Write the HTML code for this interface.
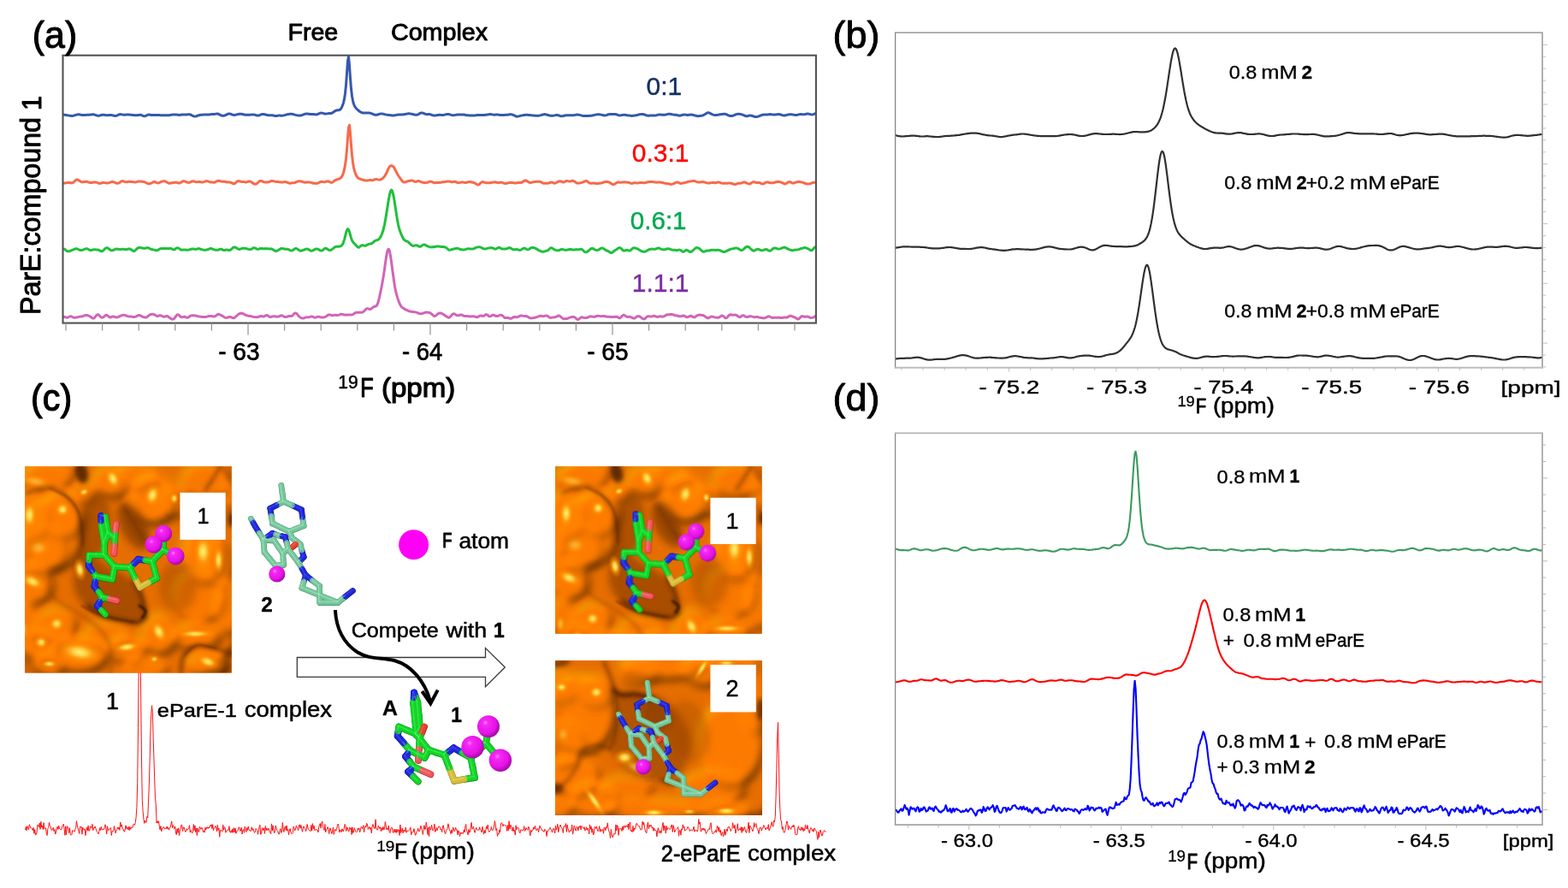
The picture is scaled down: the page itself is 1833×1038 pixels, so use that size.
<!DOCTYPE html>
<html lang="en"><head><meta charset="utf-8"><title>19F NMR figure</title>
<style>
html,body{margin:0;padding:0;background:#fff;}
body{width:1833px;height:1038px;overflow:hidden;font-family:"Liberation Sans",Arial,sans-serif;}
svg{display:block;position:absolute;left:0;top:0;}
</style></head><body>
<svg width="1833" height="1038" viewBox="0 0 1833 1038">
<rect x="0" y="0" width="1833" height="1038" fill="#ffffff"/>
<g id="panel-a">
<polyline points="73.5,133.9 74.5,134.0 75.5,134.2 76.5,134.4 77.5,134.5 78.5,134.7 79.5,134.9 80.5,135.1 81.5,135.2 82.5,135.3 83.5,135.4 84.5,135.4 85.5,135.3 86.5,135.1 87.5,134.7 88.5,134.4 89.5,134.1 90.5,133.9 91.5,133.8 92.5,133.8 93.5,134.0 94.5,134.2 95.5,134.4 96.5,134.5 97.5,134.6 98.5,134.6 99.5,134.5 100.5,134.4 101.5,134.2 102.5,134.2 103.5,134.2 104.5,134.2 105.5,134.1 106.5,134.0 107.5,133.9 108.5,133.8 109.5,133.8 110.5,134.1 111.5,134.4 112.5,134.8 113.5,135.1 114.5,135.3 115.5,135.3 116.5,135.1 117.5,134.8 118.5,134.5 119.5,134.3 120.5,134.2 121.5,134.3 122.5,134.4 123.5,134.5 124.5,134.7 125.5,134.7 126.5,134.7 127.5,134.6 128.5,134.6 129.5,134.5 130.5,134.6 131.5,134.8 132.5,135.1 133.5,135.3 134.5,135.5 135.5,135.4 136.5,135.1 137.5,134.7 138.5,134.2 139.5,133.8 140.5,133.6 141.5,133.7 142.5,133.9 143.5,134.1 144.5,134.2 145.5,134.3 146.5,134.2 147.5,134.1 148.5,134.0 149.5,134.0 150.5,134.0 151.5,134.1 152.5,134.2 153.5,134.3 154.5,134.4 155.5,134.5 156.5,134.6 157.5,134.7 158.5,134.8 159.5,134.8 160.5,134.7 161.5,134.5 162.5,134.4 163.5,134.3 164.5,134.3 165.5,134.6 166.5,135.1 167.5,135.5 168.5,135.8 169.5,135.7 170.5,135.3 171.5,134.8 172.5,134.4 173.5,134.1 174.5,134.1 175.5,134.2 176.5,134.5 177.5,134.6 178.5,134.6 179.5,134.6 180.5,134.5 181.5,134.4 182.5,134.4 183.5,134.5 184.5,134.5 185.5,134.5 186.5,134.6 187.5,134.7 188.5,134.7 189.5,134.8 190.5,134.8 191.5,134.8 192.5,134.7 193.5,134.7 194.5,134.7 195.5,134.8 196.5,134.8 197.5,134.7 198.5,134.5 199.5,134.4 200.5,134.2 201.5,134.1 202.5,134.0 203.5,134.0 204.5,134.0 205.5,134.0 206.5,134.1 207.5,134.2 208.5,134.3 209.5,134.4 210.5,134.4 211.5,134.2 212.5,134.0 213.5,133.9 214.5,133.9 215.5,133.9 216.5,133.9 217.5,133.9 218.5,133.9 219.5,133.8 220.5,133.7 221.5,133.7 222.5,134.0 223.5,134.4 224.5,135.0 225.5,135.5 226.5,135.9 227.5,136.1 228.5,136.1 229.5,135.9 230.5,135.5 231.5,135.0 232.5,134.7 233.5,134.5 234.5,134.3 235.5,134.3 236.5,134.2 237.5,134.1 238.5,134.1 239.5,134.1 240.5,134.1 241.5,134.1 242.5,134.1 243.5,134.0 244.5,133.9 245.5,133.8 246.5,133.6 247.5,133.6 248.5,133.6 249.5,133.5 250.5,133.4 251.5,133.3 252.5,133.1 253.5,132.9 254.5,133.0 255.5,133.3 256.5,133.8 257.5,134.3 258.5,134.9 259.5,135.2 260.5,135.3 261.5,135.3 262.5,135.0 263.5,134.7 264.5,134.2 265.5,133.6 266.5,133.2 267.5,132.9 268.5,132.9 269.5,133.2 270.5,133.6 271.5,134.0 272.5,134.3 273.5,134.4 274.5,134.4 275.5,134.2 276.5,133.9 277.5,133.7 278.5,133.5 279.5,133.3 280.5,133.2 281.5,133.2 282.5,133.3 283.5,133.5 284.5,133.8 285.5,134.0 286.5,134.2 287.5,134.3 288.5,134.3 289.5,134.3 290.5,134.3 291.5,134.3 292.5,134.3 293.5,134.1 294.5,134.0 295.5,133.9 296.5,134.0 297.5,134.1 298.5,134.4 299.5,134.8 300.5,135.1 301.5,135.1 302.5,135.0 303.5,134.6 304.5,134.2 305.5,133.8 306.5,133.5 307.5,133.5 308.5,133.5 309.5,133.7 310.5,134.0 311.5,134.3 312.5,134.5 313.5,134.7 314.5,134.8 315.5,134.8 316.5,134.7 317.5,134.7 318.5,134.8 319.5,135.0 320.5,135.3 321.5,135.5 322.5,135.6 323.5,135.5 324.5,135.3 325.5,135.1 326.5,135.0 327.5,135.0 328.5,135.2 329.5,135.2 330.5,135.1 331.5,134.9 332.5,134.7 333.5,134.4 334.5,134.1 335.5,133.8 336.5,133.6 337.5,133.4 338.5,133.3 339.5,133.2 340.5,133.2 341.5,133.3 342.5,133.5 343.5,133.9 344.5,134.1 345.5,134.4 346.5,134.6 347.5,134.8 348.5,134.9 349.5,135.0 350.5,135.0 351.5,135.0 352.5,134.8 353.5,134.4 354.5,134.0 355.5,133.6 356.5,133.3 357.5,133.1 358.5,133.0 359.5,133.1 360.5,133.2 361.5,133.3 362.5,133.4 363.5,133.4 364.5,133.4 365.5,133.4 366.5,133.5 367.5,133.7 368.5,133.8 369.5,133.9 370.5,133.8 371.5,133.4 372.5,133.0 373.5,132.5 374.5,132.1 375.5,131.9 376.5,132.1 377.5,132.4 378.5,132.7 379.5,133.0 380.5,133.1 381.5,133.1 382.5,132.9 383.5,132.7 384.5,132.6 385.5,132.6 386.5,132.5 387.5,132.4 388.5,131.9 389.5,131.3 390.5,130.5 391.5,129.8 392.5,129.3 393.5,129.0 394.5,128.8 395.5,128.8 396.5,128.6 397.5,128.1 398.5,127.1 399.5,125.5 400.5,123.2 401.5,120.1 402.5,115.7 403.5,109.2 404.5,99.4 405.5,85.6 406.5,71.0 407.5,66.2 408.5,76.3 409.5,91.5 410.5,103.8 411.5,112.2 412.5,117.8 413.5,121.5 414.5,123.9 415.5,125.6 416.5,126.8 417.5,127.8 418.5,128.7 419.5,129.5 420.5,130.3 421.5,131.0 422.5,131.5 423.5,131.8 424.5,132.0 425.5,132.1 426.5,132.1 427.5,132.1 428.5,132.0 429.5,131.9 430.5,131.9 431.5,131.9 432.5,132.1 433.5,132.4 434.5,132.8 435.5,133.2 436.5,133.6 437.5,134.0 438.5,134.3 439.5,134.3 440.5,134.2 441.5,134.0 442.5,133.6 443.5,133.3 444.5,133.1 445.5,132.9 446.5,132.9 447.5,133.1 448.5,133.3 449.5,133.6 450.5,133.9 451.5,134.1 452.5,134.2 453.5,134.4 454.5,134.5 455.5,134.6 456.5,134.7 457.5,134.8 458.5,135.0 459.5,135.0 460.5,135.0 461.5,134.8 462.5,134.6 463.5,134.4 464.5,134.2 465.5,134.1 466.5,134.0 467.5,134.0 468.5,133.9 469.5,133.9 470.5,133.9 471.5,133.8 472.5,133.7 473.5,133.5 474.5,133.3 475.5,133.1 476.5,132.9 477.5,132.8 478.5,132.8 479.5,132.9 480.5,133.1 481.5,133.3 482.5,133.5 483.5,133.7 484.5,134.0 485.5,134.2 486.5,134.3 487.5,134.2 488.5,133.8 489.5,133.3 490.5,132.7 491.5,132.2 492.5,131.9 493.5,131.9 494.5,132.2 495.5,132.6 496.5,133.0 497.5,133.4 498.5,133.6 499.5,133.7 500.5,133.6 501.5,133.5 502.5,133.6 503.5,133.9 504.5,134.3 505.5,134.6 506.5,134.9 507.5,135.0 508.5,135.0 509.5,134.9 510.5,134.7 511.5,134.5 512.5,134.4 513.5,134.3 514.5,134.3 515.5,134.4 516.5,134.5 517.5,134.5 518.5,134.4 519.5,134.2 520.5,133.9 521.5,133.7 522.5,133.4 523.5,133.4 524.5,133.5 525.5,133.8 526.5,134.1 527.5,134.4 528.5,134.6 529.5,134.8 530.5,134.8 531.5,134.6 532.5,134.4 533.5,134.2 534.5,134.1 535.5,134.1 536.5,134.1 537.5,134.1 538.5,134.0 539.5,134.0 540.5,133.9 541.5,133.9 542.5,134.0 543.5,134.3 544.5,134.5 545.5,134.7 546.5,134.8 547.5,134.8 548.5,134.9 549.5,134.9 550.5,134.9 551.5,134.9 552.5,135.0 553.5,135.1 554.5,135.0 555.5,134.9 556.5,134.7 557.5,134.5 558.5,134.4 559.5,134.4 560.5,134.4 561.5,134.4 562.5,134.5 563.5,134.5 564.5,134.6 565.5,134.5 566.5,134.4 567.5,134.3 568.5,134.2 569.5,134.0 570.5,133.9 571.5,133.7 572.5,133.5 573.5,133.6 574.5,133.7 575.5,133.9 576.5,134.1 577.5,134.2 578.5,134.2 579.5,134.1 580.5,134.1 581.5,134.0 582.5,134.1 583.5,134.3 584.5,134.5 585.5,134.6 586.5,134.6 587.5,134.5 588.5,134.4 589.5,134.4 590.5,134.3 591.5,134.3 592.5,134.2 593.5,134.2 594.5,134.0 595.5,133.8 596.5,133.7 597.5,133.7 598.5,133.9 599.5,134.2 600.5,134.6 601.5,135.2 602.5,135.6 603.5,136.0 604.5,136.2 605.5,136.1 606.5,135.9 607.5,135.6 608.5,135.3 609.5,135.1 610.5,134.9 611.5,134.7 612.5,134.5 613.5,134.4 614.5,134.3 615.5,134.3 616.5,134.3 617.5,134.4 618.5,134.5 619.5,134.6 620.5,134.7 621.5,134.8 622.5,134.9 623.5,135.0 624.5,135.1 625.5,135.2 626.5,135.2 627.5,135.2 628.5,135.2 629.5,135.2 630.5,135.1 631.5,134.9 632.5,134.6 633.5,134.3 634.5,134.0 635.5,133.8 636.5,133.6 637.5,133.7 638.5,133.9 639.5,134.2 640.5,134.5 641.5,134.8 642.5,135.1 643.5,135.3 644.5,135.3 645.5,135.3 646.5,135.3 647.5,135.1 648.5,134.9 649.5,134.6 650.5,134.5 651.5,134.5 652.5,134.7 653.5,135.0 654.5,135.4 655.5,135.7 656.5,135.8 657.5,135.7 658.5,135.5 659.5,135.2 660.5,135.0 661.5,134.8 662.5,134.7 663.5,134.7 664.5,134.7 665.5,134.7 666.5,134.8 667.5,134.8 668.5,134.8 669.5,134.8 670.5,134.7 671.5,134.6 672.5,134.4 673.5,134.2 674.5,134.1 675.5,134.1 676.5,134.2 677.5,134.4 678.5,134.6 679.5,134.9 680.5,135.2 681.5,135.4 682.5,135.5 683.5,135.5 684.5,135.6 685.5,135.6 686.5,135.6 687.5,135.5 688.5,135.5 689.5,135.3 690.5,135.2 691.5,135.2 692.5,135.0 693.5,134.8 694.5,134.6 695.5,134.3 696.5,134.1 697.5,133.9 698.5,133.7 699.5,133.7 700.5,133.7 701.5,133.9 702.5,134.1 703.5,134.3 704.5,134.5 705.5,134.8 706.5,134.9 707.5,134.9 708.5,134.7 709.5,134.4 710.5,134.0 711.5,133.7 712.5,133.5 713.5,133.4 714.5,133.4 715.5,133.4 716.5,133.4 717.5,133.4 718.5,133.4 719.5,133.5 720.5,133.8 721.5,134.1 722.5,134.5 723.5,134.8 724.5,134.9 725.5,134.8 726.5,134.6 727.5,134.4 728.5,134.3 729.5,134.2 730.5,134.3 731.5,134.5 732.5,134.6 733.5,134.8 734.5,134.9 735.5,135.0 736.5,135.1 737.5,135.3 738.5,135.4 739.5,135.3 740.5,135.3 741.5,135.1 742.5,135.0 743.5,134.8 744.5,134.6 745.5,134.3 746.5,134.1 747.5,133.8 748.5,133.6 749.5,133.4 750.5,133.4 751.5,133.5 752.5,133.7 753.5,134.0 754.5,134.4 755.5,134.8 756.5,135.1 757.5,135.3 758.5,135.2 759.5,135.1 760.5,135.1 761.5,135.0 762.5,135.0 763.5,135.0 764.5,135.0 765.5,135.0 766.5,134.9 767.5,134.7 768.5,134.4 769.5,134.1 770.5,134.1 771.5,134.1 772.5,134.1 773.5,134.2 774.5,134.3 775.5,134.3 776.5,134.3 777.5,134.2 778.5,133.9 779.5,133.7 780.5,133.4 781.5,133.2 782.5,133.2 783.5,133.3 784.5,133.5 785.5,133.7 786.5,133.9 787.5,134.1 788.5,134.2 789.5,134.3 790.5,134.3 791.5,134.6 792.5,134.8 793.5,135.1 794.5,135.2 795.5,135.1 796.5,134.8 797.5,134.5 798.5,134.2 799.5,134.1 800.5,134.1 801.5,134.2 802.5,134.3 803.5,134.4 804.5,134.4 805.5,134.3 806.5,134.2 807.5,134.1 808.5,134.1 809.5,134.2 810.5,134.5 811.5,134.8 812.5,135.0 813.5,135.3 814.5,135.5 815.5,135.7 816.5,135.7 817.5,135.6 818.5,135.5 819.5,135.3 820.5,135.2 821.5,134.9 822.5,134.5 823.5,134.0 824.5,133.3 825.5,132.7 826.5,132.1 827.5,131.8 828.5,131.8 829.5,132.1 830.5,132.6 831.5,133.2 832.5,133.7 833.5,134.1 834.5,134.4 835.5,134.6 836.5,134.6 837.5,134.5 838.5,134.4 839.5,134.2 840.5,134.0 841.5,133.8 842.5,133.7 843.5,133.5 844.5,133.4 845.5,133.3 846.5,133.3 847.5,133.3 848.5,133.5 849.5,133.9 850.5,134.4 851.5,134.8 852.5,135.2 853.5,135.5 854.5,135.6 855.5,135.5 856.5,135.3 857.5,135.0 858.5,134.5 859.5,134.1 860.5,133.7 861.5,133.4 862.5,133.2 863.5,133.2 864.5,133.3 865.5,133.4 866.5,133.6 867.5,133.9 868.5,134.3 869.5,134.7 870.5,135.2 871.5,135.5 872.5,135.7 873.5,135.7 874.5,135.5 875.5,135.2 876.5,135.1 877.5,135.1 878.5,135.2 879.5,135.5 880.5,135.8 881.5,136.2 882.5,136.5 883.5,136.6 884.5,136.6 885.5,136.4 886.5,136.1 887.5,135.7 888.5,135.3 889.5,134.9 890.5,134.5 891.5,134.3 892.5,134.1 893.5,134.0 894.5,133.9 895.5,133.9 896.5,133.9 897.5,133.9 898.5,133.8 899.5,133.7 900.5,133.6 901.5,133.7 902.5,133.9 903.5,134.1 904.5,134.1 905.5,134.1 906.5,134.0 907.5,133.9 908.5,133.7 909.5,133.5 910.5,133.5 911.5,133.7 912.5,134.0 913.5,134.3 914.5,134.6 915.5,134.9 916.5,135.0 917.5,135.0 918.5,134.7 919.5,134.4 920.5,134.2 921.5,133.9 922.5,133.8 923.5,133.7 924.5,133.7 925.5,133.8 926.5,133.9 927.5,134.1 928.5,134.3 929.5,134.4 930.5,134.5 931.5,134.4 932.5,134.2 933.5,133.9 934.5,133.7 935.5,133.6 936.5,133.6 937.5,133.7 938.5,133.8 939.5,133.8 940.5,133.7 941.5,133.5 942.5,133.2 943.5,133.0 944.5,133.0 945.5,133.2 946.5,133.4 947.5,133.7 948.5,133.9 949.5,133.9 950.5,133.7 951.5,133.4 952.5,133.0 953.5,132.6" fill="none" stroke="#3558AF" stroke-width="3" stroke-linejoin="round" stroke-linecap="butt"/>
<polyline points="73.5,214.3 74.5,214.2 75.5,214.1 76.5,214.0 77.5,213.8 78.5,213.6 79.5,213.5 80.5,213.4 81.5,213.5 82.5,213.7 83.5,213.9 84.5,213.8 85.5,213.4 86.5,212.5 87.5,211.5 88.5,210.6 89.5,210.0 90.5,209.9 91.5,210.3 92.5,211.1 93.5,211.8 94.5,212.4 95.5,212.8 96.5,212.8 97.5,212.7 98.5,212.5 99.5,212.4 100.5,212.3 101.5,212.3 102.5,212.6 103.5,213.0 104.5,213.3 105.5,213.5 106.5,213.6 107.5,213.6 108.5,213.3 109.5,213.1 110.5,213.0 111.5,213.0 112.5,213.1 113.5,213.4 114.5,213.8 115.5,214.3 116.5,214.4 117.5,214.3 118.5,214.0 119.5,213.6 120.5,213.4 121.5,213.4 122.5,213.6 123.5,213.8 124.5,214.0 125.5,214.0 126.5,213.9 127.5,213.6 128.5,213.3 129.5,212.9 130.5,212.6 131.5,212.5 132.5,212.7 133.5,213.0 134.5,213.4 135.5,213.9 136.5,214.2 137.5,214.2 138.5,214.0 139.5,213.6 140.5,213.0 141.5,212.2 142.5,211.7 143.5,211.6 144.5,212.0 145.5,212.4 146.5,212.7 147.5,212.8 148.5,212.7 149.5,212.5 150.5,212.3 151.5,212.3 152.5,212.4 153.5,212.5 154.5,212.6 155.5,212.7 156.5,212.9 157.5,212.9 158.5,212.9 159.5,212.7 160.5,212.4 161.5,212.1 162.5,212.0 163.5,211.9 164.5,212.1 165.5,212.2 166.5,212.3 167.5,212.4 168.5,212.6 169.5,213.0 170.5,213.5 171.5,214.0 172.5,214.5 173.5,214.8 174.5,214.8 175.5,214.6 176.5,214.2 177.5,213.8 178.5,213.2 179.5,212.7 180.5,212.5 181.5,212.8 182.5,213.3 183.5,213.7 184.5,213.9 185.5,213.8 186.5,213.5 187.5,212.9 188.5,212.4 189.5,212.1 190.5,211.9 191.5,211.7 192.5,211.8 193.5,212.1 194.5,212.7 195.5,213.3 196.5,213.9 197.5,214.2 198.5,214.2 199.5,214.0 200.5,213.8 201.5,213.7 202.5,213.5 203.5,213.4 204.5,213.3 205.5,213.2 206.5,213.3 207.5,213.6 208.5,214.0 209.5,214.1 210.5,213.8 211.5,213.2 212.5,212.6 213.5,212.0 214.5,211.8 215.5,211.8 216.5,212.2 217.5,212.6 218.5,213.0 219.5,213.3 220.5,213.4 221.5,213.2 222.5,212.9 223.5,212.4 224.5,211.9 225.5,211.8 226.5,211.9 227.5,212.2 228.5,212.6 229.5,212.8 230.5,212.8 231.5,212.6 232.5,212.4 233.5,212.5 234.5,212.7 235.5,212.9 236.5,213.0 237.5,212.9 238.5,212.6 239.5,212.2 240.5,211.8 241.5,211.7 242.5,211.8 243.5,212.1 244.5,212.4 245.5,212.7 246.5,212.9 247.5,213.0 248.5,213.1 249.5,213.2 250.5,213.2 251.5,213.0 252.5,212.4 253.5,211.8 254.5,211.4 255.5,211.3 256.5,211.4 257.5,211.8 258.5,212.1 259.5,212.2 260.5,212.2 261.5,212.2 262.5,212.3 263.5,212.5 264.5,212.8 265.5,213.0 266.5,213.0 267.5,213.0 268.5,213.0 269.5,213.2 270.5,213.7 271.5,214.2 272.5,214.7 273.5,214.9 274.5,214.5 275.5,213.6 276.5,212.7 277.5,211.9 278.5,211.6 279.5,211.7 280.5,212.0 281.5,212.3 282.5,212.4 283.5,212.4 284.5,212.4 285.5,212.6 286.5,212.9 287.5,213.0 288.5,212.8 289.5,212.5 290.5,212.1 291.5,212.0 292.5,212.2 293.5,212.6 294.5,213.3 295.5,214.0 296.5,214.7 297.5,215.2 298.5,215.3 299.5,215.0 300.5,214.4 301.5,213.5 302.5,212.5 303.5,211.7 304.5,211.4 305.5,211.5 306.5,211.9 307.5,212.5 308.5,212.9 309.5,213.1 310.5,213.1 311.5,213.0 312.5,213.0 313.5,212.8 314.5,212.6 315.5,212.3 316.5,211.8 317.5,211.5 318.5,211.4 319.5,211.6 320.5,211.9 321.5,212.2 322.5,212.4 323.5,212.5 324.5,212.5 325.5,212.6 326.5,212.8 327.5,213.0 328.5,213.1 329.5,213.0 330.5,212.9 331.5,212.8 332.5,212.6 333.5,212.6 334.5,212.7 335.5,213.1 336.5,213.5 337.5,213.9 338.5,214.2 339.5,214.2 340.5,214.0 341.5,213.8 342.5,213.7 343.5,213.7 344.5,213.5 345.5,213.2 346.5,212.7 347.5,212.3 348.5,211.9 349.5,211.8 350.5,211.8 351.5,212.0 352.5,212.2 353.5,212.5 354.5,212.8 355.5,213.0 356.5,213.2 357.5,213.2 358.5,213.1 359.5,213.0 360.5,212.9 361.5,212.9 362.5,213.1 363.5,213.4 364.5,213.7 365.5,214.0 366.5,214.3 367.5,214.3 368.5,214.3 369.5,214.4 370.5,214.3 371.5,214.1 372.5,213.7 373.5,213.2 374.5,212.7 375.5,212.4 376.5,212.4 377.5,212.6 378.5,212.8 379.5,212.8 380.5,212.6 381.5,212.2 382.5,211.9 383.5,211.8 384.5,212.1 385.5,212.7 386.5,213.3 387.5,213.4 388.5,213.1 389.5,212.4 390.5,211.6 391.5,210.9 392.5,210.4 393.5,210.0 394.5,209.6 395.5,209.3 396.5,208.9 397.5,208.5 398.5,207.8 399.5,206.5 400.5,204.7 401.5,202.0 402.5,198.2 403.5,192.9 404.5,185.4 405.5,174.8 406.5,161.3 407.5,148.9 408.5,146.2 409.5,155.8 410.5,169.7 411.5,181.5 412.5,189.9 413.5,195.8 414.5,199.9 415.5,202.9 416.5,205.1 417.5,206.8 418.5,207.9 419.5,208.6 420.5,209.0 421.5,209.4 422.5,209.8 423.5,210.0 424.5,210.2 425.5,210.5 426.5,210.8 427.5,211.0 428.5,211.0 429.5,211.0 430.5,210.9 431.5,210.7 432.5,210.6 433.5,210.6 434.5,210.7 435.5,210.7 436.5,210.4 437.5,210.0 438.5,209.7 439.5,209.6 440.5,209.6 441.5,209.9 442.5,210.1 443.5,210.3 444.5,210.1 445.5,209.7 446.5,209.0 447.5,208.2 448.5,207.3 449.5,206.1 450.5,204.7 451.5,202.8 452.5,200.6 453.5,198.4 454.5,196.3 455.5,194.7 456.5,193.9 457.5,193.6 458.5,193.9 459.5,194.6 460.5,195.8 461.5,197.4 462.5,199.4 463.5,201.4 464.5,203.3 465.5,205.0 466.5,206.5 467.5,207.9 468.5,209.3 469.5,210.7 470.5,211.9 471.5,212.8 472.5,213.1 473.5,213.0 474.5,212.6 475.5,212.2 476.5,211.8 477.5,211.6 478.5,211.5 479.5,211.3 480.5,211.0 481.5,210.9 482.5,211.1 483.5,211.6 484.5,212.1 485.5,212.4 486.5,212.4 487.5,212.0 488.5,211.6 489.5,211.5 490.5,211.9 491.5,212.3 492.5,212.7 493.5,213.1 494.5,213.3 495.5,213.5 496.5,213.6 497.5,213.7 498.5,213.6 499.5,213.4 500.5,213.0 501.5,212.6 502.5,212.3 503.5,212.2 504.5,212.4 505.5,212.8 506.5,213.3 507.5,213.6 508.5,213.7 509.5,213.6 510.5,213.5 511.5,213.4 512.5,213.4 513.5,213.4 514.5,213.4 515.5,213.2 516.5,213.0 517.5,212.8 518.5,212.7 519.5,212.7 520.5,212.5 521.5,212.3 522.5,212.1 523.5,211.9 524.5,211.9 525.5,212.1 526.5,212.4 527.5,212.7 528.5,212.8 529.5,212.6 530.5,212.4 531.5,212.3 532.5,212.5 533.5,212.9 534.5,213.4 535.5,213.7 536.5,213.6 537.5,213.4 538.5,213.2 539.5,213.1 540.5,213.1 541.5,213.1 542.5,213.3 543.5,213.4 544.5,213.4 545.5,213.3 546.5,213.0 547.5,212.8 548.5,212.6 549.5,212.6 550.5,212.7 551.5,213.0 552.5,213.3 553.5,213.5 554.5,213.8 555.5,214.2 556.5,214.9 557.5,215.7 558.5,216.1 559.5,216.0 560.5,215.3 561.5,214.2 562.5,213.3 563.5,212.7 564.5,212.6 565.5,212.9 566.5,213.3 567.5,213.6 568.5,213.8 569.5,213.8 570.5,213.8 571.5,213.8 572.5,213.7 573.5,213.6 574.5,213.5 575.5,213.3 576.5,213.1 577.5,212.9 578.5,212.8 579.5,213.0 580.5,213.3 581.5,213.6 582.5,213.7 583.5,213.5 584.5,213.3 585.5,213.2 586.5,213.3 587.5,213.5 588.5,214.0 589.5,214.4 590.5,214.6 591.5,214.5 592.5,214.2 593.5,213.9 594.5,213.7 595.5,213.6 596.5,213.5 597.5,213.6 598.5,213.6 599.5,213.6 600.5,213.8 601.5,214.0 602.5,214.0 603.5,213.9 604.5,213.7 605.5,213.5 606.5,213.5 607.5,213.5 608.5,213.5 609.5,213.4 610.5,213.0 611.5,212.3 612.5,211.6 613.5,211.1 614.5,211.0 615.5,211.3 616.5,211.9 617.5,212.7 618.5,213.2 619.5,213.4 620.5,213.4 621.5,213.3 622.5,213.1 623.5,212.8 624.5,212.6 625.5,212.5 626.5,212.4 627.5,212.3 628.5,212.3 629.5,212.3 630.5,212.2 631.5,212.4 632.5,212.9 633.5,213.4 634.5,213.9 635.5,214.3 636.5,214.3 637.5,214.3 638.5,214.3 639.5,214.3 640.5,214.3 641.5,214.0 642.5,213.6 643.5,213.2 644.5,213.1 645.5,213.2 646.5,213.6 647.5,214.0 648.5,214.2 649.5,213.9 650.5,213.4 651.5,212.8 652.5,212.3 653.5,211.9 654.5,211.8 655.5,212.0 656.5,212.3 657.5,212.8 658.5,213.0 659.5,212.7 660.5,212.3 661.5,211.8 662.5,211.5 663.5,211.6 664.5,211.9 665.5,212.1 666.5,212.1 667.5,211.8 668.5,211.4 669.5,211.3 670.5,211.6 671.5,212.1 672.5,212.8 673.5,213.5 674.5,214.0 675.5,214.2 676.5,214.1 677.5,213.9 678.5,213.8 679.5,213.6 680.5,213.3 681.5,212.9 682.5,212.4 683.5,212.0 684.5,211.6 685.5,211.6 686.5,212.0 687.5,212.8 688.5,213.5 689.5,214.1 690.5,214.3 691.5,214.3 692.5,214.2 693.5,214.1 694.5,214.0 695.5,214.3 696.5,214.5 697.5,214.6 698.5,214.5 699.5,214.4 700.5,214.3 701.5,214.2 702.5,214.0 703.5,213.8 704.5,213.5 705.5,213.2 706.5,212.8 707.5,212.6 708.5,212.5 709.5,212.6 710.5,212.7 711.5,212.8 712.5,213.2 713.5,213.9 714.5,214.6 715.5,215.2 716.5,215.6 717.5,215.6 718.5,215.1 719.5,214.5 720.5,213.8 721.5,213.3 722.5,213.0 723.5,213.0 724.5,213.2 725.5,213.3 726.5,213.2 727.5,213.1 728.5,212.9 729.5,212.8 730.5,212.9 731.5,213.0 732.5,213.1 733.5,213.2 734.5,213.3 735.5,213.5 736.5,213.9 737.5,214.2 738.5,214.4 739.5,214.3 740.5,214.0 741.5,213.8 742.5,213.7 743.5,213.8 744.5,214.0 745.5,214.1 746.5,213.9 747.5,213.6 748.5,213.5 749.5,213.4 750.5,213.4 751.5,213.6 752.5,213.8 753.5,213.8 754.5,213.6 755.5,213.3 756.5,213.0 757.5,212.7 758.5,212.5 759.5,212.4 760.5,212.4 761.5,212.5 762.5,212.5 763.5,212.6 764.5,212.9 765.5,213.0 766.5,213.1 767.5,213.2 768.5,213.1 769.5,212.9 770.5,212.9 771.5,213.0 772.5,213.2 773.5,213.3 774.5,213.5 775.5,213.8 776.5,214.1 777.5,214.3 778.5,214.5 779.5,214.6 780.5,214.7 781.5,214.8 782.5,215.0 783.5,215.3 784.5,215.4 785.5,215.3 786.5,215.1 787.5,214.7 788.5,214.2 789.5,213.6 790.5,213.2 791.5,213.0 792.5,213.2 793.5,213.6 794.5,214.1 795.5,214.4 796.5,214.4 797.5,214.2 798.5,213.9 799.5,213.7 800.5,213.5 801.5,213.3 802.5,213.1 803.5,212.8 804.5,212.4 805.5,212.2 806.5,212.0 807.5,211.9 808.5,211.8 809.5,211.6 810.5,211.5 811.5,211.5 812.5,211.8 813.5,212.2 814.5,212.6 815.5,212.9 816.5,213.0 817.5,212.9 818.5,212.9 819.5,212.8 820.5,212.7 821.5,212.6 822.5,212.7 823.5,212.9 824.5,213.2 825.5,213.6 826.5,213.9 827.5,214.1 828.5,214.1 829.5,214.0 830.5,213.8 831.5,213.6 832.5,213.4 833.5,213.4 834.5,213.5 835.5,213.7 836.5,213.7 837.5,213.5 838.5,213.2 839.5,213.0 840.5,213.1 841.5,213.3 842.5,213.8 843.5,214.1 844.5,214.3 845.5,214.3 846.5,214.3 847.5,214.2 848.5,214.2 849.5,214.3 850.5,214.3 851.5,214.1 852.5,214.0 853.5,214.0 854.5,214.2 855.5,214.5 856.5,214.8 857.5,215.2 858.5,215.5 859.5,215.5 860.5,215.2 861.5,214.8 862.5,214.4 863.5,214.3 864.5,214.3 865.5,214.3 866.5,214.1 867.5,213.7 868.5,213.3 869.5,213.0 870.5,213.0 871.5,213.3 872.5,213.8 873.5,214.3 874.5,214.7 875.5,214.9 876.5,214.9 877.5,214.5 878.5,213.9 879.5,213.1 880.5,212.7 881.5,212.7 882.5,213.0 883.5,213.4 884.5,213.6 885.5,213.5 886.5,213.5 887.5,213.5 888.5,213.7 889.5,214.3 890.5,214.8 891.5,215.1 892.5,214.9 893.5,214.4 894.5,213.7 895.5,213.2 896.5,212.9 897.5,213.0 898.5,213.3 899.5,213.6 900.5,213.7 901.5,213.8 902.5,213.8 903.5,213.7 904.5,213.6 905.5,213.3 906.5,213.0 907.5,212.7 908.5,212.4 909.5,212.3 910.5,212.4 911.5,212.6 912.5,212.9 913.5,213.2 914.5,213.6 915.5,214.2 916.5,214.7 917.5,215.0 918.5,214.8 919.5,214.2 920.5,213.5 921.5,212.9 922.5,212.6 923.5,212.7 924.5,213.2 925.5,213.7 926.5,214.0 927.5,214.0 928.5,213.9 929.5,213.5 930.5,213.0 931.5,212.8 932.5,212.7 933.5,212.6 934.5,212.6 935.5,212.7 936.5,212.9 937.5,213.1 938.5,213.3 939.5,213.7 940.5,214.2 941.5,214.5 942.5,214.8 943.5,215.0 944.5,215.1 945.5,215.1 946.5,214.9 947.5,214.5 948.5,214.2 949.5,213.8 950.5,213.5 951.5,213.3 952.5,213.3 953.5,213.4" fill="none" stroke="#F8694A" stroke-width="3" stroke-linejoin="round" stroke-linecap="butt"/>
<polyline points="73.5,291.0 74.5,290.9 75.5,291.2 76.5,292.0 77.5,292.9 78.5,293.6 79.5,293.8 80.5,293.7 81.5,293.5 82.5,293.1 83.5,292.7 84.5,292.3 85.5,291.9 86.5,291.5 87.5,291.1 88.5,290.8 89.5,290.7 90.5,291.0 91.5,291.5 92.5,292.0 93.5,292.3 94.5,292.4 95.5,292.4 96.5,292.2 97.5,291.9 98.5,291.4 99.5,291.1 100.5,290.8 101.5,290.8 102.5,291.0 103.5,291.5 104.5,292.1 105.5,292.5 106.5,292.6 107.5,292.3 108.5,292.0 109.5,291.8 110.5,291.8 111.5,291.8 112.5,291.9 113.5,291.9 114.5,292.0 115.5,292.3 116.5,292.8 117.5,293.4 118.5,293.8 119.5,293.6 120.5,293.0 121.5,292.1 122.5,291.0 123.5,290.1 124.5,289.7 125.5,289.8 126.5,290.4 127.5,291.0 128.5,291.8 129.5,292.5 130.5,292.8 131.5,292.7 132.5,292.4 133.5,291.9 134.5,291.5 135.5,291.1 136.5,291.0 137.5,291.2 138.5,291.3 139.5,291.4 140.5,291.5 141.5,291.4 142.5,291.2 143.5,291.2 144.5,291.3 145.5,291.4 146.5,291.5 147.5,291.5 148.5,291.5 149.5,291.3 150.5,290.9 151.5,290.8 152.5,291.2 153.5,291.9 154.5,292.6 155.5,293.2 156.5,293.5 157.5,293.2 158.5,292.3 159.5,291.3 160.5,290.4 161.5,289.8 162.5,289.5 163.5,289.5 164.5,289.6 165.5,289.8 166.5,290.1 167.5,290.2 168.5,290.2 169.5,290.2 170.5,290.0 171.5,289.7 172.5,289.6 173.5,289.8 174.5,290.2 175.5,290.8 176.5,291.2 177.5,291.5 178.5,291.8 179.5,291.9 180.5,292.1 181.5,292.4 182.5,292.8 183.5,292.8 184.5,292.4 185.5,291.8 186.5,291.1 187.5,290.7 188.5,290.6 189.5,290.6 190.5,290.6 191.5,290.6 192.5,290.5 193.5,290.5 194.5,290.6 195.5,290.6 196.5,290.6 197.5,290.4 198.5,290.3 199.5,290.3 200.5,290.7 201.5,291.3 202.5,291.8 203.5,291.8 204.5,291.3 205.5,290.5 206.5,290.0 207.5,289.7 208.5,289.9 209.5,290.6 210.5,291.4 211.5,292.0 212.5,292.2 213.5,292.0 214.5,291.9 215.5,291.9 216.5,291.9 217.5,292.1 218.5,292.2 219.5,292.2 220.5,292.1 221.5,291.9 222.5,291.5 223.5,291.2 224.5,290.9 225.5,290.9 226.5,291.0 227.5,291.2 228.5,291.4 229.5,291.3 230.5,291.0 231.5,290.7 232.5,290.6 233.5,290.8 234.5,291.2 235.5,291.5 236.5,291.9 237.5,292.1 238.5,292.2 239.5,292.2 240.5,292.2 241.5,292.1 242.5,291.8 243.5,291.5 244.5,291.0 245.5,290.6 246.5,290.5 247.5,290.7 248.5,291.1 249.5,291.5 250.5,291.8 251.5,292.0 252.5,292.2 253.5,292.3 254.5,292.2 255.5,291.9 256.5,291.5 257.5,291.2 258.5,291.2 259.5,291.5 260.5,292.1 261.5,292.5 262.5,292.6 263.5,292.2 264.5,291.9 265.5,291.9 266.5,292.3 267.5,292.6 268.5,292.6 269.5,292.1 270.5,291.3 271.5,290.3 272.5,289.4 273.5,288.9 274.5,289.0 275.5,289.3 276.5,289.8 277.5,290.5 278.5,291.1 279.5,291.4 280.5,291.3 281.5,290.9 282.5,290.6 283.5,290.3 284.5,290.1 285.5,290.2 286.5,290.3 287.5,290.5 288.5,290.8 289.5,291.1 290.5,291.4 291.5,291.6 292.5,291.6 293.5,291.4 294.5,290.9 295.5,290.2 296.5,289.7 297.5,289.7 298.5,290.1 299.5,290.7 300.5,291.2 301.5,291.4 302.5,291.1 303.5,290.7 304.5,290.4 305.5,290.4 306.5,290.5 307.5,290.7 308.5,290.8 309.5,290.7 310.5,290.6 311.5,290.7 312.5,290.8 313.5,290.8 314.5,290.9 315.5,290.9 316.5,290.8 317.5,291.0 318.5,291.4 319.5,292.0 320.5,292.7 321.5,293.2 322.5,293.5 323.5,293.3 324.5,292.9 325.5,292.3 326.5,291.7 327.5,291.1 328.5,290.6 329.5,290.5 330.5,290.6 331.5,290.8 332.5,291.0 333.5,291.3 334.5,291.3 335.5,291.2 336.5,291.3 337.5,291.7 338.5,292.3 339.5,292.8 340.5,292.9 341.5,292.8 342.5,292.3 343.5,291.6 344.5,290.9 345.5,290.5 346.5,290.5 347.5,291.0 348.5,291.7 349.5,292.5 350.5,293.0 351.5,293.2 352.5,293.0 353.5,292.6 354.5,292.2 355.5,292.0 356.5,291.6 357.5,291.2 358.5,291.0 359.5,291.1 360.5,291.5 361.5,292.1 362.5,292.8 363.5,293.2 364.5,293.2 365.5,292.9 366.5,292.4 367.5,291.8 368.5,291.2 369.5,290.9 370.5,291.0 371.5,291.2 372.5,291.6 373.5,292.2 374.5,292.9 375.5,293.1 376.5,292.9 377.5,292.3 378.5,291.4 379.5,290.5 380.5,290.1 381.5,290.4 382.5,291.1 383.5,291.8 384.5,292.4 385.5,292.6 386.5,292.5 387.5,292.0 388.5,291.2 389.5,290.4 390.5,289.5 391.5,288.8 392.5,288.4 393.5,288.2 394.5,288.2 395.5,288.2 396.5,288.0 397.5,287.9 398.5,287.6 399.5,286.8 400.5,285.5 401.5,283.3 402.5,280.1 403.5,276.3 404.5,272.2 405.5,269.0 406.5,267.6 407.5,268.4 408.5,271.0 409.5,274.6 410.5,278.2 411.5,281.0 412.5,282.8 413.5,284.0 414.5,284.9 415.5,285.9 416.5,287.0 417.5,288.2 418.5,289.1 419.5,289.2 420.5,288.5 421.5,287.6 422.5,286.9 423.5,286.6 424.5,286.8 425.5,287.1 426.5,287.3 427.5,287.2 428.5,286.6 429.5,286.0 430.5,285.6 431.5,285.3 432.5,285.1 433.5,284.8 434.5,284.6 435.5,284.0 436.5,283.1 437.5,282.2 438.5,281.5 439.5,281.0 440.5,280.7 441.5,280.4 442.5,279.9 443.5,279.0 444.5,277.6 445.5,275.7 446.5,273.5 447.5,270.6 448.5,267.0 449.5,262.5 450.5,257.2 451.5,251.2 452.5,244.9 453.5,238.5 454.5,232.5 455.5,227.2 456.5,223.5 457.5,222.0 458.5,223.0 459.5,226.4 460.5,231.5 461.5,237.6 462.5,244.3 463.5,250.9 464.5,256.9 465.5,262.3 466.5,266.6 467.5,269.9 468.5,272.5 469.5,274.9 470.5,277.1 471.5,278.9 472.5,280.3 473.5,281.2 474.5,281.7 475.5,282.0 476.5,282.3 477.5,283.1 478.5,284.1 479.5,285.1 480.5,286.1 481.5,286.8 482.5,287.3 483.5,287.4 484.5,287.1 485.5,286.8 486.5,286.7 487.5,286.8 488.5,287.3 489.5,287.8 490.5,288.3 491.5,288.3 492.5,287.7 493.5,286.8 494.5,286.2 495.5,286.0 496.5,286.1 497.5,286.5 498.5,287.2 499.5,287.7 500.5,288.1 501.5,288.4 502.5,288.7 503.5,288.9 504.5,288.8 505.5,288.7 506.5,288.6 507.5,288.7 508.5,288.5 509.5,288.2 510.5,288.0 511.5,287.9 512.5,288.0 513.5,288.1 514.5,288.3 515.5,288.5 516.5,288.6 517.5,288.6 518.5,288.5 519.5,288.7 520.5,289.0 521.5,289.5 522.5,290.2 523.5,291.2 524.5,292.0 525.5,292.3 526.5,292.2 527.5,291.8 528.5,291.5 529.5,291.3 530.5,291.0 531.5,290.8 532.5,290.6 533.5,290.3 534.5,290.2 535.5,290.4 536.5,290.8 537.5,291.2 538.5,291.5 539.5,291.7 540.5,291.8 541.5,291.9 542.5,291.9 543.5,291.7 544.5,291.4 545.5,291.1 546.5,290.8 547.5,290.7 548.5,290.8 549.5,290.9 550.5,291.0 551.5,291.1 552.5,291.1 553.5,290.9 554.5,290.4 555.5,289.9 556.5,289.4 557.5,289.1 558.5,288.9 559.5,288.7 560.5,288.7 561.5,288.9 562.5,289.3 563.5,289.8 564.5,290.3 565.5,290.8 566.5,290.9 567.5,290.9 568.5,290.7 569.5,290.4 570.5,290.1 571.5,289.9 572.5,289.8 573.5,289.7 574.5,289.6 575.5,289.8 576.5,290.2 577.5,290.7 578.5,291.0 579.5,291.0 580.5,290.6 581.5,290.0 582.5,289.5 583.5,289.3 584.5,289.7 585.5,290.3 586.5,290.8 587.5,291.0 588.5,291.1 589.5,291.1 590.5,291.0 591.5,290.9 592.5,290.6 593.5,290.3 594.5,289.8 595.5,289.6 596.5,289.8 597.5,290.3 598.5,291.0 599.5,291.6 600.5,291.8 601.5,291.8 602.5,291.6 603.5,291.5 604.5,291.6 605.5,291.9 606.5,292.2 607.5,292.4 608.5,292.3 609.5,291.7 610.5,291.1 611.5,290.5 612.5,290.1 613.5,290.2 614.5,290.7 615.5,291.3 616.5,291.7 617.5,291.7 618.5,291.3 619.5,290.5 620.5,289.8 621.5,289.4 622.5,289.4 623.5,289.5 624.5,289.7 625.5,290.1 626.5,290.5 627.5,291.1 628.5,291.8 629.5,292.3 630.5,292.8 631.5,293.3 632.5,293.8 633.5,294.1 634.5,294.3 635.5,294.2 636.5,293.9 637.5,293.6 638.5,293.3 639.5,293.1 640.5,292.7 641.5,291.8 642.5,290.7 643.5,289.9 644.5,289.7 645.5,290.1 646.5,290.8 647.5,291.4 648.5,292.0 649.5,292.3 650.5,292.6 651.5,292.8 652.5,292.8 653.5,292.6 654.5,292.1 655.5,291.6 656.5,291.4 657.5,291.5 658.5,291.8 659.5,292.0 660.5,292.2 661.5,292.3 662.5,292.2 663.5,292.1 664.5,291.8 665.5,291.5 666.5,291.4 667.5,291.4 668.5,291.7 669.5,292.0 670.5,292.1 671.5,292.0 672.5,291.8 673.5,291.6 674.5,291.7 675.5,291.8 676.5,291.7 677.5,291.5 678.5,291.2 679.5,291.2 680.5,291.6 681.5,292.5 682.5,293.6 683.5,294.4 684.5,294.7 685.5,294.7 686.5,294.3 687.5,293.6 688.5,292.7 689.5,291.7 690.5,291.0 691.5,290.4 692.5,290.3 693.5,290.6 694.5,291.3 695.5,291.8 696.5,292.2 697.5,292.4 698.5,292.4 699.5,292.1 700.5,291.5 701.5,290.9 702.5,290.2 703.5,289.9 704.5,290.0 705.5,290.5 706.5,291.3 707.5,292.0 708.5,292.7 709.5,293.0 710.5,293.3 711.5,293.8 712.5,294.6 713.5,295.3 714.5,295.5 715.5,295.2 716.5,294.6 717.5,293.7 718.5,292.9 719.5,292.3 720.5,291.7 721.5,291.0 722.5,290.3 723.5,289.7 724.5,289.6 725.5,289.9 726.5,290.8 727.5,291.9 728.5,292.8 729.5,293.2 730.5,292.9 731.5,292.5 732.5,292.2 733.5,292.3 734.5,292.7 735.5,293.0 736.5,292.9 737.5,292.2 738.5,291.3 739.5,290.3 740.5,289.8 741.5,289.8 742.5,290.0 743.5,290.2 744.5,290.6 745.5,291.0 746.5,291.5 747.5,292.2 748.5,292.8 749.5,293.3 750.5,293.8 751.5,294.1 752.5,294.3 753.5,294.3 754.5,294.0 755.5,293.5 756.5,292.9 757.5,292.3 758.5,291.8 759.5,291.5 760.5,291.3 761.5,291.1 762.5,291.1 763.5,291.2 764.5,291.3 765.5,291.3 766.5,291.0 767.5,290.6 768.5,290.2 769.5,290.0 770.5,290.1 771.5,290.5 772.5,291.0 773.5,291.4 774.5,291.6 775.5,291.7 776.5,291.7 777.5,291.5 778.5,291.2 779.5,291.0 780.5,290.7 781.5,290.7 782.5,290.9 783.5,291.3 784.5,291.8 785.5,292.1 786.5,292.2 787.5,292.2 788.5,292.2 789.5,292.3 790.5,292.6 791.5,292.7 792.5,292.4 793.5,292.1 794.5,292.1 795.5,292.4 796.5,293.0 797.5,293.8 798.5,294.3 799.5,294.2 800.5,293.4 801.5,292.6 802.5,292.2 803.5,292.5 804.5,293.1 805.5,293.9 806.5,294.4 807.5,294.4 808.5,294.0 809.5,293.2 810.5,292.4 811.5,291.5 812.5,290.5 813.5,289.8 814.5,289.5 815.5,289.7 816.5,290.0 817.5,290.6 818.5,291.4 819.5,292.3 820.5,293.3 821.5,294.0 822.5,294.2 823.5,294.1 824.5,293.7 825.5,293.3 826.5,293.0 827.5,292.9 828.5,293.0 829.5,292.9 830.5,292.5 831.5,292.2 832.5,292.2 833.5,292.3 834.5,292.3 835.5,292.3 836.5,292.4 837.5,292.3 838.5,292.2 839.5,292.2 840.5,292.4 841.5,292.7 842.5,293.1 843.5,293.5 844.5,294.0 845.5,294.4 846.5,294.4 847.5,294.3 848.5,293.9 849.5,293.4 850.5,292.9 851.5,292.4 852.5,291.9 853.5,291.5 854.5,291.1 855.5,290.9 856.5,290.7 857.5,290.5 858.5,290.2 859.5,290.0 860.5,290.0 861.5,290.1 862.5,290.4 863.5,290.9 864.5,291.6 865.5,292.1 866.5,292.5 867.5,292.5 868.5,292.0 869.5,291.1 870.5,290.1 871.5,289.1 872.5,288.5 873.5,288.2 874.5,288.4 875.5,288.9 876.5,289.7 877.5,290.7 878.5,291.7 879.5,292.5 880.5,293.1 881.5,293.2 882.5,292.7 883.5,292.0 884.5,291.5 885.5,291.2 886.5,291.3 887.5,291.6 888.5,292.2 889.5,292.6 890.5,292.8 891.5,292.6 892.5,292.4 893.5,292.0 894.5,291.6 895.5,291.4 896.5,291.6 897.5,292.2 898.5,292.9 899.5,293.2 900.5,293.1 901.5,292.5 902.5,291.6 903.5,290.7 904.5,290.2 905.5,289.9 906.5,290.0 907.5,290.3 908.5,290.7 909.5,291.0 910.5,291.1 911.5,290.9 912.5,290.6 913.5,290.2 914.5,289.8 915.5,289.4 916.5,289.1 917.5,289.2 918.5,289.6 919.5,290.1 920.5,290.6 921.5,291.1 922.5,291.6 923.5,292.0 924.5,292.3 925.5,292.6 926.5,292.8 927.5,292.6 928.5,292.2 929.5,292.1 930.5,292.1 931.5,292.1 932.5,291.9 933.5,291.6 934.5,291.3 935.5,290.9 936.5,290.5 937.5,290.3 938.5,290.1 939.5,289.8 940.5,289.5 941.5,289.6 942.5,289.9 943.5,290.3 944.5,290.7 945.5,291.3 946.5,291.9 947.5,292.5 948.5,292.8 949.5,292.3 950.5,291.2 951.5,290.0 952.5,289.0 953.5,288.6" fill="none" stroke="#1FC03C" stroke-width="3" stroke-linejoin="round" stroke-linecap="butt"/>
<polyline points="73.5,370.4 74.5,370.3 75.5,370.4 76.5,370.6 77.5,371.1 78.5,371.3 79.5,371.1 80.5,370.5 81.5,369.9 82.5,369.7 83.5,369.9 84.5,370.5 85.5,371.0 86.5,371.3 87.5,371.3 88.5,371.2 89.5,371.0 90.5,370.8 91.5,370.6 92.5,370.3 93.5,370.1 94.5,369.9 95.5,369.9 96.5,369.8 97.5,369.4 98.5,369.0 99.5,368.5 100.5,368.4 101.5,368.5 102.5,368.7 103.5,369.0 104.5,369.5 105.5,370.1 106.5,370.8 107.5,371.5 108.5,372.1 109.5,372.1 110.5,371.4 111.5,370.1 112.5,368.8 113.5,368.0 114.5,367.7 115.5,368.2 116.5,369.2 117.5,370.3 118.5,371.0 119.5,371.2 120.5,370.9 121.5,370.2 122.5,369.3 123.5,368.5 124.5,368.3 125.5,368.8 126.5,369.6 127.5,370.4 128.5,371.0 129.5,370.9 130.5,370.4 131.5,370.0 132.5,369.9 133.5,370.2 134.5,370.5 135.5,370.8 136.5,370.9 137.5,370.8 138.5,370.4 139.5,369.9 140.5,369.5 141.5,369.0 142.5,368.6 143.5,368.3 144.5,368.3 145.5,368.3 146.5,368.6 147.5,369.0 148.5,369.4 149.5,369.7 150.5,369.9 151.5,370.0 152.5,370.0 153.5,370.1 154.5,370.3 155.5,370.4 156.5,370.5 157.5,370.4 158.5,370.1 159.5,369.7 160.5,369.1 161.5,368.6 162.5,368.4 163.5,368.5 164.5,369.0 165.5,369.6 166.5,370.2 167.5,370.6 168.5,370.8 169.5,371.0 170.5,371.0 171.5,370.7 172.5,370.1 173.5,369.2 174.5,368.4 175.5,367.9 176.5,367.5 177.5,367.3 178.5,367.2 179.5,367.4 180.5,367.8 181.5,368.4 182.5,369.0 183.5,369.5 184.5,369.5 185.5,369.1 186.5,368.7 187.5,368.7 188.5,369.0 189.5,369.5 190.5,370.0 191.5,370.3 192.5,370.2 193.5,369.9 194.5,369.5 195.5,369.5 196.5,370.0 197.5,370.8 198.5,371.6 199.5,372.3 200.5,372.9 201.5,373.2 202.5,373.1 203.5,372.4 204.5,371.3 205.5,369.8 206.5,368.5 207.5,367.7 208.5,367.8 209.5,368.6 210.5,369.7 211.5,370.5 212.5,370.8 213.5,370.7 214.5,370.3 215.5,370.2 216.5,370.5 217.5,370.9 218.5,371.3 219.5,371.2 220.5,370.8 221.5,370.0 222.5,369.3 223.5,368.9 224.5,368.7 225.5,368.7 226.5,368.8 227.5,368.9 228.5,369.0 229.5,369.2 230.5,369.4 231.5,369.7 232.5,369.9 233.5,370.1 234.5,370.2 235.5,370.3 236.5,370.4 237.5,370.5 238.5,370.6 239.5,370.5 240.5,370.4 241.5,370.2 242.5,369.9 243.5,369.6 244.5,369.5 245.5,369.5 246.5,369.5 247.5,369.6 248.5,369.8 249.5,370.1 250.5,370.0 251.5,369.6 252.5,369.0 253.5,368.2 254.5,367.5 255.5,367.3 256.5,367.5 257.5,368.0 258.5,368.5 259.5,369.1 260.5,369.6 261.5,370.3 262.5,370.9 263.5,371.4 264.5,371.6 265.5,371.4 266.5,371.0 267.5,370.6 268.5,370.5 269.5,370.6 270.5,371.0 271.5,371.4 272.5,371.8 273.5,371.7 274.5,371.1 275.5,370.2 276.5,369.4 277.5,368.5 278.5,367.6 279.5,366.9 280.5,366.5 281.5,366.2 282.5,366.0 283.5,366.3 284.5,366.8 285.5,367.4 286.5,368.0 287.5,368.4 288.5,368.8 289.5,369.1 290.5,369.2 291.5,369.4 292.5,369.5 293.5,369.6 294.5,369.9 295.5,370.2 296.5,370.4 297.5,370.6 298.5,370.7 299.5,370.8 300.5,370.8 301.5,370.6 302.5,370.3 303.5,369.9 304.5,369.5 305.5,369.5 306.5,369.8 307.5,370.0 308.5,369.9 309.5,369.5 310.5,368.9 311.5,368.6 312.5,368.6 313.5,369.2 314.5,370.0 315.5,370.5 316.5,370.5 317.5,370.2 318.5,369.9 319.5,369.7 320.5,369.7 321.5,369.8 322.5,370.0 323.5,370.3 324.5,370.3 325.5,370.1 326.5,369.6 327.5,369.2 328.5,368.8 329.5,368.8 330.5,369.2 331.5,369.8 332.5,370.3 333.5,370.5 334.5,370.5 335.5,370.2 336.5,369.9 337.5,369.5 338.5,369.4 339.5,369.4 340.5,369.5 341.5,369.1 342.5,368.3 343.5,367.1 344.5,366.2 345.5,365.9 346.5,366.3 347.5,367.3 348.5,368.7 349.5,369.9 350.5,370.7 351.5,371.3 352.5,371.7 353.5,372.0 354.5,372.0 355.5,371.7 356.5,371.3 357.5,370.9 358.5,370.7 359.5,370.8 360.5,370.9 361.5,370.7 362.5,370.4 363.5,370.0 364.5,369.9 365.5,370.1 366.5,370.6 367.5,371.1 368.5,371.2 369.5,371.0 370.5,370.5 371.5,370.2 372.5,370.2 373.5,370.4 374.5,370.7 375.5,371.0 376.5,371.1 377.5,371.0 378.5,370.9 379.5,370.7 380.5,370.3 381.5,369.7 382.5,368.9 383.5,368.2 384.5,367.8 385.5,367.9 386.5,368.2 387.5,368.5 388.5,368.7 389.5,368.7 390.5,368.4 391.5,368.2 392.5,368.3 393.5,368.5 394.5,368.6 395.5,368.4 396.5,368.1 397.5,367.6 398.5,367.3 399.5,367.2 400.5,367.5 401.5,367.8 402.5,368.0 403.5,368.1 404.5,368.2 405.5,368.0 406.5,367.9 407.5,368.0 408.5,368.0 409.5,368.0 410.5,368.0 411.5,367.9 412.5,367.6 413.5,367.0 414.5,366.2 415.5,365.6 416.5,365.3 417.5,365.2 418.5,365.2 419.5,365.3 420.5,365.3 421.5,365.3 422.5,365.2 423.5,365.0 424.5,364.6 425.5,363.8 426.5,362.7 427.5,361.6 428.5,360.8 429.5,360.6 430.5,360.9 431.5,361.4 432.5,361.6 433.5,361.3 434.5,360.5 435.5,359.6 436.5,358.8 437.5,358.3 438.5,358.2 439.5,357.9 440.5,356.9 441.5,354.9 442.5,351.7 443.5,347.6 444.5,343.0 445.5,338.0 446.5,333.0 447.5,327.6 448.5,321.6 449.5,314.7 450.5,307.4 451.5,300.5 452.5,294.9 453.5,291.6 454.5,291.3 455.5,293.9 456.5,299.0 457.5,305.8 458.5,313.3 459.5,321.0 460.5,328.2 461.5,334.6 462.5,339.8 463.5,343.9 464.5,347.4 465.5,350.6 466.5,353.3 467.5,355.5 468.5,357.3 469.5,358.7 470.5,359.7 471.5,360.3 472.5,360.9 473.5,361.5 474.5,362.1 475.5,362.5 476.5,362.9 477.5,363.4 478.5,363.8 479.5,364.1 480.5,364.2 481.5,364.4 482.5,364.5 483.5,364.6 484.5,364.7 485.5,364.9 486.5,365.1 487.5,365.4 488.5,365.8 489.5,366.3 490.5,366.6 491.5,366.8 492.5,366.7 493.5,366.5 494.5,366.1 495.5,365.8 496.5,365.4 497.5,365.2 498.5,365.1 499.5,365.1 500.5,365.3 501.5,365.5 502.5,365.7 503.5,366.2 504.5,366.9 505.5,367.8 506.5,368.7 507.5,369.4 508.5,369.5 509.5,369.0 510.5,368.1 511.5,367.2 512.5,366.5 513.5,366.1 514.5,366.0 515.5,366.1 516.5,366.5 517.5,367.0 518.5,367.6 519.5,368.3 520.5,369.0 521.5,369.6 522.5,370.3 523.5,370.9 524.5,371.3 525.5,371.0 526.5,370.2 527.5,369.0 528.5,367.8 529.5,366.9 530.5,366.7 531.5,367.1 532.5,367.8 533.5,368.4 534.5,368.8 535.5,368.8 536.5,368.6 537.5,368.2 538.5,367.9 539.5,368.0 540.5,368.4 541.5,369.0 542.5,369.4 543.5,369.5 544.5,369.5 545.5,369.5 546.5,369.5 547.5,369.7 548.5,369.8 549.5,369.9 550.5,369.9 551.5,369.8 552.5,369.7 553.5,369.7 554.5,369.9 555.5,370.2 556.5,370.6 557.5,370.7 558.5,370.6 559.5,370.0 560.5,369.4 561.5,369.0 562.5,369.0 563.5,369.3 564.5,369.5 565.5,369.3 566.5,368.7 567.5,368.0 568.5,367.6 569.5,367.9 570.5,368.7 571.5,369.6 572.5,369.9 573.5,369.7 574.5,369.1 575.5,368.4 576.5,368.1 577.5,368.3 578.5,368.9 579.5,369.5 580.5,369.6 581.5,369.5 582.5,369.2 583.5,368.8 584.5,368.4 585.5,368.2 586.5,368.4 587.5,369.0 588.5,370.0 589.5,371.0 590.5,371.6 591.5,371.6 592.5,371.5 593.5,371.5 594.5,371.6 595.5,372.0 596.5,372.3 597.5,372.3 598.5,371.8 599.5,371.2 600.5,370.7 601.5,370.5 602.5,370.5 603.5,370.7 604.5,370.7 605.5,370.5 606.5,370.0 607.5,369.4 608.5,369.0 609.5,368.9 610.5,369.1 611.5,369.4 612.5,369.6 613.5,369.6 614.5,369.5 615.5,369.6 616.5,370.0 617.5,370.6 618.5,371.2 619.5,371.7 620.5,371.9 621.5,371.9 622.5,371.7 623.5,371.6 624.5,371.4 625.5,371.3 626.5,370.9 627.5,370.6 628.5,370.3 629.5,369.9 630.5,369.5 631.5,369.3 632.5,369.2 633.5,369.5 634.5,369.7 635.5,369.7 636.5,369.4 637.5,369.1 638.5,368.9 639.5,369.1 640.5,369.6 641.5,370.4 642.5,371.2 643.5,371.4 644.5,371.3 645.5,371.1 646.5,370.9 647.5,370.9 648.5,370.7 649.5,370.5 650.5,370.1 651.5,369.6 652.5,369.1 653.5,369.0 654.5,369.5 655.5,370.3 656.5,371.2 657.5,372.0 658.5,372.5 659.5,372.7 660.5,372.7 661.5,372.6 662.5,372.5 663.5,372.2 664.5,371.8 665.5,371.4 666.5,371.1 667.5,370.8 668.5,370.6 669.5,370.5 670.5,370.5 671.5,370.7 672.5,371.3 673.5,372.3 674.5,373.2 675.5,373.5 676.5,373.2 677.5,372.4 678.5,371.5 679.5,370.9 680.5,370.8 681.5,371.1 682.5,371.4 683.5,371.6 684.5,371.6 685.5,371.5 686.5,371.3 687.5,370.8 688.5,370.2 689.5,369.9 690.5,369.8 691.5,369.9 692.5,370.1 693.5,370.3 694.5,370.4 695.5,370.2 696.5,369.8 697.5,369.5 698.5,369.3 699.5,369.2 700.5,369.4 701.5,369.6 702.5,369.7 703.5,369.7 704.5,369.5 705.5,369.4 706.5,369.4 707.5,369.7 708.5,370.0 709.5,370.2 710.5,370.3 711.5,370.3 712.5,370.3 713.5,370.4 714.5,370.4 715.5,370.4 716.5,370.6 717.5,370.6 718.5,370.5 719.5,370.2 720.5,370.1 721.5,370.4 722.5,371.0 723.5,371.6 724.5,371.8 725.5,371.3 726.5,370.2 727.5,369.1 728.5,368.3 729.5,368.3 730.5,368.8 731.5,369.6 732.5,370.2 733.5,370.4 734.5,370.4 735.5,370.3 736.5,370.3 737.5,370.6 738.5,371.2 739.5,371.7 740.5,372.1 741.5,372.1 742.5,371.6 743.5,370.8 744.5,370.1 745.5,369.7 746.5,369.6 747.5,369.8 748.5,370.3 749.5,371.1 750.5,371.9 751.5,372.6 752.5,372.9 753.5,372.7 754.5,372.0 755.5,371.0 756.5,370.1 757.5,369.7 758.5,369.7 759.5,369.9 760.5,370.1 761.5,370.1 762.5,369.9 763.5,369.5 764.5,369.3 765.5,369.5 766.5,369.8 767.5,370.2 768.5,370.4 769.5,370.3 770.5,370.0 771.5,369.7 772.5,369.7 773.5,370.1 774.5,370.3 775.5,370.1 776.5,369.7 777.5,369.1 778.5,368.4 779.5,368.0 780.5,367.8 781.5,367.8 782.5,367.7 783.5,367.6 784.5,367.5 785.5,367.6 786.5,367.7 787.5,368.0 788.5,368.4 789.5,368.8 790.5,368.9 791.5,369.0 792.5,369.2 793.5,369.5 794.5,369.7 795.5,369.8 796.5,369.7 797.5,369.3 798.5,369.0 799.5,369.0 800.5,369.4 801.5,370.1 802.5,370.6 803.5,370.7 804.5,370.5 805.5,370.0 806.5,369.4 807.5,369.2 808.5,369.5 809.5,370.1 810.5,370.7 811.5,370.9 812.5,370.5 813.5,369.9 814.5,369.1 815.5,368.5 816.5,368.2 817.5,368.1 818.5,368.2 819.5,368.3 820.5,368.4 821.5,368.5 822.5,368.8 823.5,369.4 824.5,370.1 825.5,370.9 826.5,371.5 827.5,371.9 828.5,371.7 829.5,371.1 830.5,370.4 831.5,370.1 832.5,370.1 833.5,370.3 834.5,370.6 835.5,370.9 836.5,371.1 837.5,371.2 838.5,371.3 839.5,371.3 840.5,371.0 841.5,370.4 842.5,369.7 843.5,369.1 844.5,369.0 845.5,369.5 846.5,370.4 847.5,371.3 848.5,371.8 849.5,371.5 850.5,370.5 851.5,369.3 852.5,368.3 853.5,367.8 854.5,367.8 855.5,368.1 856.5,368.3 857.5,368.3 858.5,368.1 859.5,368.1 860.5,368.3 861.5,368.8 862.5,369.6 863.5,370.3 864.5,370.7 865.5,370.5 866.5,369.8 867.5,369.1 868.5,368.7 869.5,368.9 870.5,369.5 871.5,370.2 872.5,370.6 873.5,370.6 874.5,370.4 875.5,370.0 876.5,369.8 877.5,369.7 878.5,369.9 879.5,370.1 880.5,370.4 881.5,370.7 882.5,370.7 883.5,370.6 884.5,370.5 885.5,370.5 886.5,370.8 887.5,371.1 888.5,371.3 889.5,371.5 890.5,371.6 891.5,371.7 892.5,371.9 893.5,371.8 894.5,371.6 895.5,371.2 896.5,370.6 897.5,370.0 898.5,369.8 899.5,370.0 900.5,370.5 901.5,371.0 902.5,371.4 903.5,371.5 904.5,371.3 905.5,371.3 906.5,371.3 907.5,371.3 908.5,371.3 909.5,371.2 910.5,371.1 911.5,371.3 912.5,371.5 913.5,371.6 914.5,371.5 915.5,371.2 916.5,370.9 917.5,370.9 918.5,371.0 919.5,371.2 920.5,370.9 921.5,370.2 922.5,369.7 923.5,369.3 924.5,369.3 925.5,369.6 926.5,370.0 927.5,370.4 928.5,370.8 929.5,371.2 930.5,371.8 931.5,372.5 932.5,372.9 933.5,372.9 934.5,372.2 935.5,371.1 936.5,370.1 937.5,369.6 938.5,369.7 939.5,370.0 940.5,370.3 941.5,370.3 942.5,370.2 943.5,370.1 944.5,370.1 945.5,370.5 946.5,371.1 947.5,371.5 948.5,371.6 949.5,371.4 950.5,371.1 951.5,370.6 952.5,370.0 953.5,369.7" fill="none" stroke="#D264B7" stroke-width="3" stroke-linejoin="round" stroke-linecap="butt"/>
<rect x="73.5" y="64.7" width="880.4" height="312.9" fill="none" stroke="#525252" stroke-width="2.1"/>
<path d="M77.0 377.6 v8.8 M119.6 377.6 v8.8 M162.2 377.6 v8.8 M204.8 377.6 v8.8 M247.4 377.6 v8.8 M290.0 377.6 v14.0 M332.6 377.6 v8.8 M375.2 377.6 v8.8 M417.8 377.6 v8.8 M460.4 377.6 v8.8 M503.0 377.6 v14.0 M545.6 377.6 v8.8 M588.2 377.6 v8.8 M630.8 377.6 v8.8 M673.4 377.6 v8.8 M716.0 377.6 v14.0 M758.6 377.6 v8.8 M801.2 377.6 v8.8 M843.8 377.6 v8.8 M886.4 377.6 v8.8 M929.0 377.6 v8.8" stroke="#929292" stroke-width="1.2" fill="none"/>
<text font-family="'Liberation Sans', Arial, sans-serif" font-size="29.49" fill="#000" stroke="#000" stroke-width="0.66" stroke-linejoin="round" transform="translate(255.19 420.57) scale(0.9505 1)" xml:space="preserve">- 63</text>
<text font-family="'Liberation Sans', Arial, sans-serif" font-size="29.41" fill="#000" stroke="#000" stroke-width="0.72" stroke-linejoin="round" transform="translate(469.94 420.55) scale(0.9321 1)" xml:space="preserve">- 64</text>
<text font-family="'Liberation Sans', Arial, sans-serif" font-size="29.49" fill="#000" stroke="#000" stroke-width="0.66" stroke-linejoin="round" transform="translate(686.19 420.57) scale(0.9505 1)" xml:space="preserve">- 65</text>
<text font-family="'Liberation Sans', Arial, sans-serif" font-size="22.15" fill="#000" stroke="#000" stroke-width="0.47" stroke-linejoin="round" transform="translate(395.24 453.94) scale(0.9513 1)" xml:space="preserve">19</text>
<text font-family="'Liberation Sans', Arial, sans-serif" font-size="31.02" fill="#000" stroke="#000" stroke-width="1.20" stroke-linejoin="round" transform="translate(421.17 464.10) scale(0.8112 1)" xml:space="preserve">F</text>
<text font-family="'Liberation Sans', Arial, sans-serif" font-size="32.23" fill="#000" stroke="#000" stroke-width="1.20" stroke-linejoin="round" transform="translate(445.93 464.23) scale(1.0250 1)" xml:space="preserve">(ppm)</text>
<text font-family="'Liberation Sans', Arial, sans-serif" font-size="28.00" fill="#000" stroke="#000" stroke-width="0.90" stroke-linejoin="round" transform="translate(336.47 47.37) scale(1.0211 1)" xml:space="preserve">Free</text>
<text font-family="'Liberation Sans', Arial, sans-serif" font-size="27.77" fill="#000" stroke="#000" stroke-width="0.90" stroke-linejoin="round" transform="translate(456.93 47.22) scale(1.0338 1)" xml:space="preserve">Complex</text>
<text font-family="'Liberation Sans', Arial, sans-serif" font-size="32.71" fill="#000" stroke="#000" stroke-width="0.95" stroke-linejoin="round" transform="translate(47.45 368.11) rotate(-90) scale(0.9857 1)" xml:space="preserve">ParE:compound</text>
<text font-family="'Liberation Sans', Arial, sans-serif" font-size="31.75" fill="#000" stroke="#000" stroke-width="1.00" stroke-linejoin="round" transform="translate(47.50 128.98) rotate(-90) scale(0.9695 1)" xml:space="preserve">1</text>
<text font-family="'Liberation Sans', Arial, sans-serif" font-size="29.72" fill="#12305F" stroke="#12305F" stroke-width="0.40" stroke-linejoin="round" transform="translate(755.60 111.00) scale(1.0094 1)" xml:space="preserve">0:1</text>
<text font-family="'Liberation Sans', Arial, sans-serif" font-size="29.86" fill="#FF0000" stroke="#FF0000" stroke-width="0.40" stroke-linejoin="round" transform="translate(738.80 189.30) scale(1.0047 1)" xml:space="preserve">0.3:1</text>
<text font-family="'Liberation Sans', Arial, sans-serif" font-size="30.06" fill="#00A94F" stroke="#00A94F" stroke-width="0.46" stroke-linejoin="round" transform="translate(736.84 268.27) scale(0.9831 1)" xml:space="preserve">0.6:1</text>
<text font-family="'Liberation Sans', Arial, sans-serif" font-size="30.25" fill="#7A2DA6" stroke="#7A2DA6" stroke-width="0.42" stroke-linejoin="round" transform="translate(738.71 341.19) scale(0.9928 1)" xml:space="preserve">1.1:1</text>
<text font-family="'Liberation Sans', Arial, sans-serif" font-size="44.79" fill="#000" stroke="#000" stroke-width="1.10" stroke-linejoin="round" transform="translate(37.85 56.04) scale(0.9570 1)" xml:space="preserve">(a)</text>
</g>
<g id="panel-b">
<polyline points="1046.6,158.0 1047.6,158.3 1048.6,158.6 1049.6,158.8 1050.6,159.0 1051.6,159.2 1052.6,159.3 1053.6,159.4 1054.6,159.5 1055.6,159.5 1056.6,159.4 1057.6,159.3 1058.6,159.2 1059.6,159.2 1060.6,159.1 1061.6,159.0 1062.6,158.9 1063.6,158.8 1064.6,158.7 1065.6,158.6 1066.6,158.6 1067.6,158.6 1068.6,158.6 1069.6,158.7 1070.6,158.8 1071.6,158.9 1072.6,159.0 1073.6,159.1 1074.6,159.3 1075.6,159.4 1076.6,159.5 1077.6,159.5 1078.6,159.5 1079.6,159.5 1080.6,159.4 1081.6,159.3 1082.6,159.2 1083.6,159.2 1084.6,159.2 1085.6,159.3 1086.6,159.4 1087.6,159.5 1088.6,159.6 1089.6,159.7 1090.6,159.8 1091.6,159.8 1092.6,159.9 1093.6,160.0 1094.6,160.0 1095.6,160.1 1096.6,160.0 1097.6,160.0 1098.6,159.9 1099.6,159.8 1100.6,159.6 1101.6,159.5 1102.6,159.4 1103.6,159.2 1104.6,159.1 1105.6,159.0 1106.6,158.9 1107.6,158.9 1108.6,158.8 1109.6,158.8 1110.6,158.8 1111.6,158.7 1112.6,158.7 1113.6,158.6 1114.6,158.5 1115.6,158.4 1116.6,158.3 1117.6,158.2 1118.6,158.1 1119.6,158.0 1120.6,157.9 1121.6,157.8 1122.6,157.6 1123.6,157.4 1124.6,157.2 1125.6,157.0 1126.6,156.9 1127.6,156.7 1128.6,156.5 1129.6,156.4 1130.6,156.2 1131.6,156.1 1132.6,155.9 1133.6,155.8 1134.6,155.7 1135.6,155.6 1136.6,155.6 1137.6,155.6 1138.6,155.6 1139.6,155.6 1140.6,155.6 1141.6,155.7 1142.6,155.8 1143.6,156.0 1144.6,156.1 1145.6,156.4 1146.6,156.6 1147.6,156.9 1148.6,157.1 1149.6,157.3 1150.6,157.5 1151.6,157.7 1152.6,157.9 1153.6,158.1 1154.6,158.2 1155.6,158.4 1156.6,158.4 1157.6,158.5 1158.6,158.5 1159.6,158.6 1160.6,158.7 1161.6,158.8 1162.6,159.0 1163.6,159.2 1164.6,159.3 1165.6,159.5 1166.6,159.7 1167.6,159.9 1168.6,160.0 1169.6,160.1 1170.6,160.1 1171.6,160.0 1172.6,159.9 1173.6,159.7 1174.6,159.5 1175.6,159.3 1176.6,159.1 1177.6,158.9 1178.6,158.7 1179.6,158.5 1180.6,158.3 1181.6,158.1 1182.6,158.0 1183.6,157.8 1184.6,157.7 1185.6,157.6 1186.6,157.5 1187.6,157.4 1188.6,157.3 1189.6,157.2 1190.6,157.0 1191.6,156.9 1192.6,156.7 1193.6,156.6 1194.6,156.5 1195.6,156.5 1196.6,156.5 1197.6,156.6 1198.6,156.7 1199.6,156.8 1200.6,157.0 1201.6,157.1 1202.6,157.3 1203.6,157.5 1204.6,157.7 1205.6,157.8 1206.6,158.0 1207.6,158.2 1208.6,158.3 1209.6,158.5 1210.6,158.6 1211.6,158.7 1212.6,158.8 1213.6,158.9 1214.6,158.9 1215.6,159.0 1216.6,159.1 1217.6,159.1 1218.6,159.1 1219.6,159.1 1220.6,159.1 1221.6,159.1 1222.6,159.1 1223.6,159.2 1224.6,159.2 1225.6,159.2 1226.6,159.2 1227.6,159.2 1228.6,159.2 1229.6,159.2 1230.6,159.1 1231.6,159.1 1232.6,159.1 1233.6,159.1 1234.6,159.1 1235.6,159.0 1236.6,158.9 1237.6,158.7 1238.6,158.6 1239.6,158.4 1240.6,158.2 1241.6,158.0 1242.6,157.9 1243.6,157.7 1244.6,157.5 1245.6,157.4 1246.6,157.3 1247.6,157.2 1248.6,157.1 1249.6,157.1 1250.6,157.0 1251.6,157.0 1252.6,157.1 1253.6,157.1 1254.6,157.3 1255.6,157.5 1256.6,157.7 1257.6,157.9 1258.6,158.2 1259.6,158.4 1260.6,158.6 1261.6,158.8 1262.6,158.9 1263.6,159.0 1264.6,159.0 1265.6,159.0 1266.6,158.9 1267.6,158.8 1268.6,158.7 1269.6,158.5 1270.6,158.2 1271.6,157.9 1272.6,157.7 1273.6,157.4 1274.6,157.1 1275.6,156.8 1276.6,156.6 1277.6,156.4 1278.6,156.3 1279.6,156.2 1280.6,156.2 1281.6,156.2 1282.6,156.2 1283.6,156.3 1284.6,156.4 1285.6,156.5 1286.6,156.6 1287.6,156.7 1288.6,156.8 1289.6,156.9 1290.6,157.0 1291.6,157.0 1292.6,157.0 1293.6,157.0 1294.6,157.0 1295.6,157.0 1296.6,156.9 1297.6,156.9 1298.6,156.8 1299.6,156.8 1300.6,156.7 1301.6,156.7 1302.6,156.7 1303.6,156.8 1304.6,156.8 1305.6,156.9 1306.6,157.0 1307.6,157.0 1308.6,157.1 1309.6,157.1 1310.6,157.0 1311.6,156.9 1312.6,156.8 1313.6,156.7 1314.6,156.5 1315.6,156.3 1316.6,156.0 1317.6,155.8 1318.6,155.5 1319.6,155.3 1320.6,155.0 1321.6,154.8 1322.6,154.6 1323.6,154.4 1324.6,154.2 1325.6,154.1 1326.6,154.1 1327.6,154.1 1328.6,154.1 1329.6,154.1 1330.6,154.2 1331.6,154.3 1332.6,154.3 1333.6,154.4 1334.6,154.4 1335.6,154.4 1336.6,154.4 1337.6,154.4 1338.6,154.3 1339.6,154.2 1340.6,154.1 1341.6,153.9 1342.6,153.7 1343.6,153.3 1344.6,152.9 1345.6,152.5 1346.6,151.9 1347.6,151.2 1348.6,150.4 1349.6,149.5 1350.6,148.5 1351.6,147.3 1352.6,146.0 1353.6,144.4 1354.6,142.5 1355.6,140.3 1356.6,137.8 1357.6,134.8 1358.6,131.3 1359.6,127.4 1360.6,122.8 1361.6,117.8 1362.6,112.2 1363.6,106.2 1364.6,99.8 1365.6,93.1 1366.6,86.4 1367.6,79.8 1368.6,73.5 1369.6,67.9 1370.6,63.2 1371.6,59.5 1372.6,57.3 1373.6,56.4 1374.6,57.0 1375.6,59.0 1376.6,62.3 1377.6,66.7 1378.6,71.9 1379.6,77.7 1380.6,83.8 1381.6,90.1 1382.6,96.4 1383.6,102.4 1384.6,108.1 1385.6,113.3 1386.6,118.0 1387.6,122.2 1388.6,125.8 1389.6,129.0 1390.6,131.7 1391.6,134.0 1392.6,136.0 1393.6,137.7 1394.6,139.2 1395.6,140.5 1396.6,141.7 1397.6,142.8 1398.6,143.7 1399.6,144.6 1400.6,145.3 1401.6,146.1 1402.6,146.8 1403.6,147.5 1404.6,148.1 1405.6,148.7 1406.6,149.3 1407.6,149.9 1408.6,150.4 1409.6,151.0 1410.6,151.5 1411.6,152.0 1412.6,152.5 1413.6,153.0 1414.6,153.4 1415.6,153.8 1416.6,154.2 1417.6,154.5 1418.6,154.9 1419.6,155.1 1420.6,155.3 1421.6,155.4 1422.6,155.5 1423.6,155.6 1424.6,155.6 1425.6,155.6 1426.6,155.6 1427.6,155.6 1428.6,155.7 1429.6,155.8 1430.6,155.9 1431.6,156.1 1432.6,156.3 1433.6,156.4 1434.6,156.6 1435.6,156.7 1436.6,156.7 1437.6,156.7 1438.6,156.6 1439.6,156.5 1440.6,156.3 1441.6,156.1 1442.6,155.9 1443.6,155.7 1444.6,155.5 1445.6,155.3 1446.6,155.2 1447.6,155.1 1448.6,155.1 1449.6,155.1 1450.6,155.2 1451.6,155.4 1452.6,155.6 1453.6,155.8 1454.6,156.0 1455.6,156.2 1456.6,156.4 1457.6,156.6 1458.6,156.8 1459.6,156.9 1460.6,157.0 1461.6,157.0 1462.6,157.0 1463.6,157.0 1464.6,157.0 1465.6,156.9 1466.6,156.8 1467.6,156.7 1468.6,156.6 1469.6,156.5 1470.6,156.4 1471.6,156.4 1472.6,156.4 1473.6,156.5 1474.6,156.6 1475.6,156.8 1476.6,157.0 1477.6,157.3 1478.6,157.6 1479.6,157.9 1480.6,158.1 1481.6,158.4 1482.6,158.6 1483.6,158.8 1484.6,158.9 1485.6,159.0 1486.6,159.0 1487.6,159.0 1488.6,158.9 1489.6,158.8 1490.6,158.6 1491.6,158.4 1492.6,158.2 1493.6,158.0 1494.6,157.8 1495.6,157.7 1496.6,157.6 1497.6,157.5 1498.6,157.5 1499.6,157.4 1500.6,157.4 1501.6,157.3 1502.6,157.2 1503.6,157.1 1504.6,157.0 1505.6,156.9 1506.6,156.8 1507.6,156.8 1508.6,156.7 1509.6,156.6 1510.6,156.5 1511.6,156.5 1512.6,156.5 1513.6,156.5 1514.6,156.5 1515.6,156.5 1516.6,156.5 1517.6,156.6 1518.6,156.7 1519.6,156.8 1520.6,156.8 1521.6,156.9 1522.6,157.0 1523.6,157.1 1524.6,157.1 1525.6,157.2 1526.6,157.2 1527.6,157.1 1528.6,157.1 1529.6,157.1 1530.6,157.0 1531.6,157.0 1532.6,157.0 1533.6,156.9 1534.6,156.9 1535.6,156.9 1536.6,157.0 1537.6,157.1 1538.6,157.3 1539.6,157.5 1540.6,157.7 1541.6,158.0 1542.6,158.2 1543.6,158.5 1544.6,158.7 1545.6,158.9 1546.6,159.1 1547.6,159.3 1548.6,159.4 1549.6,159.4 1550.6,159.4 1551.6,159.4 1552.6,159.4 1553.6,159.4 1554.6,159.3 1555.6,159.2 1556.6,159.2 1557.6,159.1 1558.6,159.0 1559.6,158.9 1560.6,158.8 1561.6,158.7 1562.6,158.5 1563.6,158.3 1564.6,158.0 1565.6,157.8 1566.6,157.5 1567.6,157.2 1568.6,156.9 1569.6,156.6 1570.6,156.2 1571.6,155.9 1572.6,155.7 1573.6,155.4 1574.6,155.2 1575.6,155.1 1576.6,155.0 1577.6,155.1 1578.6,155.1 1579.6,155.3 1580.6,155.4 1581.6,155.6 1582.6,155.8 1583.6,155.9 1584.6,156.0 1585.6,156.1 1586.6,156.2 1587.6,156.2 1588.6,156.3 1589.6,156.3 1590.6,156.3 1591.6,156.3 1592.6,156.3 1593.6,156.3 1594.6,156.3 1595.6,156.3 1596.6,156.3 1597.6,156.3 1598.6,156.3 1599.6,156.3 1600.6,156.3 1601.6,156.3 1602.6,156.3 1603.6,156.3 1604.6,156.3 1605.6,156.4 1606.6,156.5 1607.6,156.5 1608.6,156.6 1609.6,156.7 1610.6,156.8 1611.6,156.8 1612.6,156.9 1613.6,157.0 1614.6,157.0 1615.6,157.0 1616.6,156.9 1617.6,156.8 1618.6,156.7 1619.6,156.6 1620.6,156.4 1621.6,156.3 1622.6,156.1 1623.6,156.1 1624.6,156.0 1625.6,156.0 1626.6,156.1 1627.6,156.3 1628.6,156.6 1629.6,156.9 1630.6,157.2 1631.6,157.5 1632.6,157.8 1633.6,158.0 1634.6,158.1 1635.6,158.2 1636.6,158.3 1637.6,158.2 1638.6,158.2 1639.6,158.0 1640.6,157.9 1641.6,157.7 1642.6,157.5 1643.6,157.2 1644.6,157.0 1645.6,156.8 1646.6,156.6 1647.6,156.4 1648.6,156.2 1649.6,156.1 1650.6,155.9 1651.6,155.8 1652.6,155.7 1653.6,155.6 1654.6,155.6 1655.6,155.6 1656.6,155.6 1657.6,155.6 1658.6,155.7 1659.6,155.8 1660.6,155.9 1661.6,156.0 1662.6,156.1 1663.6,156.3 1664.6,156.4 1665.6,156.6 1666.6,156.8 1667.6,156.9 1668.6,157.1 1669.6,157.2 1670.6,157.3 1671.6,157.3 1672.6,157.3 1673.6,157.3 1674.6,157.2 1675.6,157.2 1676.6,157.1 1677.6,157.0 1678.6,156.9 1679.6,156.8 1680.6,156.8 1681.6,156.7 1682.6,156.7 1683.6,156.6 1684.6,156.6 1685.6,156.6 1686.6,156.7 1687.6,156.8 1688.6,156.9 1689.6,157.1 1690.6,157.3 1691.6,157.5 1692.6,157.8 1693.6,158.0 1694.6,158.1 1695.6,158.3 1696.6,158.5 1697.6,158.7 1698.6,158.8 1699.6,159.0 1700.6,159.1 1701.6,159.2 1702.6,159.3 1703.6,159.3 1704.6,159.3 1705.6,159.3 1706.6,159.3 1707.6,159.3 1708.6,159.3 1709.6,159.3 1710.6,159.4 1711.6,159.4 1712.6,159.4 1713.6,159.4 1714.6,159.4 1715.6,159.4 1716.6,159.3 1717.6,159.3 1718.6,159.3 1719.6,159.2 1720.6,159.2 1721.6,159.2 1722.6,159.2 1723.6,159.2 1724.6,159.2 1725.6,159.1 1726.6,159.1 1727.6,159.0 1728.6,158.9 1729.6,158.9 1730.6,158.8 1731.6,158.8 1732.6,158.8 1733.6,158.7 1734.6,158.7 1735.6,158.7 1736.6,158.8 1737.6,158.8 1738.6,158.8 1739.6,158.8 1740.6,158.8 1741.6,158.8 1742.6,158.9 1743.6,159.0 1744.6,159.1 1745.6,159.2 1746.6,159.4 1747.6,159.5 1748.6,159.6 1749.6,159.8 1750.6,159.9 1751.6,160.0 1752.6,160.2 1753.6,160.3 1754.6,160.4 1755.6,160.5 1756.6,160.6 1757.6,160.7 1758.6,160.7 1759.6,160.6 1760.6,160.5 1761.6,160.4 1762.6,160.2 1763.6,159.9 1764.6,159.7 1765.6,159.3 1766.6,159.0 1767.6,158.7 1768.6,158.5 1769.6,158.3 1770.6,158.1 1771.6,158.0 1772.6,157.9 1773.6,157.9 1774.6,157.9 1775.6,158.0 1776.6,158.0 1777.6,158.1 1778.6,158.2 1779.6,158.3 1780.6,158.4 1781.6,158.5 1782.6,158.6 1783.6,158.7 1784.6,158.7 1785.6,158.8 1786.6,158.8 1787.6,158.7 1788.6,158.7 1789.6,158.6 1790.6,158.4 1791.6,158.3 1792.6,158.2 1793.6,158.1 1794.6,158.0 1795.6,157.9 1796.6,157.8 1797.6,157.6 1798.6,157.5 1799.6,157.3 1800.6,157.2 1801.6,157.1 1802.6,157.1" fill="none" stroke="#303030" stroke-width="2.2" stroke-linejoin="round" stroke-linecap="butt"/>
<polyline points="1046.6,289.8 1047.6,289.6 1048.6,289.4 1049.6,289.3 1050.6,289.1 1051.6,289.0 1052.6,288.8 1053.6,288.7 1054.6,288.5 1055.6,288.4 1056.6,288.4 1057.6,288.3 1058.6,288.3 1059.6,288.3 1060.6,288.3 1061.6,288.3 1062.6,288.4 1063.6,288.5 1064.6,288.5 1065.6,288.6 1066.6,288.6 1067.6,288.6 1068.6,288.7 1069.6,288.7 1070.6,288.7 1071.6,288.7 1072.6,288.7 1073.6,288.7 1074.6,288.7 1075.6,288.8 1076.6,288.8 1077.6,288.9 1078.6,288.9 1079.6,289.0 1080.6,289.1 1081.6,289.2 1082.6,289.3 1083.6,289.5 1084.6,289.7 1085.6,289.8 1086.6,289.9 1087.6,290.1 1088.6,290.2 1089.6,290.3 1090.6,290.3 1091.6,290.4 1092.6,290.4 1093.6,290.4 1094.6,290.4 1095.6,290.4 1096.6,290.4 1097.6,290.3 1098.6,290.3 1099.6,290.2 1100.6,290.0 1101.6,289.9 1102.6,289.8 1103.6,289.6 1104.6,289.5 1105.6,289.3 1106.6,289.2 1107.6,289.1 1108.6,289.1 1109.6,289.0 1110.6,289.0 1111.6,289.1 1112.6,289.2 1113.6,289.3 1114.6,289.5 1115.6,289.6 1116.6,289.8 1117.6,290.0 1118.6,290.2 1119.6,290.4 1120.6,290.6 1121.6,290.7 1122.6,290.8 1123.6,290.8 1124.6,290.9 1125.6,290.9 1126.6,290.9 1127.6,290.9 1128.6,290.9 1129.6,291.0 1130.6,291.0 1131.6,291.0 1132.6,291.0 1133.6,291.0 1134.6,290.9 1135.6,290.8 1136.6,290.7 1137.6,290.5 1138.6,290.3 1139.6,290.1 1140.6,289.9 1141.6,289.7 1142.6,289.6 1143.6,289.4 1144.6,289.3 1145.6,289.2 1146.6,289.2 1147.6,289.2 1148.6,289.2 1149.6,289.3 1150.6,289.5 1151.6,289.6 1152.6,289.9 1153.6,290.1 1154.6,290.4 1155.6,290.6 1156.6,290.8 1157.6,290.9 1158.6,291.0 1159.6,291.2 1160.6,291.3 1161.6,291.4 1162.6,291.6 1163.6,291.7 1164.6,291.8 1165.6,292.0 1166.6,292.2 1167.6,292.4 1168.6,292.5 1169.6,292.6 1170.6,292.7 1171.6,292.7 1172.6,292.8 1173.6,292.8 1174.6,292.8 1175.6,292.7 1176.6,292.6 1177.6,292.5 1178.6,292.4 1179.6,292.2 1180.6,292.0 1181.6,291.8 1182.6,291.6 1183.6,291.4 1184.6,291.3 1185.6,291.3 1186.6,291.3 1187.6,291.2 1188.6,291.2 1189.6,291.2 1190.6,291.2 1191.6,291.2 1192.6,291.3 1193.6,291.3 1194.6,291.3 1195.6,291.4 1196.6,291.5 1197.6,291.5 1198.6,291.6 1199.6,291.7 1200.6,291.7 1201.6,291.7 1202.6,291.7 1203.6,291.8 1204.6,291.8 1205.6,291.8 1206.6,291.8 1207.6,291.8 1208.6,291.7 1209.6,291.7 1210.6,291.6 1211.6,291.4 1212.6,291.2 1213.6,291.0 1214.6,290.7 1215.6,290.5 1216.6,290.2 1217.6,289.9 1218.6,289.6 1219.6,289.4 1220.6,289.1 1221.6,288.9 1222.6,288.7 1223.6,288.6 1224.6,288.4 1225.6,288.3 1226.6,288.3 1227.6,288.4 1228.6,288.6 1229.6,288.7 1230.6,288.9 1231.6,289.1 1232.6,289.4 1233.6,289.6 1234.6,289.9 1235.6,290.1 1236.6,290.4 1237.6,290.6 1238.6,290.8 1239.6,290.9 1240.6,291.0 1241.6,291.1 1242.6,291.2 1243.6,291.3 1244.6,291.3 1245.6,291.4 1246.6,291.4 1247.6,291.5 1248.6,291.5 1249.6,291.5 1250.6,291.5 1251.6,291.5 1252.6,291.3 1253.6,291.2 1254.6,290.9 1255.6,290.6 1256.6,290.3 1257.6,290.0 1258.6,289.7 1259.6,289.4 1260.6,289.1 1261.6,288.9 1262.6,288.8 1263.6,288.7 1264.6,288.7 1265.6,288.8 1266.6,288.9 1267.6,289.2 1268.6,289.5 1269.6,289.9 1270.6,290.3 1271.6,290.8 1272.6,291.2 1273.6,291.7 1274.6,292.0 1275.6,292.2 1276.6,292.3 1277.6,292.3 1278.6,292.1 1279.6,291.9 1280.6,291.5 1281.6,291.0 1282.6,290.5 1283.6,289.9 1284.6,289.3 1285.6,288.8 1286.6,288.2 1287.6,287.8 1288.6,287.4 1289.6,287.1 1290.6,286.9 1291.6,286.8 1292.6,286.8 1293.6,286.9 1294.6,287.0 1295.6,287.1 1296.6,287.3 1297.6,287.5 1298.6,287.6 1299.6,287.8 1300.6,287.8 1301.6,287.9 1302.6,288.0 1303.6,288.1 1304.6,288.1 1305.6,288.1 1306.6,288.1 1307.6,288.1 1308.6,288.1 1309.6,288.1 1310.6,288.2 1311.6,288.2 1312.6,288.3 1313.6,288.3 1314.6,288.3 1315.6,288.3 1316.6,288.3 1317.6,288.3 1318.6,288.3 1319.6,288.2 1320.6,288.2 1321.6,288.1 1322.6,288.0 1323.6,287.9 1324.6,287.7 1325.6,287.6 1326.6,287.4 1327.6,287.2 1328.6,286.8 1329.6,286.4 1330.6,286.0 1331.6,285.4 1332.6,284.8 1333.6,284.2 1334.6,283.6 1335.6,282.9 1336.6,282.1 1337.6,281.3 1338.6,280.2 1339.6,279.0 1340.6,277.4 1341.6,275.4 1342.6,273.0 1343.6,269.9 1344.6,266.1 1345.6,261.5 1346.6,256.1 1347.6,249.8 1348.6,242.8 1349.6,235.0 1350.6,226.7 1351.6,218.0 1352.6,209.2 1353.6,200.8 1354.6,193.0 1355.6,186.4 1356.6,181.3 1357.6,178.0 1358.6,176.8 1359.6,177.7 1360.6,180.6 1361.6,185.3 1362.6,191.5 1363.6,198.8 1364.6,206.7 1365.6,214.9 1366.6,223.0 1367.6,230.7 1368.6,238.0 1369.6,244.5 1370.6,250.3 1371.6,255.3 1372.6,259.6 1373.6,263.2 1374.6,266.2 1375.6,268.6 1376.6,270.7 1377.6,272.4 1378.6,273.8 1379.6,275.0 1380.6,276.1 1381.6,277.1 1382.6,278.0 1383.6,278.9 1384.6,279.8 1385.6,280.6 1386.6,281.5 1387.6,282.3 1388.6,283.1 1389.6,283.9 1390.6,284.6 1391.6,285.2 1392.6,285.8 1393.6,286.3 1394.6,286.8 1395.6,287.2 1396.6,287.6 1397.6,288.0 1398.6,288.4 1399.6,288.8 1400.6,289.1 1401.6,289.5 1402.6,289.8 1403.6,290.1 1404.6,290.4 1405.6,290.6 1406.6,290.8 1407.6,291.0 1408.6,291.0 1409.6,291.0 1410.6,290.9 1411.6,290.8 1412.6,290.6 1413.6,290.4 1414.6,290.2 1415.6,290.1 1416.6,289.9 1417.6,289.8 1418.6,289.7 1419.6,289.6 1420.6,289.6 1421.6,289.6 1422.6,289.6 1423.6,289.7 1424.6,289.7 1425.6,289.8 1426.6,289.8 1427.6,289.7 1428.6,289.7 1429.6,289.5 1430.6,289.3 1431.6,289.0 1432.6,288.7 1433.6,288.5 1434.6,288.3 1435.6,288.2 1436.6,288.1 1437.6,288.2 1438.6,288.3 1439.6,288.5 1440.6,288.8 1441.6,289.1 1442.6,289.5 1443.6,289.9 1444.6,290.2 1445.6,290.6 1446.6,290.9 1447.6,291.2 1448.6,291.4 1449.6,291.5 1450.6,291.6 1451.6,291.6 1452.6,291.5 1453.6,291.3 1454.6,291.1 1455.6,290.8 1456.6,290.5 1457.6,290.2 1458.6,289.9 1459.6,289.5 1460.6,289.1 1461.6,288.7 1462.6,288.4 1463.6,288.0 1464.6,287.7 1465.6,287.4 1466.6,287.2 1467.6,287.1 1468.6,287.1 1469.6,287.1 1470.6,287.2 1471.6,287.4 1472.6,287.6 1473.6,287.9 1474.6,288.3 1475.6,288.6 1476.6,289.0 1477.6,289.4 1478.6,289.7 1479.6,289.9 1480.6,290.2 1481.6,290.3 1482.6,290.5 1483.6,290.6 1484.6,290.6 1485.6,290.6 1486.6,290.5 1487.6,290.4 1488.6,290.2 1489.6,290.1 1490.6,290.0 1491.6,289.9 1492.6,289.8 1493.6,289.7 1494.6,289.7 1495.6,289.8 1496.6,289.8 1497.6,289.8 1498.6,289.9 1499.6,290.0 1500.6,290.1 1501.6,290.3 1502.6,290.4 1503.6,290.6 1504.6,290.7 1505.6,290.8 1506.6,290.9 1507.6,290.9 1508.6,290.9 1509.6,290.9 1510.6,290.8 1511.6,290.7 1512.6,290.5 1513.6,290.3 1514.6,290.1 1515.6,290.0 1516.6,289.9 1517.6,289.8 1518.6,289.7 1519.6,289.7 1520.6,289.6 1521.6,289.6 1522.6,289.7 1523.6,289.7 1524.6,289.8 1525.6,289.9 1526.6,290.0 1527.6,290.1 1528.6,290.1 1529.6,290.1 1530.6,290.1 1531.6,290.1 1532.6,290.0 1533.6,289.9 1534.6,289.9 1535.6,289.8 1536.6,289.7 1537.6,289.7 1538.6,289.7 1539.6,289.7 1540.6,289.8 1541.6,290.0 1542.6,290.2 1543.6,290.4 1544.6,290.7 1545.6,290.9 1546.6,291.2 1547.6,291.4 1548.6,291.6 1549.6,291.7 1550.6,291.7 1551.6,291.7 1552.6,291.5 1553.6,291.3 1554.6,291.0 1555.6,290.7 1556.6,290.3 1557.6,289.8 1558.6,289.4 1559.6,289.0 1560.6,288.7 1561.6,288.3 1562.6,288.1 1563.6,287.9 1564.6,287.9 1565.6,287.9 1566.6,288.0 1567.6,288.2 1568.6,288.4 1569.6,288.7 1570.6,289.0 1571.6,289.3 1572.6,289.6 1573.6,289.9 1574.6,290.2 1575.6,290.4 1576.6,290.6 1577.6,290.7 1578.6,290.8 1579.6,290.9 1580.6,291.0 1581.6,291.0 1582.6,291.0 1583.6,290.9 1584.6,290.8 1585.6,290.7 1586.6,290.5 1587.6,290.2 1588.6,290.0 1589.6,289.7 1590.6,289.4 1591.6,289.1 1592.6,288.8 1593.6,288.5 1594.6,288.3 1595.6,288.0 1596.6,287.8 1597.6,287.6 1598.6,287.4 1599.6,287.3 1600.6,287.2 1601.6,287.1 1602.6,287.1 1603.6,287.0 1604.6,287.0 1605.6,287.0 1606.6,286.9 1607.6,286.9 1608.6,286.9 1609.6,286.9 1610.6,287.0 1611.6,287.1 1612.6,287.3 1613.6,287.6 1614.6,287.9 1615.6,288.2 1616.6,288.7 1617.6,289.2 1618.6,289.8 1619.6,290.3 1620.6,290.9 1621.6,291.4 1622.6,291.8 1623.6,292.1 1624.6,292.3 1625.6,292.4 1626.6,292.4 1627.6,292.3 1628.6,292.1 1629.6,291.8 1630.6,291.3 1631.6,290.9 1632.6,290.4 1633.6,289.8 1634.6,289.4 1635.6,288.9 1636.6,288.6 1637.6,288.3 1638.6,288.0 1639.6,287.9 1640.6,287.9 1641.6,287.9 1642.6,288.1 1643.6,288.3 1644.6,288.6 1645.6,288.9 1646.6,289.1 1647.6,289.4 1648.6,289.7 1649.6,290.0 1650.6,290.3 1651.6,290.5 1652.6,290.8 1653.6,291.0 1654.6,291.2 1655.6,291.3 1656.6,291.4 1657.6,291.4 1658.6,291.4 1659.6,291.3 1660.6,291.2 1661.6,291.0 1662.6,290.9 1663.6,290.7 1664.6,290.5 1665.6,290.4 1666.6,290.3 1667.6,290.2 1668.6,290.1 1669.6,289.9 1670.6,289.8 1671.6,289.7 1672.6,289.5 1673.6,289.3 1674.6,289.2 1675.6,288.9 1676.6,288.7 1677.6,288.5 1678.6,288.2 1679.6,288.0 1680.6,287.8 1681.6,287.7 1682.6,287.7 1683.6,287.7 1684.6,287.7 1685.6,287.9 1686.6,288.0 1687.6,288.2 1688.6,288.4 1689.6,288.6 1690.6,288.8 1691.6,289.0 1692.6,289.1 1693.6,289.1 1694.6,289.1 1695.6,289.1 1696.6,289.0 1697.6,288.8 1698.6,288.6 1699.6,288.5 1700.6,288.3 1701.6,288.1 1702.6,288.0 1703.6,287.9 1704.6,287.9 1705.6,288.0 1706.6,288.2 1707.6,288.3 1708.6,288.5 1709.6,288.8 1710.6,289.0 1711.6,289.3 1712.6,289.6 1713.6,289.9 1714.6,290.2 1715.6,290.4 1716.6,290.7 1717.6,290.9 1718.6,291.1 1719.6,291.3 1720.6,291.4 1721.6,291.5 1722.6,291.5 1723.6,291.5 1724.6,291.4 1725.6,291.3 1726.6,291.2 1727.6,291.0 1728.6,290.8 1729.6,290.5 1730.6,290.3 1731.6,290.1 1732.6,289.8 1733.6,289.6 1734.6,289.4 1735.6,289.1 1736.6,289.0 1737.6,288.8 1738.6,288.7 1739.6,288.6 1740.6,288.6 1741.6,288.5 1742.6,288.6 1743.6,288.6 1744.6,288.7 1745.6,288.7 1746.6,288.8 1747.6,288.8 1748.6,288.8 1749.6,288.8 1750.6,288.8 1751.6,288.7 1752.6,288.6 1753.6,288.4 1754.6,288.3 1755.6,288.1 1756.6,288.0 1757.6,287.8 1758.6,287.8 1759.6,287.7 1760.6,287.8 1761.6,287.8 1762.6,288.0 1763.6,288.1 1764.6,288.3 1765.6,288.5 1766.6,288.8 1767.6,289.0 1768.6,289.3 1769.6,289.5 1770.6,289.7 1771.6,289.8 1772.6,289.9 1773.6,289.9 1774.6,289.8 1775.6,289.7 1776.6,289.6 1777.6,289.5 1778.6,289.4 1779.6,289.3 1780.6,289.1 1781.6,289.0 1782.6,289.0 1783.6,288.9 1784.6,289.0 1785.6,289.1 1786.6,289.2 1787.6,289.3 1788.6,289.4 1789.6,289.6 1790.6,289.7 1791.6,289.8 1792.6,289.9 1793.6,290.0 1794.6,290.1 1795.6,290.1 1796.6,290.1 1797.6,290.1 1798.6,290.1 1799.6,290.0 1800.6,289.9 1801.6,289.8 1802.6,289.7" fill="none" stroke="#303030" stroke-width="2.2" stroke-linejoin="round" stroke-linecap="butt"/>
<polyline points="1046.6,419.3 1047.6,419.3 1048.6,419.3 1049.6,419.2 1050.6,419.1 1051.6,419.0 1052.6,418.9 1053.6,418.9 1054.6,418.8 1055.6,418.8 1056.6,418.8 1057.6,418.8 1058.6,418.7 1059.6,418.7 1060.6,418.7 1061.6,418.7 1062.6,418.7 1063.6,418.6 1064.6,418.6 1065.6,418.5 1066.6,418.4 1067.6,418.2 1068.6,418.1 1069.6,417.9 1070.6,417.8 1071.6,417.7 1072.6,417.7 1073.6,417.8 1074.6,417.9 1075.6,418.1 1076.6,418.3 1077.6,418.6 1078.6,418.9 1079.6,419.3 1080.6,419.6 1081.6,419.9 1082.6,420.2 1083.6,420.4 1084.6,420.6 1085.6,420.7 1086.6,420.7 1087.6,420.7 1088.6,420.6 1089.6,420.5 1090.6,420.4 1091.6,420.2 1092.6,420.1 1093.6,420.0 1094.6,419.9 1095.6,419.8 1096.6,419.8 1097.6,419.8 1098.6,419.8 1099.6,419.8 1100.6,419.9 1101.6,419.9 1102.6,419.9 1103.6,419.9 1104.6,419.8 1105.6,419.7 1106.6,419.6 1107.6,419.4 1108.6,419.2 1109.6,419.0 1110.6,418.7 1111.6,418.5 1112.6,418.2 1113.6,417.9 1114.6,417.7 1115.6,417.4 1116.6,417.1 1117.6,416.7 1118.6,416.4 1119.6,416.1 1120.6,415.9 1121.6,415.6 1122.6,415.4 1123.6,415.3 1124.6,415.2 1125.6,415.1 1126.6,415.2 1127.6,415.3 1128.6,415.4 1129.6,415.6 1130.6,415.8 1131.6,416.1 1132.6,416.5 1133.6,416.8 1134.6,417.2 1135.6,417.5 1136.6,417.8 1137.6,418.1 1138.6,418.3 1139.6,418.5 1140.6,418.6 1141.6,418.6 1142.6,418.6 1143.6,418.6 1144.6,418.6 1145.6,418.5 1146.6,418.4 1147.6,418.3 1148.6,418.2 1149.6,418.1 1150.6,418.0 1151.6,417.9 1152.6,417.9 1153.6,417.8 1154.6,417.8 1155.6,417.7 1156.6,417.7 1157.6,417.7 1158.6,417.8 1159.6,417.9 1160.6,418.0 1161.6,418.1 1162.6,418.2 1163.6,418.3 1164.6,418.4 1165.6,418.4 1166.6,418.5 1167.6,418.5 1168.6,418.6 1169.6,418.6 1170.6,418.7 1171.6,418.6 1172.6,418.6 1173.6,418.5 1174.6,418.4 1175.6,418.3 1176.6,418.1 1177.6,417.8 1178.6,417.6 1179.6,417.3 1180.6,417.0 1181.6,416.8 1182.6,416.6 1183.6,416.4 1184.6,416.3 1185.6,416.2 1186.6,416.2 1187.6,416.2 1188.6,416.3 1189.6,416.5 1190.6,416.6 1191.6,416.8 1192.6,417.0 1193.6,417.2 1194.6,417.4 1195.6,417.6 1196.6,417.8 1197.6,418.0 1198.6,418.1 1199.6,418.2 1200.6,418.2 1201.6,418.3 1202.6,418.3 1203.6,418.3 1204.6,418.3 1205.6,418.3 1206.6,418.4 1207.6,418.5 1208.6,418.6 1209.6,418.8 1210.6,418.9 1211.6,419.1 1212.6,419.2 1213.6,419.3 1214.6,419.4 1215.6,419.4 1216.6,419.4 1217.6,419.3 1218.6,419.3 1219.6,419.3 1220.6,419.2 1221.6,419.1 1222.6,419.1 1223.6,419.0 1224.6,418.9 1225.6,418.8 1226.6,418.7 1227.6,418.6 1228.6,418.5 1229.6,418.4 1230.6,418.4 1231.6,418.3 1232.6,418.1 1233.6,418.0 1234.6,417.9 1235.6,417.7 1236.6,417.5 1237.6,417.4 1238.6,417.2 1239.6,417.1 1240.6,417.1 1241.6,417.1 1242.6,417.2 1243.6,417.4 1244.6,417.6 1245.6,417.7 1246.6,417.9 1247.6,418.1 1248.6,418.3 1249.6,418.4 1250.6,418.4 1251.6,418.4 1252.6,418.4 1253.6,418.2 1254.6,418.0 1255.6,417.8 1256.6,417.5 1257.6,417.2 1258.6,416.9 1259.6,416.7 1260.6,416.5 1261.6,416.3 1262.6,416.1 1263.6,416.0 1264.6,415.9 1265.6,415.8 1266.6,415.7 1267.6,415.6 1268.6,415.6 1269.6,415.6 1270.6,415.5 1271.6,415.6 1272.6,415.6 1273.6,415.7 1274.6,415.8 1275.6,416.0 1276.6,416.1 1277.6,416.3 1278.6,416.5 1279.6,416.6 1280.6,416.8 1281.6,416.9 1282.6,417.0 1283.6,417.1 1284.6,417.1 1285.6,417.0 1286.6,416.9 1287.6,416.8 1288.6,416.5 1289.6,416.2 1290.6,415.9 1291.6,415.6 1292.6,415.3 1293.6,415.0 1294.6,414.8 1295.6,414.5 1296.6,414.4 1297.6,414.2 1298.6,414.1 1299.6,414.0 1300.6,413.8 1301.6,413.6 1302.6,413.4 1303.6,413.1 1304.6,412.7 1305.6,412.2 1306.6,411.7 1307.6,411.1 1308.6,410.4 1309.6,409.6 1310.6,408.6 1311.6,407.7 1312.6,406.6 1313.6,405.4 1314.6,404.2 1315.6,402.9 1316.6,401.6 1317.6,400.4 1318.6,399.1 1319.6,397.8 1320.6,396.4 1321.6,394.9 1322.6,393.2 1323.6,391.2 1324.6,388.9 1325.6,386.2 1326.6,383.0 1327.6,379.2 1328.6,374.8 1329.6,369.7 1330.6,364.1 1331.6,357.8 1332.6,351.1 1333.6,344.1 1334.6,337.0 1335.6,330.2 1336.6,323.8 1337.6,318.2 1338.6,313.9 1339.6,311.0 1340.6,309.7 1341.6,310.3 1342.6,312.7 1343.6,316.7 1344.6,322.1 1345.6,328.6 1346.6,335.8 1347.6,343.4 1348.6,351.1 1349.6,358.7 1350.6,365.9 1351.6,372.7 1352.6,378.8 1353.6,384.2 1354.6,389.0 1355.6,393.1 1356.6,396.5 1357.6,399.4 1358.6,401.7 1359.6,403.5 1360.6,405.0 1361.6,406.1 1362.6,406.9 1363.6,407.6 1364.6,408.1 1365.6,408.4 1366.6,408.7 1367.6,409.0 1368.6,409.2 1369.6,409.5 1370.6,409.8 1371.6,410.1 1372.6,410.5 1373.6,410.9 1374.6,411.3 1375.6,411.8 1376.6,412.4 1377.6,413.0 1378.6,413.5 1379.6,414.0 1380.6,414.4 1381.6,414.8 1382.6,415.2 1383.6,415.5 1384.6,415.8 1385.6,416.1 1386.6,416.4 1387.6,416.7 1388.6,417.0 1389.6,417.3 1390.6,417.6 1391.6,417.9 1392.6,418.2 1393.6,418.4 1394.6,418.6 1395.6,418.7 1396.6,418.8 1397.6,418.9 1398.6,418.9 1399.6,418.8 1400.6,418.7 1401.6,418.5 1402.6,418.2 1403.6,418.0 1404.6,417.7 1405.6,417.4 1406.6,417.1 1407.6,416.9 1408.6,416.8 1409.6,416.7 1410.6,416.7 1411.6,416.7 1412.6,416.7 1413.6,416.8 1414.6,416.9 1415.6,417.0 1416.6,417.1 1417.6,417.1 1418.6,417.1 1419.6,417.1 1420.6,417.0 1421.6,417.0 1422.6,416.9 1423.6,416.8 1424.6,416.7 1425.6,416.6 1426.6,416.5 1427.6,416.3 1428.6,416.2 1429.6,416.1 1430.6,416.0 1431.6,416.0 1432.6,416.0 1433.6,416.0 1434.6,416.1 1435.6,416.2 1436.6,416.3 1437.6,416.4 1438.6,416.5 1439.6,416.5 1440.6,416.6 1441.6,416.6 1442.6,416.6 1443.6,416.5 1444.6,416.5 1445.6,416.4 1446.6,416.4 1447.6,416.4 1448.6,416.4 1449.6,416.4 1450.6,416.4 1451.6,416.3 1452.6,416.3 1453.6,416.3 1454.6,416.3 1455.6,416.4 1456.6,416.5 1457.6,416.6 1458.6,416.7 1459.6,416.9 1460.6,417.0 1461.6,417.1 1462.6,417.3 1463.6,417.5 1464.6,417.6 1465.6,417.8 1466.6,418.0 1467.6,418.1 1468.6,418.2 1469.6,418.3 1470.6,418.3 1471.6,418.3 1472.6,418.2 1473.6,418.1 1474.6,417.9 1475.6,417.7 1476.6,417.5 1477.6,417.4 1478.6,417.2 1479.6,417.1 1480.6,417.0 1481.6,417.0 1482.6,417.0 1483.6,416.9 1484.6,417.0 1485.6,417.1 1486.6,417.2 1487.6,417.4 1488.6,417.5 1489.6,417.7 1490.6,417.8 1491.6,417.9 1492.6,417.9 1493.6,417.9 1494.6,417.8 1495.6,417.8 1496.6,417.8 1497.6,417.9 1498.6,417.9 1499.6,417.9 1500.6,418.0 1501.6,418.0 1502.6,418.0 1503.6,418.0 1504.6,418.0 1505.6,417.9 1506.6,417.8 1507.6,417.6 1508.6,417.5 1509.6,417.3 1510.6,417.1 1511.6,416.9 1512.6,416.6 1513.6,416.4 1514.6,416.1 1515.6,415.9 1516.6,415.7 1517.6,415.6 1518.6,415.5 1519.6,415.5 1520.6,415.5 1521.6,415.5 1522.6,415.6 1523.6,415.6 1524.6,415.6 1525.6,415.6 1526.6,415.6 1527.6,415.7 1528.6,415.8 1529.6,415.9 1530.6,416.0 1531.6,416.2 1532.6,416.3 1533.6,416.5 1534.6,416.7 1535.6,416.8 1536.6,417.0 1537.6,417.1 1538.6,417.2 1539.6,417.3 1540.6,417.3 1541.6,417.2 1542.6,417.0 1543.6,416.8 1544.6,416.6 1545.6,416.3 1546.6,416.1 1547.6,415.9 1548.6,415.7 1549.6,415.6 1550.6,415.6 1551.6,415.6 1552.6,415.7 1553.6,415.8 1554.6,416.0 1555.6,416.1 1556.6,416.3 1557.6,416.5 1558.6,416.8 1559.6,417.0 1560.6,417.2 1561.6,417.4 1562.6,417.5 1563.6,417.6 1564.6,417.6 1565.6,417.5 1566.6,417.4 1567.6,417.2 1568.6,417.1 1569.6,416.9 1570.6,416.8 1571.6,416.6 1572.6,416.5 1573.6,416.4 1574.6,416.3 1575.6,416.2 1576.6,416.1 1577.6,416.1 1578.6,416.1 1579.6,416.3 1580.6,416.4 1581.6,416.7 1582.6,416.9 1583.6,417.2 1584.6,417.5 1585.6,417.7 1586.6,417.9 1587.6,418.1 1588.6,418.3 1589.6,418.4 1590.6,418.6 1591.6,418.7 1592.6,418.8 1593.6,418.8 1594.6,418.9 1595.6,418.9 1596.6,418.9 1597.6,418.9 1598.6,418.9 1599.6,418.9 1600.6,418.9 1601.6,418.9 1602.6,418.9 1603.6,418.8 1604.6,418.8 1605.6,418.8 1606.6,418.8 1607.6,418.7 1608.6,418.5 1609.6,418.4 1610.6,418.2 1611.6,418.0 1612.6,417.8 1613.6,417.6 1614.6,417.5 1615.6,417.3 1616.6,417.1 1617.6,416.9 1618.6,416.7 1619.6,416.6 1620.6,416.5 1621.6,416.4 1622.6,416.3 1623.6,416.3 1624.6,416.3 1625.6,416.3 1626.6,416.3 1627.6,416.3 1628.6,416.3 1629.6,416.3 1630.6,416.3 1631.6,416.4 1632.6,416.4 1633.6,416.5 1634.6,416.7 1635.6,416.9 1636.6,417.2 1637.6,417.6 1638.6,418.0 1639.6,418.4 1640.6,418.9 1641.6,419.3 1642.6,419.8 1643.6,420.1 1644.6,420.5 1645.6,420.7 1646.6,420.9 1647.6,421.0 1648.6,421.0 1649.6,420.8 1650.6,420.6 1651.6,420.3 1652.6,419.9 1653.6,419.5 1654.6,419.0 1655.6,418.4 1656.6,417.9 1657.6,417.4 1658.6,417.0 1659.6,416.6 1660.6,416.3 1661.6,416.1 1662.6,416.0 1663.6,416.0 1664.6,416.0 1665.6,416.2 1666.6,416.4 1667.6,416.7 1668.6,417.0 1669.6,417.4 1670.6,417.7 1671.6,418.1 1672.6,418.5 1673.6,418.9 1674.6,419.2 1675.6,419.6 1676.6,419.8 1677.6,420.1 1678.6,420.3 1679.6,420.4 1680.6,420.5 1681.6,420.5 1682.6,420.4 1683.6,420.3 1684.6,420.1 1685.6,419.9 1686.6,419.7 1687.6,419.5 1688.6,419.4 1689.6,419.2 1690.6,419.1 1691.6,419.0 1692.6,418.9 1693.6,418.9 1694.6,418.9 1695.6,419.0 1696.6,419.1 1697.6,419.2 1698.6,419.4 1699.6,419.5 1700.6,419.7 1701.6,419.8 1702.6,419.8 1703.6,419.8 1704.6,419.7 1705.6,419.5 1706.6,419.3 1707.6,419.0 1708.6,418.7 1709.6,418.4 1710.6,418.0 1711.6,417.7 1712.6,417.4 1713.6,417.1 1714.6,416.9 1715.6,416.6 1716.6,416.4 1717.6,416.3 1718.6,416.2 1719.6,416.1 1720.6,416.1 1721.6,416.1 1722.6,416.1 1723.6,416.2 1724.6,416.2 1725.6,416.3 1726.6,416.3 1727.6,416.4 1728.6,416.4 1729.6,416.5 1730.6,416.6 1731.6,416.7 1732.6,416.8 1733.6,416.9 1734.6,417.0 1735.6,417.1 1736.6,417.3 1737.6,417.4 1738.6,417.5 1739.6,417.7 1740.6,417.8 1741.6,417.9 1742.6,418.0 1743.6,418.1 1744.6,418.3 1745.6,418.5 1746.6,418.7 1747.6,418.9 1748.6,419.1 1749.6,419.3 1750.6,419.5 1751.6,419.7 1752.6,419.9 1753.6,420.1 1754.6,420.2 1755.6,420.4 1756.6,420.5 1757.6,420.5 1758.6,420.5 1759.6,420.5 1760.6,420.4 1761.6,420.2 1762.6,420.0 1763.6,419.7 1764.6,419.4 1765.6,419.0 1766.6,418.7 1767.6,418.4 1768.6,418.1 1769.6,417.9 1770.6,417.7 1771.6,417.5 1772.6,417.4 1773.6,417.3 1774.6,417.2 1775.6,417.2 1776.6,417.2 1777.6,417.2 1778.6,417.2 1779.6,417.2 1780.6,417.2 1781.6,417.2 1782.6,417.2 1783.6,417.2 1784.6,417.2 1785.6,417.3 1786.6,417.3 1787.6,417.3 1788.6,417.4 1789.6,417.5 1790.6,417.5 1791.6,417.7 1792.6,417.8 1793.6,417.9 1794.6,418.1 1795.6,418.2 1796.6,418.3 1797.6,418.3 1798.6,418.3 1799.6,418.3 1800.6,418.2 1801.6,418.0 1802.6,417.8" fill="none" stroke="#303030" stroke-width="2.2" stroke-linejoin="round" stroke-linecap="butt"/>
<path d="M1046.6 38.2 H1803.0 V429.7 M1046.6 38.2 V429.7" fill="none" stroke="#858585" stroke-width="1.3" stroke-linecap="square"/>
<path d="M1046.6 429.7 H1803.0" fill="none" stroke="#bdbdbd" stroke-width="2.0" stroke-linecap="square"/>
<path d="M1053.9 429.7 v3.2 M1079.0 429.7 v3.2 M1104.1 429.7 v3.2 M1129.2 429.7 v3.2 M1154.3 429.7 v3.2 M1179.4 429.7 v4.8 M1204.5 429.7 v3.2 M1229.6 429.7 v3.2 M1254.7 429.7 v3.2 M1279.8 429.7 v3.2 M1304.9 429.7 v4.8 M1330.0 429.7 v3.2 M1355.1 429.7 v3.2 M1380.2 429.7 v3.2 M1405.3 429.7 v3.2 M1430.4 429.7 v4.8 M1455.5 429.7 v3.2 M1480.6 429.7 v3.2 M1505.7 429.7 v3.2 M1530.8 429.7 v3.2 M1555.9 429.7 v4.8 M1581.0 429.7 v3.2 M1606.1 429.7 v3.2 M1631.2 429.7 v3.2 M1656.3 429.7 v3.2 M1681.4 429.7 v4.8 M1706.5 429.7 v3.2 M1731.6 429.7 v3.2 M1756.7 429.7 v3.2 M1781.8 429.7 v3.2 M1803.0 52.3 h6.0 M1803.0 66.2 h4.0 M1803.0 80.2 h4.0 M1803.0 94.1 h4.0 M1803.0 108.1 h4.0 M1803.0 122.0 h6.0 M1803.0 136.0 h4.0 M1803.0 149.9 h4.0 M1803.0 163.9 h4.0 M1803.0 177.8 h4.0 M1803.0 191.8 h6.0 M1803.0 205.8 h4.0 M1803.0 219.7 h4.0 M1803.0 233.6 h4.0 M1803.0 247.6 h4.0 M1803.0 261.6 h6.0 M1803.0 275.5 h4.0 M1803.0 289.4 h4.0 M1803.0 303.4 h4.0 M1803.0 317.4 h4.0 M1803.0 331.3 h6.0 M1803.0 345.2 h4.0 M1803.0 359.2 h4.0 M1803.0 373.1 h4.0 M1803.0 387.1 h4.0 M1803.0 401.1 h6.0 M1803.0 415.0 h4.0 M1803.0 428.9 h4.0" stroke="#b8b8b8" stroke-width="0.9" fill="none"/>
<text font-family="'Liberation Sans', Arial, sans-serif" font-size="21.27" fill="#000" stroke="#000" stroke-width="0.40" stroke-linejoin="round" transform="translate(1144.46 460.09) scale(1.2979 1)" xml:space="preserve">- 75.2</text>
<text font-family="'Liberation Sans', Arial, sans-serif" font-size="21.27" fill="#000" stroke="#000" stroke-width="0.40" stroke-linejoin="round" transform="translate(1270.05 460.09) scale(1.3055 1)" xml:space="preserve">- 75.3</text>
<text font-family="'Liberation Sans', Arial, sans-serif" font-size="21.57" fill="#000" stroke="#000" stroke-width="0.40" stroke-linejoin="round" transform="translate(1395.56 460.08) scale(1.2696 1)" xml:space="preserve">- 75.4</text>
<text font-family="'Liberation Sans', Arial, sans-serif" font-size="21.57" fill="#000" stroke="#000" stroke-width="0.40" stroke-linejoin="round" transform="translate(1521.15 460.08) scale(1.2872 1)" xml:space="preserve">- 75.5</text>
<text font-family="'Liberation Sans', Arial, sans-serif" font-size="21.27" fill="#000" stroke="#000" stroke-width="0.40" stroke-linejoin="round" transform="translate(1646.85 460.09) scale(1.3055 1)" xml:space="preserve">- 75.6</text>
<text font-family="'Liberation Sans', Arial, sans-serif" font-size="20.85" fill="#000" stroke="#000" stroke-width="0.40" stroke-linejoin="round" transform="translate(1754.61 459.52) scale(1.3405 1)" xml:space="preserve">[ppm]</text>
<text font-family="'Liberation Sans', Arial, sans-serif" font-size="16.20" fill="#000" stroke="#000" stroke-width="0.30" stroke-linejoin="round" transform="translate(1376.40 474.69) scale(1.1315 1)" xml:space="preserve">19</text>
<text font-family="'Liberation Sans', Arial, sans-serif" font-size="24.27" fill="#000" stroke="#000" stroke-width="0.95" stroke-linejoin="round" transform="translate(1398.00 482.72) scale(0.8174 1)" xml:space="preserve">F</text>
<text font-family="'Liberation Sans', Arial, sans-serif" font-size="25.96" fill="#000" stroke="#000" stroke-width="0.50" stroke-linejoin="round" transform="translate(1417.91 483.30) scale(1.0640 1)" xml:space="preserve">(ppm)</text>
<text font-family="'Liberation Sans', Arial, sans-serif" font-size="22.68" fill="#000" stroke="#000" stroke-width="0.30" stroke-linejoin="round" transform="translate(1436.82 92.02) scale(1.0331 1)" xml:space="preserve">0.8</text>
<text font-family="'Liberation Sans', Arial, sans-serif" font-size="22.32" fill="#000" stroke="#000" stroke-width="0.30" stroke-linejoin="round" transform="translate(1474.18 91.95) scale(1.1441 1)" xml:space="preserve">mM</text>
<text font-family="'Liberation Sans', Arial, sans-serif" font-size="22.57" fill="#000" stroke="#000" stroke-width="0.30" stroke-linejoin="round" transform="translate(1521.47 91.95) scale(1.0035 1)" xml:space="preserve"><tspan font-weight="bold">2</tspan></text>
<text font-family="'Liberation Sans', Arial, sans-serif" font-size="22.54" fill="#000" stroke="#000" stroke-width="0.30" stroke-linejoin="round" transform="translate(1431.13 220.92) scale(1.0261 1)" xml:space="preserve">0.8</text>
<text font-family="'Liberation Sans', Arial, sans-serif" font-size="22.17" fill="#000" stroke="#000" stroke-width="0.30" stroke-linejoin="round" transform="translate(1468.40 220.85) scale(1.1426 1)" xml:space="preserve">mM</text>
<text font-family="'Liberation Sans', Arial, sans-serif" font-size="22.34" fill="#000" stroke="#000" stroke-width="0.36" stroke-linejoin="round" transform="translate(1515.42 220.82) scale(0.9728 1)" xml:space="preserve"><tspan font-weight="bold">2</tspan></text>
<text font-family="'Liberation Sans', Arial, sans-serif" font-size="22.54" fill="#000" stroke="#000" stroke-width="0.30" stroke-linejoin="round" transform="translate(1526.71 220.92) scale(1.0179 1)" xml:space="preserve">+0.2</text>
<text font-family="'Liberation Sans', Arial, sans-serif" font-size="22.17" fill="#000" stroke="#000" stroke-width="0.30" stroke-linejoin="round" transform="translate(1577.99 220.85) scale(1.1456 1)" xml:space="preserve">mM</text>
<text font-family="'Liberation Sans', Arial, sans-serif" font-size="22.08" fill="#000" stroke="#000" stroke-width="0.45" stroke-linejoin="round" transform="translate(1624.88 220.86) scale(0.9409 1)" xml:space="preserve">eParE</text>
<text font-family="'Liberation Sans', Arial, sans-serif" font-size="22.54" fill="#000" stroke="#000" stroke-width="0.30" stroke-linejoin="round" transform="translate(1431.13 371.22) scale(1.0261 1)" xml:space="preserve">0.8</text>
<text font-family="'Liberation Sans', Arial, sans-serif" font-size="22.17" fill="#000" stroke="#000" stroke-width="0.30" stroke-linejoin="round" transform="translate(1468.40 371.15) scale(1.1426 1)" xml:space="preserve">mM</text>
<text font-family="'Liberation Sans', Arial, sans-serif" font-size="22.34" fill="#000" stroke="#000" stroke-width="0.36" stroke-linejoin="round" transform="translate(1515.42 371.12) scale(0.9728 1)" xml:space="preserve"><tspan font-weight="bold">2</tspan></text>
<text font-family="'Liberation Sans', Arial, sans-serif" font-size="22.54" fill="#000" stroke="#000" stroke-width="0.30" stroke-linejoin="round" transform="translate(1526.71 371.22) scale(1.0125 1)" xml:space="preserve">+0.8</text>
<text font-family="'Liberation Sans', Arial, sans-serif" font-size="22.17" fill="#000" stroke="#000" stroke-width="0.30" stroke-linejoin="round" transform="translate(1577.99 371.15) scale(1.1456 1)" xml:space="preserve">mM</text>
<text font-family="'Liberation Sans', Arial, sans-serif" font-size="22.08" fill="#000" stroke="#000" stroke-width="0.45" stroke-linejoin="round" transform="translate(1624.88 371.16) scale(0.9409 1)" xml:space="preserve">eParE</text>
<text font-family="'Liberation Sans', Arial, sans-serif" font-size="44.99" fill="#000" stroke="#000" stroke-width="0.91" stroke-linejoin="round" transform="translate(973.56 56.10) scale(0.9980 1)" xml:space="preserve">(b)</text>
</g>
<g id="panel-d">
<polyline points="1046.6,641.6 1047.6,641.8 1048.6,642.1 1049.6,642.4 1050.6,642.6 1051.6,642.9 1052.6,643.0 1053.6,643.1 1054.6,643.1 1055.6,643.1 1056.6,643.1 1057.6,643.2 1058.6,643.2 1059.6,643.3 1060.6,643.4 1061.6,643.4 1062.6,643.2 1063.6,642.9 1064.6,642.5 1065.6,642.0 1066.6,641.7 1067.6,641.4 1068.6,641.4 1069.6,641.4 1070.6,641.6 1071.6,641.9 1072.6,642.2 1073.6,642.5 1074.6,642.9 1075.6,643.1 1076.6,643.2 1077.6,643.2 1078.6,643.0 1079.6,642.7 1080.6,642.5 1081.6,642.3 1082.6,642.2 1083.6,642.2 1084.6,642.3 1085.6,642.4 1086.6,642.7 1087.6,643.0 1088.6,643.4 1089.6,643.6 1090.6,643.7 1091.6,643.7 1092.6,643.5 1093.6,643.4 1094.6,643.2 1095.6,643.0 1096.6,642.7 1097.6,642.4 1098.6,642.1 1099.6,641.8 1100.6,641.5 1101.6,641.3 1102.6,641.1 1103.6,641.1 1104.6,641.1 1105.6,641.1 1106.6,641.2 1107.6,641.5 1108.6,641.8 1109.6,642.1 1110.6,642.4 1111.6,642.7 1112.6,642.9 1113.6,643.2 1114.6,643.5 1115.6,643.7 1116.6,643.8 1117.6,643.8 1118.6,643.7 1119.6,643.4 1120.6,642.9 1121.6,642.4 1122.6,641.7 1123.6,641.1 1124.6,640.5 1125.6,640.1 1126.6,639.9 1127.6,639.8 1128.6,639.9 1129.6,640.1 1130.6,640.5 1131.6,641.0 1132.6,641.6 1133.6,642.1 1134.6,642.5 1135.6,642.9 1136.6,643.1 1137.6,643.2 1138.6,643.2 1139.6,643.2 1140.6,643.0 1141.6,642.8 1142.6,642.5 1143.6,642.3 1144.6,642.1 1145.6,641.9 1146.6,641.8 1147.6,641.8 1148.6,641.8 1149.6,641.9 1150.6,642.0 1151.6,642.2 1152.6,642.4 1153.6,642.6 1154.6,642.8 1155.6,642.9 1156.6,642.8 1157.6,642.7 1158.6,642.5 1159.6,642.2 1160.6,641.9 1161.6,641.7 1162.6,641.4 1163.6,641.2 1164.6,641.0 1165.6,641.0 1166.6,641.1 1167.6,641.4 1168.6,641.7 1169.6,641.9 1170.6,642.2 1171.6,642.4 1172.6,642.4 1173.6,642.3 1174.6,642.1 1175.6,641.9 1176.6,641.7 1177.6,641.6 1178.6,641.5 1179.6,641.6 1180.6,641.7 1181.6,641.7 1182.6,641.8 1183.6,641.8 1184.6,641.7 1185.6,641.6 1186.6,641.5 1187.6,641.4 1188.6,641.3 1189.6,641.3 1190.6,641.3 1191.6,641.4 1192.6,641.5 1193.6,641.6 1194.6,641.8 1195.6,642.0 1196.6,642.3 1197.6,642.5 1198.6,642.7 1199.6,642.8 1200.6,642.9 1201.6,642.8 1202.6,642.7 1203.6,642.5 1204.6,642.3 1205.6,642.3 1206.6,642.2 1207.6,642.3 1208.6,642.5 1209.6,642.7 1210.6,643.0 1211.6,643.2 1212.6,643.4 1213.6,643.7 1214.6,643.8 1215.6,643.9 1216.6,643.8 1217.6,643.7 1218.6,643.6 1219.6,643.5 1220.6,643.4 1221.6,643.3 1222.6,643.3 1223.6,643.4 1224.6,643.5 1225.6,643.7 1226.6,643.9 1227.6,644.1 1228.6,644.4 1229.6,644.5 1230.6,644.7 1231.6,644.7 1232.6,644.6 1233.6,644.4 1234.6,644.1 1235.6,643.7 1236.6,643.2 1237.6,642.8 1238.6,642.3 1239.6,642.0 1240.6,641.8 1241.6,641.7 1242.6,641.8 1243.6,642.0 1244.6,642.1 1245.6,642.3 1246.6,642.4 1247.6,642.6 1248.6,642.6 1249.6,642.5 1250.6,642.4 1251.6,642.1 1252.6,641.8 1253.6,641.5 1254.6,641.3 1255.6,641.2 1256.6,641.3 1257.6,641.4 1258.6,641.6 1259.6,641.7 1260.6,641.8 1261.6,641.9 1262.6,641.9 1263.6,641.9 1264.6,641.9 1265.6,641.9 1266.6,642.0 1267.6,642.1 1268.6,642.3 1269.6,642.5 1270.6,642.7 1271.6,642.8 1272.6,642.9 1273.6,642.9 1274.6,642.8 1275.6,642.7 1276.6,642.6 1277.6,642.4 1278.6,642.3 1279.6,642.2 1280.6,642.1 1281.6,642.0 1282.6,641.9 1283.6,641.8 1284.6,641.6 1285.6,641.2 1286.6,640.8 1287.6,640.4 1288.6,640.2 1289.6,640.1 1290.6,640.2 1291.6,640.4 1292.6,640.6 1293.6,640.9 1294.6,641.1 1295.6,641.2 1296.6,641.0 1297.6,640.6 1298.6,639.9 1299.6,639.1 1300.6,638.3 1301.6,637.7 1302.6,637.3 1303.6,637.1 1304.6,637.1 1305.6,637.2 1306.6,637.3 1307.6,637.4 1308.6,637.4 1309.6,637.1 1310.6,636.5 1311.6,635.6 1312.6,634.6 1313.6,633.4 1314.6,632.1 1315.6,630.7 1316.6,628.9 1317.6,626.3 1318.6,622.5 1319.6,617.0 1320.6,609.2 1321.6,598.6 1322.6,585.3 1323.6,569.9 1324.6,553.9 1325.6,539.7 1326.6,530.0 1327.6,527.7 1328.6,533.3 1329.6,545.3 1330.6,560.6 1331.6,576.6 1332.6,591.3 1333.6,603.7 1334.6,613.5 1335.6,620.8 1336.6,626.0 1337.6,629.7 1338.6,632.2 1339.6,633.9 1340.6,635.0 1341.6,635.8 1342.6,636.2 1343.6,636.4 1344.6,636.5 1345.6,636.5 1346.6,636.7 1347.6,636.9 1348.6,637.1 1349.6,637.4 1350.6,637.7 1351.6,637.9 1352.6,638.1 1353.6,638.4 1354.6,638.6 1355.6,638.9 1356.6,639.2 1357.6,639.5 1358.6,639.9 1359.6,640.3 1360.6,640.7 1361.6,641.0 1362.6,641.2 1363.6,641.4 1364.6,641.5 1365.6,641.6 1366.6,641.6 1367.6,641.5 1368.6,641.5 1369.6,641.4 1370.6,641.3 1371.6,641.2 1372.6,641.0 1373.6,640.8 1374.6,640.6 1375.6,640.7 1376.6,640.8 1377.6,640.9 1378.6,641.0 1379.6,641.2 1380.6,641.3 1381.6,641.4 1382.6,641.4 1383.6,641.2 1384.6,641.0 1385.6,640.7 1386.6,640.4 1387.6,640.2 1388.6,640.1 1389.6,640.1 1390.6,640.0 1391.6,639.9 1392.6,639.9 1393.6,639.9 1394.6,640.1 1395.6,640.3 1396.6,640.6 1397.6,640.8 1398.6,641.1 1399.6,641.3 1400.6,641.5 1401.6,641.6 1402.6,641.5 1403.6,641.3 1404.6,641.0 1405.6,640.8 1406.6,640.6 1407.6,640.7 1408.6,640.9 1409.6,641.2 1410.6,641.7 1411.6,642.1 1412.6,642.5 1413.6,642.8 1414.6,643.0 1415.6,643.1 1416.6,643.0 1417.6,643.0 1418.6,642.9 1419.6,642.8 1420.6,642.9 1421.6,642.9 1422.6,642.9 1423.6,642.8 1424.6,642.8 1425.6,642.8 1426.6,642.9 1427.6,643.1 1428.6,643.2 1429.6,643.4 1430.6,643.6 1431.6,643.7 1432.6,643.7 1433.6,643.6 1434.6,643.3 1435.6,642.9 1436.6,642.5 1437.6,642.1 1438.6,642.0 1439.6,641.9 1440.6,642.1 1441.6,642.2 1442.6,642.4 1443.6,642.6 1444.6,642.8 1445.6,643.0 1446.6,643.1 1447.6,643.2 1448.6,643.4 1449.6,643.5 1450.6,643.7 1451.6,643.9 1452.6,643.9 1453.6,643.8 1454.6,643.7 1455.6,643.4 1456.6,643.1 1457.6,642.9 1458.6,642.8 1459.6,642.8 1460.6,642.8 1461.6,642.9 1462.6,643.0 1463.6,643.2 1464.6,643.3 1465.6,643.4 1466.6,643.3 1467.6,643.1 1468.6,642.8 1469.6,642.5 1470.6,642.2 1471.6,642.0 1472.6,641.9 1473.6,641.8 1474.6,641.8 1475.6,641.8 1476.6,641.9 1477.6,641.9 1478.6,641.9 1479.6,641.9 1480.6,641.7 1481.6,641.6 1482.6,641.6 1483.6,641.8 1484.6,642.2 1485.6,642.6 1486.6,643.1 1487.6,643.6 1488.6,643.9 1489.6,644.1 1490.6,644.1 1491.6,644.0 1492.6,643.7 1493.6,643.4 1494.6,643.1 1495.6,642.8 1496.6,642.6 1497.6,642.6 1498.6,642.6 1499.6,642.6 1500.6,642.6 1501.6,642.7 1502.6,642.8 1503.6,642.9 1504.6,643.1 1505.6,643.3 1506.6,643.4 1507.6,643.6 1508.6,643.7 1509.6,643.7 1510.6,643.7 1511.6,643.7 1512.6,643.8 1513.6,643.8 1514.6,643.9 1515.6,643.9 1516.6,643.8 1517.6,643.8 1518.6,643.7 1519.6,643.5 1520.6,643.4 1521.6,643.2 1522.6,643.0 1523.6,642.8 1524.6,642.7 1525.6,642.6 1526.6,642.7 1527.6,642.8 1528.6,642.9 1529.6,643.0 1530.6,643.2 1531.6,643.4 1532.6,643.5 1533.6,643.6 1534.6,643.7 1535.6,643.7 1536.6,643.7 1537.6,643.7 1538.6,643.6 1539.6,643.6 1540.6,643.7 1541.6,643.8 1542.6,644.0 1543.6,644.1 1544.6,644.1 1545.6,644.1 1546.6,644.1 1547.6,644.0 1548.6,643.9 1549.6,643.6 1550.6,643.3 1551.6,643.0 1552.6,642.7 1553.6,642.5 1554.6,642.4 1555.6,642.4 1556.6,642.4 1557.6,642.6 1558.6,642.6 1559.6,642.7 1560.6,642.7 1561.6,642.7 1562.6,642.7 1563.6,642.6 1564.6,642.5 1565.6,642.6 1566.6,642.7 1567.6,642.9 1568.6,643.0 1569.6,643.0 1570.6,642.9 1571.6,642.8 1572.6,642.7 1573.6,642.5 1574.6,642.4 1575.6,642.2 1576.6,642.0 1577.6,641.8 1578.6,641.8 1579.6,641.8 1580.6,641.8 1581.6,642.0 1582.6,642.1 1583.6,642.2 1584.6,642.3 1585.6,642.5 1586.6,642.6 1587.6,642.7 1588.6,642.7 1589.6,642.6 1590.6,642.6 1591.6,642.7 1592.6,643.0 1593.6,643.3 1594.6,643.6 1595.6,644.0 1596.6,644.1 1597.6,644.1 1598.6,644.0 1599.6,643.8 1600.6,643.5 1601.6,643.2 1602.6,642.9 1603.6,642.7 1604.6,642.8 1605.6,643.0 1606.6,643.2 1607.6,643.4 1608.6,643.5 1609.6,643.5 1610.6,643.4 1611.6,643.2 1612.6,643.1 1613.6,643.1 1614.6,643.1 1615.6,643.1 1616.6,643.1 1617.6,643.2 1618.6,643.4 1619.6,643.5 1620.6,643.6 1621.6,643.7 1622.6,643.8 1623.6,644.1 1624.6,644.3 1625.6,644.5 1626.6,644.7 1627.6,644.7 1628.6,644.7 1629.6,644.5 1630.6,644.2 1631.6,643.9 1632.6,643.5 1633.6,643.3 1634.6,643.1 1635.6,643.0 1636.6,643.0 1637.6,643.0 1638.6,643.1 1639.6,643.1 1640.6,643.1 1641.6,643.0 1642.6,642.8 1643.6,642.6 1644.6,642.4 1645.6,642.1 1646.6,641.8 1647.6,641.5 1648.6,641.2 1649.6,641.0 1650.6,640.9 1651.6,640.9 1652.6,641.0 1653.6,641.3 1654.6,641.7 1655.6,642.1 1656.6,642.5 1657.6,642.9 1658.6,643.2 1659.6,643.4 1660.6,643.3 1661.6,643.1 1662.6,642.7 1663.6,642.2 1664.6,641.7 1665.6,641.3 1666.6,641.1 1667.6,641.1 1668.6,641.1 1669.6,641.2 1670.6,641.3 1671.6,641.4 1672.6,641.5 1673.6,641.6 1674.6,641.8 1675.6,642.0 1676.6,642.3 1677.6,642.6 1678.6,642.9 1679.6,643.2 1680.6,643.5 1681.6,643.6 1682.6,643.6 1683.6,643.4 1684.6,643.2 1685.6,642.9 1686.6,642.8 1687.6,642.8 1688.6,642.9 1689.6,643.0 1690.6,643.2 1691.6,643.3 1692.6,643.4 1693.6,643.3 1694.6,643.1 1695.6,642.8 1696.6,642.5 1697.6,642.1 1698.6,641.9 1699.6,641.8 1700.6,641.8 1701.6,642.1 1702.6,642.3 1703.6,642.6 1704.6,642.7 1705.6,642.6 1706.6,642.5 1707.6,642.3 1708.6,642.0 1709.6,641.7 1710.6,641.5 1711.6,641.3 1712.6,641.3 1713.6,641.3 1714.6,641.4 1715.6,641.6 1716.6,641.8 1717.6,642.1 1718.6,642.4 1719.6,642.7 1720.6,642.9 1721.6,643.2 1722.6,643.3 1723.6,643.4 1724.6,643.3 1725.6,643.1 1726.6,642.9 1727.6,642.7 1728.6,642.6 1729.6,642.6 1730.6,642.7 1731.6,642.8 1732.6,643.0 1733.6,643.3 1734.6,643.6 1735.6,644.0 1736.6,644.2 1737.6,644.4 1738.6,644.3 1739.6,644.1 1740.6,643.6 1741.6,643.1 1742.6,642.4 1743.6,641.9 1744.6,641.4 1745.6,641.1 1746.6,641.1 1747.6,641.3 1748.6,641.7 1749.6,642.2 1750.6,642.6 1751.6,642.9 1752.6,642.9 1753.6,642.8 1754.6,642.6 1755.6,642.3 1756.6,642.1 1757.6,642.1 1758.6,642.2 1759.6,642.4 1760.6,642.7 1761.6,642.9 1762.6,643.0 1763.6,642.9 1764.6,642.6 1765.6,642.2 1766.6,641.7 1767.6,641.1 1768.6,640.6 1769.6,640.4 1770.6,640.3 1771.6,640.5 1772.6,640.8 1773.6,641.2 1774.6,641.7 1775.6,642.2 1776.6,642.5 1777.6,642.8 1778.6,643.0 1779.6,643.1 1780.6,643.3 1781.6,643.3 1782.6,643.4 1783.6,643.6 1784.6,643.8 1785.6,643.9 1786.6,644.0 1787.6,643.9 1788.6,643.7 1789.6,643.3 1790.6,642.8 1791.6,642.3 1792.6,641.9 1793.6,641.8 1794.6,641.8 1795.6,642.0 1796.6,642.3 1797.6,642.7 1798.6,643.1 1799.6,643.4 1800.6,643.5 1801.6,643.4 1802.6,643.3" fill="none" stroke="#3C9A5F" stroke-width="2.1" stroke-linejoin="round" stroke-linecap="butt"/>
<polyline points="1046.6,797.4 1047.6,797.3 1048.6,797.2 1049.6,797.0 1050.6,796.8 1051.6,796.6 1052.6,796.3 1053.6,796.0 1054.6,795.7 1055.6,795.4 1056.6,795.3 1057.6,795.3 1058.6,795.5 1059.6,795.8 1060.6,796.3 1061.6,796.6 1062.6,796.8 1063.6,796.9 1064.6,796.7 1065.6,796.5 1066.6,796.2 1067.6,796.0 1068.6,795.9 1069.6,795.9 1070.6,795.8 1071.6,795.8 1072.6,795.6 1073.6,795.3 1074.6,794.8 1075.6,794.5 1076.6,794.3 1077.6,794.3 1078.6,794.5 1079.6,794.7 1080.6,795.0 1081.6,795.1 1082.6,795.2 1083.6,795.2 1084.6,795.3 1085.6,795.4 1086.6,795.5 1087.6,795.5 1088.6,795.4 1089.6,795.2 1090.6,794.7 1091.6,794.2 1092.6,793.8 1093.6,793.4 1094.6,793.4 1095.6,793.6 1096.6,794.2 1097.6,794.8 1098.6,795.3 1099.6,795.6 1100.6,795.6 1101.6,795.5 1102.6,795.3 1103.6,795.1 1104.6,795.1 1105.6,795.3 1106.6,795.8 1107.6,796.3 1108.6,796.9 1109.6,797.3 1110.6,797.6 1111.6,797.7 1112.6,797.7 1113.6,797.6 1114.6,797.3 1115.6,797.0 1116.6,796.6 1117.6,796.3 1118.6,796.0 1119.6,795.8 1120.6,795.8 1121.6,795.8 1122.6,795.8 1123.6,796.0 1124.6,796.1 1125.6,796.0 1126.6,795.9 1127.6,795.6 1128.6,795.3 1129.6,795.0 1130.6,794.7 1131.6,794.6 1132.6,794.6 1133.6,794.7 1134.6,795.0 1135.6,795.4 1136.6,795.8 1137.6,796.2 1138.6,796.5 1139.6,796.7 1140.6,796.7 1141.6,796.7 1142.6,796.5 1143.6,796.4 1144.6,796.3 1145.6,796.2 1146.6,796.1 1147.6,796.0 1148.6,795.9 1149.6,795.9 1150.6,795.8 1151.6,795.8 1152.6,795.8 1153.6,795.8 1154.6,795.9 1155.6,795.9 1156.6,796.0 1157.6,796.1 1158.6,796.2 1159.6,796.2 1160.6,796.3 1161.6,796.5 1162.6,796.6 1163.6,796.6 1164.6,796.5 1165.6,796.3 1166.6,796.1 1167.6,795.9 1168.6,795.6 1169.6,795.3 1170.6,795.1 1171.6,795.1 1172.6,795.3 1173.6,795.5 1174.6,795.7 1175.6,796.0 1176.6,796.3 1177.6,796.5 1178.6,796.8 1179.6,797.0 1180.6,797.0 1181.6,796.9 1182.6,796.8 1183.6,796.7 1184.6,796.6 1185.6,796.5 1186.6,796.4 1187.6,796.2 1188.6,796.0 1189.6,795.8 1190.6,795.8 1191.6,795.8 1192.6,796.0 1193.6,796.2 1194.6,796.6 1195.6,796.9 1196.6,797.1 1197.6,797.2 1198.6,797.1 1199.6,796.8 1200.6,796.4 1201.6,795.9 1202.6,795.4 1203.6,794.9 1204.6,794.5 1205.6,794.2 1206.6,794.1 1207.6,794.3 1208.6,794.6 1209.6,795.1 1210.6,795.7 1211.6,796.1 1212.6,796.5 1213.6,796.8 1214.6,797.0 1215.6,797.1 1216.6,797.1 1217.6,797.1 1218.6,797.0 1219.6,796.9 1220.6,796.8 1221.6,796.7 1222.6,796.4 1223.6,796.2 1224.6,795.9 1225.6,795.7 1226.6,795.6 1227.6,795.5 1228.6,795.4 1229.6,795.4 1230.6,795.5 1231.6,795.6 1232.6,795.8 1233.6,795.8 1234.6,795.7 1235.6,795.5 1236.6,795.3 1237.6,795.0 1238.6,794.7 1239.6,794.6 1240.6,794.6 1241.6,794.8 1242.6,795.1 1243.6,795.4 1244.6,795.7 1245.6,795.8 1246.6,795.7 1247.6,795.6 1248.6,795.4 1249.6,795.3 1250.6,795.2 1251.6,795.2 1252.6,795.2 1253.6,795.3 1254.6,795.5 1255.6,795.7 1256.6,795.9 1257.6,796.1 1258.6,796.3 1259.6,796.4 1260.6,796.4 1261.6,796.5 1262.6,796.5 1263.6,796.6 1264.6,796.7 1265.6,796.9 1266.6,797.0 1267.6,797.0 1268.6,796.8 1269.6,796.4 1270.6,795.8 1271.6,795.3 1272.6,794.7 1273.6,794.2 1274.6,793.8 1275.6,793.6 1276.6,793.5 1277.6,793.6 1278.6,793.7 1279.6,793.8 1280.6,793.9 1281.6,794.0 1282.6,794.0 1283.6,794.1 1284.6,794.1 1285.6,794.0 1286.6,793.8 1287.6,793.6 1288.6,793.4 1289.6,793.2 1290.6,792.8 1291.6,792.5 1292.6,792.2 1293.6,791.9 1294.6,791.8 1295.6,791.9 1296.6,791.9 1297.6,791.9 1298.6,792.0 1299.6,792.2 1300.6,792.4 1301.6,792.6 1302.6,792.8 1303.6,792.8 1304.6,792.8 1305.6,792.8 1306.6,792.8 1307.6,792.6 1308.6,792.4 1309.6,792.0 1310.6,791.5 1311.6,790.9 1312.6,790.2 1313.6,789.5 1314.6,789.0 1315.6,788.6 1316.6,788.4 1317.6,788.5 1318.6,788.6 1319.6,788.7 1320.6,788.8 1321.6,788.8 1322.6,788.9 1323.6,789.0 1324.6,789.1 1325.6,789.3 1326.6,789.5 1327.6,789.7 1328.6,789.6 1329.6,789.4 1330.6,789.0 1331.6,788.4 1332.6,787.8 1333.6,787.2 1334.6,786.7 1335.6,786.3 1336.6,786.2 1337.6,786.2 1338.6,786.3 1339.6,786.5 1340.6,786.7 1341.6,786.9 1342.6,787.1 1343.6,787.3 1344.6,787.5 1345.6,787.8 1346.6,788.1 1347.6,788.4 1348.6,788.5 1349.6,788.6 1350.6,788.6 1351.6,788.4 1352.6,788.1 1353.6,787.8 1354.6,787.5 1355.6,787.2 1356.6,787.0 1357.6,786.7 1358.6,786.3 1359.6,785.9 1360.6,785.4 1361.6,785.0 1362.6,784.6 1363.6,784.4 1364.6,784.2 1365.6,784.3 1366.6,784.3 1367.6,784.3 1368.6,784.2 1369.6,783.9 1370.6,783.5 1371.6,783.1 1372.6,782.8 1373.6,782.4 1374.6,782.1 1375.6,781.7 1376.6,781.4 1377.6,781.0 1378.6,780.6 1379.6,780.1 1380.6,779.3 1381.6,778.2 1382.6,776.9 1383.6,775.3 1384.6,773.5 1385.6,771.5 1386.6,769.3 1387.6,766.9 1388.6,764.3 1389.6,761.6 1390.6,758.6 1391.6,755.4 1392.6,752.0 1393.6,748.6 1394.6,745.1 1395.6,741.5 1396.6,737.8 1397.6,734.1 1398.6,730.1 1399.6,725.9 1400.6,721.7 1401.6,717.5 1402.6,713.4 1403.6,709.7 1404.6,706.6 1405.6,704.1 1406.6,702.4 1407.6,701.5 1408.6,701.6 1409.6,702.7 1410.6,704.7 1411.6,707.5 1412.6,710.9 1413.6,714.8 1414.6,719.0 1415.6,723.3 1416.6,727.7 1417.6,732.1 1418.6,736.4 1419.6,740.6 1420.6,744.7 1421.6,748.7 1422.6,752.6 1423.6,756.1 1424.6,759.4 1425.6,762.3 1426.6,764.8 1427.6,767.0 1428.6,768.9 1429.6,770.6 1430.6,772.2 1431.6,773.6 1432.6,775.0 1433.6,776.2 1434.6,777.3 1435.6,778.3 1436.6,779.3 1437.6,780.2 1438.6,781.1 1439.6,782.0 1440.6,782.9 1441.6,783.7 1442.6,784.5 1443.6,785.2 1444.6,785.7 1445.6,786.0 1446.6,786.3 1447.6,786.6 1448.6,786.8 1449.6,787.0 1450.6,787.1 1451.6,787.2 1452.6,787.5 1453.6,787.8 1454.6,788.2 1455.6,788.6 1456.6,789.0 1457.6,789.4 1458.6,789.8 1459.6,790.2 1460.6,790.6 1461.6,791.0 1462.6,791.3 1463.6,791.6 1464.6,791.7 1465.6,791.6 1466.6,791.5 1467.6,791.3 1468.6,791.1 1469.6,791.1 1470.6,791.2 1471.6,791.5 1472.6,792.0 1473.6,792.5 1474.6,792.9 1475.6,793.1 1476.6,793.1 1477.6,793.2 1478.6,793.4 1479.6,793.5 1480.6,793.7 1481.6,793.7 1482.6,793.8 1483.6,793.8 1484.6,793.8 1485.6,793.8 1486.6,793.8 1487.6,793.8 1488.6,793.9 1489.6,794.0 1490.6,794.1 1491.6,794.1 1492.6,794.0 1493.6,794.0 1494.6,793.9 1495.6,793.7 1496.6,793.5 1497.6,793.2 1498.6,792.9 1499.6,792.8 1500.6,792.9 1501.6,793.1 1502.6,793.5 1503.6,794.0 1504.6,794.6 1505.6,795.0 1506.6,795.2 1507.6,795.2 1508.6,795.0 1509.6,794.6 1510.6,794.2 1511.6,793.8 1512.6,793.7 1513.6,793.7 1514.6,794.0 1515.6,794.4 1516.6,795.1 1517.6,795.7 1518.6,796.2 1519.6,796.5 1520.6,796.4 1521.6,796.2 1522.6,795.8 1523.6,795.5 1524.6,795.2 1525.6,795.1 1526.6,795.0 1527.6,795.1 1528.6,795.2 1529.6,795.3 1530.6,795.4 1531.6,795.5 1532.6,795.6 1533.6,795.7 1534.6,795.7 1535.6,795.8 1536.6,795.7 1537.6,795.6 1538.6,795.5 1539.6,795.4 1540.6,795.3 1541.6,795.2 1542.6,795.1 1543.6,795.0 1544.6,795.0 1545.6,795.0 1546.6,795.1 1547.6,795.3 1548.6,795.5 1549.6,795.7 1550.6,795.7 1551.6,795.5 1552.6,795.1 1553.6,794.5 1554.6,794.0 1555.6,793.7 1556.6,793.7 1557.6,793.9 1558.6,794.5 1559.6,795.1 1560.6,795.7 1561.6,796.1 1562.6,796.3 1563.6,796.3 1564.6,796.1 1565.6,795.8 1566.6,795.5 1567.6,795.2 1568.6,794.9 1569.6,794.6 1570.6,794.5 1571.6,794.5 1572.6,794.7 1573.6,795.0 1574.6,795.5 1575.6,795.9 1576.6,796.2 1577.6,796.2 1578.6,796.0 1579.6,795.6 1580.6,795.1 1581.6,794.7 1582.6,794.5 1583.6,794.6 1584.6,794.9 1585.6,795.3 1586.6,795.7 1587.6,796.1 1588.6,796.2 1589.6,796.3 1590.6,796.3 1591.6,796.4 1592.6,796.6 1593.6,796.7 1594.6,796.8 1595.6,796.8 1596.6,796.7 1597.6,796.6 1598.6,796.4 1599.6,796.2 1600.6,796.0 1601.6,795.9 1602.6,795.8 1603.6,795.7 1604.6,795.7 1605.6,795.6 1606.6,795.5 1607.6,795.4 1608.6,795.3 1609.6,795.3 1610.6,795.2 1611.6,795.2 1612.6,795.2 1613.6,795.1 1614.6,795.0 1615.6,794.9 1616.6,795.0 1617.6,795.3 1618.6,795.7 1619.6,796.1 1620.6,796.4 1621.6,796.7 1622.6,796.7 1623.6,796.7 1624.6,796.6 1625.6,796.5 1626.6,796.4 1627.6,796.5 1628.6,796.7 1629.6,796.8 1630.6,796.8 1631.6,796.6 1632.6,796.3 1633.6,795.9 1634.6,795.7 1635.6,795.6 1636.6,795.7 1637.6,796.0 1638.6,796.4 1639.6,796.7 1640.6,796.9 1641.6,797.0 1642.6,797.1 1643.6,797.2 1644.6,797.2 1645.6,797.3 1646.6,797.5 1647.6,797.6 1648.6,797.8 1649.6,798.0 1650.6,798.2 1651.6,798.3 1652.6,798.3 1653.6,798.2 1654.6,798.0 1655.6,797.7 1656.6,797.2 1657.6,796.8 1658.6,796.4 1659.6,796.0 1660.6,795.8 1661.6,795.6 1662.6,795.5 1663.6,795.4 1664.6,795.4 1665.6,795.5 1666.6,795.5 1667.6,795.6 1668.6,795.8 1669.6,796.0 1670.6,796.2 1671.6,796.4 1672.6,796.5 1673.6,796.6 1674.6,796.8 1675.6,796.9 1676.6,797.1 1677.6,797.3 1678.6,797.5 1679.6,797.6 1680.6,797.7 1681.6,797.8 1682.6,797.7 1683.6,797.6 1684.6,797.5 1685.6,797.4 1686.6,797.2 1687.6,797.0 1688.6,796.8 1689.6,796.6 1690.6,796.4 1691.6,796.3 1692.6,796.3 1693.6,796.5 1694.6,796.7 1695.6,797.0 1696.6,797.2 1697.6,797.4 1698.6,797.5 1699.6,797.5 1700.6,797.5 1701.6,797.4 1702.6,797.3 1703.6,797.2 1704.6,797.1 1705.6,797.0 1706.6,797.0 1707.6,796.9 1708.6,796.8 1709.6,796.7 1710.6,796.6 1711.6,796.6 1712.6,796.6 1713.6,796.7 1714.6,796.8 1715.6,796.9 1716.6,796.9 1717.6,796.8 1718.6,796.7 1719.6,796.7 1720.6,796.7 1721.6,796.8 1722.6,797.1 1723.6,797.5 1724.6,797.8 1725.6,797.9 1726.6,797.8 1727.6,797.6 1728.6,797.2 1729.6,796.9 1730.6,796.7 1731.6,796.8 1732.6,796.9 1733.6,797.2 1734.6,797.5 1735.6,797.6 1736.6,797.5 1737.6,797.3 1738.6,797.1 1739.6,796.9 1740.6,796.7 1741.6,796.5 1742.6,796.5 1743.6,796.7 1744.6,797.0 1745.6,797.3 1746.6,797.6 1747.6,797.8 1748.6,797.9 1749.6,797.9 1750.6,797.8 1751.6,797.6 1752.6,797.3 1753.6,797.1 1754.6,797.0 1755.6,796.9 1756.6,796.9 1757.6,796.8 1758.6,796.6 1759.6,796.4 1760.6,796.1 1761.6,795.8 1762.6,795.5 1763.6,795.4 1764.6,795.3 1765.6,795.3 1766.6,795.4 1767.6,795.6 1768.6,795.8 1769.6,796.0 1770.6,796.3 1771.6,796.6 1772.6,796.7 1773.6,796.7 1774.6,796.7 1775.6,796.5 1776.6,796.4 1777.6,796.3 1778.6,796.2 1779.6,796.3 1780.6,796.6 1781.6,796.9 1782.6,797.2 1783.6,797.4 1784.6,797.3 1785.6,797.1 1786.6,796.7 1787.6,796.3 1788.6,795.9 1789.6,795.6 1790.6,795.5 1791.6,795.6 1792.6,795.8 1793.6,796.1 1794.6,796.3 1795.6,796.6 1796.6,796.7 1797.6,796.8 1798.6,797.0 1799.6,797.1 1800.6,797.2 1801.6,797.3 1802.6,797.3" fill="none" stroke="#FF0000" stroke-width="2.1" stroke-linejoin="round" stroke-linecap="butt"/>
<polyline points="1046.6,947.1 1047.6,946.7 1048.6,948.3 1049.6,949.7 1050.6,949.5 1051.6,947.4 1052.6,946.6 1053.6,945.3 1054.6,947.8 1055.6,947.3 1056.6,944.0 1057.6,941.0 1058.6,943.7 1059.6,945.9 1060.6,944.7 1061.6,946.7 1062.6,952.6 1063.6,947.4 1064.6,943.3 1065.6,944.7 1066.6,945.8 1067.6,944.7 1068.6,945.0 1069.6,947.0 1070.6,948.3 1071.6,944.7 1072.6,943.4 1073.6,944.3 1074.6,948.8 1075.6,948.1 1076.6,945.1 1077.6,947.0 1078.6,946.6 1079.6,943.8 1080.6,943.6 1081.6,945.7 1082.6,948.6 1083.6,947.9 1084.6,947.8 1085.6,944.6 1086.6,943.3 1087.6,945.5 1088.6,945.6 1089.6,944.5 1090.6,946.9 1091.6,948.1 1092.6,944.1 1093.6,942.5 1094.6,944.1 1095.6,946.1 1096.6,946.5 1097.6,948.9 1098.6,948.4 1099.6,949.7 1100.6,949.2 1101.6,947.5 1102.6,947.6 1103.6,946.5 1104.6,944.7 1105.6,941.2 1106.6,943.8 1107.6,948.3 1108.6,948.3 1109.6,946.4 1110.6,945.1 1111.6,949.2 1112.6,949.7 1113.6,945.4 1114.6,945.1 1115.6,948.8 1116.6,946.6 1117.6,945.6 1118.6,945.4 1119.6,947.0 1120.6,946.9 1121.6,947.4 1122.6,948.6 1123.6,949.4 1124.6,948.9 1125.6,947.6 1126.6,948.8 1127.6,948.2 1128.6,947.4 1129.6,945.9 1130.6,948.0 1131.6,948.9 1132.6,947.4 1133.6,946.2 1134.6,945.0 1135.6,945.5 1136.6,946.4 1137.6,948.1 1138.6,949.9 1139.6,951.0 1140.6,953.5 1141.6,952.1 1142.6,948.3 1143.6,947.2 1144.6,947.6 1145.6,946.6 1146.6,946.5 1147.6,949.9 1148.6,948.3 1149.6,943.1 1150.6,945.1 1151.6,948.1 1152.6,947.8 1153.6,944.8 1154.6,943.4 1155.6,945.0 1156.6,946.5 1157.6,944.4 1158.6,944.1 1159.6,943.1 1160.6,941.1 1161.6,943.4 1162.6,948.9 1163.6,947.9 1164.6,943.1 1165.6,941.8 1166.6,944.8 1167.6,947.6 1168.6,949.4 1169.6,950.3 1170.6,949.8 1171.6,947.6 1172.6,944.3 1173.6,944.3 1174.6,944.2 1175.6,944.1 1176.6,948.6 1177.6,946.7 1178.6,944.0 1179.6,945.8 1180.6,946.9 1181.6,945.6 1182.6,945.3 1183.6,942.2 1184.6,941.7 1185.6,941.7 1186.6,941.2 1187.6,942.8 1188.6,944.8 1189.6,944.9 1190.6,945.7 1191.6,945.5 1192.6,943.4 1193.6,943.2 1194.6,946.5 1195.6,943.7 1196.6,942.6 1197.6,945.9 1198.6,946.3 1199.6,944.9 1200.6,944.0 1201.6,947.8 1202.6,948.6 1203.6,945.9 1204.6,947.2 1205.6,949.7 1206.6,950.3 1207.6,947.7 1208.6,947.2 1209.6,945.6 1210.6,944.4 1211.6,946.5 1212.6,944.3 1213.6,944.9 1214.6,948.4 1215.6,947.3 1216.6,950.3 1217.6,950.5 1218.6,949.4 1219.6,949.5 1220.6,949.5 1221.6,950.0 1222.6,947.7 1223.6,945.6 1224.6,945.5 1225.6,946.5 1226.6,946.7 1227.6,946.5 1228.6,946.6 1229.6,946.6 1230.6,942.9 1231.6,941.3 1232.6,944.0 1233.6,945.1 1234.6,947.7 1235.6,947.9 1236.6,944.4 1237.6,943.9 1238.6,944.5 1239.6,945.6 1240.6,947.1 1241.6,948.3 1242.6,947.3 1243.6,945.8 1244.6,944.6 1245.6,947.0 1246.6,947.1 1247.6,945.5 1248.6,945.1 1249.6,945.7 1250.6,945.7 1251.6,946.6 1252.6,946.1 1253.6,946.5 1254.6,948.1 1255.6,948.5 1256.6,945.7 1257.6,946.2 1258.6,946.6 1259.6,948.4 1260.6,948.5 1261.6,951.1 1262.6,949.7 1263.6,947.0 1264.6,946.3 1265.6,946.6 1266.6,946.9 1267.6,946.2 1268.6,945.1 1269.6,946.5 1270.6,945.9 1271.6,941.7 1272.6,943.8 1273.6,947.6 1274.6,945.8 1275.6,943.6 1276.6,944.3 1277.6,944.0 1278.6,946.2 1279.6,947.5 1280.6,946.5 1281.6,944.6 1282.6,945.1 1283.6,944.6 1284.6,943.7 1285.6,944.8 1286.6,944.0 1287.6,944.7 1288.6,949.0 1289.6,948.0 1290.6,946.8 1291.6,946.3 1292.6,945.5 1293.6,950.3 1294.6,952.8 1295.6,948.5 1296.6,944.2 1297.6,943.4 1298.6,944.4 1299.6,944.2 1300.6,945.2 1301.6,944.7 1302.6,944.7 1303.6,941.5 1304.6,937.8 1305.6,941.0 1306.6,940.5 1307.6,940.0 1308.6,940.6 1309.6,938.6 1310.6,937.9 1311.6,937.1 1312.6,936.7 1313.6,936.4 1314.6,931.9 1315.6,934.0 1316.6,934.3 1317.6,931.7 1318.6,930.0 1319.6,929.3 1320.6,923.5 1321.6,911.5 1322.6,889.1 1323.6,861.8 1324.6,831.2 1325.6,805.9 1326.6,795.7 1327.6,805.3 1328.6,831.5 1329.6,860.1 1330.6,883.4 1331.6,903.5 1332.6,917.5 1333.6,923.3 1334.6,925.8 1335.6,931.7 1336.6,935.5 1337.6,935.8 1338.6,933.4 1339.6,932.2 1340.6,933.7 1341.6,935.1 1342.6,936.9 1343.6,936.7 1344.6,938.7 1345.6,940.5 1346.6,940.0 1347.6,938.8 1348.6,941.8 1349.6,942.4 1350.6,941.3 1351.6,940.4 1352.6,938.4 1353.6,941.3 1354.6,939.9 1355.6,938.0 1356.6,939.1 1357.6,937.5 1358.6,937.9 1359.6,940.6 1360.6,942.3 1361.6,941.6 1362.6,939.2 1363.6,938.9 1364.6,939.0 1365.6,938.4 1366.6,937.5 1367.6,940.4 1368.6,940.6 1369.6,942.2 1370.6,943.1 1371.6,942.0 1372.6,938.5 1373.6,934.3 1374.6,933.9 1375.6,933.4 1376.6,934.4 1377.6,935.0 1378.6,934.7 1379.6,935.6 1380.6,937.5 1381.6,935.2 1382.6,931.8 1383.6,927.7 1384.6,926.8 1385.6,929.0 1386.6,927.7 1387.6,925.6 1388.6,922.3 1389.6,921.3 1390.6,921.2 1391.6,920.1 1392.6,914.8 1393.6,914.4 1394.6,913.1 1395.6,908.1 1396.6,902.4 1397.6,895.5 1398.6,889.8 1399.6,884.7 1400.6,876.2 1401.6,870.6 1402.6,869.3 1403.6,865.2 1404.6,863.2 1405.6,859.0 1406.6,855.2 1407.6,857.1 1408.6,861.1 1409.6,865.0 1410.6,870.2 1411.6,878.7 1412.6,887.3 1413.6,894.8 1414.6,900.2 1415.6,905.4 1416.6,912.0 1417.6,915.6 1418.6,916.4 1419.6,920.0 1420.6,922.3 1421.6,926.1 1422.6,928.0 1423.6,927.9 1424.6,932.4 1425.6,934.4 1426.6,934.6 1427.6,933.6 1428.6,936.5 1429.6,939.2 1430.6,938.7 1431.6,939.7 1432.6,940.1 1433.6,935.7 1434.6,938.1 1435.6,938.3 1436.6,937.9 1437.6,939.7 1438.6,941.5 1439.6,940.4 1440.6,941.5 1441.6,939.5 1442.6,942.3 1443.6,944.7 1444.6,942.7 1445.6,936.5 1446.6,935.3 1447.6,935.4 1448.6,936.6 1449.6,938.4 1450.6,941.7 1451.6,940.6 1452.6,940.9 1453.6,942.6 1454.6,947.4 1455.6,947.3 1456.6,943.4 1457.6,942.5 1458.6,942.9 1459.6,940.8 1460.6,938.9 1461.6,940.2 1462.6,941.7 1463.6,941.3 1464.6,942.6 1465.6,944.1 1466.6,942.9 1467.6,943.5 1468.6,944.5 1469.6,944.4 1470.6,945.8 1471.6,944.6 1472.6,940.6 1473.6,938.2 1474.6,939.6 1475.6,941.2 1476.6,941.3 1477.6,941.0 1478.6,941.5 1479.6,943.4 1480.6,944.2 1481.6,940.7 1482.6,941.7 1483.6,940.7 1484.6,938.4 1485.6,940.2 1486.6,942.6 1487.6,945.6 1488.6,944.0 1489.6,942.5 1490.6,940.3 1491.6,942.6 1492.6,942.5 1493.6,943.1 1494.6,944.6 1495.6,946.2 1496.6,944.1 1497.6,944.0 1498.6,944.0 1499.6,944.0 1500.6,945.4 1501.6,948.5 1502.6,949.1 1503.6,945.1 1504.6,942.6 1505.6,946.5 1506.6,950.7 1507.6,948.7 1508.6,947.3 1509.6,945.2 1510.6,942.6 1511.6,943.0 1512.6,941.5 1513.6,944.0 1514.6,946.2 1515.6,946.9 1516.6,944.7 1517.6,943.2 1518.6,943.9 1519.6,944.3 1520.6,947.4 1521.6,943.2 1522.6,940.8 1523.6,944.0 1524.6,949.3 1525.6,946.2 1526.6,946.7 1527.6,946.1 1528.6,942.2 1529.6,942.5 1530.6,943.7 1531.6,942.6 1532.6,944.1 1533.6,945.4 1534.6,944.9 1535.6,943.2 1536.6,943.4 1537.6,942.9 1538.6,941.0 1539.6,941.6 1540.6,943.8 1541.6,944.0 1542.6,946.1 1543.6,947.0 1544.6,947.4 1545.6,945.7 1546.6,946.5 1547.6,945.1 1548.6,945.0 1549.6,949.2 1550.6,946.5 1551.6,944.9 1552.6,948.1 1553.6,948.2 1554.6,947.7 1555.6,946.7 1556.6,944.3 1557.6,945.9 1558.6,947.5 1559.6,944.8 1560.6,944.4 1561.6,944.4 1562.6,944.4 1563.6,947.0 1564.6,947.2 1565.6,948.1 1566.6,945.2 1567.6,945.9 1568.6,948.4 1569.6,949.3 1570.6,947.8 1571.6,944.9 1572.6,945.8 1573.6,946.9 1574.6,945.3 1575.6,943.7 1576.6,944.8 1577.6,945.7 1578.6,944.4 1579.6,944.2 1580.6,944.3 1581.6,944.4 1582.6,944.6 1583.6,947.6 1584.6,948.7 1585.6,945.5 1586.6,945.4 1587.6,947.6 1588.6,948.5 1589.6,944.2 1590.6,944.8 1591.6,949.5 1592.6,947.7 1593.6,943.6 1594.6,941.4 1595.6,944.4 1596.6,945.4 1597.6,946.7 1598.6,949.3 1599.6,948.7 1600.6,947.6 1601.6,945.8 1602.6,947.6 1603.6,947.8 1604.6,947.3 1605.6,947.2 1606.6,945.3 1607.6,943.2 1608.6,944.4 1609.6,947.2 1610.6,947.5 1611.6,949.7 1612.6,950.6 1613.6,947.9 1614.6,945.0 1615.6,943.9 1616.6,943.8 1617.6,945.6 1618.6,947.5 1619.6,945.1 1620.6,942.8 1621.6,946.0 1622.6,950.1 1623.6,948.7 1624.6,946.9 1625.6,947.0 1626.6,943.6 1627.6,944.3 1628.6,949.8 1629.6,949.7 1630.6,947.1 1631.6,947.1 1632.6,944.1 1633.6,946.0 1634.6,949.9 1635.6,951.2 1636.6,951.3 1637.6,951.0 1638.6,951.2 1639.6,949.7 1640.6,946.7 1641.6,947.3 1642.6,947.1 1643.6,946.0 1644.6,943.5 1645.6,944.3 1646.6,947.0 1647.6,945.5 1648.6,944.0 1649.6,944.8 1650.6,946.2 1651.6,948.2 1652.6,948.9 1653.6,949.8 1654.6,948.9 1655.6,947.8 1656.6,945.3 1657.6,944.6 1658.6,947.4 1659.6,948.6 1660.6,947.2 1661.6,943.9 1662.6,943.8 1663.6,943.0 1664.6,943.4 1665.6,944.6 1666.6,942.9 1667.6,942.7 1668.6,946.8 1669.6,949.0 1670.6,948.9 1671.6,949.0 1672.6,948.7 1673.6,947.1 1674.6,946.0 1675.6,947.7 1676.6,947.0 1677.6,946.6 1678.6,946.0 1679.6,945.5 1680.6,946.4 1681.6,944.4 1682.6,944.1 1683.6,942.0 1684.6,942.7 1685.6,943.9 1686.6,947.6 1687.6,947.0 1688.6,946.6 1689.6,944.8 1690.6,946.4 1691.6,947.7 1692.6,949.8 1693.6,953.5 1694.6,951.4 1695.6,948.2 1696.6,946.1 1697.6,946.1 1698.6,946.5 1699.6,946.9 1700.6,948.6 1701.6,946.9 1702.6,944.3 1703.6,945.0 1704.6,945.7 1705.6,947.2 1706.6,949.2 1707.6,946.8 1708.6,949.6 1709.6,950.5 1710.6,946.4 1711.6,943.1 1712.6,945.1 1713.6,949.4 1714.6,948.6 1715.6,948.4 1716.6,949.3 1717.6,946.3 1718.6,943.5 1719.6,947.1 1720.6,947.4 1721.6,947.8 1722.6,949.3 1723.6,947.5 1724.6,945.4 1725.6,948.0 1726.6,944.7 1727.6,941.1 1728.6,942.3 1729.6,945.1 1730.6,944.9 1731.6,942.5 1732.6,943.3 1733.6,946.6 1734.6,951.6 1735.6,949.5 1736.6,946.0 1737.6,944.9 1738.6,947.0 1739.6,947.7 1740.6,947.8 1741.6,946.9 1742.6,950.4 1743.6,951.3 1744.6,950.7 1745.6,951.9 1746.6,950.5 1747.6,950.6 1748.6,950.7 1749.6,950.1 1750.6,950.3 1751.6,948.1 1752.6,948.0 1753.6,948.6 1754.6,948.1 1755.6,946.5 1756.6,945.3 1757.6,947.7 1758.6,949.2 1759.6,950.4 1760.6,949.5 1761.6,949.3 1762.6,949.7 1763.6,949.3 1764.6,950.5 1765.6,948.1 1766.6,950.2 1767.6,949.2 1768.6,947.5 1769.6,949.2 1770.6,950.2 1771.6,948.9 1772.6,948.8 1773.6,949.1 1774.6,947.6 1775.6,946.7 1776.6,945.1 1777.6,946.8 1778.6,948.5 1779.6,948.0 1780.6,949.1 1781.6,946.4 1782.6,945.9 1783.6,946.4 1784.6,947.3 1785.6,950.7 1786.6,949.6 1787.6,945.4 1788.6,947.6 1789.6,947.1 1790.6,945.6 1791.6,946.6 1792.6,947.3 1793.6,948.7 1794.6,948.1 1795.6,944.1 1796.6,943.4 1797.6,944.6 1798.6,943.0 1799.6,945.5 1800.6,949.4 1801.6,949.3 1802.6,947.7" fill="none" stroke="#0000FF" stroke-width="2.1" stroke-linejoin="round" stroke-linecap="butt"/>
<path d="M1803.0 506.3 V964.1 M1046.6 506.3 V964.1" fill="none" stroke="#8a8a8a" stroke-width="1.3" stroke-linecap="square"/>
<path d="M1046.6 506.3 H1803.0" fill="none" stroke="#b0b0b0" stroke-width="1.4" stroke-linecap="square"/>
<path d="M1046.6 964.1 H1803.0" fill="none" stroke="#a4a4a4" stroke-width="1.6" stroke-linecap="square"/>
<path d="M1061.6 964.1 v3.6 M1097.2 964.1 v3.6 M1132.8 964.1 v5.8 M1168.4 964.1 v3.6 M1204.0 964.1 v3.6 M1239.6 964.1 v3.6 M1275.2 964.1 v3.6 M1310.8 964.1 v5.8 M1346.4 964.1 v3.6 M1382.0 964.1 v3.6 M1417.6 964.1 v3.6 M1453.2 964.1 v3.6 M1488.8 964.1 v5.8 M1524.4 964.1 v3.6 M1560.0 964.1 v3.6 M1595.6 964.1 v3.6 M1631.2 964.1 v3.6 M1666.8 964.1 v5.8 M1702.4 964.1 v3.6 M1738.0 964.1 v3.6 M1773.6 964.1 v3.6 M1803.0 520.1 h4.0 M1803.0 539.5 h4.0 M1803.0 558.9 h6.0 M1803.0 578.2 h4.0 M1803.0 597.6 h4.0 M1803.0 617.0 h4.0 M1803.0 636.4 h4.0 M1803.0 655.8 h6.0 M1803.0 675.1 h4.0 M1803.0 694.5 h4.0 M1803.0 713.9 h4.0 M1803.0 733.3 h4.0 M1803.0 752.7 h6.0 M1803.0 772.0 h4.0 M1803.0 791.4 h4.0 M1803.0 810.8 h4.0 M1803.0 830.2 h4.0 M1803.0 849.6 h6.0 M1803.0 868.9 h4.0 M1803.0 888.3 h4.0 M1803.0 907.7 h4.0 M1803.0 927.1 h4.0 M1803.0 946.5 h6.0" stroke="#b0b0b0" stroke-width="0.9" fill="none"/>
<text font-family="'Liberation Sans', Arial, sans-serif" font-size="22.39" fill="#000" stroke="#000" stroke-width="0.40" stroke-linejoin="round" transform="translate(1099.96 990.48) scale(1.0655 1)" xml:space="preserve">- 63.0</text>
<text font-family="'Liberation Sans', Arial, sans-serif" font-size="22.39" fill="#000" stroke="#000" stroke-width="0.40" stroke-linejoin="round" transform="translate(1277.86 990.48) scale(1.0644 1)" xml:space="preserve">- 63.5</text>
<text font-family="'Liberation Sans', Arial, sans-serif" font-size="22.39" fill="#000" stroke="#000" stroke-width="0.40" stroke-linejoin="round" transform="translate(1455.56 990.48) scale(1.0655 1)" xml:space="preserve">- 64.0</text>
<text font-family="'Liberation Sans', Arial, sans-serif" font-size="22.39" fill="#000" stroke="#000" stroke-width="0.40" stroke-linejoin="round" transform="translate(1633.46 990.48) scale(1.0697 1)" xml:space="preserve">- 64.5</text>
<text font-family="'Liberation Sans', Arial, sans-serif" font-size="20.43" fill="#000" stroke="#000" stroke-width="0.40" stroke-linejoin="round" transform="translate(1756.77 990.21) scale(1.1666 1)" xml:space="preserve">[ppm]</text>
<text font-family="'Liberation Sans', Arial, sans-serif" font-size="18.03" fill="#000" stroke="#000" stroke-width="0.30" stroke-linejoin="round" transform="translate(1365.16 1007.07) scale(1.0352 1)" xml:space="preserve">19</text>
<text font-family="'Liberation Sans', Arial, sans-serif" font-size="25.38" fill="#000" stroke="#000" stroke-width="0.99" stroke-linejoin="round" transform="translate(1387.55 1015.61) scale(0.8120 1)" xml:space="preserve">F</text>
<text font-family="'Liberation Sans', Arial, sans-serif" font-size="26.17" fill="#000" stroke="#000" stroke-width="0.50" stroke-linejoin="round" transform="translate(1406.99 1014.75) scale(1.0660 1)" xml:space="preserve">(ppm)</text>
<text font-family="'Liberation Sans', Arial, sans-serif" font-size="22.39" fill="#000" stroke="#000" stroke-width="0.30" stroke-linejoin="round" transform="translate(1422.61 564.53) scale(1.0528 1)" xml:space="preserve">0.8</text>
<text font-family="'Liberation Sans', Arial, sans-serif" font-size="22.03" fill="#000" stroke="#000" stroke-width="0.30" stroke-linejoin="round" transform="translate(1459.99 564.45) scale(1.1560 1)" xml:space="preserve">mM</text>
<text font-family="'Liberation Sans', Arial, sans-serif" font-size="22.04" fill="#000" stroke="#000" stroke-width="0.39" stroke-linejoin="round" transform="translate(1507.42 564.41) scale(0.9581 1)" xml:space="preserve"><tspan font-weight="bold">1</tspan></text>
<text font-family="'Liberation Sans', Arial, sans-serif" font-size="22.39" fill="#000" stroke="#000" stroke-width="0.30" stroke-linejoin="round" transform="translate(1429.51 725.73) scale(1.0528 1)" xml:space="preserve">0.8</text>
<text font-family="'Liberation Sans', Arial, sans-serif" font-size="22.03" fill="#000" stroke="#000" stroke-width="0.30" stroke-linejoin="round" transform="translate(1466.88 725.65) scale(1.1620 1)" xml:space="preserve">mM</text>
<text font-family="'Liberation Sans', Arial, sans-serif" font-size="22.07" fill="#000" stroke="#000" stroke-width="0.37" stroke-linejoin="round" transform="translate(1514.30 725.62) scale(0.9680 1)" xml:space="preserve"><tspan font-weight="bold">1</tspan></text>
<text font-family="'Liberation Sans', Arial, sans-serif" font-size="21.22" fill="#000" stroke="#000" stroke-width="0.30" stroke-linejoin="round" transform="translate(1429.63 755.96) scale(1.0679 1)" xml:space="preserve">+</text>
<text font-family="'Liberation Sans', Arial, sans-serif" font-size="22.82" fill="#000" stroke="#000" stroke-width="0.30" stroke-linejoin="round" transform="translate(1453.51 755.82) scale(1.0368 1)" xml:space="preserve">0.8</text>
<text font-family="'Liberation Sans', Arial, sans-serif" font-size="22.46" fill="#000" stroke="#000" stroke-width="0.30" stroke-linejoin="round" transform="translate(1490.88 755.75) scale(1.1368 1)" xml:space="preserve">mM</text>
<text font-family="'Liberation Sans', Arial, sans-serif" font-size="22.30" fill="#000" stroke="#000" stroke-width="0.49" stroke-linejoin="round" transform="translate(1537.70 755.73) scale(0.9257 1)" xml:space="preserve">eParE</text>
<text font-family="'Liberation Sans', Arial, sans-serif" font-size="22.68" fill="#000" stroke="#000" stroke-width="0.30" stroke-linejoin="round" transform="translate(1422.62 874.42) scale(1.0298 1)" xml:space="preserve">0.8</text>
<text font-family="'Liberation Sans', Arial, sans-serif" font-size="22.32" fill="#000" stroke="#000" stroke-width="0.30" stroke-linejoin="round" transform="translate(1459.79 874.35) scale(1.1411 1)" xml:space="preserve">mM</text>
<text font-family="'Liberation Sans', Arial, sans-serif" font-size="22.32" fill="#000" stroke="#000" stroke-width="0.40" stroke-linejoin="round" transform="translate(1507.31 874.30) scale(0.9551 1)" xml:space="preserve"><tspan font-weight="bold">1</tspan></text>
<text font-family="'Liberation Sans', Arial, sans-serif" font-size="21.22" fill="#000" stroke="#000" stroke-width="0.30" stroke-linejoin="round" transform="translate(1525.34 874.66) scale(1.0584 1)" xml:space="preserve">+</text>
<text font-family="'Liberation Sans', Arial, sans-serif" font-size="22.68" fill="#000" stroke="#000" stroke-width="0.30" stroke-linejoin="round" transform="translate(1548.11 874.42) scale(1.0398 1)" xml:space="preserve">0.8</text>
<text font-family="'Liberation Sans', Arial, sans-serif" font-size="22.32" fill="#000" stroke="#000" stroke-width="0.30" stroke-linejoin="round" transform="translate(1586.39 874.35) scale(1.1382 1)" xml:space="preserve">mM</text>
<text font-family="'Liberation Sans', Arial, sans-serif" font-size="22.18" fill="#000" stroke="#000" stroke-width="0.48" stroke-linejoin="round" transform="translate(1633.30 874.34) scale(0.9295 1)" xml:space="preserve">eParE</text>
<text font-family="'Liberation Sans', Arial, sans-serif" font-size="21.22" fill="#000" stroke="#000" stroke-width="0.30" stroke-linejoin="round" transform="translate(1422.44 903.76) scale(1.0584 1)" xml:space="preserve">+</text>
<text font-family="'Liberation Sans', Arial, sans-serif" font-size="22.93" fill="#000" stroke="#000" stroke-width="0.32" stroke-linejoin="round" transform="translate(1440.85 903.61) scale(0.9915 1)" xml:space="preserve">0.3</text>
<text font-family="'Liberation Sans', Arial, sans-serif" font-size="22.61" fill="#000" stroke="#000" stroke-width="0.30" stroke-linejoin="round" transform="translate(1477.69 903.55) scale(1.1266 1)" xml:space="preserve">mM</text>
<text font-family="'Liberation Sans', Arial, sans-serif" font-size="22.83" fill="#000" stroke="#000" stroke-width="0.32" stroke-linejoin="round" transform="translate(1524.98 903.54) scale(0.9908 1)" xml:space="preserve"><tspan font-weight="bold">2</tspan></text>
<text font-family="'Liberation Sans', Arial, sans-serif" font-size="44.68" fill="#000" stroke="#000" stroke-width="0.90" stroke-linejoin="round" transform="translate(973.56 480.17) scale(1.0050 1)" xml:space="preserve">(d)</text>
</g>
<g id="panel-c">
<defs>
<radialGradient id="gF" cx="0.4" cy="0.38" r="0.65" fx="0.36" fy="0.32">
<stop offset="0" stop-color="#FF8CFF"/><stop offset="0.18" stop-color="#F62AF6"/><stop offset="0.7" stop-color="#E412E4"/><stop offset="1" stop-color="#9C0A9C"/>
</radialGradient>
<radialGradient id="gH" cx="0.5" cy="0.5" r="0.5">
<stop offset="0" stop-color="#FFF27A" stop-opacity="1"/><stop offset="0.3" stop-color="#FFD040" stop-opacity="0.95"/><stop offset="0.6" stop-color="#FFA010" stop-opacity="0.5"/><stop offset="1" stop-color="#FF8A00" stop-opacity="0"/>
</radialGradient>
<radialGradient id="gL" cx="0.5" cy="0.5" r="0.5">
<stop offset="0" stop-color="#FF8A08" stop-opacity="0.9"/><stop offset="0.6" stop-color="#FA8404" stop-opacity="0.6"/><stop offset="1" stop-color="#F58000" stop-opacity="0"/>
</radialGradient>
<radialGradient id="gD" cx="0.5" cy="0.5" r="0.5">
<stop offset="0" stop-color="#6E3000" stop-opacity="0.95"/><stop offset="0.5" stop-color="#8E4000" stop-opacity="0.6"/><stop offset="1" stop-color="#B85800" stop-opacity="0"/>
</radialGradient>
<filter id="b1" x="-30%" y="-30%" width="160%" height="160%"><feGaussianBlur stdDeviation="1.2"/></filter>
<filter id="b2" x="-30%" y="-30%" width="160%" height="160%"><feGaussianBlur stdDeviation="2.5"/></filter>
<filter id="b3" x="-30%" y="-30%" width="160%" height="160%"><feGaussianBlur stdDeviation="4.5"/></filter>
<filter id="b05" x="-10%" y="-10%" width="120%" height="120%"><feGaussianBlur stdDeviation="0.4"/></filter>
<clipPath id="clip1"><rect x="29.2" y="545.3" width="241.5" height="241.2"/></clipPath>
<clipPath id="clip2"><rect x="649.2" y="545.3" width="241.4" height="195.5"/></clipPath>
<clipPath id="clip3"><rect x="649.3" y="772.2" width="241.3" height="180.4"/></clipPath>
</defs>
<defs><filter id="surf1" x="5" y="535" width="280" height="262" filterUnits="userSpaceOnUse" color-interpolation-filters="sRGB"><feGaussianBlur in="SourceAlpha" stdDeviation="5" result="h"/><feDiffuseLighting in="h" surfaceScale="6" diffuseConstant="1.3" lighting-color="#FF7C00" result="d"><feDistantLight azimuth="235" elevation="50"/></feDiffuseLighting><feColorMatrix in="h" type="matrix" values="0 0 0 0 0.30  0 0 0 0 0.10  0 0 0 0 0  0 0 0 -0.36 0.26" result="ao"/><feComposite in="ao" in2="d" operator="over" result="c"/><feGaussianBlur in="c" stdDeviation="0.7"/></filter><filter id="surf3" x="635" y="760" width="270" height="205" filterUnits="userSpaceOnUse" color-interpolation-filters="sRGB"><feGaussianBlur in="SourceAlpha" stdDeviation="5" result="h"/><feDiffuseLighting in="h" surfaceScale="6" diffuseConstant="1.3" lighting-color="#FF7C00" result="d"><feDistantLight azimuth="235" elevation="50"/></feDiffuseLighting><feColorMatrix in="h" type="matrix" values="0 0 0 0 0.30  0 0 0 0 0.10  0 0 0 0 0  0 0 0 -0.36 0.26" result="ao"/><feComposite in="ao" in2="d" operator="over" result="c"/><feGaussianBlur in="c" stdDeviation="0.7"/></filter></defs>
<polyline points="29.5,970.2 30.3,966.5 31.1,970.8 31.9,965.7 32.7,967.6 33.5,969.7 34.3,963.8 35.1,965.5 35.9,967.8 36.7,967.8 37.5,968.8 38.3,970.6 39.1,967.4 39.9,974.3 40.7,969.5 41.5,975.8 42.3,975.6 43.1,972.6 43.9,964.1 44.7,964.6 45.5,966.7 46.3,962.0 47.1,969.3 47.9,960.3 48.7,967.1 49.5,965.3 50.3,969.7 51.1,961.6 51.9,968.8 52.7,967.8 53.5,967.8 54.3,974.1 55.1,976.5 55.9,968.6 56.7,967.5 57.5,961.4 58.3,965.1 59.1,965.7 59.9,970.1 60.7,970.7 61.5,968.9 62.3,967.3 63.1,971.7 63.9,969.5 64.7,975.1 65.5,973.5 66.3,967.6 67.1,966.3 67.9,969.6 68.7,965.2 69.5,968.4 70.3,969.3 71.1,969.7 71.9,969.6 72.7,966.0 73.5,964.3 74.3,963.2 75.1,969.3 75.9,976.3 76.7,965.9 77.5,975.9 78.3,965.7 79.1,966.7 79.9,968.1 80.7,973.7 81.5,967.7 82.3,974.8 83.1,976.3 83.9,975.5 84.7,970.7 85.5,971.1 86.3,971.2 87.1,972.1 87.9,969.4 88.7,967.4 89.5,959.6 90.3,964.8 91.1,968.1 91.9,971.3 92.7,974.4 93.5,966.5 94.3,966.9 95.1,966.0 95.9,975.1 96.7,967.3 97.5,968.3 98.3,970.3 99.1,968.8 99.9,976.6 100.7,971.9 101.5,967.2 102.3,971.0 103.1,965.2 103.9,971.3 104.7,971.1 105.5,965.8 106.3,966.8 107.1,967.8 107.9,963.4 108.7,970.8 109.5,967.7 110.3,968.0 111.1,966.0 111.9,968.1 112.7,970.8 113.5,972.4 114.3,973.8 115.1,974.9 115.9,971.5 116.7,967.7 117.5,970.6 118.3,966.4 119.1,970.1 119.9,969.5 120.7,969.5 121.5,969.7 122.3,966.7 123.1,963.8 123.9,968.5 124.7,975.0 125.5,965.8 126.3,969.6 127.1,970.9 127.9,969.2 128.7,968.1 129.5,967.7 130.3,976.6 131.1,971.3 131.9,972.0 132.7,970.8 133.5,965.6 134.3,970.0 135.1,973.8 135.9,971.2 136.7,969.6 137.5,966.9 138.3,969.2 139.1,966.9 139.9,970.4 140.7,961.0 141.5,966.3 142.3,963.9 143.1,968.3 143.9,968.7 144.7,971.1 145.5,972.3 146.3,969.0 147.1,964.8 147.9,968.7 148.7,966.9 149.5,969.7 150.3,966.4 151.1,970.6 151.9,966.6 152.7,969.4 153.5,966.9 154.3,967.3 155.1,967.4 155.9,963.8 156.7,963.0 157.5,964.5 158.3,961.3 159.1,955.3 159.9,943.7 160.7,915.5 161.5,850.3 162.3,769.7 163.1,716.9 163.9,742.7 164.7,815.9 165.5,887.0 166.3,935.3 167.1,948.2 167.9,957.4 168.7,962.4 169.5,959.0 170.3,961.3 171.1,961.2 171.9,954.4 172.7,956.0 173.5,937.3 174.3,917.8 175.1,890.4 175.9,855.1 176.7,835.6 177.5,824.8 178.3,832.7 179.1,860.7 179.9,885.3 180.7,911.3 181.5,933.3 182.3,940.6 183.1,962.1 183.9,959.6 184.7,962.2 185.5,959.8 186.3,966.2 187.1,969.9 187.9,965.5 188.7,971.9 189.5,968.5 190.3,968.3 191.1,966.5 191.9,967.2 192.7,969.2 193.5,968.3 194.3,968.6 195.1,965.9 195.9,969.2 196.7,967.4 197.5,970.2 198.3,967.6 199.1,967.3 199.9,964.0 200.7,959.9 201.5,967.9 202.3,964.6 203.1,966.6 203.9,968.7 204.7,966.1 205.5,974.5 206.3,975.6 207.1,968.7 207.9,973.5 208.7,967.9 209.5,976.6 210.3,970.9 211.1,968.9 211.9,964.4 212.7,964.2 213.5,971.6 214.3,967.1 215.1,966.9 215.9,970.2 216.7,972.5 217.5,971.9 218.3,968.7 219.1,970.2 219.9,969.1 220.7,968.6 221.5,964.7 222.3,973.1 223.1,970.5 223.9,972.6 224.7,973.9 225.5,972.3 226.3,963.6 227.1,970.7 227.9,965.0 228.7,972.8 229.5,968.1 230.3,976.5 231.1,968.0 231.9,972.3 232.7,972.4 233.5,966.3 234.3,968.7 235.1,969.2 235.9,967.2 236.7,968.2 237.5,972.4 238.3,971.2 239.1,973.2 239.9,967.3 240.7,970.1 241.5,967.1 242.3,966.6 243.1,968.6 243.9,967.0 244.7,968.0 245.5,964.9 246.3,965.9 247.1,963.7 247.9,968.6 248.7,963.8 249.5,970.7 250.3,968.2 251.1,967.2 251.9,965.5 252.7,967.8 253.5,971.8 254.3,964.4 255.1,970.6 255.9,968.1 256.7,978.3 257.5,970.4 258.3,970.6 259.1,971.3 259.9,972.2 260.7,964.1 261.5,970.3 262.3,966.8 263.1,967.3 263.9,973.3 264.7,971.1 265.5,970.4 266.3,970.1 267.1,970.7 267.9,965.7 268.7,972.1 269.5,973.3 270.3,970.7 271.1,973.3 271.9,968.8 272.7,973.2 273.5,967.6 274.3,973.1 275.1,968.1 275.9,974.4 276.7,972.0 277.5,971.0 278.3,970.6 279.1,967.0 279.9,967.2 280.7,971.5 281.5,970.9 282.3,967.1 283.1,975.0 283.9,970.3 284.7,969.4 285.5,973.4 286.3,966.1 287.1,970.2 287.9,972.6 288.7,967.6 289.5,970.5 290.3,966.0 291.1,970.2 291.9,970.5 292.7,971.8 293.5,969.7 294.3,966.8 295.1,970.6 295.9,968.7 296.7,971.5 297.5,973.5 298.3,972.6 299.1,968.5 299.9,969.4 300.7,970.6 301.5,975.3 302.3,970.7 303.1,966.7 303.9,964.3 304.7,975.3 305.5,974.7 306.3,967.8 307.1,968.1 307.9,970.8 308.7,967.8 309.5,974.4 310.3,965.5 311.1,970.6 311.9,968.1 312.7,970.8 313.5,968.6 314.3,968.5 315.1,972.0 315.9,973.0 316.7,974.7 317.5,962.9 318.3,971.1 319.1,964.9 319.9,970.8 320.7,973.8 321.5,971.1 322.3,965.1 323.1,968.3 323.9,970.6 324.7,971.7 325.5,974.5 326.3,975.1 327.1,970.6 327.9,968.7 328.7,973.5 329.5,972.3 330.3,961.6 331.1,968.9 331.9,972.5 332.7,968.1 333.5,965.8 334.3,970.6 335.1,965.0 335.9,971.1 336.7,969.3 337.5,976.0 338.3,971.4 339.1,968.6 339.9,972.2 340.7,974.3 341.5,974.7 342.3,973.5 343.1,966.2 343.9,968.1 344.7,971.0 345.5,969.1 346.3,965.3 347.1,967.1 347.9,968.4 348.7,970.7 349.5,964.6 350.3,963.9 351.1,968.3 351.9,964.6 352.7,968.6 353.5,972.3 354.3,968.1 355.1,965.8 355.9,967.8 356.7,968.3 357.5,971.8 358.3,969.2 359.1,963.5 359.9,967.5 360.7,969.8 361.5,970.4 362.3,971.5 363.1,971.5 363.9,964.4 364.7,971.2 365.5,962.7 366.3,968.8 367.1,965.1 367.9,970.7 368.7,970.4 369.5,969.0 370.3,970.2 371.1,970.1 371.9,973.0 372.7,966.8 373.5,964.2 374.3,962.5 375.1,968.1 375.9,962.3 376.7,959.9 377.5,966.6 378.3,968.7 379.1,970.5 379.9,963.5 380.7,972.8 381.5,969.9 382.3,968.8 383.1,966.6 383.9,969.7 384.7,974.6 385.5,968.1 386.3,968.1 387.1,971.8 387.9,974.6 388.7,971.2 389.5,967.0 390.3,975.4 391.1,970.0 391.9,969.3 392.7,971.3 393.5,969.6 394.3,965.5 395.1,963.2 395.9,965.5 396.7,973.1 397.5,970.0 398.3,970.8 399.1,972.6 399.9,968.8 400.7,971.0 401.5,972.0 402.3,968.1 403.1,963.4 403.9,964.9 404.7,971.5 405.5,967.4 406.3,967.3 407.1,971.4 407.9,972.0 408.7,967.2 409.5,969.3 410.3,967.6 411.1,975.5 411.9,966.8 412.7,973.6 413.5,972.0 414.3,967.7 415.1,970.4 415.9,972.5 416.7,972.8 417.5,971.7 418.3,968.2 419.1,970.0 419.9,968.1 420.7,972.7 421.5,969.7 422.3,966.2 423.1,967.3 423.9,968.7 424.7,964.7 425.5,972.9 426.3,968.6 427.1,965.3 427.9,966.7 428.7,962.4 429.5,963.8 430.3,969.5 431.1,968.3 431.9,966.4 432.7,969.3 433.5,967.5 434.3,973.9 435.1,966.5 435.9,963.5 436.7,966.0 437.5,968.8 438.3,968.0 439.1,957.8 439.9,969.1 440.7,969.8 441.5,970.2 442.3,965.0 443.1,966.7 443.9,968.6 444.7,966.8 445.5,972.0 446.3,967.7 447.1,970.4 447.9,966.4 448.7,969.8 449.5,969.3 450.3,960.6 451.1,964.9 451.9,969.8 452.7,968.0 453.5,969.9 454.3,965.2 455.1,972.5 455.9,973.6 456.7,968.7 457.5,967.4 458.3,967.4 459.1,972.1 459.9,973.6 460.7,969.1 461.5,973.0 462.3,969.6 463.1,973.5 463.9,969.3 464.7,972.6 465.5,969.7 466.3,970.0 467.1,976.5 467.9,964.0 468.7,973.5 469.5,971.5 470.3,968.1 471.1,973.8 471.9,970.0 472.7,971.6 473.5,972.0 474.3,967.0 475.1,973.3 475.9,970.9 476.7,971.1 477.5,971.0 478.3,970.4 479.1,969.8 479.9,967.1 480.7,976.0 481.5,972.7 482.3,971.9 483.1,972.7 483.9,968.6 484.7,973.1 485.5,976.4 486.3,975.1 487.1,972.2 487.9,971.3 488.7,968.1 489.5,971.8 490.3,971.8 491.1,969.2 491.9,965.3 492.7,968.0 493.5,970.8 494.3,975.5 495.1,970.4 495.9,964.8 496.7,969.4 497.5,969.1 498.3,961.1 499.1,967.5 499.9,975.6 500.7,966.9 501.5,977.7 502.3,966.3 503.1,970.2 503.9,969.0 504.7,964.4 505.5,970.3 506.3,970.9 507.1,968.9 507.9,963.2 508.7,972.5 509.5,971.4 510.3,967.5 511.1,970.8 511.9,968.2 512.7,966.1 513.5,965.9 514.3,967.0 515.1,970.0 515.9,969.1 516.7,972.7 517.5,965.6 518.3,964.8 519.1,969.9 519.9,973.1 520.7,974.7 521.5,970.4 522.3,970.0 523.1,968.8 523.9,962.8 524.7,966.4 525.5,970.9 526.3,971.5 527.1,974.8 527.9,969.9 528.7,973.5 529.5,967.1 530.3,968.2 531.1,971.8 531.9,970.6 532.7,967.4 533.5,970.2 534.3,970.1 535.1,975.9 535.9,970.8 536.7,971.9 537.5,977.7 538.3,973.1 539.1,974.5 539.9,973.1 540.7,974.3 541.5,974.3 542.3,969.9 543.1,973.0 543.9,966.1 544.7,963.6 545.5,971.2 546.3,972.8 547.1,975.9 547.9,969.4 548.7,973.2 549.5,972.6 550.3,966.4 551.1,961.4 551.9,969.0 552.7,968.4 553.5,966.0 554.3,970.6 555.1,973.4 555.9,970.2 556.7,967.2 557.5,969.8 558.3,970.3 559.1,970.0 559.9,970.3 560.7,966.8 561.5,969.8 562.3,970.5 563.1,972.8 563.9,966.3 564.7,968.5 565.5,975.1 566.3,970.7 567.1,974.0 567.9,969.8 568.7,965.8 569.5,969.1 570.3,964.1 571.1,970.9 571.9,972.6 572.7,971.4 573.5,970.7 574.3,966.6 575.1,970.2 575.9,970.9 576.7,969.6 577.5,966.1 578.3,959.7 579.1,963.0 579.9,970.7 580.7,968.6 581.5,977.4 582.3,974.3 583.1,975.0 583.9,970.0 584.7,972.6 585.5,962.6 586.3,961.6 587.1,962.8 587.9,965.9 588.7,963.7 589.5,964.7 590.3,964.8 591.1,964.6 591.9,965.3 592.7,971.4 593.5,964.5 594.3,971.0 595.1,959.8 595.9,969.0 596.7,964.4 597.5,964.8 598.3,969.6 599.1,971.5 599.9,966.7 600.7,971.6 601.5,970.6 602.3,976.1 603.1,964.8 603.9,969.8 604.7,967.3 605.5,967.4 606.3,967.9 607.1,972.6 607.9,973.9 608.7,969.8 609.5,970.2 610.3,970.6 611.1,971.0 611.9,970.0 612.7,965.7 613.5,971.5 614.3,970.0 615.1,967.6 615.9,969.3 616.7,970.3 617.5,966.9 618.3,966.5 619.1,972.3 619.9,976.8 620.7,970.5 621.5,972.5 622.3,970.2 623.1,970.3 623.9,966.9 624.7,969.1 625.5,965.2 626.3,969.6 627.1,970.7 627.9,969.0 628.7,968.3 629.5,972.8 630.3,969.0 631.1,965.1 631.9,967.9 632.7,968.2 633.5,970.8 634.3,970.7 635.1,971.0 635.9,972.5 636.7,969.3 637.5,970.9 638.3,971.6 639.1,977.5 639.9,970.9 640.7,971.5 641.5,970.6 642.3,968.5 643.1,967.3 643.9,969.2 644.7,970.3 645.5,973.1 646.3,969.2 647.1,968.2 647.9,970.2 648.7,974.0 649.5,965.2 650.3,970.3 651.1,967.7 651.9,963.4 652.7,972.9 653.5,967.9 654.3,966.2 655.1,964.1 655.9,966.6 656.7,968.0 657.5,969.2 658.3,973.6 659.1,965.8 659.9,965.8 660.7,966.3 661.5,962.6 662.3,972.4 663.1,964.1 663.9,968.4 664.7,971.6 665.5,973.1 666.3,970.5 667.1,971.3 667.9,970.9 668.7,964.2 669.5,975.2 670.3,971.5 671.1,965.3 671.9,966.8 672.7,970.5 673.5,971.1 674.3,966.2 675.1,966.8 675.9,970.9 676.7,966.0 677.5,967.2 678.3,965.0 679.1,969.9 679.9,965.6 680.7,966.8 681.5,967.7 682.3,968.6 683.1,966.7 683.9,971.0 684.7,969.8 685.5,966.7 686.3,970.4 687.1,968.0 687.9,969.7 688.7,974.9 689.5,963.9 690.3,969.3 691.1,965.9 691.9,973.3 692.7,968.8 693.5,976.0 694.3,974.7 695.1,966.5 695.9,966.7 696.7,968.6 697.5,966.0 698.3,969.8 699.1,971.9 699.9,970.4 700.7,965.7 701.5,972.3 702.3,969.2 703.1,971.5 703.9,970.4 704.7,969.3 705.5,974.3 706.3,966.9 707.1,967.7 707.9,970.7 708.7,966.7 709.5,967.4 710.3,961.9 711.1,969.1 711.9,971.8 712.7,973.6 713.5,979.6 714.3,969.4 715.1,974.9 715.9,978.6 716.7,978.3 717.5,974.6 718.3,974.5 719.1,975.1 719.9,963.9 720.7,971.0 721.5,964.6 722.3,966.1 723.1,976.4 723.9,968.4 724.7,968.7 725.5,968.9 726.3,968.4 727.1,971.5 727.9,965.8 728.7,970.0 729.5,965.1 730.3,965.7 731.1,967.3 731.9,964.7 732.7,965.5 733.5,967.1 734.3,963.0 735.1,969.6 735.9,962.0 736.7,961.0 737.5,971.4 738.3,970.7 739.1,972.7 739.9,965.4 740.7,971.9 741.5,968.2 742.3,969.4 743.1,966.9 743.9,962.6 744.7,962.7 745.5,964.7 746.3,965.5 747.1,965.3 747.9,967.0 748.7,969.9 749.5,969.9 750.3,969.6 751.1,960.2 751.9,964.3 752.7,961.5 753.5,967.6 754.3,970.4 755.1,973.0 755.9,973.8 756.7,964.2 757.5,961.2 758.3,968.8 759.1,964.3 759.9,966.3 760.7,964.6 761.5,964.7 762.3,968.2 763.1,966.8 763.9,971.3 764.7,967.9 765.5,970.8 766.3,970.3 767.1,971.0 767.9,978.0 768.7,971.0 769.5,967.7 770.3,973.6 771.1,973.4 771.9,970.8 772.7,974.2 773.5,970.9 774.3,965.2 775.1,961.5 775.9,971.0 776.7,965.1 777.5,966.5 778.3,974.1 779.1,965.5 779.9,970.2 780.7,968.1 781.5,967.7 782.3,968.5 783.1,969.6 783.9,968.6 784.7,964.6 785.5,964.2 786.3,972.5 787.1,964.6 787.9,968.0 788.7,972.8 789.5,970.8 790.3,969.5 791.1,968.6 791.9,967.7 792.7,966.7 793.5,977.3 794.3,970.8 795.1,970.3 795.9,976.2 796.7,968.9 797.5,970.0 798.3,963.9 799.1,967.9 799.9,966.2 800.7,971.2 801.5,970.6 802.3,969.8 803.1,969.4 803.9,966.4 804.7,967.0 805.5,968.5 806.3,971.6 807.1,970.1 807.9,970.1 808.7,970.3 809.5,971.1 810.3,969.2 811.1,966.3 811.9,972.2 812.7,970.3 813.5,970.6 814.3,970.5 815.1,972.0 815.9,969.5 816.7,957.6 817.5,963.2 818.3,961.1 819.1,971.8 819.9,971.8 820.7,968.2 821.5,970.1 822.3,968.0 823.1,970.6 823.9,968.6 824.7,972.3 825.5,974.5 826.3,972.1 827.1,971.6 827.9,969.9 828.7,968.7 829.5,969.5 830.3,963.3 831.1,961.8 831.9,970.7 832.7,973.6 833.5,975.0 834.3,973.7 835.1,972.1 835.9,972.9 836.7,970.4 837.5,973.1 838.3,965.4 839.1,966.0 839.9,971.8 840.7,967.2 841.5,973.1 842.3,970.5 843.1,976.7 843.9,974.2 844.7,972.5 845.5,978.0 846.3,974.7 847.1,969.3 847.9,976.3 848.7,973.1 849.5,969.0 850.3,971.7 851.1,966.8 851.9,966.0 852.7,967.1 853.5,969.2 854.3,971.7 855.1,969.3 855.9,968.5 856.7,961.8 857.5,967.6 858.3,968.1 859.1,964.3 859.9,974.0 860.7,970.3 861.5,968.8 862.3,962.8 863.1,971.2 863.9,970.0 864.7,968.5 865.5,970.3 866.3,966.7 867.1,973.4 867.9,966.9 868.7,971.3 869.5,970.5 870.3,966.6 871.1,969.4 871.9,972.5 872.7,973.6 873.5,969.2 874.3,968.7 875.1,961.3 875.9,973.5 876.7,965.1 877.5,966.9 878.3,967.7 879.1,969.8 879.9,971.8 880.7,969.6 881.5,961.7 882.3,966.6 883.1,963.8 883.9,962.5 884.7,967.4 885.5,969.5 886.3,971.3 887.1,974.6 887.9,967.6 888.7,967.5 889.5,967.1 890.3,971.1 891.1,968.2 891.9,968.0 892.7,964.5 893.5,966.4 894.3,968.1 895.1,969.9 895.9,967.6 896.7,967.3 897.5,969.1 898.3,963.7 899.1,971.0 899.9,969.0 900.7,967.2 901.5,963.3 902.3,960.7 903.1,965.8 903.9,966.2 904.7,959.1 905.5,960.6 906.3,954.2 907.1,930.6 907.9,898.4 908.7,861.4 909.5,844.4 910.3,881.6 911.1,925.9 911.9,947.1 912.7,958.5 913.5,960.0 914.3,969.3 915.1,966.5 915.9,971.8 916.7,973.4 917.5,971.8 918.3,968.3 919.1,963.5 919.9,959.9 920.7,962.5 921.5,970.2 922.3,965.5 923.1,967.1 923.9,968.0 924.7,969.4 925.5,967.1 926.3,965.0 927.1,966.8 927.9,964.4 928.7,966.1 929.5,974.0 930.3,975.9 931.1,975.2 931.9,975.6 932.7,968.2 933.5,965.6 934.3,969.7 935.1,969.0 935.9,970.8 936.7,966.7 937.5,970.1 938.3,967.3 939.1,971.7 939.9,968.5 940.7,970.8 941.5,964.2 942.3,968.1 943.1,969.0 943.9,964.5 944.7,969.3 945.5,971.0 946.3,974.0 947.1,969.2 947.9,967.4 948.7,968.2 949.5,971.3 950.3,969.6 951.1,972.3 951.9,967.9 952.7,968.7 953.5,970.8 954.3,971.7 955.1,976.2 955.9,981.4 956.7,972.2 957.5,979.2 958.3,972.9 959.1,970.0 959.9,973.2 960.7,977.1 961.5,976.1 962.3,972.1 963.1,971.3 963.9,970.6 964.7,972.5 965.5,972.3" fill="none" stroke="#FF1010" stroke-width="1.0" stroke-linejoin="miter" stroke-linecap="butt"/>
<g clip-path="url(#clip1)"><rect x="10" y="540" width="270" height="252" fill="#F47800"/><g filter="url(#surf1)"><ellipse cx="35.0" cy="605.1" rx="22.5" ry="30.1" fill="#fff" opacity="0.5"/><ellipse cx="73.9" cy="601.4" rx="26.3" ry="28.8" fill="#fff" opacity="0.55"/><ellipse cx="50.1" cy="642.7" rx="28.8" ry="28.8" fill="#fff" opacity="0.5"/><ellipse cx="62.6" cy="622.7" rx="33.8" ry="43.8" fill="#fff" opacity="0.45"/><ellipse cx="15.0" cy="622.7" rx="20.0" ry="50.1" fill="#fff" opacity="0.4"/><ellipse cx="131.5" cy="562.6" rx="23.8" ry="18.8" fill="#fff" opacity="0.5"/><ellipse cx="97.7" cy="576.3" rx="15.0" ry="12.5" fill="#fff" opacity="0.35"/><ellipse cx="179.1" cy="583.8" rx="28.8" ry="28.8" fill="#fff" opacity="0.6"/><ellipse cx="204.1" cy="586.4" rx="16.3" ry="18.8" fill="#fff" opacity="0.4"/><ellipse cx="160.3" cy="556.3" rx="27.6" ry="15.0" fill="#fff" opacity="0.4"/><ellipse cx="38.8" cy="682.8" rx="23.8" ry="23.8" fill="#fff" opacity="0.5"/><ellipse cx="237.9" cy="649.0" rx="25.1" ry="33.8" fill="#fff" opacity="0.6"/><ellipse cx="256.7" cy="659.0" rx="16.3" ry="28.8" fill="#fff" opacity="0.45"/><ellipse cx="232.9" cy="697.8" rx="31.3" ry="31.3" fill="#fff" opacity="0.45"/><ellipse cx="186.6" cy="741.7" rx="21.3" ry="23.8" fill="#fff" opacity="0.5"/><ellipse cx="229.2" cy="744.2" rx="28.8" ry="16.3" fill="#fff" opacity="0.5"/><ellipse cx="149.0" cy="759.2" rx="23.8" ry="16.3" fill="#fff" opacity="0.5"/><ellipse cx="66.3" cy="731.6" rx="23.8" ry="21.3" fill="#fff" opacity="0.5"/><ellipse cx="48.1" cy="754.2" rx="21.3" ry="18.8" fill="#fff" opacity="0.5"/><ellipse cx="92.6" cy="765.5" rx="33.8" ry="21.3" fill="#fff" opacity="0.55"/><ellipse cx="57.6" cy="779.2" rx="18.8" ry="13.8" fill="#fff" opacity="0.45"/><ellipse cx="242.9" cy="776.7" rx="23.8" ry="16.3" fill="#fff" opacity="0.55"/><ellipse cx="52.6" cy="557.5" rx="33.8" ry="18.8" fill="#fff" opacity="0.5"/><ellipse cx="240.4" cy="562.6" rx="28.8" ry="21.3" fill="#fff" opacity="0.45"/><ellipse cx="268.0" cy="710.4" rx="16.3" ry="31.3" fill="#fff" opacity="0.45"/><ellipse cx="125.2" cy="742.9" rx="28.8" ry="16.3" fill="#fff" opacity="0.4"/><ellipse cx="30.0" cy="725.4" rx="16.3" ry="21.3" fill="#fff" opacity="0.45"/><ellipse cx="170.3" cy="783.0" rx="26.3" ry="13.8" fill="#fff" opacity="0.45"/><ellipse cx="270.5" cy="580.1" rx="11.3" ry="16.3" fill="#fff" opacity="0.4"/><ellipse cx="145.3" cy="660.3" rx="160.3" ry="160.3" fill="#fff" opacity="0.35"/></g><g filter="url(#b3)"><ellipse cx="111.4" cy="615.2" rx="17.5" ry="37.6" fill="#6A2E00" opacity="0.45" transform="rotate(8 111.4 615.2)"/><ellipse cx="156.5" cy="615.2" rx="15.0" ry="30.1" fill="#5E2800" opacity="0.55" transform="rotate(-28 156.5 615.2)"/><ellipse cx="207.9" cy="685.3" rx="22.5" ry="30.1" fill="#8A4000" opacity="0.35"/><path d="M97.7 640.2 C91.1 642.5 86.7 665.5 85.6 675.3 C84.6 685.1 87.7 692.7 91.4 699.1 C95.1 705.4 100.4 709.3 107.7 713.4 C115.0 717.4 126.5 721.0 135.2 723.4 C144.0 725.7 154.3 728.1 160.3 727.4 C166.3 726.7 170.3 724.0 171.1 719.1 C171.8 714.2 167.2 704.1 164.8 697.8 C162.4 691.6 159.8 685.9 156.5 681.5 C153.3 677.2 150.5 674.9 145.3 671.5 C140.0 668.2 133.1 666.7 125.2 661.5 Z" fill="#8E4000" stroke="none" stroke-width="0.0" stroke-linecap="round" stroke-linejoin="round" opacity="0.7"/></g><g filter="url(#b2)"><ellipse cx="95.2" cy="552.5" rx="7.5" ry="12.5" fill="#4E2000" opacity="0.85" transform="rotate(-15 95.2 552.5)"/><ellipse cx="270.5" cy="607.6" rx="4.0" ry="8.5" fill="#3E1A00" opacity="0.8"/><path d="M102.7 707.8 C105.6 709.7 113.9 716.4 120.2 719.1 C126.5 721.8 133.6 722.8 140.2 724.1 C146.9 725.5 155.3 728.0 160.3 727.4 C165.3 726.8 168.6 721.5 170.3 720.4" fill="none" stroke="#421C00" stroke-width="4.5" stroke-linecap="round" stroke-linejoin="round" opacity="0.8"/><path d="M156.5 679.0 C158.0 682.2 163.2 691.8 165.3 697.8 C167.4 703.9 168.4 712.4 169.0 715.4" fill="none" stroke="#4E2200" stroke-width="6.0" stroke-linecap="round" stroke-linejoin="round" opacity="0.7"/><path d="M30.0 577.1 C32.5 576.2 39.6 572.7 45.1 571.6 C50.5 570.4 56.9 568.4 62.6 570.1 C68.2 571.7 74.2 577.0 78.9 581.3 C83.5 585.7 87.8 590.3 90.6 596.4 C93.5 602.4 94.9 611.2 95.9 617.7 C96.9 624.1 97.2 630.0 96.7 635.2 C96.1 640.4 94.5 644.8 92.6 649.0 C90.8 653.2 86.8 658.4 85.6 660.3" fill="none" stroke="#5E2A00" stroke-width="3.0" stroke-linecap="round" stroke-linejoin="round" opacity="0.7"/><path d="M85.6 660.3 C83.0 660.9 74.4 662.8 70.1 664.0 C65.8 665.3 62.2 663.8 60.1 667.8 C58.0 671.7 56.5 682.2 57.6 687.8 C58.6 693.4 60.9 696.9 66.3 701.6 C71.8 706.3 82.0 710.4 90.1 715.9 C98.3 721.3 108.9 728.0 115.2 734.1 C121.5 740.3 125.2 746.0 127.7 752.9 C130.2 759.8 130.2 769.6 130.2 775.5 C130.2 781.3 128.1 785.9 127.7 788.0" fill="none" stroke="#8A3E00" stroke-width="3.0" stroke-linecap="round" stroke-linejoin="round" opacity="0.5"/><path d="M240.4 572.6 C242.3 569.7 248.8 559.6 251.7 555.0 C254.6 550.4 256.9 546.7 258.0 545.0" fill="none" stroke="#6A2E00" stroke-width="4.0" stroke-linecap="round" stroke-linejoin="round" opacity="0.6"/><path d="M211.6 786.8 C212.1 783.6 211.2 773.3 214.1 768.0 C217.1 762.7 222.9 756.6 229.2 754.9 C235.4 753.3 244.6 756.3 251.7 757.9 C258.8 759.6 268.4 763.8 271.8 765.0" fill="none" stroke="#421C00" stroke-width="3.0" stroke-linecap="round" stroke-linejoin="round" opacity="0.8"/><path d="M145.3 592.6 C146.9 595.5 151.1 603.5 155.3 610.2 C159.4 616.8 167.8 628.9 170.3 632.7" fill="none" stroke="#5A2600" stroke-width="5.0" stroke-linecap="round" stroke-linejoin="round" opacity="0.4"/></g><g filter="url(#b1)"><path d="M57.6 570.6 C61.1 572.4 73.2 576.8 78.9 581.3 C84.5 585.9 88.5 591.4 91.4 597.6 C94.3 603.9 95.3 612.2 96.2 618.9 C97.0 625.6 96.4 634.6 96.4 637.7" fill="none" stroke="#4A1E00" stroke-width="1.3" stroke-linecap="round" stroke-linejoin="round" opacity="0.6"/><path d="M162.8 707.8 C164.0 708.9 169.7 711.8 170.3 714.1 C170.9 716.4 167.2 720.4 166.5 721.6" fill="none" stroke="#260E00" stroke-width="2.5" stroke-linecap="round" stroke-linejoin="round" opacity="0.9"/><path d="M95.2 707.8 C97.7 709.2 103.9 713.4 110.2 715.9 C116.4 718.4 125.0 721.0 132.7 722.9 C140.4 724.7 152.6 726.2 156.5 726.9" fill="none" stroke="#3E1800" stroke-width="1.3" stroke-linecap="round" stroke-linejoin="round" opacity="0.7"/><path d="M215.4 766.7 C217.8 764.7 223.7 755.9 229.9 754.4 C236.2 753.0 249.1 757.4 253.0 757.9" fill="none" stroke="#341400" stroke-width="1.0" stroke-linecap="round" stroke-linejoin="round" opacity="0.6"/></g><g filter="url(#b05)"><ellipse cx="34.5" cy="602.1" rx="9.8" ry="18.2" fill="url(#gH)" opacity="1"/><ellipse cx="73.1" cy="595.6" rx="9.8" ry="9.8" fill="url(#gH)" opacity="1"/><ellipse cx="132.0" cy="559.5" rx="9.8" ry="13.7" fill="url(#gH)" opacity="1" transform="rotate(-25 132.0 559.5)"/><ellipse cx="98.2" cy="575.1" rx="7.2" ry="5.2" fill="url(#gH)" opacity="0.95" transform="rotate(-20 98.2 575.1)"/><ellipse cx="178.3" cy="578.8" rx="10.4" ry="15.0" fill="url(#gH)" opacity="1" transform="rotate(15 178.3 578.8)"/><ellipse cx="203.6" cy="582.6" rx="5.9" ry="7.8" fill="url(#gH)" opacity="0.95"/><ellipse cx="38.0" cy="679.8" rx="16.9" ry="9.8" fill="url(#gH)" opacity="0.95" transform="rotate(25 38.0 679.8)"/><ellipse cx="93.4" cy="665.8" rx="7.8" ry="14.3" fill="url(#gH)" opacity="1" transform="rotate(-10 93.4 665.8)"/><ellipse cx="237.4" cy="644.7" rx="12.4" ry="22.8" fill="url(#gH)" opacity="1"/><ellipse cx="255.5" cy="654.7" rx="7.2" ry="18.9" fill="url(#gH)" opacity="0.95"/><ellipse cx="185.8" cy="738.4" rx="9.8" ry="15.6" fill="url(#gH)" opacity="1" transform="rotate(-25 185.8 738.4)"/><ellipse cx="228.4" cy="740.9" rx="24.7" ry="5.9" fill="url(#gH)" opacity="0.95"/><ellipse cx="148.3" cy="756.4" rx="17.6" ry="7.2" fill="url(#gH)" opacity="1" transform="rotate(-8 148.3 756.4)"/><ellipse cx="66.3" cy="729.1" rx="10.4" ry="9.8" fill="url(#gH)" opacity="0.95"/><ellipse cx="48.1" cy="750.9" rx="9.1" ry="8.5" fill="url(#gH)" opacity="0.95"/><ellipse cx="93.1" cy="762.5" rx="29.3" ry="14.3" fill="url(#gH)" opacity="1" transform="rotate(10 93.1 762.5)"/><ellipse cx="57.6" cy="776.0" rx="11.1" ry="5.2" fill="url(#gH)" opacity="0.9"/><ellipse cx="242.9" cy="773.5" rx="15.0" ry="8.5" fill="url(#gH)" opacity="0.95" transform="rotate(20 242.9 773.5)"/><ellipse cx="45.1" cy="640.2" rx="16.3" ry="13.0" fill="url(#gH)" opacity="0.45"/><ellipse cx="180.3" cy="770.5" rx="5.9" ry="4.6" fill="url(#gH)" opacity="0.9"/><ellipse cx="41.3" cy="562.6" rx="22.8" ry="9.8" fill="url(#gH)" opacity="0.45" transform="rotate(10 41.3 562.6)"/><ellipse cx="27.5" cy="735.4" rx="6.5" ry="13.0" fill="url(#gH)" opacity="0.5"/></g><g filter="url(#b05)"><g><line x1="118.3" y1="603.1" x2="120.8" y2="603.8" stroke="#10168A" stroke-width="7.6" stroke-linecap="round"/><line x1="120.8" y1="603.8" x2="123.2" y2="604.5" stroke="#0A8E18" stroke-width="7.6" stroke-linecap="round"/><line x1="123.2" y1="604.5" x2="124.9" y2="613.9" stroke="#0A8E18" stroke-width="7.6" stroke-linecap="round"/><line x1="124.9" y1="613.9" x2="126.6" y2="623.3" stroke="#0A8E18" stroke-width="7.6" stroke-linecap="round"/><line x1="126.6" y1="623.3" x2="124.3" y2="629.4" stroke="#0A8E18" stroke-width="7.6" stroke-linecap="round"/><line x1="124.3" y1="629.4" x2="121.9" y2="635.5" stroke="#0A8E18" stroke-width="7.6" stroke-linecap="round"/><line x1="121.9" y1="635.5" x2="120.3" y2="625.7" stroke="#0A8E18" stroke-width="7.6" stroke-linecap="round"/><line x1="120.3" y1="625.7" x2="118.8" y2="615.9" stroke="#0A8E18" stroke-width="7.6" stroke-linecap="round"/><line x1="118.8" y1="615.9" x2="118.5" y2="609.5" stroke="#0A8E18" stroke-width="7.6" stroke-linecap="round"/><line x1="118.5" y1="609.5" x2="118.3" y2="603.1" stroke="#10168A" stroke-width="7.6" stroke-linecap="round"/><line x1="126.6" y1="623.3" x2="130.5" y2="626.0" stroke="#0A8E18" stroke-width="7.6" stroke-linecap="round"/><line x1="130.5" y1="626.0" x2="134.3" y2="628.7" stroke="#0A8E18" stroke-width="7.6" stroke-linecap="round"/><line x1="134.3" y1="628.7" x2="135.0" y2="620.6" stroke="#0A8E18" stroke-width="7.6" stroke-linecap="round"/><line x1="135.0" y1="620.6" x2="135.8" y2="612.6" stroke="#B02A30" stroke-width="7.6" stroke-linecap="round"/><line x1="134.3" y1="628.7" x2="133.8" y2="637.8" stroke="#0A8E18" stroke-width="7.6" stroke-linecap="round"/><line x1="133.8" y1="637.8" x2="133.4" y2="646.9" stroke="#B02A30" stroke-width="7.6" stroke-linecap="round"/><line x1="104.4" y1="649.0" x2="113.1" y2="649.0" stroke="#0A8E18" stroke-width="7.6" stroke-linecap="round"/><line x1="113.1" y1="649.0" x2="121.9" y2="649.0" stroke="#0A8E18" stroke-width="7.6" stroke-linecap="round"/><line x1="121.9" y1="649.0" x2="128.0" y2="655.7" stroke="#0A8E18" stroke-width="7.6" stroke-linecap="round"/><line x1="128.0" y1="655.7" x2="134.0" y2="662.5" stroke="#0A8E18" stroke-width="7.6" stroke-linecap="round"/><line x1="134.0" y1="662.5" x2="132.7" y2="669.9" stroke="#0A8E18" stroke-width="7.6" stroke-linecap="round"/><line x1="132.7" y1="669.9" x2="131.3" y2="677.3" stroke="#0A8E18" stroke-width="7.6" stroke-linecap="round"/><line x1="131.3" y1="677.3" x2="121.9" y2="675.6" stroke="#0A8E18" stroke-width="7.6" stroke-linecap="round"/><line x1="121.9" y1="675.6" x2="112.5" y2="673.9" stroke="#0A8E18" stroke-width="7.6" stroke-linecap="round"/><line x1="112.5" y1="673.9" x2="108.1" y2="667.9" stroke="#0A8E18" stroke-width="7.6" stroke-linecap="round"/><line x1="108.1" y1="667.9" x2="103.7" y2="661.8" stroke="#10168A" stroke-width="7.6" stroke-linecap="round"/><line x1="103.7" y1="661.8" x2="104.0" y2="655.4" stroke="#10168A" stroke-width="7.6" stroke-linecap="round"/><line x1="104.0" y1="655.4" x2="104.4" y2="649.0" stroke="#0A8E18" stroke-width="7.6" stroke-linecap="round"/><line x1="121.9" y1="635.5" x2="121.9" y2="642.2" stroke="#0A8E18" stroke-width="7.6" stroke-linecap="round"/><line x1="121.9" y1="642.2" x2="121.9" y2="649.0" stroke="#0A8E18" stroke-width="7.6" stroke-linecap="round"/><line x1="134.0" y1="662.5" x2="142.8" y2="663.1" stroke="#0A8E18" stroke-width="7.6" stroke-linecap="round"/><line x1="142.8" y1="663.1" x2="151.6" y2="663.8" stroke="#0A8E18" stroke-width="7.6" stroke-linecap="round"/><line x1="151.6" y1="663.8" x2="156.6" y2="658.8" stroke="#0A8E18" stroke-width="7.6" stroke-linecap="round"/><line x1="156.6" y1="658.8" x2="161.7" y2="653.7" stroke="#10168A" stroke-width="7.6" stroke-linecap="round"/><line x1="161.7" y1="653.7" x2="169.8" y2="655.0" stroke="#10168A" stroke-width="7.6" stroke-linecap="round"/><line x1="169.8" y1="655.0" x2="177.9" y2="656.4" stroke="#0A8E18" stroke-width="7.6" stroke-linecap="round"/><line x1="177.9" y1="656.4" x2="180.6" y2="666.2" stroke="#0A8E18" stroke-width="7.6" stroke-linecap="round"/><line x1="180.6" y1="666.2" x2="183.3" y2="675.9" stroke="#0A8E18" stroke-width="7.6" stroke-linecap="round"/><line x1="183.3" y1="675.9" x2="173.5" y2="681.3" stroke="#0A8E18" stroke-width="7.6" stroke-linecap="round"/><line x1="173.5" y1="681.3" x2="163.7" y2="686.7" stroke="#9A8420" stroke-width="7.6" stroke-linecap="round"/><line x1="163.7" y1="686.7" x2="157.6" y2="675.3" stroke="#9A8420" stroke-width="7.6" stroke-linecap="round"/><line x1="157.6" y1="675.3" x2="151.6" y2="663.8" stroke="#0A8E18" stroke-width="7.6" stroke-linecap="round"/><line x1="177.9" y1="656.4" x2="184.3" y2="649.6" stroke="#0A8E18" stroke-width="7.6" stroke-linecap="round"/><line x1="184.3" y1="649.6" x2="190.7" y2="642.9" stroke="#0A8E18" stroke-width="7.6" stroke-linecap="round"/><line x1="190.7" y1="642.9" x2="191.0" y2="633.5" stroke="#0A8E18" stroke-width="7.6" stroke-linecap="round"/><line x1="191.0" y1="633.5" x2="191.4" y2="624.0" stroke="#0A8E18" stroke-width="7.6" stroke-linecap="round"/><line x1="190.7" y1="642.9" x2="198.1" y2="646.6" stroke="#0A8E18" stroke-width="7.6" stroke-linecap="round"/><line x1="198.1" y1="646.6" x2="205.5" y2="650.3" stroke="#0A8E18" stroke-width="7.6" stroke-linecap="round"/><line x1="190.7" y1="642.9" x2="185.3" y2="639.9" stroke="#0A8E18" stroke-width="7.6" stroke-linecap="round"/><line x1="185.3" y1="639.9" x2="179.9" y2="636.8" stroke="#0A8E18" stroke-width="7.6" stroke-linecap="round"/><line x1="112.5" y1="673.9" x2="111.4" y2="679.7" stroke="#0A8E18" stroke-width="7.6" stroke-linecap="round"/><line x1="111.4" y1="679.7" x2="110.4" y2="685.4" stroke="#10168A" stroke-width="7.6" stroke-linecap="round"/><line x1="110.4" y1="685.4" x2="115.2" y2="691.8" stroke="#10168A" stroke-width="7.6" stroke-linecap="round"/><line x1="115.2" y1="691.8" x2="119.9" y2="698.2" stroke="#0A8E18" stroke-width="7.6" stroke-linecap="round"/><line x1="119.9" y1="698.2" x2="128.3" y2="700.2" stroke="#0A8E18" stroke-width="7.6" stroke-linecap="round"/><line x1="128.3" y1="700.2" x2="136.7" y2="702.3" stroke="#B02A30" stroke-width="7.6" stroke-linecap="round"/><line x1="119.9" y1="698.2" x2="116.8" y2="703.3" stroke="#0A8E18" stroke-width="7.6" stroke-linecap="round"/><line x1="116.8" y1="703.3" x2="113.8" y2="708.3" stroke="#10168A" stroke-width="7.6" stroke-linecap="round"/><line x1="113.8" y1="708.3" x2="118.5" y2="713.4" stroke="#10168A" stroke-width="7.6" stroke-linecap="round"/><line x1="118.5" y1="713.4" x2="123.2" y2="718.4" stroke="#0A8E18" stroke-width="7.6" stroke-linecap="round"/><line x1="118.1" y1="602.8" x2="120.6" y2="603.5" stroke="#2028DC" stroke-width="6.6" stroke-linecap="round"/><line x1="120.6" y1="603.5" x2="123.0" y2="604.2" stroke="#12D428" stroke-width="6.6" stroke-linecap="round"/><line x1="123.0" y1="604.2" x2="124.7" y2="613.6" stroke="#12D428" stroke-width="6.6" stroke-linecap="round"/><line x1="124.7" y1="613.6" x2="126.4" y2="623.0" stroke="#12D428" stroke-width="6.6" stroke-linecap="round"/><line x1="126.4" y1="623.0" x2="124.1" y2="629.1" stroke="#12D428" stroke-width="6.6" stroke-linecap="round"/><line x1="124.1" y1="629.1" x2="121.7" y2="635.2" stroke="#12D428" stroke-width="6.6" stroke-linecap="round"/><line x1="121.7" y1="635.2" x2="120.1" y2="625.4" stroke="#12D428" stroke-width="6.6" stroke-linecap="round"/><line x1="120.1" y1="625.4" x2="118.6" y2="615.6" stroke="#12D428" stroke-width="6.6" stroke-linecap="round"/><line x1="118.6" y1="615.6" x2="118.3" y2="609.2" stroke="#12D428" stroke-width="6.6" stroke-linecap="round"/><line x1="118.3" y1="609.2" x2="118.1" y2="602.8" stroke="#2028DC" stroke-width="6.6" stroke-linecap="round"/><line x1="126.4" y1="623.0" x2="130.3" y2="625.7" stroke="#12D428" stroke-width="6.6" stroke-linecap="round"/><line x1="130.3" y1="625.7" x2="134.1" y2="628.4" stroke="#12D428" stroke-width="6.6" stroke-linecap="round"/><line x1="134.1" y1="628.4" x2="134.8" y2="620.3" stroke="#12D428" stroke-width="6.6" stroke-linecap="round"/><line x1="134.8" y1="620.3" x2="135.6" y2="612.3" stroke="#F2545C" stroke-width="6.6" stroke-linecap="round"/><line x1="134.1" y1="628.4" x2="133.6" y2="637.5" stroke="#12D428" stroke-width="6.6" stroke-linecap="round"/><line x1="133.6" y1="637.5" x2="133.2" y2="646.6" stroke="#F2545C" stroke-width="6.6" stroke-linecap="round"/><line x1="104.2" y1="648.7" x2="112.9" y2="648.7" stroke="#12D428" stroke-width="6.6" stroke-linecap="round"/><line x1="112.9" y1="648.7" x2="121.7" y2="648.7" stroke="#12D428" stroke-width="6.6" stroke-linecap="round"/><line x1="121.7" y1="648.7" x2="127.8" y2="655.4" stroke="#12D428" stroke-width="6.6" stroke-linecap="round"/><line x1="127.8" y1="655.4" x2="133.8" y2="662.2" stroke="#12D428" stroke-width="6.6" stroke-linecap="round"/><line x1="133.8" y1="662.2" x2="132.5" y2="669.6" stroke="#12D428" stroke-width="6.6" stroke-linecap="round"/><line x1="132.5" y1="669.6" x2="131.1" y2="677.0" stroke="#12D428" stroke-width="6.6" stroke-linecap="round"/><line x1="131.1" y1="677.0" x2="121.7" y2="675.3" stroke="#12D428" stroke-width="6.6" stroke-linecap="round"/><line x1="121.7" y1="675.3" x2="112.3" y2="673.6" stroke="#12D428" stroke-width="6.6" stroke-linecap="round"/><line x1="112.3" y1="673.6" x2="107.9" y2="667.6" stroke="#12D428" stroke-width="6.6" stroke-linecap="round"/><line x1="107.9" y1="667.6" x2="103.5" y2="661.5" stroke="#2028DC" stroke-width="6.6" stroke-linecap="round"/><line x1="103.5" y1="661.5" x2="103.8" y2="655.1" stroke="#2028DC" stroke-width="6.6" stroke-linecap="round"/><line x1="103.8" y1="655.1" x2="104.2" y2="648.7" stroke="#12D428" stroke-width="6.6" stroke-linecap="round"/><line x1="121.7" y1="635.2" x2="121.7" y2="641.9" stroke="#12D428" stroke-width="6.6" stroke-linecap="round"/><line x1="121.7" y1="641.9" x2="121.7" y2="648.7" stroke="#12D428" stroke-width="6.6" stroke-linecap="round"/><line x1="133.8" y1="662.2" x2="142.6" y2="662.8" stroke="#12D428" stroke-width="6.6" stroke-linecap="round"/><line x1="142.6" y1="662.8" x2="151.4" y2="663.5" stroke="#12D428" stroke-width="6.6" stroke-linecap="round"/><line x1="151.4" y1="663.5" x2="156.4" y2="658.5" stroke="#12D428" stroke-width="6.6" stroke-linecap="round"/><line x1="156.4" y1="658.5" x2="161.5" y2="653.4" stroke="#2028DC" stroke-width="6.6" stroke-linecap="round"/><line x1="161.5" y1="653.4" x2="169.6" y2="654.7" stroke="#2028DC" stroke-width="6.6" stroke-linecap="round"/><line x1="169.6" y1="654.7" x2="177.7" y2="656.1" stroke="#12D428" stroke-width="6.6" stroke-linecap="round"/><line x1="177.7" y1="656.1" x2="180.4" y2="665.9" stroke="#12D428" stroke-width="6.6" stroke-linecap="round"/><line x1="180.4" y1="665.9" x2="183.1" y2="675.6" stroke="#12D428" stroke-width="6.6" stroke-linecap="round"/><line x1="183.1" y1="675.6" x2="173.3" y2="681.0" stroke="#12D428" stroke-width="6.6" stroke-linecap="round"/><line x1="173.3" y1="681.0" x2="163.5" y2="686.4" stroke="#D6BC3A" stroke-width="6.6" stroke-linecap="round"/><line x1="163.5" y1="686.4" x2="157.4" y2="675.0" stroke="#D6BC3A" stroke-width="6.6" stroke-linecap="round"/><line x1="157.4" y1="675.0" x2="151.4" y2="663.5" stroke="#12D428" stroke-width="6.6" stroke-linecap="round"/><line x1="177.7" y1="656.1" x2="184.1" y2="649.3" stroke="#12D428" stroke-width="6.6" stroke-linecap="round"/><line x1="184.1" y1="649.3" x2="190.5" y2="642.6" stroke="#12D428" stroke-width="6.6" stroke-linecap="round"/><line x1="190.5" y1="642.6" x2="190.8" y2="633.2" stroke="#12D428" stroke-width="6.6" stroke-linecap="round"/><line x1="190.8" y1="633.2" x2="191.2" y2="623.7" stroke="#12D428" stroke-width="6.6" stroke-linecap="round"/><line x1="190.5" y1="642.6" x2="197.9" y2="646.3" stroke="#12D428" stroke-width="6.6" stroke-linecap="round"/><line x1="197.9" y1="646.3" x2="205.3" y2="650.0" stroke="#12D428" stroke-width="6.6" stroke-linecap="round"/><line x1="190.5" y1="642.6" x2="185.1" y2="639.6" stroke="#12D428" stroke-width="6.6" stroke-linecap="round"/><line x1="185.1" y1="639.6" x2="179.7" y2="636.5" stroke="#12D428" stroke-width="6.6" stroke-linecap="round"/><line x1="112.3" y1="673.6" x2="111.2" y2="679.4" stroke="#12D428" stroke-width="6.6" stroke-linecap="round"/><line x1="111.2" y1="679.4" x2="110.2" y2="685.1" stroke="#2028DC" stroke-width="6.6" stroke-linecap="round"/><line x1="110.2" y1="685.1" x2="115.0" y2="691.5" stroke="#2028DC" stroke-width="6.6" stroke-linecap="round"/><line x1="115.0" y1="691.5" x2="119.7" y2="697.9" stroke="#12D428" stroke-width="6.6" stroke-linecap="round"/><line x1="119.7" y1="697.9" x2="128.1" y2="699.9" stroke="#12D428" stroke-width="6.6" stroke-linecap="round"/><line x1="128.1" y1="699.9" x2="136.5" y2="702.0" stroke="#F2545C" stroke-width="6.6" stroke-linecap="round"/><line x1="119.7" y1="697.9" x2="116.6" y2="703.0" stroke="#12D428" stroke-width="6.6" stroke-linecap="round"/><line x1="116.6" y1="703.0" x2="113.6" y2="708.0" stroke="#2028DC" stroke-width="6.6" stroke-linecap="round"/><line x1="113.6" y1="708.0" x2="118.3" y2="713.1" stroke="#2028DC" stroke-width="6.6" stroke-linecap="round"/><line x1="118.3" y1="713.1" x2="123.0" y2="718.1" stroke="#12D428" stroke-width="6.6" stroke-linecap="round"/><line x1="117.2" y1="602.0" x2="119.7" y2="602.6" stroke="#4A5CF8" stroke-width="1.5" stroke-linecap="round" opacity="0.45"/><line x1="119.7" y1="602.6" x2="122.2" y2="603.3" stroke="#4CFF68" stroke-width="1.5" stroke-linecap="round" opacity="0.45"/><line x1="122.2" y1="603.3" x2="123.9" y2="612.8" stroke="#4CFF68" stroke-width="1.5" stroke-linecap="round" opacity="0.45"/><line x1="123.9" y1="612.8" x2="125.6" y2="622.2" stroke="#4CFF68" stroke-width="1.5" stroke-linecap="round" opacity="0.45"/><line x1="125.6" y1="622.2" x2="123.2" y2="628.3" stroke="#4CFF68" stroke-width="1.5" stroke-linecap="round" opacity="0.45"/><line x1="123.2" y1="628.3" x2="120.9" y2="634.3" stroke="#4CFF68" stroke-width="1.5" stroke-linecap="round" opacity="0.45"/><line x1="120.9" y1="634.3" x2="119.3" y2="624.6" stroke="#4CFF68" stroke-width="1.5" stroke-linecap="round" opacity="0.45"/><line x1="119.3" y1="624.6" x2="117.8" y2="614.8" stroke="#4CFF68" stroke-width="1.5" stroke-linecap="round" opacity="0.45"/><line x1="117.8" y1="614.8" x2="117.5" y2="608.4" stroke="#4CFF68" stroke-width="1.5" stroke-linecap="round" opacity="0.45"/><line x1="117.5" y1="608.4" x2="117.2" y2="602.0" stroke="#4A5CF8" stroke-width="1.5" stroke-linecap="round" opacity="0.45"/><line x1="125.6" y1="622.2" x2="129.4" y2="624.9" stroke="#4CFF68" stroke-width="1.5" stroke-linecap="round" opacity="0.45"/><line x1="129.4" y1="624.9" x2="133.3" y2="627.6" stroke="#4CFF68" stroke-width="1.5" stroke-linecap="round" opacity="0.45"/><line x1="133.3" y1="627.6" x2="134.0" y2="619.5" stroke="#4CFF68" stroke-width="1.5" stroke-linecap="round" opacity="0.45"/><line x1="134.0" y1="619.5" x2="134.7" y2="611.4" stroke="#FF9AA0" stroke-width="1.5" stroke-linecap="round" opacity="0.45"/><line x1="133.3" y1="627.6" x2="132.8" y2="636.7" stroke="#4CFF68" stroke-width="1.5" stroke-linecap="round" opacity="0.45"/><line x1="132.8" y1="636.7" x2="132.3" y2="645.8" stroke="#FF9AA0" stroke-width="1.5" stroke-linecap="round" opacity="0.45"/><line x1="103.3" y1="647.8" x2="112.1" y2="647.8" stroke="#4CFF68" stroke-width="1.5" stroke-linecap="round" opacity="0.45"/><line x1="112.1" y1="647.8" x2="120.9" y2="647.8" stroke="#4CFF68" stroke-width="1.5" stroke-linecap="round" opacity="0.45"/><line x1="120.9" y1="647.8" x2="126.9" y2="654.6" stroke="#4CFF68" stroke-width="1.5" stroke-linecap="round" opacity="0.45"/><line x1="126.9" y1="654.6" x2="133.0" y2="661.3" stroke="#4CFF68" stroke-width="1.5" stroke-linecap="round" opacity="0.45"/><line x1="133.0" y1="661.3" x2="131.6" y2="668.7" stroke="#4CFF68" stroke-width="1.5" stroke-linecap="round" opacity="0.45"/><line x1="131.6" y1="668.7" x2="130.3" y2="676.2" stroke="#4CFF68" stroke-width="1.5" stroke-linecap="round" opacity="0.45"/><line x1="130.3" y1="676.2" x2="120.9" y2="674.5" stroke="#4CFF68" stroke-width="1.5" stroke-linecap="round" opacity="0.45"/><line x1="120.9" y1="674.5" x2="111.4" y2="672.8" stroke="#4CFF68" stroke-width="1.5" stroke-linecap="round" opacity="0.45"/><line x1="111.4" y1="672.8" x2="107.0" y2="666.7" stroke="#4CFF68" stroke-width="1.5" stroke-linecap="round" opacity="0.45"/><line x1="107.0" y1="666.7" x2="102.6" y2="660.6" stroke="#4A5CF8" stroke-width="1.5" stroke-linecap="round" opacity="0.45"/><line x1="102.6" y1="660.6" x2="103.0" y2="654.2" stroke="#4A5CF8" stroke-width="1.5" stroke-linecap="round" opacity="0.45"/><line x1="103.0" y1="654.2" x2="103.3" y2="647.8" stroke="#4CFF68" stroke-width="1.5" stroke-linecap="round" opacity="0.45"/><line x1="120.9" y1="634.3" x2="120.9" y2="641.1" stroke="#4CFF68" stroke-width="1.5" stroke-linecap="round" opacity="0.45"/><line x1="120.9" y1="641.1" x2="120.9" y2="647.8" stroke="#4CFF68" stroke-width="1.5" stroke-linecap="round" opacity="0.45"/><line x1="133.0" y1="661.3" x2="141.8" y2="662.0" stroke="#4CFF68" stroke-width="1.5" stroke-linecap="round" opacity="0.45"/><line x1="141.8" y1="662.0" x2="150.5" y2="662.7" stroke="#4CFF68" stroke-width="1.5" stroke-linecap="round" opacity="0.45"/><line x1="150.5" y1="662.7" x2="155.6" y2="657.6" stroke="#4CFF68" stroke-width="1.5" stroke-linecap="round" opacity="0.45"/><line x1="155.6" y1="657.6" x2="160.6" y2="652.6" stroke="#4A5CF8" stroke-width="1.5" stroke-linecap="round" opacity="0.45"/><line x1="160.6" y1="652.6" x2="168.7" y2="653.9" stroke="#4A5CF8" stroke-width="1.5" stroke-linecap="round" opacity="0.45"/><line x1="168.7" y1="653.9" x2="176.8" y2="655.3" stroke="#4CFF68" stroke-width="1.5" stroke-linecap="round" opacity="0.45"/><line x1="176.8" y1="655.3" x2="179.5" y2="665.0" stroke="#4CFF68" stroke-width="1.5" stroke-linecap="round" opacity="0.45"/><line x1="179.5" y1="665.0" x2="182.2" y2="674.8" stroke="#4CFF68" stroke-width="1.5" stroke-linecap="round" opacity="0.45"/><line x1="182.2" y1="674.8" x2="172.4" y2="680.2" stroke="#4CFF68" stroke-width="1.5" stroke-linecap="round" opacity="0.45"/><line x1="172.4" y1="680.2" x2="162.7" y2="685.6" stroke="#F4E27A" stroke-width="1.5" stroke-linecap="round" opacity="0.45"/><line x1="162.7" y1="685.6" x2="156.6" y2="674.1" stroke="#F4E27A" stroke-width="1.5" stroke-linecap="round" opacity="0.45"/><line x1="156.6" y1="674.1" x2="150.5" y2="662.7" stroke="#4CFF68" stroke-width="1.5" stroke-linecap="round" opacity="0.45"/><line x1="176.8" y1="655.3" x2="183.2" y2="648.5" stroke="#4CFF68" stroke-width="1.5" stroke-linecap="round" opacity="0.45"/><line x1="183.2" y1="648.5" x2="189.6" y2="641.8" stroke="#4CFF68" stroke-width="1.5" stroke-linecap="round" opacity="0.45"/><line x1="189.6" y1="641.8" x2="190.0" y2="632.3" stroke="#4CFF68" stroke-width="1.5" stroke-linecap="round" opacity="0.45"/><line x1="190.0" y1="632.3" x2="190.3" y2="622.9" stroke="#4CFF68" stroke-width="1.5" stroke-linecap="round" opacity="0.45"/><line x1="189.6" y1="641.8" x2="197.1" y2="645.5" stroke="#4CFF68" stroke-width="1.5" stroke-linecap="round" opacity="0.45"/><line x1="197.1" y1="645.5" x2="204.5" y2="649.2" stroke="#4CFF68" stroke-width="1.5" stroke-linecap="round" opacity="0.45"/><line x1="189.6" y1="641.8" x2="184.3" y2="638.7" stroke="#4CFF68" stroke-width="1.5" stroke-linecap="round" opacity="0.45"/><line x1="184.3" y1="638.7" x2="178.9" y2="635.7" stroke="#4CFF68" stroke-width="1.5" stroke-linecap="round" opacity="0.45"/><line x1="111.4" y1="672.8" x2="110.4" y2="678.5" stroke="#4CFF68" stroke-width="1.5" stroke-linecap="round" opacity="0.45"/><line x1="110.4" y1="678.5" x2="109.4" y2="684.3" stroke="#4A5CF8" stroke-width="1.5" stroke-linecap="round" opacity="0.45"/><line x1="109.4" y1="684.3" x2="114.1" y2="690.7" stroke="#4A5CF8" stroke-width="1.5" stroke-linecap="round" opacity="0.45"/><line x1="114.1" y1="690.7" x2="118.8" y2="697.1" stroke="#4CFF68" stroke-width="1.5" stroke-linecap="round" opacity="0.45"/><line x1="118.8" y1="697.1" x2="127.3" y2="699.1" stroke="#4CFF68" stroke-width="1.5" stroke-linecap="round" opacity="0.45"/><line x1="127.3" y1="699.1" x2="135.7" y2="701.1" stroke="#FF9AA0" stroke-width="1.5" stroke-linecap="round" opacity="0.45"/><line x1="118.8" y1="697.1" x2="115.8" y2="702.1" stroke="#4CFF68" stroke-width="1.5" stroke-linecap="round" opacity="0.45"/><line x1="115.8" y1="702.1" x2="112.8" y2="707.2" stroke="#4A5CF8" stroke-width="1.5" stroke-linecap="round" opacity="0.45"/><line x1="112.8" y1="707.2" x2="117.5" y2="712.2" stroke="#4A5CF8" stroke-width="1.5" stroke-linecap="round" opacity="0.45"/><line x1="117.5" y1="712.2" x2="122.2" y2="717.3" stroke="#4CFF68" stroke-width="1.5" stroke-linecap="round" opacity="0.45"/><circle cx="191.2" cy="623.7" r="10.0" fill="url(#gF)"/><circle cx="205.3" cy="650.0" r="10.3" fill="url(#gF)"/><circle cx="179.7" cy="636.5" r="10.3" fill="url(#gF)"/></g></g></g>
<g clip-path="url(#clip2)"><g transform="translate(628.56 17.45) scale(0.968)"><rect x="10" y="540" width="270" height="252" fill="#F47800"/><g filter="url(#surf1)"><ellipse cx="35.0" cy="605.1" rx="22.5" ry="30.1" fill="#fff" opacity="0.5"/><ellipse cx="73.9" cy="601.4" rx="26.3" ry="28.8" fill="#fff" opacity="0.55"/><ellipse cx="50.1" cy="642.7" rx="28.8" ry="28.8" fill="#fff" opacity="0.5"/><ellipse cx="62.6" cy="622.7" rx="33.8" ry="43.8" fill="#fff" opacity="0.45"/><ellipse cx="15.0" cy="622.7" rx="20.0" ry="50.1" fill="#fff" opacity="0.4"/><ellipse cx="131.5" cy="562.6" rx="23.8" ry="18.8" fill="#fff" opacity="0.5"/><ellipse cx="97.7" cy="576.3" rx="15.0" ry="12.5" fill="#fff" opacity="0.35"/><ellipse cx="179.1" cy="583.8" rx="28.8" ry="28.8" fill="#fff" opacity="0.6"/><ellipse cx="204.1" cy="586.4" rx="16.3" ry="18.8" fill="#fff" opacity="0.4"/><ellipse cx="160.3" cy="556.3" rx="27.6" ry="15.0" fill="#fff" opacity="0.4"/><ellipse cx="38.8" cy="682.8" rx="23.8" ry="23.8" fill="#fff" opacity="0.5"/><ellipse cx="237.9" cy="649.0" rx="25.1" ry="33.8" fill="#fff" opacity="0.6"/><ellipse cx="256.7" cy="659.0" rx="16.3" ry="28.8" fill="#fff" opacity="0.45"/><ellipse cx="232.9" cy="697.8" rx="31.3" ry="31.3" fill="#fff" opacity="0.45"/><ellipse cx="186.6" cy="741.7" rx="21.3" ry="23.8" fill="#fff" opacity="0.5"/><ellipse cx="229.2" cy="744.2" rx="28.8" ry="16.3" fill="#fff" opacity="0.5"/><ellipse cx="149.0" cy="759.2" rx="23.8" ry="16.3" fill="#fff" opacity="0.5"/><ellipse cx="66.3" cy="731.6" rx="23.8" ry="21.3" fill="#fff" opacity="0.5"/><ellipse cx="48.1" cy="754.2" rx="21.3" ry="18.8" fill="#fff" opacity="0.5"/><ellipse cx="92.6" cy="765.5" rx="33.8" ry="21.3" fill="#fff" opacity="0.55"/><ellipse cx="57.6" cy="779.2" rx="18.8" ry="13.8" fill="#fff" opacity="0.45"/><ellipse cx="242.9" cy="776.7" rx="23.8" ry="16.3" fill="#fff" opacity="0.55"/><ellipse cx="52.6" cy="557.5" rx="33.8" ry="18.8" fill="#fff" opacity="0.5"/><ellipse cx="240.4" cy="562.6" rx="28.8" ry="21.3" fill="#fff" opacity="0.45"/><ellipse cx="268.0" cy="710.4" rx="16.3" ry="31.3" fill="#fff" opacity="0.45"/><ellipse cx="125.2" cy="742.9" rx="28.8" ry="16.3" fill="#fff" opacity="0.4"/><ellipse cx="30.0" cy="725.4" rx="16.3" ry="21.3" fill="#fff" opacity="0.45"/><ellipse cx="170.3" cy="783.0" rx="26.3" ry="13.8" fill="#fff" opacity="0.45"/><ellipse cx="270.5" cy="580.1" rx="11.3" ry="16.3" fill="#fff" opacity="0.4"/><ellipse cx="145.3" cy="660.3" rx="160.3" ry="160.3" fill="#fff" opacity="0.35"/></g><g filter="url(#b3)"><ellipse cx="111.4" cy="615.2" rx="17.5" ry="37.6" fill="#6A2E00" opacity="0.45" transform="rotate(8 111.4 615.2)"/><ellipse cx="156.5" cy="615.2" rx="15.0" ry="30.1" fill="#5E2800" opacity="0.55" transform="rotate(-28 156.5 615.2)"/><ellipse cx="207.9" cy="685.3" rx="22.5" ry="30.1" fill="#8A4000" opacity="0.35"/><path d="M97.7 640.2 C91.1 642.5 86.7 665.5 85.6 675.3 C84.6 685.1 87.7 692.7 91.4 699.1 C95.1 705.4 100.4 709.3 107.7 713.4 C115.0 717.4 126.5 721.0 135.2 723.4 C144.0 725.7 154.3 728.1 160.3 727.4 C166.3 726.7 170.3 724.0 171.1 719.1 C171.8 714.2 167.2 704.1 164.8 697.8 C162.4 691.6 159.8 685.9 156.5 681.5 C153.3 677.2 150.5 674.9 145.3 671.5 C140.0 668.2 133.1 666.7 125.2 661.5 Z" fill="#8E4000" stroke="none" stroke-width="0.0" stroke-linecap="round" stroke-linejoin="round" opacity="0.7"/></g><g filter="url(#b2)"><ellipse cx="95.2" cy="552.5" rx="7.5" ry="12.5" fill="#4E2000" opacity="0.85" transform="rotate(-15 95.2 552.5)"/><ellipse cx="270.5" cy="607.6" rx="4.0" ry="8.5" fill="#3E1A00" opacity="0.8"/><path d="M102.7 707.8 C105.6 709.7 113.9 716.4 120.2 719.1 C126.5 721.8 133.6 722.8 140.2 724.1 C146.9 725.5 155.3 728.0 160.3 727.4 C165.3 726.8 168.6 721.5 170.3 720.4" fill="none" stroke="#421C00" stroke-width="4.5" stroke-linecap="round" stroke-linejoin="round" opacity="0.8"/><path d="M156.5 679.0 C158.0 682.2 163.2 691.8 165.3 697.8 C167.4 703.9 168.4 712.4 169.0 715.4" fill="none" stroke="#4E2200" stroke-width="6.0" stroke-linecap="round" stroke-linejoin="round" opacity="0.7"/><path d="M30.0 577.1 C32.5 576.2 39.6 572.7 45.1 571.6 C50.5 570.4 56.9 568.4 62.6 570.1 C68.2 571.7 74.2 577.0 78.9 581.3 C83.5 585.7 87.8 590.3 90.6 596.4 C93.5 602.4 94.9 611.2 95.9 617.7 C96.9 624.1 97.2 630.0 96.7 635.2 C96.1 640.4 94.5 644.8 92.6 649.0 C90.8 653.2 86.8 658.4 85.6 660.3" fill="none" stroke="#5E2A00" stroke-width="3.0" stroke-linecap="round" stroke-linejoin="round" opacity="0.7"/><path d="M85.6 660.3 C83.0 660.9 74.4 662.8 70.1 664.0 C65.8 665.3 62.2 663.8 60.1 667.8 C58.0 671.7 56.5 682.2 57.6 687.8 C58.6 693.4 60.9 696.9 66.3 701.6 C71.8 706.3 82.0 710.4 90.1 715.9 C98.3 721.3 108.9 728.0 115.2 734.1 C121.5 740.3 125.2 746.0 127.7 752.9 C130.2 759.8 130.2 769.6 130.2 775.5 C130.2 781.3 128.1 785.9 127.7 788.0" fill="none" stroke="#8A3E00" stroke-width="3.0" stroke-linecap="round" stroke-linejoin="round" opacity="0.5"/><path d="M240.4 572.6 C242.3 569.7 248.8 559.6 251.7 555.0 C254.6 550.4 256.9 546.7 258.0 545.0" fill="none" stroke="#6A2E00" stroke-width="4.0" stroke-linecap="round" stroke-linejoin="round" opacity="0.6"/><path d="M211.6 786.8 C212.1 783.6 211.2 773.3 214.1 768.0 C217.1 762.7 222.9 756.6 229.2 754.9 C235.4 753.3 244.6 756.3 251.7 757.9 C258.8 759.6 268.4 763.8 271.8 765.0" fill="none" stroke="#421C00" stroke-width="3.0" stroke-linecap="round" stroke-linejoin="round" opacity="0.8"/><path d="M145.3 592.6 C146.9 595.5 151.1 603.5 155.3 610.2 C159.4 616.8 167.8 628.9 170.3 632.7" fill="none" stroke="#5A2600" stroke-width="5.0" stroke-linecap="round" stroke-linejoin="round" opacity="0.4"/></g><g filter="url(#b1)"><path d="M57.6 570.6 C61.1 572.4 73.2 576.8 78.9 581.3 C84.5 585.9 88.5 591.4 91.4 597.6 C94.3 603.9 95.3 612.2 96.2 618.9 C97.0 625.6 96.4 634.6 96.4 637.7" fill="none" stroke="#4A1E00" stroke-width="1.3" stroke-linecap="round" stroke-linejoin="round" opacity="0.6"/><path d="M162.8 707.8 C164.0 708.9 169.7 711.8 170.3 714.1 C170.9 716.4 167.2 720.4 166.5 721.6" fill="none" stroke="#260E00" stroke-width="2.5" stroke-linecap="round" stroke-linejoin="round" opacity="0.9"/><path d="M95.2 707.8 C97.7 709.2 103.9 713.4 110.2 715.9 C116.4 718.4 125.0 721.0 132.7 722.9 C140.4 724.7 152.6 726.2 156.5 726.9" fill="none" stroke="#3E1800" stroke-width="1.3" stroke-linecap="round" stroke-linejoin="round" opacity="0.7"/><path d="M215.4 766.7 C217.8 764.7 223.7 755.9 229.9 754.4 C236.2 753.0 249.1 757.4 253.0 757.9" fill="none" stroke="#341400" stroke-width="1.0" stroke-linecap="round" stroke-linejoin="round" opacity="0.6"/></g><g filter="url(#b05)"><ellipse cx="34.5" cy="602.1" rx="9.8" ry="18.2" fill="url(#gH)" opacity="1"/><ellipse cx="73.1" cy="595.6" rx="9.8" ry="9.8" fill="url(#gH)" opacity="1"/><ellipse cx="132.0" cy="559.5" rx="9.8" ry="13.7" fill="url(#gH)" opacity="1" transform="rotate(-25 132.0 559.5)"/><ellipse cx="98.2" cy="575.1" rx="7.2" ry="5.2" fill="url(#gH)" opacity="0.95" transform="rotate(-20 98.2 575.1)"/><ellipse cx="178.3" cy="578.8" rx="10.4" ry="15.0" fill="url(#gH)" opacity="1" transform="rotate(15 178.3 578.8)"/><ellipse cx="203.6" cy="582.6" rx="5.9" ry="7.8" fill="url(#gH)" opacity="0.95"/><ellipse cx="38.0" cy="679.8" rx="16.9" ry="9.8" fill="url(#gH)" opacity="0.95" transform="rotate(25 38.0 679.8)"/><ellipse cx="93.4" cy="665.8" rx="7.8" ry="14.3" fill="url(#gH)" opacity="1" transform="rotate(-10 93.4 665.8)"/><ellipse cx="237.4" cy="644.7" rx="12.4" ry="22.8" fill="url(#gH)" opacity="1"/><ellipse cx="255.5" cy="654.7" rx="7.2" ry="18.9" fill="url(#gH)" opacity="0.95"/><ellipse cx="185.8" cy="738.4" rx="9.8" ry="15.6" fill="url(#gH)" opacity="1" transform="rotate(-25 185.8 738.4)"/><ellipse cx="228.4" cy="740.9" rx="24.7" ry="5.9" fill="url(#gH)" opacity="0.95"/><ellipse cx="148.3" cy="756.4" rx="17.6" ry="7.2" fill="url(#gH)" opacity="1" transform="rotate(-8 148.3 756.4)"/><ellipse cx="66.3" cy="729.1" rx="10.4" ry="9.8" fill="url(#gH)" opacity="0.95"/><ellipse cx="48.1" cy="750.9" rx="9.1" ry="8.5" fill="url(#gH)" opacity="0.95"/><ellipse cx="93.1" cy="762.5" rx="29.3" ry="14.3" fill="url(#gH)" opacity="1" transform="rotate(10 93.1 762.5)"/><ellipse cx="57.6" cy="776.0" rx="11.1" ry="5.2" fill="url(#gH)" opacity="0.9"/><ellipse cx="242.9" cy="773.5" rx="15.0" ry="8.5" fill="url(#gH)" opacity="0.95" transform="rotate(20 242.9 773.5)"/><ellipse cx="45.1" cy="640.2" rx="16.3" ry="13.0" fill="url(#gH)" opacity="0.45"/><ellipse cx="180.3" cy="770.5" rx="5.9" ry="4.6" fill="url(#gH)" opacity="0.9"/><ellipse cx="41.3" cy="562.6" rx="22.8" ry="9.8" fill="url(#gH)" opacity="0.45" transform="rotate(10 41.3 562.6)"/><ellipse cx="27.5" cy="735.4" rx="6.5" ry="13.0" fill="url(#gH)" opacity="0.5"/></g><g filter="url(#b05)"><g><line x1="118.3" y1="603.1" x2="120.8" y2="603.8" stroke="#10168A" stroke-width="7.6" stroke-linecap="round"/><line x1="120.8" y1="603.8" x2="123.2" y2="604.5" stroke="#0A8E18" stroke-width="7.6" stroke-linecap="round"/><line x1="123.2" y1="604.5" x2="124.9" y2="613.9" stroke="#0A8E18" stroke-width="7.6" stroke-linecap="round"/><line x1="124.9" y1="613.9" x2="126.6" y2="623.3" stroke="#0A8E18" stroke-width="7.6" stroke-linecap="round"/><line x1="126.6" y1="623.3" x2="124.3" y2="629.4" stroke="#0A8E18" stroke-width="7.6" stroke-linecap="round"/><line x1="124.3" y1="629.4" x2="121.9" y2="635.5" stroke="#0A8E18" stroke-width="7.6" stroke-linecap="round"/><line x1="121.9" y1="635.5" x2="120.3" y2="625.7" stroke="#0A8E18" stroke-width="7.6" stroke-linecap="round"/><line x1="120.3" y1="625.7" x2="118.8" y2="615.9" stroke="#0A8E18" stroke-width="7.6" stroke-linecap="round"/><line x1="118.8" y1="615.9" x2="118.5" y2="609.5" stroke="#0A8E18" stroke-width="7.6" stroke-linecap="round"/><line x1="118.5" y1="609.5" x2="118.3" y2="603.1" stroke="#10168A" stroke-width="7.6" stroke-linecap="round"/><line x1="126.6" y1="623.3" x2="130.5" y2="626.0" stroke="#0A8E18" stroke-width="7.6" stroke-linecap="round"/><line x1="130.5" y1="626.0" x2="134.3" y2="628.7" stroke="#0A8E18" stroke-width="7.6" stroke-linecap="round"/><line x1="134.3" y1="628.7" x2="135.0" y2="620.6" stroke="#0A8E18" stroke-width="7.6" stroke-linecap="round"/><line x1="135.0" y1="620.6" x2="135.8" y2="612.6" stroke="#B02A30" stroke-width="7.6" stroke-linecap="round"/><line x1="134.3" y1="628.7" x2="133.8" y2="637.8" stroke="#0A8E18" stroke-width="7.6" stroke-linecap="round"/><line x1="133.8" y1="637.8" x2="133.4" y2="646.9" stroke="#B02A30" stroke-width="7.6" stroke-linecap="round"/><line x1="104.4" y1="649.0" x2="113.1" y2="649.0" stroke="#0A8E18" stroke-width="7.6" stroke-linecap="round"/><line x1="113.1" y1="649.0" x2="121.9" y2="649.0" stroke="#0A8E18" stroke-width="7.6" stroke-linecap="round"/><line x1="121.9" y1="649.0" x2="128.0" y2="655.7" stroke="#0A8E18" stroke-width="7.6" stroke-linecap="round"/><line x1="128.0" y1="655.7" x2="134.0" y2="662.5" stroke="#0A8E18" stroke-width="7.6" stroke-linecap="round"/><line x1="134.0" y1="662.5" x2="132.7" y2="669.9" stroke="#0A8E18" stroke-width="7.6" stroke-linecap="round"/><line x1="132.7" y1="669.9" x2="131.3" y2="677.3" stroke="#0A8E18" stroke-width="7.6" stroke-linecap="round"/><line x1="131.3" y1="677.3" x2="121.9" y2="675.6" stroke="#0A8E18" stroke-width="7.6" stroke-linecap="round"/><line x1="121.9" y1="675.6" x2="112.5" y2="673.9" stroke="#0A8E18" stroke-width="7.6" stroke-linecap="round"/><line x1="112.5" y1="673.9" x2="108.1" y2="667.9" stroke="#0A8E18" stroke-width="7.6" stroke-linecap="round"/><line x1="108.1" y1="667.9" x2="103.7" y2="661.8" stroke="#10168A" stroke-width="7.6" stroke-linecap="round"/><line x1="103.7" y1="661.8" x2="104.0" y2="655.4" stroke="#10168A" stroke-width="7.6" stroke-linecap="round"/><line x1="104.0" y1="655.4" x2="104.4" y2="649.0" stroke="#0A8E18" stroke-width="7.6" stroke-linecap="round"/><line x1="121.9" y1="635.5" x2="121.9" y2="642.2" stroke="#0A8E18" stroke-width="7.6" stroke-linecap="round"/><line x1="121.9" y1="642.2" x2="121.9" y2="649.0" stroke="#0A8E18" stroke-width="7.6" stroke-linecap="round"/><line x1="134.0" y1="662.5" x2="142.8" y2="663.1" stroke="#0A8E18" stroke-width="7.6" stroke-linecap="round"/><line x1="142.8" y1="663.1" x2="151.6" y2="663.8" stroke="#0A8E18" stroke-width="7.6" stroke-linecap="round"/><line x1="151.6" y1="663.8" x2="156.6" y2="658.8" stroke="#0A8E18" stroke-width="7.6" stroke-linecap="round"/><line x1="156.6" y1="658.8" x2="161.7" y2="653.7" stroke="#10168A" stroke-width="7.6" stroke-linecap="round"/><line x1="161.7" y1="653.7" x2="169.8" y2="655.0" stroke="#10168A" stroke-width="7.6" stroke-linecap="round"/><line x1="169.8" y1="655.0" x2="177.9" y2="656.4" stroke="#0A8E18" stroke-width="7.6" stroke-linecap="round"/><line x1="177.9" y1="656.4" x2="180.6" y2="666.2" stroke="#0A8E18" stroke-width="7.6" stroke-linecap="round"/><line x1="180.6" y1="666.2" x2="183.3" y2="675.9" stroke="#0A8E18" stroke-width="7.6" stroke-linecap="round"/><line x1="183.3" y1="675.9" x2="173.5" y2="681.3" stroke="#0A8E18" stroke-width="7.6" stroke-linecap="round"/><line x1="173.5" y1="681.3" x2="163.7" y2="686.7" stroke="#9A8420" stroke-width="7.6" stroke-linecap="round"/><line x1="163.7" y1="686.7" x2="157.6" y2="675.3" stroke="#9A8420" stroke-width="7.6" stroke-linecap="round"/><line x1="157.6" y1="675.3" x2="151.6" y2="663.8" stroke="#0A8E18" stroke-width="7.6" stroke-linecap="round"/><line x1="177.9" y1="656.4" x2="184.3" y2="649.6" stroke="#0A8E18" stroke-width="7.6" stroke-linecap="round"/><line x1="184.3" y1="649.6" x2="190.7" y2="642.9" stroke="#0A8E18" stroke-width="7.6" stroke-linecap="round"/><line x1="190.7" y1="642.9" x2="191.0" y2="633.5" stroke="#0A8E18" stroke-width="7.6" stroke-linecap="round"/><line x1="191.0" y1="633.5" x2="191.4" y2="624.0" stroke="#0A8E18" stroke-width="7.6" stroke-linecap="round"/><line x1="190.7" y1="642.9" x2="198.1" y2="646.6" stroke="#0A8E18" stroke-width="7.6" stroke-linecap="round"/><line x1="198.1" y1="646.6" x2="205.5" y2="650.3" stroke="#0A8E18" stroke-width="7.6" stroke-linecap="round"/><line x1="190.7" y1="642.9" x2="185.3" y2="639.9" stroke="#0A8E18" stroke-width="7.6" stroke-linecap="round"/><line x1="185.3" y1="639.9" x2="179.9" y2="636.8" stroke="#0A8E18" stroke-width="7.6" stroke-linecap="round"/><line x1="112.5" y1="673.9" x2="111.4" y2="679.7" stroke="#0A8E18" stroke-width="7.6" stroke-linecap="round"/><line x1="111.4" y1="679.7" x2="110.4" y2="685.4" stroke="#10168A" stroke-width="7.6" stroke-linecap="round"/><line x1="110.4" y1="685.4" x2="115.2" y2="691.8" stroke="#10168A" stroke-width="7.6" stroke-linecap="round"/><line x1="115.2" y1="691.8" x2="119.9" y2="698.2" stroke="#0A8E18" stroke-width="7.6" stroke-linecap="round"/><line x1="119.9" y1="698.2" x2="128.3" y2="700.2" stroke="#0A8E18" stroke-width="7.6" stroke-linecap="round"/><line x1="128.3" y1="700.2" x2="136.7" y2="702.3" stroke="#B02A30" stroke-width="7.6" stroke-linecap="round"/><line x1="119.9" y1="698.2" x2="116.8" y2="703.3" stroke="#0A8E18" stroke-width="7.6" stroke-linecap="round"/><line x1="116.8" y1="703.3" x2="113.8" y2="708.3" stroke="#10168A" stroke-width="7.6" stroke-linecap="round"/><line x1="113.8" y1="708.3" x2="118.5" y2="713.4" stroke="#10168A" stroke-width="7.6" stroke-linecap="round"/><line x1="118.5" y1="713.4" x2="123.2" y2="718.4" stroke="#0A8E18" stroke-width="7.6" stroke-linecap="round"/><line x1="118.1" y1="602.8" x2="120.6" y2="603.5" stroke="#2028DC" stroke-width="6.6" stroke-linecap="round"/><line x1="120.6" y1="603.5" x2="123.0" y2="604.2" stroke="#12D428" stroke-width="6.6" stroke-linecap="round"/><line x1="123.0" y1="604.2" x2="124.7" y2="613.6" stroke="#12D428" stroke-width="6.6" stroke-linecap="round"/><line x1="124.7" y1="613.6" x2="126.4" y2="623.0" stroke="#12D428" stroke-width="6.6" stroke-linecap="round"/><line x1="126.4" y1="623.0" x2="124.1" y2="629.1" stroke="#12D428" stroke-width="6.6" stroke-linecap="round"/><line x1="124.1" y1="629.1" x2="121.7" y2="635.2" stroke="#12D428" stroke-width="6.6" stroke-linecap="round"/><line x1="121.7" y1="635.2" x2="120.1" y2="625.4" stroke="#12D428" stroke-width="6.6" stroke-linecap="round"/><line x1="120.1" y1="625.4" x2="118.6" y2="615.6" stroke="#12D428" stroke-width="6.6" stroke-linecap="round"/><line x1="118.6" y1="615.6" x2="118.3" y2="609.2" stroke="#12D428" stroke-width="6.6" stroke-linecap="round"/><line x1="118.3" y1="609.2" x2="118.1" y2="602.8" stroke="#2028DC" stroke-width="6.6" stroke-linecap="round"/><line x1="126.4" y1="623.0" x2="130.3" y2="625.7" stroke="#12D428" stroke-width="6.6" stroke-linecap="round"/><line x1="130.3" y1="625.7" x2="134.1" y2="628.4" stroke="#12D428" stroke-width="6.6" stroke-linecap="round"/><line x1="134.1" y1="628.4" x2="134.8" y2="620.3" stroke="#12D428" stroke-width="6.6" stroke-linecap="round"/><line x1="134.8" y1="620.3" x2="135.6" y2="612.3" stroke="#F2545C" stroke-width="6.6" stroke-linecap="round"/><line x1="134.1" y1="628.4" x2="133.6" y2="637.5" stroke="#12D428" stroke-width="6.6" stroke-linecap="round"/><line x1="133.6" y1="637.5" x2="133.2" y2="646.6" stroke="#F2545C" stroke-width="6.6" stroke-linecap="round"/><line x1="104.2" y1="648.7" x2="112.9" y2="648.7" stroke="#12D428" stroke-width="6.6" stroke-linecap="round"/><line x1="112.9" y1="648.7" x2="121.7" y2="648.7" stroke="#12D428" stroke-width="6.6" stroke-linecap="round"/><line x1="121.7" y1="648.7" x2="127.8" y2="655.4" stroke="#12D428" stroke-width="6.6" stroke-linecap="round"/><line x1="127.8" y1="655.4" x2="133.8" y2="662.2" stroke="#12D428" stroke-width="6.6" stroke-linecap="round"/><line x1="133.8" y1="662.2" x2="132.5" y2="669.6" stroke="#12D428" stroke-width="6.6" stroke-linecap="round"/><line x1="132.5" y1="669.6" x2="131.1" y2="677.0" stroke="#12D428" stroke-width="6.6" stroke-linecap="round"/><line x1="131.1" y1="677.0" x2="121.7" y2="675.3" stroke="#12D428" stroke-width="6.6" stroke-linecap="round"/><line x1="121.7" y1="675.3" x2="112.3" y2="673.6" stroke="#12D428" stroke-width="6.6" stroke-linecap="round"/><line x1="112.3" y1="673.6" x2="107.9" y2="667.6" stroke="#12D428" stroke-width="6.6" stroke-linecap="round"/><line x1="107.9" y1="667.6" x2="103.5" y2="661.5" stroke="#2028DC" stroke-width="6.6" stroke-linecap="round"/><line x1="103.5" y1="661.5" x2="103.8" y2="655.1" stroke="#2028DC" stroke-width="6.6" stroke-linecap="round"/><line x1="103.8" y1="655.1" x2="104.2" y2="648.7" stroke="#12D428" stroke-width="6.6" stroke-linecap="round"/><line x1="121.7" y1="635.2" x2="121.7" y2="641.9" stroke="#12D428" stroke-width="6.6" stroke-linecap="round"/><line x1="121.7" y1="641.9" x2="121.7" y2="648.7" stroke="#12D428" stroke-width="6.6" stroke-linecap="round"/><line x1="133.8" y1="662.2" x2="142.6" y2="662.8" stroke="#12D428" stroke-width="6.6" stroke-linecap="round"/><line x1="142.6" y1="662.8" x2="151.4" y2="663.5" stroke="#12D428" stroke-width="6.6" stroke-linecap="round"/><line x1="151.4" y1="663.5" x2="156.4" y2="658.5" stroke="#12D428" stroke-width="6.6" stroke-linecap="round"/><line x1="156.4" y1="658.5" x2="161.5" y2="653.4" stroke="#2028DC" stroke-width="6.6" stroke-linecap="round"/><line x1="161.5" y1="653.4" x2="169.6" y2="654.7" stroke="#2028DC" stroke-width="6.6" stroke-linecap="round"/><line x1="169.6" y1="654.7" x2="177.7" y2="656.1" stroke="#12D428" stroke-width="6.6" stroke-linecap="round"/><line x1="177.7" y1="656.1" x2="180.4" y2="665.9" stroke="#12D428" stroke-width="6.6" stroke-linecap="round"/><line x1="180.4" y1="665.9" x2="183.1" y2="675.6" stroke="#12D428" stroke-width="6.6" stroke-linecap="round"/><line x1="183.1" y1="675.6" x2="173.3" y2="681.0" stroke="#12D428" stroke-width="6.6" stroke-linecap="round"/><line x1="173.3" y1="681.0" x2="163.5" y2="686.4" stroke="#D6BC3A" stroke-width="6.6" stroke-linecap="round"/><line x1="163.5" y1="686.4" x2="157.4" y2="675.0" stroke="#D6BC3A" stroke-width="6.6" stroke-linecap="round"/><line x1="157.4" y1="675.0" x2="151.4" y2="663.5" stroke="#12D428" stroke-width="6.6" stroke-linecap="round"/><line x1="177.7" y1="656.1" x2="184.1" y2="649.3" stroke="#12D428" stroke-width="6.6" stroke-linecap="round"/><line x1="184.1" y1="649.3" x2="190.5" y2="642.6" stroke="#12D428" stroke-width="6.6" stroke-linecap="round"/><line x1="190.5" y1="642.6" x2="190.8" y2="633.2" stroke="#12D428" stroke-width="6.6" stroke-linecap="round"/><line x1="190.8" y1="633.2" x2="191.2" y2="623.7" stroke="#12D428" stroke-width="6.6" stroke-linecap="round"/><line x1="190.5" y1="642.6" x2="197.9" y2="646.3" stroke="#12D428" stroke-width="6.6" stroke-linecap="round"/><line x1="197.9" y1="646.3" x2="205.3" y2="650.0" stroke="#12D428" stroke-width="6.6" stroke-linecap="round"/><line x1="190.5" y1="642.6" x2="185.1" y2="639.6" stroke="#12D428" stroke-width="6.6" stroke-linecap="round"/><line x1="185.1" y1="639.6" x2="179.7" y2="636.5" stroke="#12D428" stroke-width="6.6" stroke-linecap="round"/><line x1="112.3" y1="673.6" x2="111.2" y2="679.4" stroke="#12D428" stroke-width="6.6" stroke-linecap="round"/><line x1="111.2" y1="679.4" x2="110.2" y2="685.1" stroke="#2028DC" stroke-width="6.6" stroke-linecap="round"/><line x1="110.2" y1="685.1" x2="115.0" y2="691.5" stroke="#2028DC" stroke-width="6.6" stroke-linecap="round"/><line x1="115.0" y1="691.5" x2="119.7" y2="697.9" stroke="#12D428" stroke-width="6.6" stroke-linecap="round"/><line x1="119.7" y1="697.9" x2="128.1" y2="699.9" stroke="#12D428" stroke-width="6.6" stroke-linecap="round"/><line x1="128.1" y1="699.9" x2="136.5" y2="702.0" stroke="#F2545C" stroke-width="6.6" stroke-linecap="round"/><line x1="119.7" y1="697.9" x2="116.6" y2="703.0" stroke="#12D428" stroke-width="6.6" stroke-linecap="round"/><line x1="116.6" y1="703.0" x2="113.6" y2="708.0" stroke="#2028DC" stroke-width="6.6" stroke-linecap="round"/><line x1="113.6" y1="708.0" x2="118.3" y2="713.1" stroke="#2028DC" stroke-width="6.6" stroke-linecap="round"/><line x1="118.3" y1="713.1" x2="123.0" y2="718.1" stroke="#12D428" stroke-width="6.6" stroke-linecap="round"/><line x1="117.2" y1="602.0" x2="119.7" y2="602.6" stroke="#4A5CF8" stroke-width="1.5" stroke-linecap="round" opacity="0.45"/><line x1="119.7" y1="602.6" x2="122.2" y2="603.3" stroke="#4CFF68" stroke-width="1.5" stroke-linecap="round" opacity="0.45"/><line x1="122.2" y1="603.3" x2="123.9" y2="612.8" stroke="#4CFF68" stroke-width="1.5" stroke-linecap="round" opacity="0.45"/><line x1="123.9" y1="612.8" x2="125.6" y2="622.2" stroke="#4CFF68" stroke-width="1.5" stroke-linecap="round" opacity="0.45"/><line x1="125.6" y1="622.2" x2="123.2" y2="628.3" stroke="#4CFF68" stroke-width="1.5" stroke-linecap="round" opacity="0.45"/><line x1="123.2" y1="628.3" x2="120.9" y2="634.3" stroke="#4CFF68" stroke-width="1.5" stroke-linecap="round" opacity="0.45"/><line x1="120.9" y1="634.3" x2="119.3" y2="624.6" stroke="#4CFF68" stroke-width="1.5" stroke-linecap="round" opacity="0.45"/><line x1="119.3" y1="624.6" x2="117.8" y2="614.8" stroke="#4CFF68" stroke-width="1.5" stroke-linecap="round" opacity="0.45"/><line x1="117.8" y1="614.8" x2="117.5" y2="608.4" stroke="#4CFF68" stroke-width="1.5" stroke-linecap="round" opacity="0.45"/><line x1="117.5" y1="608.4" x2="117.2" y2="602.0" stroke="#4A5CF8" stroke-width="1.5" stroke-linecap="round" opacity="0.45"/><line x1="125.6" y1="622.2" x2="129.4" y2="624.9" stroke="#4CFF68" stroke-width="1.5" stroke-linecap="round" opacity="0.45"/><line x1="129.4" y1="624.9" x2="133.3" y2="627.6" stroke="#4CFF68" stroke-width="1.5" stroke-linecap="round" opacity="0.45"/><line x1="133.3" y1="627.6" x2="134.0" y2="619.5" stroke="#4CFF68" stroke-width="1.5" stroke-linecap="round" opacity="0.45"/><line x1="134.0" y1="619.5" x2="134.7" y2="611.4" stroke="#FF9AA0" stroke-width="1.5" stroke-linecap="round" opacity="0.45"/><line x1="133.3" y1="627.6" x2="132.8" y2="636.7" stroke="#4CFF68" stroke-width="1.5" stroke-linecap="round" opacity="0.45"/><line x1="132.8" y1="636.7" x2="132.3" y2="645.8" stroke="#FF9AA0" stroke-width="1.5" stroke-linecap="round" opacity="0.45"/><line x1="103.3" y1="647.8" x2="112.1" y2="647.8" stroke="#4CFF68" stroke-width="1.5" stroke-linecap="round" opacity="0.45"/><line x1="112.1" y1="647.8" x2="120.9" y2="647.8" stroke="#4CFF68" stroke-width="1.5" stroke-linecap="round" opacity="0.45"/><line x1="120.9" y1="647.8" x2="126.9" y2="654.6" stroke="#4CFF68" stroke-width="1.5" stroke-linecap="round" opacity="0.45"/><line x1="126.9" y1="654.6" x2="133.0" y2="661.3" stroke="#4CFF68" stroke-width="1.5" stroke-linecap="round" opacity="0.45"/><line x1="133.0" y1="661.3" x2="131.6" y2="668.7" stroke="#4CFF68" stroke-width="1.5" stroke-linecap="round" opacity="0.45"/><line x1="131.6" y1="668.7" x2="130.3" y2="676.2" stroke="#4CFF68" stroke-width="1.5" stroke-linecap="round" opacity="0.45"/><line x1="130.3" y1="676.2" x2="120.9" y2="674.5" stroke="#4CFF68" stroke-width="1.5" stroke-linecap="round" opacity="0.45"/><line x1="120.9" y1="674.5" x2="111.4" y2="672.8" stroke="#4CFF68" stroke-width="1.5" stroke-linecap="round" opacity="0.45"/><line x1="111.4" y1="672.8" x2="107.0" y2="666.7" stroke="#4CFF68" stroke-width="1.5" stroke-linecap="round" opacity="0.45"/><line x1="107.0" y1="666.7" x2="102.6" y2="660.6" stroke="#4A5CF8" stroke-width="1.5" stroke-linecap="round" opacity="0.45"/><line x1="102.6" y1="660.6" x2="103.0" y2="654.2" stroke="#4A5CF8" stroke-width="1.5" stroke-linecap="round" opacity="0.45"/><line x1="103.0" y1="654.2" x2="103.3" y2="647.8" stroke="#4CFF68" stroke-width="1.5" stroke-linecap="round" opacity="0.45"/><line x1="120.9" y1="634.3" x2="120.9" y2="641.1" stroke="#4CFF68" stroke-width="1.5" stroke-linecap="round" opacity="0.45"/><line x1="120.9" y1="641.1" x2="120.9" y2="647.8" stroke="#4CFF68" stroke-width="1.5" stroke-linecap="round" opacity="0.45"/><line x1="133.0" y1="661.3" x2="141.8" y2="662.0" stroke="#4CFF68" stroke-width="1.5" stroke-linecap="round" opacity="0.45"/><line x1="141.8" y1="662.0" x2="150.5" y2="662.7" stroke="#4CFF68" stroke-width="1.5" stroke-linecap="round" opacity="0.45"/><line x1="150.5" y1="662.7" x2="155.6" y2="657.6" stroke="#4CFF68" stroke-width="1.5" stroke-linecap="round" opacity="0.45"/><line x1="155.6" y1="657.6" x2="160.6" y2="652.6" stroke="#4A5CF8" stroke-width="1.5" stroke-linecap="round" opacity="0.45"/><line x1="160.6" y1="652.6" x2="168.7" y2="653.9" stroke="#4A5CF8" stroke-width="1.5" stroke-linecap="round" opacity="0.45"/><line x1="168.7" y1="653.9" x2="176.8" y2="655.3" stroke="#4CFF68" stroke-width="1.5" stroke-linecap="round" opacity="0.45"/><line x1="176.8" y1="655.3" x2="179.5" y2="665.0" stroke="#4CFF68" stroke-width="1.5" stroke-linecap="round" opacity="0.45"/><line x1="179.5" y1="665.0" x2="182.2" y2="674.8" stroke="#4CFF68" stroke-width="1.5" stroke-linecap="round" opacity="0.45"/><line x1="182.2" y1="674.8" x2="172.4" y2="680.2" stroke="#4CFF68" stroke-width="1.5" stroke-linecap="round" opacity="0.45"/><line x1="172.4" y1="680.2" x2="162.7" y2="685.6" stroke="#F4E27A" stroke-width="1.5" stroke-linecap="round" opacity="0.45"/><line x1="162.7" y1="685.6" x2="156.6" y2="674.1" stroke="#F4E27A" stroke-width="1.5" stroke-linecap="round" opacity="0.45"/><line x1="156.6" y1="674.1" x2="150.5" y2="662.7" stroke="#4CFF68" stroke-width="1.5" stroke-linecap="round" opacity="0.45"/><line x1="176.8" y1="655.3" x2="183.2" y2="648.5" stroke="#4CFF68" stroke-width="1.5" stroke-linecap="round" opacity="0.45"/><line x1="183.2" y1="648.5" x2="189.6" y2="641.8" stroke="#4CFF68" stroke-width="1.5" stroke-linecap="round" opacity="0.45"/><line x1="189.6" y1="641.8" x2="190.0" y2="632.3" stroke="#4CFF68" stroke-width="1.5" stroke-linecap="round" opacity="0.45"/><line x1="190.0" y1="632.3" x2="190.3" y2="622.9" stroke="#4CFF68" stroke-width="1.5" stroke-linecap="round" opacity="0.45"/><line x1="189.6" y1="641.8" x2="197.1" y2="645.5" stroke="#4CFF68" stroke-width="1.5" stroke-linecap="round" opacity="0.45"/><line x1="197.1" y1="645.5" x2="204.5" y2="649.2" stroke="#4CFF68" stroke-width="1.5" stroke-linecap="round" opacity="0.45"/><line x1="189.6" y1="641.8" x2="184.3" y2="638.7" stroke="#4CFF68" stroke-width="1.5" stroke-linecap="round" opacity="0.45"/><line x1="184.3" y1="638.7" x2="178.9" y2="635.7" stroke="#4CFF68" stroke-width="1.5" stroke-linecap="round" opacity="0.45"/><line x1="111.4" y1="672.8" x2="110.4" y2="678.5" stroke="#4CFF68" stroke-width="1.5" stroke-linecap="round" opacity="0.45"/><line x1="110.4" y1="678.5" x2="109.4" y2="684.3" stroke="#4A5CF8" stroke-width="1.5" stroke-linecap="round" opacity="0.45"/><line x1="109.4" y1="684.3" x2="114.1" y2="690.7" stroke="#4A5CF8" stroke-width="1.5" stroke-linecap="round" opacity="0.45"/><line x1="114.1" y1="690.7" x2="118.8" y2="697.1" stroke="#4CFF68" stroke-width="1.5" stroke-linecap="round" opacity="0.45"/><line x1="118.8" y1="697.1" x2="127.3" y2="699.1" stroke="#4CFF68" stroke-width="1.5" stroke-linecap="round" opacity="0.45"/><line x1="127.3" y1="699.1" x2="135.7" y2="701.1" stroke="#FF9AA0" stroke-width="1.5" stroke-linecap="round" opacity="0.45"/><line x1="118.8" y1="697.1" x2="115.8" y2="702.1" stroke="#4CFF68" stroke-width="1.5" stroke-linecap="round" opacity="0.45"/><line x1="115.8" y1="702.1" x2="112.8" y2="707.2" stroke="#4A5CF8" stroke-width="1.5" stroke-linecap="round" opacity="0.45"/><line x1="112.8" y1="707.2" x2="117.5" y2="712.2" stroke="#4A5CF8" stroke-width="1.5" stroke-linecap="round" opacity="0.45"/><line x1="117.5" y1="712.2" x2="122.2" y2="717.3" stroke="#4CFF68" stroke-width="1.5" stroke-linecap="round" opacity="0.45"/><circle cx="191.2" cy="623.7" r="10.0" fill="url(#gF)"/><circle cx="205.3" cy="650.0" r="10.3" fill="url(#gF)"/><circle cx="179.7" cy="636.5" r="10.3" fill="url(#gF)"/></g></g></g></g>
<g clip-path="url(#clip3)"><rect x="645" y="768" width="250" height="190" fill="#F47800"/><g filter="url(#surf3)"><ellipse cx="678.6" cy="835.2" rx="40.5" ry="46.3" fill="#fff" opacity="0.55"/><ellipse cx="656.4" cy="803.4" rx="21.2" ry="19.3" fill="#fff" opacity="0.4"/><ellipse cx="696.9" cy="809.2" rx="21.2" ry="19.3" fill="#fff" opacity="0.45"/><ellipse cx="659.3" cy="869.9" rx="25.1" ry="27.0" fill="#fff" opacity="0.45"/><ellipse cx="634.2" cy="839.1" rx="19.3" ry="57.8" fill="#fff" opacity="0.4"/><ellipse cx="668.9" cy="908.5" rx="32.8" ry="23.1" fill="#fff" opacity="0.5"/><ellipse cx="695.9" cy="935.5" rx="28.9" ry="21.2" fill="#fff" opacity="0.5"/><ellipse cx="647.7" cy="945.1" rx="23.1" ry="15.4" fill="#fff" opacity="0.45"/><ellipse cx="774.9" cy="777.4" rx="50.1" ry="17.3" fill="#fff" opacity="0.5"/><ellipse cx="823.1" cy="783.2" rx="25.1" ry="19.3" fill="#fff" opacity="0.5"/><ellipse cx="855.9" cy="777.4" rx="30.8" ry="15.4" fill="#fff" opacity="0.45"/><ellipse cx="747.9" cy="787.1" rx="23.1" ry="13.5" fill="#fff" opacity="0.35"/><ellipse cx="854.0" cy="869.9" rx="38.6" ry="50.1" fill="#fff" opacity="0.55"/><ellipse cx="882.9" cy="819.8" rx="15.4" ry="38.6" fill="#fff" opacity="0.4"/><ellipse cx="832.8" cy="922.0" rx="38.6" ry="21.2" fill="#fff" opacity="0.45"/><ellipse cx="765.3" cy="947.0" rx="57.8" ry="13.5" fill="#fff" opacity="0.5"/><ellipse cx="848.2" cy="949.0" rx="30.8" ry="11.6" fill="#fff" opacity="0.5"/><ellipse cx="732.5" cy="922.0" rx="30.8" ry="15.4" fill="#fff" opacity="0.4"/><ellipse cx="765.3" cy="858.4" rx="173.5" ry="134.9" fill="#fff" opacity="0.35"/></g><g filter="url(#b3)"><path d="M722.9 810.2 C727.0 806.5 739.3 807.9 747.9 809.2 C756.6 810.5 767.2 813.6 774.9 817.9 C782.6 822.2 788.7 827.9 794.2 835.2 C799.7 842.6 806.1 853.2 807.7 862.2 C809.3 871.2 806.1 881.8 803.8 889.2 C801.6 896.6 798.4 902.1 794.2 906.6 C790.0 911.1 785.2 915.6 778.8 916.2 C772.4 916.8 762.7 912.7 755.7 910.4 C748.6 908.2 741.8 906.2 736.4 902.7 C730.9 899.2 726.6 893.7 722.9 889.2 C719.2 884.7 714.8 881.5 714.2 875.7 C713.6 869.9 717.9 861.9 719.4 854.5 C720.9 847.1 722.7 838.8 723.3 831.4 Z" fill="#8E4000" stroke="none" stroke-width="0.0" stroke-linecap="round" stroke-linejoin="round" opacity="0.6"/><ellipse cx="805.8" cy="854.5" rx="23.1" ry="36.6" fill="#9A4800" opacity="0.35" transform="rotate(-15 805.8 854.5)"/><ellipse cx="767.2" cy="835.2" rx="17.3" ry="21.2" fill="#6E3000" opacity="0.4" transform="rotate(-30 767.2 835.2)"/></g><g filter="url(#b2)"><path d="M717.1 806.7 C718.7 807.7 722.2 811.7 726.7 812.5 C731.2 813.3 738.0 811.0 744.1 811.7 C750.2 812.5 760.1 816.1 763.4 816.9" fill="none" stroke="#3E1A00" stroke-width="5.0" stroke-linecap="round" stroke-linejoin="round" opacity="0.85"/><path d="M705.5 772.6 C707.3 776.9 713.4 789.8 716.1 798.6 C718.8 807.5 721.3 815.3 721.7 825.6 C722.1 835.9 720.1 852.0 718.6 860.3 C717.2 868.7 714.1 873.2 713.2 875.7" fill="none" stroke="#4E2200" stroke-width="2.7" stroke-linecap="round" stroke-linejoin="round" opacity="0.75"/><path d="M713.2 875.7 C710.7 874.9 703.3 870.6 697.8 870.9 C692.4 871.2 684.3 873.6 680.5 877.7 C676.6 881.7 677.6 889.2 674.7 895.0 C671.8 900.8 667.1 908.0 663.1 912.3 C659.1 916.7 652.7 919.6 650.6 921.0" fill="none" stroke="#5E2800" stroke-width="2.7" stroke-linecap="round" stroke-linejoin="round" opacity="0.65"/><path d="M774.9 911.4 C776.9 912.3 783.1 916.4 786.5 916.6 C789.9 916.7 793.7 913.1 795.2 912.3" fill="none" stroke="#2E1200" stroke-width="2.7" stroke-linecap="round" stroke-linejoin="round" opacity="0.85"/><ellipse cx="889.0" cy="829.5" rx="3.9" ry="13.5" fill="#3E1A00" opacity="0.8"/><ellipse cx="655.4" cy="775.1" rx="11.6" ry="4.2" fill="#5A2600" opacity="0.7" transform="rotate(-10 655.4 775.1)"/><ellipse cx="650.6" cy="922.0" rx="8.7" ry="6.6" fill="#4A2000" opacity="0.7"/></g><g filter="url(#b05)"><ellipse cx="656.4" cy="803.4" rx="9.0" ry="7.0" fill="url(#gH)" opacity="1"/><ellipse cx="697.1" cy="809.2" rx="10.0" ry="9.0" fill="url(#gH)" opacity="1"/><ellipse cx="820.8" cy="780.9" rx="5.0" ry="17.5" fill="url(#gH)" opacity="1" transform="rotate(32 820.8 780.9)"/><ellipse cx="849.1" cy="775.1" rx="14.0" ry="4.5" fill="url(#gH)" opacity="0.9"/><ellipse cx="694.9" cy="936.4" rx="6.0" ry="23.8" fill="url(#gH)" opacity="1" transform="rotate(-35 694.9 936.4)"/><ellipse cx="764.3" cy="949.9" rx="17.5" ry="5.5" fill="url(#gH)" opacity="1"/><ellipse cx="849.1" cy="948.0" rx="17.5" ry="6.0" fill="url(#gH)" opacity="1"/><ellipse cx="805.8" cy="948.6" rx="10.0" ry="4.0" fill="url(#gH)" opacity="0.8"/><ellipse cx="730.2" cy="885.4" rx="13.8" ry="10.0" fill="url(#gH)" opacity="1"/><ellipse cx="744.1" cy="896.9" rx="20.0" ry="9.0" fill="url(#gH)" opacity="0.6" transform="rotate(20 744.1 896.9)"/><ellipse cx="658.3" cy="858.4" rx="10.0" ry="12.5" fill="url(#gH)" opacity="0.4"/></g><g filter="url(#b05)"><g transform="translate(756.6 797.7) scale(0.95) translate(-328.6 -567.1)"><g><line x1="328.8" y1="567.4" x2="330.1" y2="576.9" stroke="#4E9A74" stroke-width="6.8" stroke-linecap="round"/><line x1="330.1" y1="576.9" x2="331.5" y2="586.3" stroke="#4E9A74" stroke-width="6.8" stroke-linecap="round"/><line x1="331.5" y1="586.3" x2="323.7" y2="590.4" stroke="#4E9A74" stroke-width="6.8" stroke-linecap="round"/><line x1="323.7" y1="590.4" x2="315.9" y2="594.4" stroke="#10168A" stroke-width="6.8" stroke-linecap="round"/><line x1="315.9" y1="594.4" x2="317.3" y2="603.2" stroke="#10168A" stroke-width="6.8" stroke-linecap="round"/><line x1="317.3" y1="603.2" x2="318.6" y2="611.9" stroke="#4E9A74" stroke-width="6.8" stroke-linecap="round"/><line x1="318.6" y1="611.9" x2="328.4" y2="616.7" stroke="#4E9A74" stroke-width="6.8" stroke-linecap="round"/><line x1="328.4" y1="616.7" x2="338.2" y2="621.4" stroke="#4E9A74" stroke-width="6.8" stroke-linecap="round"/><line x1="338.2" y1="621.4" x2="346.6" y2="618.0" stroke="#4E9A74" stroke-width="6.8" stroke-linecap="round"/><line x1="346.6" y1="618.0" x2="355.1" y2="614.6" stroke="#4E9A74" stroke-width="6.8" stroke-linecap="round"/><line x1="355.1" y1="614.6" x2="353.7" y2="605.2" stroke="#4E9A74" stroke-width="6.8" stroke-linecap="round"/><line x1="353.7" y1="605.2" x2="352.4" y2="595.8" stroke="#10168A" stroke-width="6.8" stroke-linecap="round"/><line x1="352.4" y1="595.8" x2="341.9" y2="591.0" stroke="#10168A" stroke-width="6.8" stroke-linecap="round"/><line x1="341.9" y1="591.0" x2="331.5" y2="586.3" stroke="#4E9A74" stroke-width="6.8" stroke-linecap="round"/><line x1="351.0" y1="636.2" x2="346.3" y2="632.5" stroke="#4E9A74" stroke-width="6.8" stroke-linecap="round"/><line x1="346.3" y1="632.5" x2="341.6" y2="628.8" stroke="#4E9A74" stroke-width="6.8" stroke-linecap="round"/><line x1="355.1" y1="651.1" x2="353.0" y2="643.6" stroke="#10168A" stroke-width="6.8" stroke-linecap="round"/><line x1="353.0" y1="643.6" x2="351.0" y2="636.2" stroke="#4E9A74" stroke-width="6.8" stroke-linecap="round"/><line x1="349.0" y1="657.8" x2="352.0" y2="654.4" stroke="#4E9A74" stroke-width="6.8" stroke-linecap="round"/><line x1="352.0" y1="654.4" x2="355.1" y2="651.1" stroke="#10168A" stroke-width="6.8" stroke-linecap="round"/><line x1="341.2" y1="640.0" x2="343.9" y2="637.8" stroke="#A02418" stroke-width="6.8" stroke-linecap="round"/><line x1="343.9" y1="637.8" x2="346.6" y2="635.7" stroke="#A02418" stroke-width="6.8" stroke-linecap="round"/><line x1="341.6" y1="628.8" x2="339.9" y2="625.1" stroke="#4E9A74" stroke-width="6.8" stroke-linecap="round"/><line x1="339.9" y1="625.1" x2="338.2" y2="621.4" stroke="#4E9A74" stroke-width="6.8" stroke-linecap="round"/><line x1="293.4" y1="606.3" x2="295.9" y2="610.8" stroke="#4E9A74" stroke-width="6.8" stroke-linecap="round"/><line x1="295.9" y1="610.8" x2="298.4" y2="615.3" stroke="#10168A" stroke-width="6.8" stroke-linecap="round"/><line x1="298.4" y1="615.3" x2="303.1" y2="623.1" stroke="#10168A" stroke-width="6.8" stroke-linecap="round"/><line x1="303.1" y1="623.1" x2="307.9" y2="630.8" stroke="#4E9A74" stroke-width="6.8" stroke-linecap="round"/><line x1="307.9" y1="630.8" x2="308.5" y2="638.3" stroke="#4E9A74" stroke-width="6.8" stroke-linecap="round"/><line x1="308.5" y1="638.3" x2="309.2" y2="645.7" stroke="#4E9A74" stroke-width="6.8" stroke-linecap="round"/><line x1="309.2" y1="645.7" x2="315.6" y2="653.4" stroke="#4E9A74" stroke-width="6.8" stroke-linecap="round"/><line x1="315.6" y1="653.4" x2="322.0" y2="661.2" stroke="#4E9A74" stroke-width="6.8" stroke-linecap="round"/><line x1="322.0" y1="661.2" x2="326.7" y2="660.8" stroke="#4E9A74" stroke-width="6.8" stroke-linecap="round"/><line x1="326.7" y1="660.8" x2="331.5" y2="660.5" stroke="#4E9A74" stroke-width="6.8" stroke-linecap="round"/><line x1="331.5" y1="660.5" x2="331.1" y2="653.8" stroke="#4E9A74" stroke-width="6.8" stroke-linecap="round"/><line x1="331.1" y1="653.8" x2="330.8" y2="647.0" stroke="#4E9A74" stroke-width="6.8" stroke-linecap="round"/><line x1="330.8" y1="647.0" x2="325.7" y2="639.6" stroke="#4E9A74" stroke-width="6.8" stroke-linecap="round"/><line x1="325.7" y1="639.6" x2="320.7" y2="632.2" stroke="#4E9A74" stroke-width="6.8" stroke-linecap="round"/><line x1="320.7" y1="632.2" x2="314.3" y2="631.5" stroke="#4E9A74" stroke-width="6.8" stroke-linecap="round"/><line x1="314.3" y1="631.5" x2="307.9" y2="630.8" stroke="#4E9A74" stroke-width="6.8" stroke-linecap="round"/><line x1="307.9" y1="630.8" x2="313.2" y2="627.1" stroke="#4E9A74" stroke-width="6.8" stroke-linecap="round"/><line x1="313.2" y1="627.1" x2="318.6" y2="623.4" stroke="#10168A" stroke-width="6.8" stroke-linecap="round"/><line x1="318.6" y1="623.4" x2="322.3" y2="624.8" stroke="#10168A" stroke-width="6.8" stroke-linecap="round"/><line x1="322.3" y1="624.8" x2="326.1" y2="626.1" stroke="#4E9A74" stroke-width="6.8" stroke-linecap="round"/><line x1="326.1" y1="626.1" x2="329.8" y2="626.8" stroke="#4E9A74" stroke-width="6.8" stroke-linecap="round"/><line x1="329.8" y1="626.8" x2="333.5" y2="627.5" stroke="#10168A" stroke-width="6.8" stroke-linecap="round"/><line x1="333.5" y1="627.5" x2="335.2" y2="634.5" stroke="#10168A" stroke-width="6.8" stroke-linecap="round"/><line x1="335.2" y1="634.5" x2="336.8" y2="641.6" stroke="#4E9A74" stroke-width="6.8" stroke-linecap="round"/><line x1="336.8" y1="641.6" x2="333.8" y2="644.3" stroke="#4E9A74" stroke-width="6.8" stroke-linecap="round"/><line x1="333.8" y1="644.3" x2="330.8" y2="647.0" stroke="#4E9A74" stroke-width="6.8" stroke-linecap="round"/><line x1="336.8" y1="641.6" x2="342.9" y2="649.7" stroke="#4E9A74" stroke-width="6.8" stroke-linecap="round"/><line x1="342.9" y1="649.7" x2="349.0" y2="657.8" stroke="#4E9A74" stroke-width="6.8" stroke-linecap="round"/><line x1="349.0" y1="657.8" x2="353.2" y2="665.1" stroke="#4E9A74" stroke-width="6.8" stroke-linecap="round"/><line x1="353.2" y1="665.1" x2="357.4" y2="672.4" stroke="#10168A" stroke-width="6.8" stroke-linecap="round"/><line x1="357.4" y1="672.4" x2="365.3" y2="678.6" stroke="#10168A" stroke-width="6.8" stroke-linecap="round"/><line x1="365.3" y1="678.6" x2="373.3" y2="684.9" stroke="#4E9A74" stroke-width="6.8" stroke-linecap="round"/><line x1="373.3" y1="684.9" x2="373.6" y2="694.7" stroke="#4E9A74" stroke-width="6.8" stroke-linecap="round"/><line x1="373.6" y1="694.7" x2="373.9" y2="704.5" stroke="#4E9A74" stroke-width="6.8" stroke-linecap="round"/><line x1="373.9" y1="704.5" x2="384.4" y2="704.5" stroke="#4E9A74" stroke-width="6.8" stroke-linecap="round"/><line x1="384.4" y1="704.5" x2="394.8" y2="704.5" stroke="#4E9A74" stroke-width="6.8" stroke-linecap="round"/><line x1="394.8" y1="704.5" x2="403.6" y2="697.5" stroke="#4E9A74" stroke-width="6.8" stroke-linecap="round"/><line x1="403.6" y1="697.5" x2="412.4" y2="690.6" stroke="#10168A" stroke-width="6.8" stroke-linecap="round"/><line x1="357.4" y1="672.4" x2="355.2" y2="679.9" stroke="#10168A" stroke-width="6.8" stroke-linecap="round"/><line x1="355.2" y1="679.9" x2="353.0" y2="687.3" stroke="#4E9A74" stroke-width="6.8" stroke-linecap="round"/><line x1="353.0" y1="687.3" x2="373.9" y2="695.9" stroke="#4E9A74" stroke-width="6.8" stroke-linecap="round"/><line x1="373.9" y1="695.9" x2="394.8" y2="704.5" stroke="#4E9A74" stroke-width="6.8" stroke-linecap="round"/><line x1="328.6" y1="567.1" x2="329.9" y2="576.6" stroke="#76C69B" stroke-width="5.8" stroke-linecap="round"/><line x1="329.9" y1="576.6" x2="331.3" y2="586.0" stroke="#76C69B" stroke-width="5.8" stroke-linecap="round"/><line x1="331.3" y1="586.0" x2="323.5" y2="590.1" stroke="#76C69B" stroke-width="5.8" stroke-linecap="round"/><line x1="323.5" y1="590.1" x2="315.7" y2="594.1" stroke="#2028DC" stroke-width="5.8" stroke-linecap="round"/><line x1="315.7" y1="594.1" x2="317.1" y2="602.9" stroke="#2028DC" stroke-width="5.8" stroke-linecap="round"/><line x1="317.1" y1="602.9" x2="318.4" y2="611.6" stroke="#76C69B" stroke-width="5.8" stroke-linecap="round"/><line x1="318.4" y1="611.6" x2="328.2" y2="616.4" stroke="#76C69B" stroke-width="5.8" stroke-linecap="round"/><line x1="328.2" y1="616.4" x2="338.0" y2="621.1" stroke="#76C69B" stroke-width="5.8" stroke-linecap="round"/><line x1="338.0" y1="621.1" x2="346.4" y2="617.7" stroke="#76C69B" stroke-width="5.8" stroke-linecap="round"/><line x1="346.4" y1="617.7" x2="354.9" y2="614.3" stroke="#76C69B" stroke-width="5.8" stroke-linecap="round"/><line x1="354.9" y1="614.3" x2="353.5" y2="604.9" stroke="#76C69B" stroke-width="5.8" stroke-linecap="round"/><line x1="353.5" y1="604.9" x2="352.2" y2="595.5" stroke="#2028DC" stroke-width="5.8" stroke-linecap="round"/><line x1="352.2" y1="595.5" x2="341.7" y2="590.7" stroke="#2028DC" stroke-width="5.8" stroke-linecap="round"/><line x1="341.7" y1="590.7" x2="331.3" y2="586.0" stroke="#76C69B" stroke-width="5.8" stroke-linecap="round"/><line x1="350.8" y1="635.9" x2="346.1" y2="632.2" stroke="#76C69B" stroke-width="5.8" stroke-linecap="round"/><line x1="346.1" y1="632.2" x2="341.4" y2="628.5" stroke="#76C69B" stroke-width="5.8" stroke-linecap="round"/><line x1="354.9" y1="650.8" x2="352.8" y2="643.3" stroke="#2028DC" stroke-width="5.8" stroke-linecap="round"/><line x1="352.8" y1="643.3" x2="350.8" y2="635.9" stroke="#76C69B" stroke-width="5.8" stroke-linecap="round"/><line x1="348.8" y1="657.5" x2="351.8" y2="654.1" stroke="#76C69B" stroke-width="5.8" stroke-linecap="round"/><line x1="351.8" y1="654.1" x2="354.9" y2="650.8" stroke="#2028DC" stroke-width="5.8" stroke-linecap="round"/><line x1="341.0" y1="639.7" x2="343.7" y2="637.5" stroke="#E8402E" stroke-width="5.8" stroke-linecap="round"/><line x1="343.7" y1="637.5" x2="346.4" y2="635.4" stroke="#E8402E" stroke-width="5.8" stroke-linecap="round"/><line x1="341.4" y1="628.5" x2="339.7" y2="624.8" stroke="#76C69B" stroke-width="5.8" stroke-linecap="round"/><line x1="339.7" y1="624.8" x2="338.0" y2="621.1" stroke="#76C69B" stroke-width="5.8" stroke-linecap="round"/><line x1="293.2" y1="606.0" x2="295.7" y2="610.5" stroke="#76C69B" stroke-width="5.8" stroke-linecap="round"/><line x1="295.7" y1="610.5" x2="298.2" y2="615.0" stroke="#2028DC" stroke-width="5.8" stroke-linecap="round"/><line x1="298.2" y1="615.0" x2="302.9" y2="622.8" stroke="#2028DC" stroke-width="5.8" stroke-linecap="round"/><line x1="302.9" y1="622.8" x2="307.7" y2="630.5" stroke="#76C69B" stroke-width="5.8" stroke-linecap="round"/><line x1="307.7" y1="630.5" x2="308.3" y2="638.0" stroke="#76C69B" stroke-width="5.8" stroke-linecap="round"/><line x1="308.3" y1="638.0" x2="309.0" y2="645.4" stroke="#76C69B" stroke-width="5.8" stroke-linecap="round"/><line x1="309.0" y1="645.4" x2="315.4" y2="653.1" stroke="#76C69B" stroke-width="5.8" stroke-linecap="round"/><line x1="315.4" y1="653.1" x2="321.8" y2="660.9" stroke="#76C69B" stroke-width="5.8" stroke-linecap="round"/><line x1="321.8" y1="660.9" x2="326.5" y2="660.5" stroke="#76C69B" stroke-width="5.8" stroke-linecap="round"/><line x1="326.5" y1="660.5" x2="331.3" y2="660.2" stroke="#76C69B" stroke-width="5.8" stroke-linecap="round"/><line x1="331.3" y1="660.2" x2="330.9" y2="653.5" stroke="#76C69B" stroke-width="5.8" stroke-linecap="round"/><line x1="330.9" y1="653.5" x2="330.6" y2="646.7" stroke="#76C69B" stroke-width="5.8" stroke-linecap="round"/><line x1="330.6" y1="646.7" x2="325.5" y2="639.3" stroke="#76C69B" stroke-width="5.8" stroke-linecap="round"/><line x1="325.5" y1="639.3" x2="320.5" y2="631.9" stroke="#76C69B" stroke-width="5.8" stroke-linecap="round"/><line x1="320.5" y1="631.9" x2="314.1" y2="631.2" stroke="#76C69B" stroke-width="5.8" stroke-linecap="round"/><line x1="314.1" y1="631.2" x2="307.7" y2="630.5" stroke="#76C69B" stroke-width="5.8" stroke-linecap="round"/><line x1="307.7" y1="630.5" x2="313.0" y2="626.8" stroke="#76C69B" stroke-width="5.8" stroke-linecap="round"/><line x1="313.0" y1="626.8" x2="318.4" y2="623.1" stroke="#2028DC" stroke-width="5.8" stroke-linecap="round"/><line x1="318.4" y1="623.1" x2="322.1" y2="624.5" stroke="#2028DC" stroke-width="5.8" stroke-linecap="round"/><line x1="322.1" y1="624.5" x2="325.9" y2="625.8" stroke="#76C69B" stroke-width="5.8" stroke-linecap="round"/><line x1="325.9" y1="625.8" x2="329.6" y2="626.5" stroke="#76C69B" stroke-width="5.8" stroke-linecap="round"/><line x1="329.6" y1="626.5" x2="333.3" y2="627.2" stroke="#2028DC" stroke-width="5.8" stroke-linecap="round"/><line x1="333.3" y1="627.2" x2="335.0" y2="634.2" stroke="#2028DC" stroke-width="5.8" stroke-linecap="round"/><line x1="335.0" y1="634.2" x2="336.6" y2="641.3" stroke="#76C69B" stroke-width="5.8" stroke-linecap="round"/><line x1="336.6" y1="641.3" x2="333.6" y2="644.0" stroke="#76C69B" stroke-width="5.8" stroke-linecap="round"/><line x1="333.6" y1="644.0" x2="330.6" y2="646.7" stroke="#76C69B" stroke-width="5.8" stroke-linecap="round"/><line x1="336.6" y1="641.3" x2="342.7" y2="649.4" stroke="#76C69B" stroke-width="5.8" stroke-linecap="round"/><line x1="342.7" y1="649.4" x2="348.8" y2="657.5" stroke="#76C69B" stroke-width="5.8" stroke-linecap="round"/><line x1="348.8" y1="657.5" x2="353.0" y2="664.8" stroke="#76C69B" stroke-width="5.8" stroke-linecap="round"/><line x1="353.0" y1="664.8" x2="357.2" y2="672.1" stroke="#2028DC" stroke-width="5.8" stroke-linecap="round"/><line x1="357.2" y1="672.1" x2="365.1" y2="678.3" stroke="#2028DC" stroke-width="5.8" stroke-linecap="round"/><line x1="365.1" y1="678.3" x2="373.1" y2="684.6" stroke="#76C69B" stroke-width="5.8" stroke-linecap="round"/><line x1="373.1" y1="684.6" x2="373.4" y2="694.4" stroke="#76C69B" stroke-width="5.8" stroke-linecap="round"/><line x1="373.4" y1="694.4" x2="373.7" y2="704.2" stroke="#76C69B" stroke-width="5.8" stroke-linecap="round"/><line x1="373.7" y1="704.2" x2="384.2" y2="704.2" stroke="#76C69B" stroke-width="5.8" stroke-linecap="round"/><line x1="384.2" y1="704.2" x2="394.6" y2="704.2" stroke="#76C69B" stroke-width="5.8" stroke-linecap="round"/><line x1="394.6" y1="704.2" x2="403.4" y2="697.2" stroke="#76C69B" stroke-width="5.8" stroke-linecap="round"/><line x1="403.4" y1="697.2" x2="412.2" y2="690.3" stroke="#2028DC" stroke-width="5.8" stroke-linecap="round"/><line x1="357.2" y1="672.1" x2="355.0" y2="679.6" stroke="#2028DC" stroke-width="5.8" stroke-linecap="round"/><line x1="355.0" y1="679.6" x2="352.8" y2="687.0" stroke="#76C69B" stroke-width="5.8" stroke-linecap="round"/><line x1="352.8" y1="687.0" x2="373.7" y2="695.6" stroke="#76C69B" stroke-width="5.8" stroke-linecap="round"/><line x1="373.7" y1="695.6" x2="394.6" y2="704.2" stroke="#76C69B" stroke-width="5.8" stroke-linecap="round"/><line x1="327.8" y1="566.4" x2="329.2" y2="575.8" stroke="#B4F2CF" stroke-width="1.4" stroke-linecap="round" opacity="0.45"/><line x1="329.2" y1="575.8" x2="330.5" y2="585.3" stroke="#B4F2CF" stroke-width="1.4" stroke-linecap="round" opacity="0.45"/><line x1="330.5" y1="585.3" x2="322.8" y2="589.3" stroke="#B4F2CF" stroke-width="1.4" stroke-linecap="round" opacity="0.45"/><line x1="322.8" y1="589.3" x2="315.0" y2="593.4" stroke="#4A5CF8" stroke-width="1.4" stroke-linecap="round" opacity="0.45"/><line x1="315.0" y1="593.4" x2="316.3" y2="602.1" stroke="#4A5CF8" stroke-width="1.4" stroke-linecap="round" opacity="0.45"/><line x1="316.3" y1="602.1" x2="317.7" y2="610.9" stroke="#B4F2CF" stroke-width="1.4" stroke-linecap="round" opacity="0.45"/><line x1="317.7" y1="610.9" x2="327.5" y2="615.6" stroke="#B4F2CF" stroke-width="1.4" stroke-linecap="round" opacity="0.45"/><line x1="327.5" y1="615.6" x2="337.3" y2="620.3" stroke="#B4F2CF" stroke-width="1.4" stroke-linecap="round" opacity="0.45"/><line x1="337.3" y1="620.3" x2="345.7" y2="617.0" stroke="#B4F2CF" stroke-width="1.4" stroke-linecap="round" opacity="0.45"/><line x1="345.7" y1="617.0" x2="354.1" y2="613.6" stroke="#B4F2CF" stroke-width="1.4" stroke-linecap="round" opacity="0.45"/><line x1="354.1" y1="613.6" x2="352.8" y2="604.2" stroke="#B4F2CF" stroke-width="1.4" stroke-linecap="round" opacity="0.45"/><line x1="352.8" y1="604.2" x2="351.4" y2="594.7" stroke="#4A5CF8" stroke-width="1.4" stroke-linecap="round" opacity="0.45"/><line x1="351.4" y1="594.7" x2="341.0" y2="590.0" stroke="#4A5CF8" stroke-width="1.4" stroke-linecap="round" opacity="0.45"/><line x1="341.0" y1="590.0" x2="330.5" y2="585.3" stroke="#B4F2CF" stroke-width="1.4" stroke-linecap="round" opacity="0.45"/><line x1="350.1" y1="635.2" x2="345.3" y2="631.5" stroke="#B4F2CF" stroke-width="1.4" stroke-linecap="round" opacity="0.45"/><line x1="345.3" y1="631.5" x2="340.6" y2="627.8" stroke="#B4F2CF" stroke-width="1.4" stroke-linecap="round" opacity="0.45"/><line x1="354.1" y1="650.0" x2="352.1" y2="642.6" stroke="#4A5CF8" stroke-width="1.4" stroke-linecap="round" opacity="0.45"/><line x1="352.1" y1="642.6" x2="350.1" y2="635.2" stroke="#B4F2CF" stroke-width="1.4" stroke-linecap="round" opacity="0.45"/><line x1="348.0" y1="656.8" x2="351.1" y2="653.4" stroke="#B4F2CF" stroke-width="1.4" stroke-linecap="round" opacity="0.45"/><line x1="351.1" y1="653.4" x2="354.1" y2="650.0" stroke="#4A5CF8" stroke-width="1.4" stroke-linecap="round" opacity="0.45"/><line x1="340.2" y1="639.0" x2="342.9" y2="636.8" stroke="#FF7A66" stroke-width="1.4" stroke-linecap="round" opacity="0.45"/><line x1="342.9" y1="636.8" x2="345.6" y2="634.6" stroke="#FF7A66" stroke-width="1.4" stroke-linecap="round" opacity="0.45"/><line x1="340.6" y1="627.8" x2="338.9" y2="624.1" stroke="#B4F2CF" stroke-width="1.4" stroke-linecap="round" opacity="0.45"/><line x1="338.9" y1="624.1" x2="337.3" y2="620.3" stroke="#B4F2CF" stroke-width="1.4" stroke-linecap="round" opacity="0.45"/><line x1="292.5" y1="605.2" x2="295.0" y2="609.8" stroke="#B4F2CF" stroke-width="1.4" stroke-linecap="round" opacity="0.45"/><line x1="295.0" y1="609.8" x2="297.5" y2="614.3" stroke="#4A5CF8" stroke-width="1.4" stroke-linecap="round" opacity="0.45"/><line x1="297.5" y1="614.3" x2="302.2" y2="622.0" stroke="#4A5CF8" stroke-width="1.4" stroke-linecap="round" opacity="0.45"/><line x1="302.2" y1="622.0" x2="306.9" y2="629.8" stroke="#B4F2CF" stroke-width="1.4" stroke-linecap="round" opacity="0.45"/><line x1="306.9" y1="629.8" x2="307.6" y2="637.2" stroke="#B4F2CF" stroke-width="1.4" stroke-linecap="round" opacity="0.45"/><line x1="307.6" y1="637.2" x2="308.3" y2="644.6" stroke="#B4F2CF" stroke-width="1.4" stroke-linecap="round" opacity="0.45"/><line x1="308.3" y1="644.6" x2="314.7" y2="652.4" stroke="#B4F2CF" stroke-width="1.4" stroke-linecap="round" opacity="0.45"/><line x1="314.7" y1="652.4" x2="321.1" y2="660.1" stroke="#B4F2CF" stroke-width="1.4" stroke-linecap="round" opacity="0.45"/><line x1="321.1" y1="660.1" x2="325.8" y2="659.8" stroke="#B4F2CF" stroke-width="1.4" stroke-linecap="round" opacity="0.45"/><line x1="325.8" y1="659.8" x2="330.5" y2="659.5" stroke="#B4F2CF" stroke-width="1.4" stroke-linecap="round" opacity="0.45"/><line x1="330.5" y1="659.5" x2="330.2" y2="652.7" stroke="#B4F2CF" stroke-width="1.4" stroke-linecap="round" opacity="0.45"/><line x1="330.2" y1="652.7" x2="329.8" y2="646.0" stroke="#B4F2CF" stroke-width="1.4" stroke-linecap="round" opacity="0.45"/><line x1="329.8" y1="646.0" x2="324.8" y2="638.6" stroke="#B4F2CF" stroke-width="1.4" stroke-linecap="round" opacity="0.45"/><line x1="324.8" y1="638.6" x2="319.7" y2="631.1" stroke="#B4F2CF" stroke-width="1.4" stroke-linecap="round" opacity="0.45"/><line x1="319.7" y1="631.1" x2="313.3" y2="630.5" stroke="#B4F2CF" stroke-width="1.4" stroke-linecap="round" opacity="0.45"/><line x1="313.3" y1="630.5" x2="306.9" y2="629.8" stroke="#B4F2CF" stroke-width="1.4" stroke-linecap="round" opacity="0.45"/><line x1="306.9" y1="629.8" x2="312.3" y2="626.1" stroke="#B4F2CF" stroke-width="1.4" stroke-linecap="round" opacity="0.45"/><line x1="312.3" y1="626.1" x2="317.7" y2="622.4" stroke="#4A5CF8" stroke-width="1.4" stroke-linecap="round" opacity="0.45"/><line x1="317.7" y1="622.4" x2="321.4" y2="623.7" stroke="#4A5CF8" stroke-width="1.4" stroke-linecap="round" opacity="0.45"/><line x1="321.4" y1="623.7" x2="325.1" y2="625.1" stroke="#B4F2CF" stroke-width="1.4" stroke-linecap="round" opacity="0.45"/><line x1="325.1" y1="625.1" x2="328.8" y2="625.7" stroke="#B4F2CF" stroke-width="1.4" stroke-linecap="round" opacity="0.45"/><line x1="328.8" y1="625.7" x2="332.5" y2="626.4" stroke="#4A5CF8" stroke-width="1.4" stroke-linecap="round" opacity="0.45"/><line x1="332.5" y1="626.4" x2="334.2" y2="633.5" stroke="#4A5CF8" stroke-width="1.4" stroke-linecap="round" opacity="0.45"/><line x1="334.2" y1="633.5" x2="335.9" y2="640.6" stroke="#B4F2CF" stroke-width="1.4" stroke-linecap="round" opacity="0.45"/><line x1="335.9" y1="640.6" x2="332.9" y2="643.3" stroke="#B4F2CF" stroke-width="1.4" stroke-linecap="round" opacity="0.45"/><line x1="332.9" y1="643.3" x2="329.8" y2="646.0" stroke="#B4F2CF" stroke-width="1.4" stroke-linecap="round" opacity="0.45"/><line x1="335.9" y1="640.6" x2="342.0" y2="648.7" stroke="#B4F2CF" stroke-width="1.4" stroke-linecap="round" opacity="0.45"/><line x1="342.0" y1="648.7" x2="348.0" y2="656.8" stroke="#B4F2CF" stroke-width="1.4" stroke-linecap="round" opacity="0.45"/><line x1="348.0" y1="656.8" x2="352.2" y2="664.0" stroke="#B4F2CF" stroke-width="1.4" stroke-linecap="round" opacity="0.45"/><line x1="352.2" y1="664.0" x2="356.4" y2="671.3" stroke="#4A5CF8" stroke-width="1.4" stroke-linecap="round" opacity="0.45"/><line x1="356.4" y1="671.3" x2="364.4" y2="677.6" stroke="#4A5CF8" stroke-width="1.4" stroke-linecap="round" opacity="0.45"/><line x1="364.4" y1="677.6" x2="372.3" y2="683.9" stroke="#B4F2CF" stroke-width="1.4" stroke-linecap="round" opacity="0.45"/><line x1="372.3" y1="683.9" x2="372.7" y2="693.7" stroke="#B4F2CF" stroke-width="1.4" stroke-linecap="round" opacity="0.45"/><line x1="372.7" y1="693.7" x2="373.0" y2="703.4" stroke="#B4F2CF" stroke-width="1.4" stroke-linecap="round" opacity="0.45"/><line x1="373.0" y1="703.4" x2="383.5" y2="703.4" stroke="#B4F2CF" stroke-width="1.4" stroke-linecap="round" opacity="0.45"/><line x1="383.5" y1="703.4" x2="393.9" y2="703.4" stroke="#B4F2CF" stroke-width="1.4" stroke-linecap="round" opacity="0.45"/><line x1="393.9" y1="703.4" x2="402.7" y2="696.5" stroke="#B4F2CF" stroke-width="1.4" stroke-linecap="round" opacity="0.45"/><line x1="402.7" y1="696.5" x2="411.4" y2="689.5" stroke="#4A5CF8" stroke-width="1.4" stroke-linecap="round" opacity="0.45"/><line x1="356.4" y1="671.3" x2="354.2" y2="678.8" stroke="#4A5CF8" stroke-width="1.4" stroke-linecap="round" opacity="0.45"/><line x1="354.2" y1="678.8" x2="352.1" y2="686.3" stroke="#B4F2CF" stroke-width="1.4" stroke-linecap="round" opacity="0.45"/><line x1="352.1" y1="686.3" x2="373.0" y2="694.9" stroke="#B4F2CF" stroke-width="1.4" stroke-linecap="round" opacity="0.45"/><line x1="373.0" y1="694.9" x2="393.9" y2="703.4" stroke="#B4F2CF" stroke-width="1.4" stroke-linecap="round" opacity="0.45"/><circle cx="323.8" cy="671.0" r="9.6" fill="url(#gF)"/></g></g></g></g>
<rect x="210.4" y="575.8" width="53.3" height="55.1" fill="#fff"/>
<rect x="830.4" y="581.8" width="53.3" height="54.2" fill="#fff"/>
<rect x="830.4" y="777.0" width="53.4" height="55.4" fill="#fff"/>
<text font-family="'Liberation Sans', Arial, sans-serif" font-size="25.61" fill="#000" stroke="#000" stroke-width="0.43" stroke-linejoin="round" transform="translate(230.59 612.48) scale(0.9876 1)" xml:space="preserve">1</text>
<text font-family="'Liberation Sans', Arial, sans-serif" font-size="26.67" fill="#000" stroke="#000" stroke-width="0.40" stroke-linejoin="round" transform="translate(848.44 617.50) scale(1.0112 1)" xml:space="preserve">1</text>
<text font-family="'Liberation Sans', Arial, sans-serif" font-size="26.86" fill="#000" stroke="#000" stroke-width="0.40" stroke-linejoin="round" transform="translate(848.54 813.80) scale(1.0114 1)" xml:space="preserve">2</text>
<g filter="url(#b05)"><g><line x1="328.8" y1="567.4" x2="330.1" y2="576.9" stroke="#4E9A74" stroke-width="6.8" stroke-linecap="round"/><line x1="330.1" y1="576.9" x2="331.5" y2="586.3" stroke="#4E9A74" stroke-width="6.8" stroke-linecap="round"/><line x1="331.5" y1="586.3" x2="323.7" y2="590.4" stroke="#4E9A74" stroke-width="6.8" stroke-linecap="round"/><line x1="323.7" y1="590.4" x2="315.9" y2="594.4" stroke="#10168A" stroke-width="6.8" stroke-linecap="round"/><line x1="315.9" y1="594.4" x2="317.3" y2="603.2" stroke="#10168A" stroke-width="6.8" stroke-linecap="round"/><line x1="317.3" y1="603.2" x2="318.6" y2="611.9" stroke="#4E9A74" stroke-width="6.8" stroke-linecap="round"/><line x1="318.6" y1="611.9" x2="328.4" y2="616.7" stroke="#4E9A74" stroke-width="6.8" stroke-linecap="round"/><line x1="328.4" y1="616.7" x2="338.2" y2="621.4" stroke="#4E9A74" stroke-width="6.8" stroke-linecap="round"/><line x1="338.2" y1="621.4" x2="346.6" y2="618.0" stroke="#4E9A74" stroke-width="6.8" stroke-linecap="round"/><line x1="346.6" y1="618.0" x2="355.1" y2="614.6" stroke="#4E9A74" stroke-width="6.8" stroke-linecap="round"/><line x1="355.1" y1="614.6" x2="353.7" y2="605.2" stroke="#4E9A74" stroke-width="6.8" stroke-linecap="round"/><line x1="353.7" y1="605.2" x2="352.4" y2="595.8" stroke="#10168A" stroke-width="6.8" stroke-linecap="round"/><line x1="352.4" y1="595.8" x2="341.9" y2="591.0" stroke="#10168A" stroke-width="6.8" stroke-linecap="round"/><line x1="341.9" y1="591.0" x2="331.5" y2="586.3" stroke="#4E9A74" stroke-width="6.8" stroke-linecap="round"/><line x1="351.0" y1="636.2" x2="346.3" y2="632.5" stroke="#4E9A74" stroke-width="6.8" stroke-linecap="round"/><line x1="346.3" y1="632.5" x2="341.6" y2="628.8" stroke="#4E9A74" stroke-width="6.8" stroke-linecap="round"/><line x1="355.1" y1="651.1" x2="353.0" y2="643.6" stroke="#10168A" stroke-width="6.8" stroke-linecap="round"/><line x1="353.0" y1="643.6" x2="351.0" y2="636.2" stroke="#4E9A74" stroke-width="6.8" stroke-linecap="round"/><line x1="349.0" y1="657.8" x2="352.0" y2="654.4" stroke="#4E9A74" stroke-width="6.8" stroke-linecap="round"/><line x1="352.0" y1="654.4" x2="355.1" y2="651.1" stroke="#10168A" stroke-width="6.8" stroke-linecap="round"/><line x1="341.2" y1="640.0" x2="343.9" y2="637.8" stroke="#A02418" stroke-width="6.8" stroke-linecap="round"/><line x1="343.9" y1="637.8" x2="346.6" y2="635.7" stroke="#A02418" stroke-width="6.8" stroke-linecap="round"/><line x1="341.6" y1="628.8" x2="339.9" y2="625.1" stroke="#4E9A74" stroke-width="6.8" stroke-linecap="round"/><line x1="339.9" y1="625.1" x2="338.2" y2="621.4" stroke="#4E9A74" stroke-width="6.8" stroke-linecap="round"/><line x1="293.4" y1="606.3" x2="295.9" y2="610.8" stroke="#4E9A74" stroke-width="6.8" stroke-linecap="round"/><line x1="295.9" y1="610.8" x2="298.4" y2="615.3" stroke="#10168A" stroke-width="6.8" stroke-linecap="round"/><line x1="298.4" y1="615.3" x2="303.1" y2="623.1" stroke="#10168A" stroke-width="6.8" stroke-linecap="round"/><line x1="303.1" y1="623.1" x2="307.9" y2="630.8" stroke="#4E9A74" stroke-width="6.8" stroke-linecap="round"/><line x1="307.9" y1="630.8" x2="308.5" y2="638.3" stroke="#4E9A74" stroke-width="6.8" stroke-linecap="round"/><line x1="308.5" y1="638.3" x2="309.2" y2="645.7" stroke="#4E9A74" stroke-width="6.8" stroke-linecap="round"/><line x1="309.2" y1="645.7" x2="315.6" y2="653.4" stroke="#4E9A74" stroke-width="6.8" stroke-linecap="round"/><line x1="315.6" y1="653.4" x2="322.0" y2="661.2" stroke="#4E9A74" stroke-width="6.8" stroke-linecap="round"/><line x1="322.0" y1="661.2" x2="326.7" y2="660.8" stroke="#4E9A74" stroke-width="6.8" stroke-linecap="round"/><line x1="326.7" y1="660.8" x2="331.5" y2="660.5" stroke="#4E9A74" stroke-width="6.8" stroke-linecap="round"/><line x1="331.5" y1="660.5" x2="331.1" y2="653.8" stroke="#4E9A74" stroke-width="6.8" stroke-linecap="round"/><line x1="331.1" y1="653.8" x2="330.8" y2="647.0" stroke="#4E9A74" stroke-width="6.8" stroke-linecap="round"/><line x1="330.8" y1="647.0" x2="325.7" y2="639.6" stroke="#4E9A74" stroke-width="6.8" stroke-linecap="round"/><line x1="325.7" y1="639.6" x2="320.7" y2="632.2" stroke="#4E9A74" stroke-width="6.8" stroke-linecap="round"/><line x1="320.7" y1="632.2" x2="314.3" y2="631.5" stroke="#4E9A74" stroke-width="6.8" stroke-linecap="round"/><line x1="314.3" y1="631.5" x2="307.9" y2="630.8" stroke="#4E9A74" stroke-width="6.8" stroke-linecap="round"/><line x1="307.9" y1="630.8" x2="313.2" y2="627.1" stroke="#4E9A74" stroke-width="6.8" stroke-linecap="round"/><line x1="313.2" y1="627.1" x2="318.6" y2="623.4" stroke="#10168A" stroke-width="6.8" stroke-linecap="round"/><line x1="318.6" y1="623.4" x2="322.3" y2="624.8" stroke="#10168A" stroke-width="6.8" stroke-linecap="round"/><line x1="322.3" y1="624.8" x2="326.1" y2="626.1" stroke="#4E9A74" stroke-width="6.8" stroke-linecap="round"/><line x1="326.1" y1="626.1" x2="329.8" y2="626.8" stroke="#4E9A74" stroke-width="6.8" stroke-linecap="round"/><line x1="329.8" y1="626.8" x2="333.5" y2="627.5" stroke="#10168A" stroke-width="6.8" stroke-linecap="round"/><line x1="333.5" y1="627.5" x2="335.2" y2="634.5" stroke="#10168A" stroke-width="6.8" stroke-linecap="round"/><line x1="335.2" y1="634.5" x2="336.8" y2="641.6" stroke="#4E9A74" stroke-width="6.8" stroke-linecap="round"/><line x1="336.8" y1="641.6" x2="333.8" y2="644.3" stroke="#4E9A74" stroke-width="6.8" stroke-linecap="round"/><line x1="333.8" y1="644.3" x2="330.8" y2="647.0" stroke="#4E9A74" stroke-width="6.8" stroke-linecap="round"/><line x1="336.8" y1="641.6" x2="342.9" y2="649.7" stroke="#4E9A74" stroke-width="6.8" stroke-linecap="round"/><line x1="342.9" y1="649.7" x2="349.0" y2="657.8" stroke="#4E9A74" stroke-width="6.8" stroke-linecap="round"/><line x1="349.0" y1="657.8" x2="353.2" y2="665.1" stroke="#4E9A74" stroke-width="6.8" stroke-linecap="round"/><line x1="353.2" y1="665.1" x2="357.4" y2="672.4" stroke="#10168A" stroke-width="6.8" stroke-linecap="round"/><line x1="357.4" y1="672.4" x2="365.3" y2="678.6" stroke="#10168A" stroke-width="6.8" stroke-linecap="round"/><line x1="365.3" y1="678.6" x2="373.3" y2="684.9" stroke="#4E9A74" stroke-width="6.8" stroke-linecap="round"/><line x1="373.3" y1="684.9" x2="373.6" y2="694.7" stroke="#4E9A74" stroke-width="6.8" stroke-linecap="round"/><line x1="373.6" y1="694.7" x2="373.9" y2="704.5" stroke="#4E9A74" stroke-width="6.8" stroke-linecap="round"/><line x1="373.9" y1="704.5" x2="384.4" y2="704.5" stroke="#4E9A74" stroke-width="6.8" stroke-linecap="round"/><line x1="384.4" y1="704.5" x2="394.8" y2="704.5" stroke="#4E9A74" stroke-width="6.8" stroke-linecap="round"/><line x1="394.8" y1="704.5" x2="403.6" y2="697.5" stroke="#4E9A74" stroke-width="6.8" stroke-linecap="round"/><line x1="403.6" y1="697.5" x2="412.4" y2="690.6" stroke="#10168A" stroke-width="6.8" stroke-linecap="round"/><line x1="357.4" y1="672.4" x2="355.2" y2="679.9" stroke="#10168A" stroke-width="6.8" stroke-linecap="round"/><line x1="355.2" y1="679.9" x2="353.0" y2="687.3" stroke="#4E9A74" stroke-width="6.8" stroke-linecap="round"/><line x1="353.0" y1="687.3" x2="373.9" y2="695.9" stroke="#4E9A74" stroke-width="6.8" stroke-linecap="round"/><line x1="373.9" y1="695.9" x2="394.8" y2="704.5" stroke="#4E9A74" stroke-width="6.8" stroke-linecap="round"/><line x1="328.6" y1="567.1" x2="329.9" y2="576.6" stroke="#76C69B" stroke-width="5.8" stroke-linecap="round"/><line x1="329.9" y1="576.6" x2="331.3" y2="586.0" stroke="#76C69B" stroke-width="5.8" stroke-linecap="round"/><line x1="331.3" y1="586.0" x2="323.5" y2="590.1" stroke="#76C69B" stroke-width="5.8" stroke-linecap="round"/><line x1="323.5" y1="590.1" x2="315.7" y2="594.1" stroke="#2028DC" stroke-width="5.8" stroke-linecap="round"/><line x1="315.7" y1="594.1" x2="317.1" y2="602.9" stroke="#2028DC" stroke-width="5.8" stroke-linecap="round"/><line x1="317.1" y1="602.9" x2="318.4" y2="611.6" stroke="#76C69B" stroke-width="5.8" stroke-linecap="round"/><line x1="318.4" y1="611.6" x2="328.2" y2="616.4" stroke="#76C69B" stroke-width="5.8" stroke-linecap="round"/><line x1="328.2" y1="616.4" x2="338.0" y2="621.1" stroke="#76C69B" stroke-width="5.8" stroke-linecap="round"/><line x1="338.0" y1="621.1" x2="346.4" y2="617.7" stroke="#76C69B" stroke-width="5.8" stroke-linecap="round"/><line x1="346.4" y1="617.7" x2="354.9" y2="614.3" stroke="#76C69B" stroke-width="5.8" stroke-linecap="round"/><line x1="354.9" y1="614.3" x2="353.5" y2="604.9" stroke="#76C69B" stroke-width="5.8" stroke-linecap="round"/><line x1="353.5" y1="604.9" x2="352.2" y2="595.5" stroke="#2028DC" stroke-width="5.8" stroke-linecap="round"/><line x1="352.2" y1="595.5" x2="341.7" y2="590.7" stroke="#2028DC" stroke-width="5.8" stroke-linecap="round"/><line x1="341.7" y1="590.7" x2="331.3" y2="586.0" stroke="#76C69B" stroke-width="5.8" stroke-linecap="round"/><line x1="350.8" y1="635.9" x2="346.1" y2="632.2" stroke="#76C69B" stroke-width="5.8" stroke-linecap="round"/><line x1="346.1" y1="632.2" x2="341.4" y2="628.5" stroke="#76C69B" stroke-width="5.8" stroke-linecap="round"/><line x1="354.9" y1="650.8" x2="352.8" y2="643.3" stroke="#2028DC" stroke-width="5.8" stroke-linecap="round"/><line x1="352.8" y1="643.3" x2="350.8" y2="635.9" stroke="#76C69B" stroke-width="5.8" stroke-linecap="round"/><line x1="348.8" y1="657.5" x2="351.8" y2="654.1" stroke="#76C69B" stroke-width="5.8" stroke-linecap="round"/><line x1="351.8" y1="654.1" x2="354.9" y2="650.8" stroke="#2028DC" stroke-width="5.8" stroke-linecap="round"/><line x1="341.0" y1="639.7" x2="343.7" y2="637.5" stroke="#E8402E" stroke-width="5.8" stroke-linecap="round"/><line x1="343.7" y1="637.5" x2="346.4" y2="635.4" stroke="#E8402E" stroke-width="5.8" stroke-linecap="round"/><line x1="341.4" y1="628.5" x2="339.7" y2="624.8" stroke="#76C69B" stroke-width="5.8" stroke-linecap="round"/><line x1="339.7" y1="624.8" x2="338.0" y2="621.1" stroke="#76C69B" stroke-width="5.8" stroke-linecap="round"/><line x1="293.2" y1="606.0" x2="295.7" y2="610.5" stroke="#76C69B" stroke-width="5.8" stroke-linecap="round"/><line x1="295.7" y1="610.5" x2="298.2" y2="615.0" stroke="#2028DC" stroke-width="5.8" stroke-linecap="round"/><line x1="298.2" y1="615.0" x2="302.9" y2="622.8" stroke="#2028DC" stroke-width="5.8" stroke-linecap="round"/><line x1="302.9" y1="622.8" x2="307.7" y2="630.5" stroke="#76C69B" stroke-width="5.8" stroke-linecap="round"/><line x1="307.7" y1="630.5" x2="308.3" y2="638.0" stroke="#76C69B" stroke-width="5.8" stroke-linecap="round"/><line x1="308.3" y1="638.0" x2="309.0" y2="645.4" stroke="#76C69B" stroke-width="5.8" stroke-linecap="round"/><line x1="309.0" y1="645.4" x2="315.4" y2="653.1" stroke="#76C69B" stroke-width="5.8" stroke-linecap="round"/><line x1="315.4" y1="653.1" x2="321.8" y2="660.9" stroke="#76C69B" stroke-width="5.8" stroke-linecap="round"/><line x1="321.8" y1="660.9" x2="326.5" y2="660.5" stroke="#76C69B" stroke-width="5.8" stroke-linecap="round"/><line x1="326.5" y1="660.5" x2="331.3" y2="660.2" stroke="#76C69B" stroke-width="5.8" stroke-linecap="round"/><line x1="331.3" y1="660.2" x2="330.9" y2="653.5" stroke="#76C69B" stroke-width="5.8" stroke-linecap="round"/><line x1="330.9" y1="653.5" x2="330.6" y2="646.7" stroke="#76C69B" stroke-width="5.8" stroke-linecap="round"/><line x1="330.6" y1="646.7" x2="325.5" y2="639.3" stroke="#76C69B" stroke-width="5.8" stroke-linecap="round"/><line x1="325.5" y1="639.3" x2="320.5" y2="631.9" stroke="#76C69B" stroke-width="5.8" stroke-linecap="round"/><line x1="320.5" y1="631.9" x2="314.1" y2="631.2" stroke="#76C69B" stroke-width="5.8" stroke-linecap="round"/><line x1="314.1" y1="631.2" x2="307.7" y2="630.5" stroke="#76C69B" stroke-width="5.8" stroke-linecap="round"/><line x1="307.7" y1="630.5" x2="313.0" y2="626.8" stroke="#76C69B" stroke-width="5.8" stroke-linecap="round"/><line x1="313.0" y1="626.8" x2="318.4" y2="623.1" stroke="#2028DC" stroke-width="5.8" stroke-linecap="round"/><line x1="318.4" y1="623.1" x2="322.1" y2="624.5" stroke="#2028DC" stroke-width="5.8" stroke-linecap="round"/><line x1="322.1" y1="624.5" x2="325.9" y2="625.8" stroke="#76C69B" stroke-width="5.8" stroke-linecap="round"/><line x1="325.9" y1="625.8" x2="329.6" y2="626.5" stroke="#76C69B" stroke-width="5.8" stroke-linecap="round"/><line x1="329.6" y1="626.5" x2="333.3" y2="627.2" stroke="#2028DC" stroke-width="5.8" stroke-linecap="round"/><line x1="333.3" y1="627.2" x2="335.0" y2="634.2" stroke="#2028DC" stroke-width="5.8" stroke-linecap="round"/><line x1="335.0" y1="634.2" x2="336.6" y2="641.3" stroke="#76C69B" stroke-width="5.8" stroke-linecap="round"/><line x1="336.6" y1="641.3" x2="333.6" y2="644.0" stroke="#76C69B" stroke-width="5.8" stroke-linecap="round"/><line x1="333.6" y1="644.0" x2="330.6" y2="646.7" stroke="#76C69B" stroke-width="5.8" stroke-linecap="round"/><line x1="336.6" y1="641.3" x2="342.7" y2="649.4" stroke="#76C69B" stroke-width="5.8" stroke-linecap="round"/><line x1="342.7" y1="649.4" x2="348.8" y2="657.5" stroke="#76C69B" stroke-width="5.8" stroke-linecap="round"/><line x1="348.8" y1="657.5" x2="353.0" y2="664.8" stroke="#76C69B" stroke-width="5.8" stroke-linecap="round"/><line x1="353.0" y1="664.8" x2="357.2" y2="672.1" stroke="#2028DC" stroke-width="5.8" stroke-linecap="round"/><line x1="357.2" y1="672.1" x2="365.1" y2="678.3" stroke="#2028DC" stroke-width="5.8" stroke-linecap="round"/><line x1="365.1" y1="678.3" x2="373.1" y2="684.6" stroke="#76C69B" stroke-width="5.8" stroke-linecap="round"/><line x1="373.1" y1="684.6" x2="373.4" y2="694.4" stroke="#76C69B" stroke-width="5.8" stroke-linecap="round"/><line x1="373.4" y1="694.4" x2="373.7" y2="704.2" stroke="#76C69B" stroke-width="5.8" stroke-linecap="round"/><line x1="373.7" y1="704.2" x2="384.2" y2="704.2" stroke="#76C69B" stroke-width="5.8" stroke-linecap="round"/><line x1="384.2" y1="704.2" x2="394.6" y2="704.2" stroke="#76C69B" stroke-width="5.8" stroke-linecap="round"/><line x1="394.6" y1="704.2" x2="403.4" y2="697.2" stroke="#76C69B" stroke-width="5.8" stroke-linecap="round"/><line x1="403.4" y1="697.2" x2="412.2" y2="690.3" stroke="#2028DC" stroke-width="5.8" stroke-linecap="round"/><line x1="357.2" y1="672.1" x2="355.0" y2="679.6" stroke="#2028DC" stroke-width="5.8" stroke-linecap="round"/><line x1="355.0" y1="679.6" x2="352.8" y2="687.0" stroke="#76C69B" stroke-width="5.8" stroke-linecap="round"/><line x1="352.8" y1="687.0" x2="373.7" y2="695.6" stroke="#76C69B" stroke-width="5.8" stroke-linecap="round"/><line x1="373.7" y1="695.6" x2="394.6" y2="704.2" stroke="#76C69B" stroke-width="5.8" stroke-linecap="round"/><line x1="327.8" y1="566.4" x2="329.2" y2="575.8" stroke="#B4F2CF" stroke-width="1.4" stroke-linecap="round" opacity="0.45"/><line x1="329.2" y1="575.8" x2="330.5" y2="585.3" stroke="#B4F2CF" stroke-width="1.4" stroke-linecap="round" opacity="0.45"/><line x1="330.5" y1="585.3" x2="322.8" y2="589.3" stroke="#B4F2CF" stroke-width="1.4" stroke-linecap="round" opacity="0.45"/><line x1="322.8" y1="589.3" x2="315.0" y2="593.4" stroke="#4A5CF8" stroke-width="1.4" stroke-linecap="round" opacity="0.45"/><line x1="315.0" y1="593.4" x2="316.3" y2="602.1" stroke="#4A5CF8" stroke-width="1.4" stroke-linecap="round" opacity="0.45"/><line x1="316.3" y1="602.1" x2="317.7" y2="610.9" stroke="#B4F2CF" stroke-width="1.4" stroke-linecap="round" opacity="0.45"/><line x1="317.7" y1="610.9" x2="327.5" y2="615.6" stroke="#B4F2CF" stroke-width="1.4" stroke-linecap="round" opacity="0.45"/><line x1="327.5" y1="615.6" x2="337.3" y2="620.3" stroke="#B4F2CF" stroke-width="1.4" stroke-linecap="round" opacity="0.45"/><line x1="337.3" y1="620.3" x2="345.7" y2="617.0" stroke="#B4F2CF" stroke-width="1.4" stroke-linecap="round" opacity="0.45"/><line x1="345.7" y1="617.0" x2="354.1" y2="613.6" stroke="#B4F2CF" stroke-width="1.4" stroke-linecap="round" opacity="0.45"/><line x1="354.1" y1="613.6" x2="352.8" y2="604.2" stroke="#B4F2CF" stroke-width="1.4" stroke-linecap="round" opacity="0.45"/><line x1="352.8" y1="604.2" x2="351.4" y2="594.7" stroke="#4A5CF8" stroke-width="1.4" stroke-linecap="round" opacity="0.45"/><line x1="351.4" y1="594.7" x2="341.0" y2="590.0" stroke="#4A5CF8" stroke-width="1.4" stroke-linecap="round" opacity="0.45"/><line x1="341.0" y1="590.0" x2="330.5" y2="585.3" stroke="#B4F2CF" stroke-width="1.4" stroke-linecap="round" opacity="0.45"/><line x1="350.1" y1="635.2" x2="345.3" y2="631.5" stroke="#B4F2CF" stroke-width="1.4" stroke-linecap="round" opacity="0.45"/><line x1="345.3" y1="631.5" x2="340.6" y2="627.8" stroke="#B4F2CF" stroke-width="1.4" stroke-linecap="round" opacity="0.45"/><line x1="354.1" y1="650.0" x2="352.1" y2="642.6" stroke="#4A5CF8" stroke-width="1.4" stroke-linecap="round" opacity="0.45"/><line x1="352.1" y1="642.6" x2="350.1" y2="635.2" stroke="#B4F2CF" stroke-width="1.4" stroke-linecap="round" opacity="0.45"/><line x1="348.0" y1="656.8" x2="351.1" y2="653.4" stroke="#B4F2CF" stroke-width="1.4" stroke-linecap="round" opacity="0.45"/><line x1="351.1" y1="653.4" x2="354.1" y2="650.0" stroke="#4A5CF8" stroke-width="1.4" stroke-linecap="round" opacity="0.45"/><line x1="340.2" y1="639.0" x2="342.9" y2="636.8" stroke="#FF7A66" stroke-width="1.4" stroke-linecap="round" opacity="0.45"/><line x1="342.9" y1="636.8" x2="345.6" y2="634.6" stroke="#FF7A66" stroke-width="1.4" stroke-linecap="round" opacity="0.45"/><line x1="340.6" y1="627.8" x2="338.9" y2="624.1" stroke="#B4F2CF" stroke-width="1.4" stroke-linecap="round" opacity="0.45"/><line x1="338.9" y1="624.1" x2="337.3" y2="620.3" stroke="#B4F2CF" stroke-width="1.4" stroke-linecap="round" opacity="0.45"/><line x1="292.5" y1="605.2" x2="295.0" y2="609.8" stroke="#B4F2CF" stroke-width="1.4" stroke-linecap="round" opacity="0.45"/><line x1="295.0" y1="609.8" x2="297.5" y2="614.3" stroke="#4A5CF8" stroke-width="1.4" stroke-linecap="round" opacity="0.45"/><line x1="297.5" y1="614.3" x2="302.2" y2="622.0" stroke="#4A5CF8" stroke-width="1.4" stroke-linecap="round" opacity="0.45"/><line x1="302.2" y1="622.0" x2="306.9" y2="629.8" stroke="#B4F2CF" stroke-width="1.4" stroke-linecap="round" opacity="0.45"/><line x1="306.9" y1="629.8" x2="307.6" y2="637.2" stroke="#B4F2CF" stroke-width="1.4" stroke-linecap="round" opacity="0.45"/><line x1="307.6" y1="637.2" x2="308.3" y2="644.6" stroke="#B4F2CF" stroke-width="1.4" stroke-linecap="round" opacity="0.45"/><line x1="308.3" y1="644.6" x2="314.7" y2="652.4" stroke="#B4F2CF" stroke-width="1.4" stroke-linecap="round" opacity="0.45"/><line x1="314.7" y1="652.4" x2="321.1" y2="660.1" stroke="#B4F2CF" stroke-width="1.4" stroke-linecap="round" opacity="0.45"/><line x1="321.1" y1="660.1" x2="325.8" y2="659.8" stroke="#B4F2CF" stroke-width="1.4" stroke-linecap="round" opacity="0.45"/><line x1="325.8" y1="659.8" x2="330.5" y2="659.5" stroke="#B4F2CF" stroke-width="1.4" stroke-linecap="round" opacity="0.45"/><line x1="330.5" y1="659.5" x2="330.2" y2="652.7" stroke="#B4F2CF" stroke-width="1.4" stroke-linecap="round" opacity="0.45"/><line x1="330.2" y1="652.7" x2="329.8" y2="646.0" stroke="#B4F2CF" stroke-width="1.4" stroke-linecap="round" opacity="0.45"/><line x1="329.8" y1="646.0" x2="324.8" y2="638.6" stroke="#B4F2CF" stroke-width="1.4" stroke-linecap="round" opacity="0.45"/><line x1="324.8" y1="638.6" x2="319.7" y2="631.1" stroke="#B4F2CF" stroke-width="1.4" stroke-linecap="round" opacity="0.45"/><line x1="319.7" y1="631.1" x2="313.3" y2="630.5" stroke="#B4F2CF" stroke-width="1.4" stroke-linecap="round" opacity="0.45"/><line x1="313.3" y1="630.5" x2="306.9" y2="629.8" stroke="#B4F2CF" stroke-width="1.4" stroke-linecap="round" opacity="0.45"/><line x1="306.9" y1="629.8" x2="312.3" y2="626.1" stroke="#B4F2CF" stroke-width="1.4" stroke-linecap="round" opacity="0.45"/><line x1="312.3" y1="626.1" x2="317.7" y2="622.4" stroke="#4A5CF8" stroke-width="1.4" stroke-linecap="round" opacity="0.45"/><line x1="317.7" y1="622.4" x2="321.4" y2="623.7" stroke="#4A5CF8" stroke-width="1.4" stroke-linecap="round" opacity="0.45"/><line x1="321.4" y1="623.7" x2="325.1" y2="625.1" stroke="#B4F2CF" stroke-width="1.4" stroke-linecap="round" opacity="0.45"/><line x1="325.1" y1="625.1" x2="328.8" y2="625.7" stroke="#B4F2CF" stroke-width="1.4" stroke-linecap="round" opacity="0.45"/><line x1="328.8" y1="625.7" x2="332.5" y2="626.4" stroke="#4A5CF8" stroke-width="1.4" stroke-linecap="round" opacity="0.45"/><line x1="332.5" y1="626.4" x2="334.2" y2="633.5" stroke="#4A5CF8" stroke-width="1.4" stroke-linecap="round" opacity="0.45"/><line x1="334.2" y1="633.5" x2="335.9" y2="640.6" stroke="#B4F2CF" stroke-width="1.4" stroke-linecap="round" opacity="0.45"/><line x1="335.9" y1="640.6" x2="332.9" y2="643.3" stroke="#B4F2CF" stroke-width="1.4" stroke-linecap="round" opacity="0.45"/><line x1="332.9" y1="643.3" x2="329.8" y2="646.0" stroke="#B4F2CF" stroke-width="1.4" stroke-linecap="round" opacity="0.45"/><line x1="335.9" y1="640.6" x2="342.0" y2="648.7" stroke="#B4F2CF" stroke-width="1.4" stroke-linecap="round" opacity="0.45"/><line x1="342.0" y1="648.7" x2="348.0" y2="656.8" stroke="#B4F2CF" stroke-width="1.4" stroke-linecap="round" opacity="0.45"/><line x1="348.0" y1="656.8" x2="352.2" y2="664.0" stroke="#B4F2CF" stroke-width="1.4" stroke-linecap="round" opacity="0.45"/><line x1="352.2" y1="664.0" x2="356.4" y2="671.3" stroke="#4A5CF8" stroke-width="1.4" stroke-linecap="round" opacity="0.45"/><line x1="356.4" y1="671.3" x2="364.4" y2="677.6" stroke="#4A5CF8" stroke-width="1.4" stroke-linecap="round" opacity="0.45"/><line x1="364.4" y1="677.6" x2="372.3" y2="683.9" stroke="#B4F2CF" stroke-width="1.4" stroke-linecap="round" opacity="0.45"/><line x1="372.3" y1="683.9" x2="372.7" y2="693.7" stroke="#B4F2CF" stroke-width="1.4" stroke-linecap="round" opacity="0.45"/><line x1="372.7" y1="693.7" x2="373.0" y2="703.4" stroke="#B4F2CF" stroke-width="1.4" stroke-linecap="round" opacity="0.45"/><line x1="373.0" y1="703.4" x2="383.5" y2="703.4" stroke="#B4F2CF" stroke-width="1.4" stroke-linecap="round" opacity="0.45"/><line x1="383.5" y1="703.4" x2="393.9" y2="703.4" stroke="#B4F2CF" stroke-width="1.4" stroke-linecap="round" opacity="0.45"/><line x1="393.9" y1="703.4" x2="402.7" y2="696.5" stroke="#B4F2CF" stroke-width="1.4" stroke-linecap="round" opacity="0.45"/><line x1="402.7" y1="696.5" x2="411.4" y2="689.5" stroke="#4A5CF8" stroke-width="1.4" stroke-linecap="round" opacity="0.45"/><line x1="356.4" y1="671.3" x2="354.2" y2="678.8" stroke="#4A5CF8" stroke-width="1.4" stroke-linecap="round" opacity="0.45"/><line x1="354.2" y1="678.8" x2="352.1" y2="686.3" stroke="#B4F2CF" stroke-width="1.4" stroke-linecap="round" opacity="0.45"/><line x1="352.1" y1="686.3" x2="373.0" y2="694.9" stroke="#B4F2CF" stroke-width="1.4" stroke-linecap="round" opacity="0.45"/><line x1="373.0" y1="694.9" x2="393.9" y2="703.4" stroke="#B4F2CF" stroke-width="1.4" stroke-linecap="round" opacity="0.45"/><circle cx="323.8" cy="671.0" r="9.6" fill="url(#gF)"/></g></g>
<g filter="url(#b05)"><g><line x1="484.1" y1="809.6" x2="486.2" y2="815.3" stroke="#10168A" stroke-width="7.9" stroke-linecap="round"/><line x1="486.2" y1="815.3" x2="488.3" y2="821.1" stroke="#0A8E18" stroke-width="7.9" stroke-linecap="round"/><line x1="488.3" y1="821.1" x2="489.7" y2="836.5" stroke="#0A8E18" stroke-width="7.9" stroke-linecap="round"/><line x1="489.7" y1="836.5" x2="491.0" y2="852.0" stroke="#0A8E18" stroke-width="7.9" stroke-linecap="round"/><line x1="491.0" y1="852.0" x2="488.9" y2="855.4" stroke="#0A8E18" stroke-width="7.9" stroke-linecap="round"/><line x1="488.9" y1="855.4" x2="486.7" y2="858.9" stroke="#0A8E18" stroke-width="7.9" stroke-linecap="round"/><line x1="486.7" y1="858.9" x2="485.0" y2="840.8" stroke="#0A8E18" stroke-width="7.9" stroke-linecap="round"/><line x1="485.0" y1="840.8" x2="483.3" y2="822.7" stroke="#0A8E18" stroke-width="7.9" stroke-linecap="round"/><line x1="483.3" y1="822.7" x2="483.7" y2="816.1" stroke="#0A8E18" stroke-width="7.9" stroke-linecap="round"/><line x1="483.7" y1="816.1" x2="484.1" y2="809.6" stroke="#10168A" stroke-width="7.9" stroke-linecap="round"/><line x1="486.7" y1="858.9" x2="488.7" y2="860.8" stroke="#0A8E18" stroke-width="7.9" stroke-linecap="round"/><line x1="488.7" y1="860.8" x2="490.6" y2="862.7" stroke="#0A8E18" stroke-width="7.9" stroke-linecap="round"/><line x1="490.6" y1="862.7" x2="493.3" y2="856.2" stroke="#0A8E18" stroke-width="7.9" stroke-linecap="round"/><line x1="493.3" y1="856.2" x2="496.0" y2="849.6" stroke="#A02418" stroke-width="7.9" stroke-linecap="round"/><line x1="490.6" y1="862.7" x2="489.8" y2="875.8" stroke="#0A8E18" stroke-width="7.9" stroke-linecap="round"/><line x1="489.8" y1="875.8" x2="489.0" y2="889.0" stroke="#B02A30" stroke-width="7.9" stroke-linecap="round"/><line x1="466.4" y1="849.6" x2="476.4" y2="853.9" stroke="#0A8E18" stroke-width="7.9" stroke-linecap="round"/><line x1="476.4" y1="853.9" x2="486.4" y2="858.1" stroke="#0A8E18" stroke-width="7.9" stroke-linecap="round"/><line x1="486.4" y1="858.1" x2="493.7" y2="867.4" stroke="#0A8E18" stroke-width="7.9" stroke-linecap="round"/><line x1="493.7" y1="867.4" x2="501.1" y2="876.6" stroke="#0A8E18" stroke-width="7.9" stroke-linecap="round"/><line x1="501.1" y1="876.6" x2="498.8" y2="881.2" stroke="#0A8E18" stroke-width="7.9" stroke-linecap="round"/><line x1="498.8" y1="881.2" x2="496.4" y2="885.9" stroke="#0A8E18" stroke-width="7.9" stroke-linecap="round"/><line x1="496.4" y1="885.9" x2="488.0" y2="881.6" stroke="#0A8E18" stroke-width="7.9" stroke-linecap="round"/><line x1="488.0" y1="881.6" x2="479.5" y2="877.4" stroke="#0A8E18" stroke-width="7.9" stroke-linecap="round"/><line x1="479.5" y1="877.4" x2="472.2" y2="868.9" stroke="#0A8E18" stroke-width="7.9" stroke-linecap="round"/><line x1="472.2" y1="868.9" x2="464.8" y2="860.4" stroke="#10168A" stroke-width="7.9" stroke-linecap="round"/><line x1="464.8" y1="860.4" x2="465.6" y2="855.0" stroke="#10168A" stroke-width="7.9" stroke-linecap="round"/><line x1="465.6" y1="855.0" x2="466.4" y2="849.6" stroke="#0A8E18" stroke-width="7.9" stroke-linecap="round"/><line x1="501.1" y1="876.6" x2="510.3" y2="879.7" stroke="#0A8E18" stroke-width="7.9" stroke-linecap="round"/><line x1="510.3" y1="879.7" x2="519.6" y2="882.8" stroke="#0A8E18" stroke-width="7.9" stroke-linecap="round"/><line x1="519.6" y1="882.8" x2="525.0" y2="878.5" stroke="#0A8E18" stroke-width="7.9" stroke-linecap="round"/><line x1="525.0" y1="878.5" x2="530.4" y2="874.3" stroke="#10168A" stroke-width="7.9" stroke-linecap="round"/><line x1="530.4" y1="874.3" x2="540.4" y2="880.1" stroke="#10168A" stroke-width="7.9" stroke-linecap="round"/><line x1="540.4" y1="880.1" x2="550.4" y2="885.9" stroke="#0A8E18" stroke-width="7.9" stroke-linecap="round"/><line x1="550.4" y1="885.9" x2="552.7" y2="897.4" stroke="#0A8E18" stroke-width="7.9" stroke-linecap="round"/><line x1="552.7" y1="897.4" x2="555.0" y2="909.0" stroke="#0A8E18" stroke-width="7.9" stroke-linecap="round"/><line x1="555.0" y1="909.0" x2="543.1" y2="910.9" stroke="#0A8E18" stroke-width="7.9" stroke-linecap="round"/><line x1="543.1" y1="910.9" x2="531.1" y2="912.8" stroke="#9A8420" stroke-width="7.9" stroke-linecap="round"/><line x1="531.1" y1="912.8" x2="525.3" y2="897.8" stroke="#9A8420" stroke-width="7.9" stroke-linecap="round"/><line x1="525.3" y1="897.8" x2="519.6" y2="882.8" stroke="#0A8E18" stroke-width="7.9" stroke-linecap="round"/><line x1="550.4" y1="885.9" x2="559.3" y2="877.4" stroke="#0A8E18" stroke-width="7.9" stroke-linecap="round"/><line x1="559.3" y1="877.4" x2="568.1" y2="868.9" stroke="#0A8E18" stroke-width="7.9" stroke-linecap="round"/><line x1="568.1" y1="868.9" x2="569.7" y2="859.3" stroke="#0A8E18" stroke-width="7.9" stroke-linecap="round"/><line x1="569.7" y1="859.3" x2="571.2" y2="849.6" stroke="#0A8E18" stroke-width="7.9" stroke-linecap="round"/><line x1="568.1" y1="868.9" x2="576.6" y2="878.9" stroke="#0A8E18" stroke-width="7.9" stroke-linecap="round"/><line x1="576.6" y1="878.9" x2="585.1" y2="889.0" stroke="#0A8E18" stroke-width="7.9" stroke-linecap="round"/><line x1="568.1" y1="868.9" x2="560.4" y2="871.2" stroke="#0A8E18" stroke-width="7.9" stroke-linecap="round"/><line x1="560.4" y1="871.2" x2="552.7" y2="873.5" stroke="#0A8E18" stroke-width="7.9" stroke-linecap="round"/><line x1="479.5" y1="877.4" x2="476.8" y2="880.9" stroke="#0A8E18" stroke-width="7.9" stroke-linecap="round"/><line x1="476.8" y1="880.9" x2="474.1" y2="884.3" stroke="#10168A" stroke-width="7.9" stroke-linecap="round"/><line x1="474.1" y1="884.3" x2="479.1" y2="890.5" stroke="#10168A" stroke-width="7.9" stroke-linecap="round"/><line x1="479.1" y1="890.5" x2="484.1" y2="896.7" stroke="#0A8E18" stroke-width="7.9" stroke-linecap="round"/><line x1="484.1" y1="896.7" x2="493.7" y2="900.9" stroke="#0A8E18" stroke-width="7.9" stroke-linecap="round"/><line x1="493.7" y1="900.9" x2="503.4" y2="905.1" stroke="#B02A30" stroke-width="7.9" stroke-linecap="round"/><line x1="484.1" y1="896.7" x2="480.6" y2="899.4" stroke="#0A8E18" stroke-width="7.9" stroke-linecap="round"/><line x1="480.6" y1="899.4" x2="477.2" y2="902.1" stroke="#10168A" stroke-width="7.9" stroke-linecap="round"/><line x1="477.2" y1="902.1" x2="483.0" y2="907.8" stroke="#10168A" stroke-width="7.9" stroke-linecap="round"/><line x1="483.0" y1="907.8" x2="488.7" y2="913.6" stroke="#0A8E18" stroke-width="7.9" stroke-linecap="round"/><line x1="483.9" y1="809.3" x2="486.0" y2="815.0" stroke="#2028DC" stroke-width="6.9" stroke-linecap="round"/><line x1="486.0" y1="815.0" x2="488.1" y2="820.8" stroke="#12D428" stroke-width="6.9" stroke-linecap="round"/><line x1="488.1" y1="820.8" x2="489.5" y2="836.2" stroke="#12D428" stroke-width="6.9" stroke-linecap="round"/><line x1="489.5" y1="836.2" x2="490.8" y2="851.7" stroke="#12D428" stroke-width="6.9" stroke-linecap="round"/><line x1="490.8" y1="851.7" x2="488.7" y2="855.1" stroke="#12D428" stroke-width="6.9" stroke-linecap="round"/><line x1="488.7" y1="855.1" x2="486.5" y2="858.6" stroke="#12D428" stroke-width="6.9" stroke-linecap="round"/><line x1="486.5" y1="858.6" x2="484.8" y2="840.5" stroke="#12D428" stroke-width="6.9" stroke-linecap="round"/><line x1="484.8" y1="840.5" x2="483.1" y2="822.4" stroke="#12D428" stroke-width="6.9" stroke-linecap="round"/><line x1="483.1" y1="822.4" x2="483.5" y2="815.8" stroke="#12D428" stroke-width="6.9" stroke-linecap="round"/><line x1="483.5" y1="815.8" x2="483.9" y2="809.3" stroke="#2028DC" stroke-width="6.9" stroke-linecap="round"/><line x1="486.5" y1="858.6" x2="488.5" y2="860.5" stroke="#12D428" stroke-width="6.9" stroke-linecap="round"/><line x1="488.5" y1="860.5" x2="490.4" y2="862.4" stroke="#12D428" stroke-width="6.9" stroke-linecap="round"/><line x1="490.4" y1="862.4" x2="493.1" y2="855.9" stroke="#12D428" stroke-width="6.9" stroke-linecap="round"/><line x1="493.1" y1="855.9" x2="495.8" y2="849.3" stroke="#E8402E" stroke-width="6.9" stroke-linecap="round"/><line x1="490.4" y1="862.4" x2="489.6" y2="875.5" stroke="#12D428" stroke-width="6.9" stroke-linecap="round"/><line x1="489.6" y1="875.5" x2="488.8" y2="888.7" stroke="#F2545C" stroke-width="6.9" stroke-linecap="round"/><line x1="466.2" y1="849.3" x2="476.2" y2="853.6" stroke="#12D428" stroke-width="6.9" stroke-linecap="round"/><line x1="476.2" y1="853.6" x2="486.2" y2="857.8" stroke="#12D428" stroke-width="6.9" stroke-linecap="round"/><line x1="486.2" y1="857.8" x2="493.5" y2="867.1" stroke="#12D428" stroke-width="6.9" stroke-linecap="round"/><line x1="493.5" y1="867.1" x2="500.9" y2="876.3" stroke="#12D428" stroke-width="6.9" stroke-linecap="round"/><line x1="500.9" y1="876.3" x2="498.6" y2="880.9" stroke="#12D428" stroke-width="6.9" stroke-linecap="round"/><line x1="498.6" y1="880.9" x2="496.2" y2="885.6" stroke="#12D428" stroke-width="6.9" stroke-linecap="round"/><line x1="496.2" y1="885.6" x2="487.8" y2="881.3" stroke="#12D428" stroke-width="6.9" stroke-linecap="round"/><line x1="487.8" y1="881.3" x2="479.3" y2="877.1" stroke="#12D428" stroke-width="6.9" stroke-linecap="round"/><line x1="479.3" y1="877.1" x2="472.0" y2="868.6" stroke="#12D428" stroke-width="6.9" stroke-linecap="round"/><line x1="472.0" y1="868.6" x2="464.6" y2="860.1" stroke="#2028DC" stroke-width="6.9" stroke-linecap="round"/><line x1="464.6" y1="860.1" x2="465.4" y2="854.7" stroke="#2028DC" stroke-width="6.9" stroke-linecap="round"/><line x1="465.4" y1="854.7" x2="466.2" y2="849.3" stroke="#12D428" stroke-width="6.9" stroke-linecap="round"/><line x1="500.9" y1="876.3" x2="510.1" y2="879.4" stroke="#12D428" stroke-width="6.9" stroke-linecap="round"/><line x1="510.1" y1="879.4" x2="519.4" y2="882.5" stroke="#12D428" stroke-width="6.9" stroke-linecap="round"/><line x1="519.4" y1="882.5" x2="524.8" y2="878.2" stroke="#12D428" stroke-width="6.9" stroke-linecap="round"/><line x1="524.8" y1="878.2" x2="530.2" y2="874.0" stroke="#2028DC" stroke-width="6.9" stroke-linecap="round"/><line x1="530.2" y1="874.0" x2="540.2" y2="879.8" stroke="#2028DC" stroke-width="6.9" stroke-linecap="round"/><line x1="540.2" y1="879.8" x2="550.2" y2="885.6" stroke="#12D428" stroke-width="6.9" stroke-linecap="round"/><line x1="550.2" y1="885.6" x2="552.5" y2="897.1" stroke="#12D428" stroke-width="6.9" stroke-linecap="round"/><line x1="552.5" y1="897.1" x2="554.8" y2="908.7" stroke="#12D428" stroke-width="6.9" stroke-linecap="round"/><line x1="554.8" y1="908.7" x2="542.9" y2="910.6" stroke="#12D428" stroke-width="6.9" stroke-linecap="round"/><line x1="542.9" y1="910.6" x2="530.9" y2="912.5" stroke="#D6BC3A" stroke-width="6.9" stroke-linecap="round"/><line x1="530.9" y1="912.5" x2="525.1" y2="897.5" stroke="#D6BC3A" stroke-width="6.9" stroke-linecap="round"/><line x1="525.1" y1="897.5" x2="519.4" y2="882.5" stroke="#12D428" stroke-width="6.9" stroke-linecap="round"/><line x1="550.2" y1="885.6" x2="559.1" y2="877.1" stroke="#12D428" stroke-width="6.9" stroke-linecap="round"/><line x1="559.1" y1="877.1" x2="567.9" y2="868.6" stroke="#12D428" stroke-width="6.9" stroke-linecap="round"/><line x1="567.9" y1="868.6" x2="569.5" y2="859.0" stroke="#12D428" stroke-width="6.9" stroke-linecap="round"/><line x1="569.5" y1="859.0" x2="571.0" y2="849.3" stroke="#12D428" stroke-width="6.9" stroke-linecap="round"/><line x1="567.9" y1="868.6" x2="576.4" y2="878.6" stroke="#12D428" stroke-width="6.9" stroke-linecap="round"/><line x1="576.4" y1="878.6" x2="584.9" y2="888.7" stroke="#12D428" stroke-width="6.9" stroke-linecap="round"/><line x1="567.9" y1="868.6" x2="560.2" y2="870.9" stroke="#12D428" stroke-width="6.9" stroke-linecap="round"/><line x1="560.2" y1="870.9" x2="552.5" y2="873.2" stroke="#12D428" stroke-width="6.9" stroke-linecap="round"/><line x1="479.3" y1="877.1" x2="476.6" y2="880.6" stroke="#12D428" stroke-width="6.9" stroke-linecap="round"/><line x1="476.6" y1="880.6" x2="473.9" y2="884.0" stroke="#2028DC" stroke-width="6.9" stroke-linecap="round"/><line x1="473.9" y1="884.0" x2="478.9" y2="890.2" stroke="#2028DC" stroke-width="6.9" stroke-linecap="round"/><line x1="478.9" y1="890.2" x2="483.9" y2="896.4" stroke="#12D428" stroke-width="6.9" stroke-linecap="round"/><line x1="483.9" y1="896.4" x2="493.5" y2="900.6" stroke="#12D428" stroke-width="6.9" stroke-linecap="round"/><line x1="493.5" y1="900.6" x2="503.2" y2="904.8" stroke="#F2545C" stroke-width="6.9" stroke-linecap="round"/><line x1="483.9" y1="896.4" x2="480.4" y2="899.1" stroke="#12D428" stroke-width="6.9" stroke-linecap="round"/><line x1="480.4" y1="899.1" x2="477.0" y2="901.8" stroke="#2028DC" stroke-width="6.9" stroke-linecap="round"/><line x1="477.0" y1="901.8" x2="482.8" y2="907.5" stroke="#2028DC" stroke-width="6.9" stroke-linecap="round"/><line x1="482.8" y1="907.5" x2="488.5" y2="913.3" stroke="#12D428" stroke-width="6.9" stroke-linecap="round"/><line x1="483.0" y1="808.4" x2="485.1" y2="814.2" stroke="#4A5CF8" stroke-width="1.6" stroke-linecap="round" opacity="0.45"/><line x1="485.1" y1="814.2" x2="487.2" y2="820.0" stroke="#4CFF68" stroke-width="1.6" stroke-linecap="round" opacity="0.45"/><line x1="487.2" y1="820.0" x2="488.6" y2="835.4" stroke="#4CFF68" stroke-width="1.6" stroke-linecap="round" opacity="0.45"/><line x1="488.6" y1="835.4" x2="490.0" y2="850.8" stroke="#4CFF68" stroke-width="1.6" stroke-linecap="round" opacity="0.45"/><line x1="490.0" y1="850.8" x2="487.8" y2="854.2" stroke="#4CFF68" stroke-width="1.6" stroke-linecap="round" opacity="0.45"/><line x1="487.8" y1="854.2" x2="485.7" y2="857.7" stroke="#4CFF68" stroke-width="1.6" stroke-linecap="round" opacity="0.45"/><line x1="485.7" y1="857.7" x2="484.0" y2="839.6" stroke="#4CFF68" stroke-width="1.6" stroke-linecap="round" opacity="0.45"/><line x1="484.0" y1="839.6" x2="482.3" y2="821.5" stroke="#4CFF68" stroke-width="1.6" stroke-linecap="round" opacity="0.45"/><line x1="482.3" y1="821.5" x2="482.7" y2="814.9" stroke="#4CFF68" stroke-width="1.6" stroke-linecap="round" opacity="0.45"/><line x1="482.7" y1="814.9" x2="483.0" y2="808.4" stroke="#4A5CF8" stroke-width="1.6" stroke-linecap="round" opacity="0.45"/><line x1="485.7" y1="857.7" x2="487.6" y2="859.6" stroke="#4CFF68" stroke-width="1.6" stroke-linecap="round" opacity="0.45"/><line x1="487.6" y1="859.6" x2="489.5" y2="861.6" stroke="#4CFF68" stroke-width="1.6" stroke-linecap="round" opacity="0.45"/><line x1="489.5" y1="861.6" x2="492.2" y2="855.0" stroke="#4CFF68" stroke-width="1.6" stroke-linecap="round" opacity="0.45"/><line x1="492.2" y1="855.0" x2="494.9" y2="848.5" stroke="#FF7A66" stroke-width="1.6" stroke-linecap="round" opacity="0.45"/><line x1="489.5" y1="861.6" x2="488.7" y2="874.7" stroke="#4CFF68" stroke-width="1.6" stroke-linecap="round" opacity="0.45"/><line x1="488.7" y1="874.7" x2="488.0" y2="887.8" stroke="#FF9AA0" stroke-width="1.6" stroke-linecap="round" opacity="0.45"/><line x1="465.3" y1="848.5" x2="475.3" y2="852.7" stroke="#4CFF68" stroke-width="1.6" stroke-linecap="round" opacity="0.45"/><line x1="475.3" y1="852.7" x2="485.3" y2="856.9" stroke="#4CFF68" stroke-width="1.6" stroke-linecap="round" opacity="0.45"/><line x1="485.3" y1="856.9" x2="492.7" y2="866.2" stroke="#4CFF68" stroke-width="1.6" stroke-linecap="round" opacity="0.45"/><line x1="492.7" y1="866.2" x2="500.0" y2="875.4" stroke="#4CFF68" stroke-width="1.6" stroke-linecap="round" opacity="0.45"/><line x1="500.0" y1="875.4" x2="497.7" y2="880.1" stroke="#4CFF68" stroke-width="1.6" stroke-linecap="round" opacity="0.45"/><line x1="497.7" y1="880.1" x2="495.4" y2="884.7" stroke="#4CFF68" stroke-width="1.6" stroke-linecap="round" opacity="0.45"/><line x1="495.4" y1="884.7" x2="486.9" y2="880.5" stroke="#4CFF68" stroke-width="1.6" stroke-linecap="round" opacity="0.45"/><line x1="486.9" y1="880.5" x2="478.4" y2="876.2" stroke="#4CFF68" stroke-width="1.6" stroke-linecap="round" opacity="0.45"/><line x1="478.4" y1="876.2" x2="471.1" y2="867.7" stroke="#4CFF68" stroke-width="1.6" stroke-linecap="round" opacity="0.45"/><line x1="471.1" y1="867.7" x2="463.8" y2="859.3" stroke="#4A5CF8" stroke-width="1.6" stroke-linecap="round" opacity="0.45"/><line x1="463.8" y1="859.3" x2="464.5" y2="853.9" stroke="#4A5CF8" stroke-width="1.6" stroke-linecap="round" opacity="0.45"/><line x1="464.5" y1="853.9" x2="465.3" y2="848.5" stroke="#4CFF68" stroke-width="1.6" stroke-linecap="round" opacity="0.45"/><line x1="500.0" y1="875.4" x2="509.2" y2="878.5" stroke="#4CFF68" stroke-width="1.6" stroke-linecap="round" opacity="0.45"/><line x1="509.2" y1="878.5" x2="518.5" y2="881.6" stroke="#4CFF68" stroke-width="1.6" stroke-linecap="round" opacity="0.45"/><line x1="518.5" y1="881.6" x2="523.9" y2="877.4" stroke="#4CFF68" stroke-width="1.6" stroke-linecap="round" opacity="0.45"/><line x1="523.9" y1="877.4" x2="529.3" y2="873.1" stroke="#4A5CF8" stroke-width="1.6" stroke-linecap="round" opacity="0.45"/><line x1="529.3" y1="873.1" x2="539.3" y2="878.9" stroke="#4A5CF8" stroke-width="1.6" stroke-linecap="round" opacity="0.45"/><line x1="539.3" y1="878.9" x2="549.3" y2="884.7" stroke="#4CFF68" stroke-width="1.6" stroke-linecap="round" opacity="0.45"/><line x1="549.3" y1="884.7" x2="551.6" y2="896.3" stroke="#4CFF68" stroke-width="1.6" stroke-linecap="round" opacity="0.45"/><line x1="551.6" y1="896.3" x2="553.9" y2="907.8" stroke="#4CFF68" stroke-width="1.6" stroke-linecap="round" opacity="0.45"/><line x1="553.9" y1="907.8" x2="542.0" y2="909.7" stroke="#4CFF68" stroke-width="1.6" stroke-linecap="round" opacity="0.45"/><line x1="542.0" y1="909.7" x2="530.0" y2="911.7" stroke="#F4E27A" stroke-width="1.6" stroke-linecap="round" opacity="0.45"/><line x1="530.0" y1="911.7" x2="524.3" y2="896.6" stroke="#F4E27A" stroke-width="1.6" stroke-linecap="round" opacity="0.45"/><line x1="524.3" y1="896.6" x2="518.5" y2="881.6" stroke="#4CFF68" stroke-width="1.6" stroke-linecap="round" opacity="0.45"/><line x1="549.3" y1="884.7" x2="558.2" y2="876.2" stroke="#4CFF68" stroke-width="1.6" stroke-linecap="round" opacity="0.45"/><line x1="558.2" y1="876.2" x2="567.0" y2="867.7" stroke="#4CFF68" stroke-width="1.6" stroke-linecap="round" opacity="0.45"/><line x1="567.0" y1="867.7" x2="568.6" y2="858.1" stroke="#4CFF68" stroke-width="1.6" stroke-linecap="round" opacity="0.45"/><line x1="568.6" y1="858.1" x2="570.1" y2="848.5" stroke="#4CFF68" stroke-width="1.6" stroke-linecap="round" opacity="0.45"/><line x1="567.0" y1="867.7" x2="575.5" y2="877.8" stroke="#4CFF68" stroke-width="1.6" stroke-linecap="round" opacity="0.45"/><line x1="575.5" y1="877.8" x2="584.0" y2="887.8" stroke="#4CFF68" stroke-width="1.6" stroke-linecap="round" opacity="0.45"/><line x1="567.0" y1="867.7" x2="559.3" y2="870.0" stroke="#4CFF68" stroke-width="1.6" stroke-linecap="round" opacity="0.45"/><line x1="559.3" y1="870.0" x2="551.6" y2="872.4" stroke="#4CFF68" stroke-width="1.6" stroke-linecap="round" opacity="0.45"/><line x1="478.4" y1="876.2" x2="475.7" y2="879.7" stroke="#4CFF68" stroke-width="1.6" stroke-linecap="round" opacity="0.45"/><line x1="475.7" y1="879.7" x2="473.0" y2="883.2" stroke="#4A5CF8" stroke-width="1.6" stroke-linecap="round" opacity="0.45"/><line x1="473.0" y1="883.2" x2="478.0" y2="889.3" stroke="#4A5CF8" stroke-width="1.6" stroke-linecap="round" opacity="0.45"/><line x1="478.0" y1="889.3" x2="483.0" y2="895.5" stroke="#4CFF68" stroke-width="1.6" stroke-linecap="round" opacity="0.45"/><line x1="483.0" y1="895.5" x2="492.7" y2="899.7" stroke="#4CFF68" stroke-width="1.6" stroke-linecap="round" opacity="0.45"/><line x1="492.7" y1="899.7" x2="502.3" y2="904.0" stroke="#FF9AA0" stroke-width="1.6" stroke-linecap="round" opacity="0.45"/><line x1="483.0" y1="895.5" x2="479.6" y2="898.2" stroke="#4CFF68" stroke-width="1.6" stroke-linecap="round" opacity="0.45"/><line x1="479.6" y1="898.2" x2="476.1" y2="900.9" stroke="#4A5CF8" stroke-width="1.6" stroke-linecap="round" opacity="0.45"/><line x1="476.1" y1="900.9" x2="481.9" y2="906.7" stroke="#4A5CF8" stroke-width="1.6" stroke-linecap="round" opacity="0.45"/><line x1="481.9" y1="906.7" x2="487.7" y2="912.4" stroke="#4CFF68" stroke-width="1.6" stroke-linecap="round" opacity="0.45"/><circle cx="571.0" cy="849.3" r="13.0" fill="url(#gF)"/><circle cx="584.9" cy="888.7" r="13.2" fill="url(#gF)"/><circle cx="552.5" cy="873.2" r="13.2" fill="url(#gF)"/></g></g>
<circle cx="483.6" cy="636.7" r="17.5" fill="#FF00F6"/>
<text font-family="'Liberation Sans', Arial, sans-serif" font-size="24.44" fill="#000" stroke="#000" stroke-width="1.14" stroke-linejoin="round" transform="translate(517.36 640.33) scale(0.7474 1)" xml:space="preserve">F</text>
<text font-family="'Liberation Sans', Arial, sans-serif" font-size="25.23" fill="#000" stroke="#000" stroke-width="0.50" stroke-linejoin="round" transform="translate(536.41 640.70) scale(1.0465 1)" xml:space="preserve">atom</text>
<text font-family="'Liberation Sans', Arial, sans-serif" font-size="24.53" fill="#000" stroke="#000" stroke-width="0.33" stroke-linejoin="round" transform="translate(305.14 715.44) scale(0.9880 1)" xml:space="preserve"><tspan font-weight="bold">2</tspan></text>
<text font-family="'Liberation Sans', Arial, sans-serif" font-size="24.29" fill="#000" stroke="#000" stroke-width="0.50" stroke-linejoin="round" transform="translate(410.70 744.75) scale(1.0344 1)" xml:space="preserve">Compete</text>
<text font-family="'Liberation Sans', Arial, sans-serif" font-size="23.92" fill="#000" stroke="#000" stroke-width="0.50" stroke-linejoin="round" transform="translate(521.58 744.81) scale(1.1183 1)" xml:space="preserve">with</text>
<text font-family="'Liberation Sans', Arial, sans-serif" font-size="23.78" fill="#000" stroke="#000" stroke-width="0.59" stroke-linejoin="round" transform="translate(577.02 745.00) scale(0.9602 1)" xml:space="preserve"><tspan font-weight="bold">1</tspan></text>
<path d="M347.3 768.5 H567.5 V757.6 L590.3 780 L567.5 802.6 V791.4 H347.3 Z" fill="#fff" stroke="#3a3a3a" stroke-width="1.3" stroke-linejoin="miter"/>
<path d="M391.9 713 C393 735 402 752 418 762.5 C432 771 447 768.5 461.5 772.3 C480 777.5 496 795 502.8 819" fill="none" stroke="#000" stroke-width="4" stroke-linecap="butt"/>
<path d="M493.4 808.0 L503.3 822.4 L511.7 806.6" fill="none" stroke="#000" stroke-width="4" stroke-linecap="butt" stroke-linejoin="miter"/>
<text font-family="'Liberation Sans', Arial, sans-serif" font-size="23.09" fill="#000" stroke="#000" stroke-width="0.30" stroke-linejoin="round" transform="translate(447.12 835.88) scale(1.0748 1)" xml:space="preserve"><tspan font-weight="bold">A</tspan></text>
<text font-family="'Liberation Sans', Arial, sans-serif" font-size="23.78" fill="#000" stroke="#000" stroke-width="0.39" stroke-linejoin="round" transform="translate(527.32 844.00) scale(0.9595 1)" xml:space="preserve"><tspan font-weight="bold">1</tspan></text>
<text font-family="'Liberation Sans', Arial, sans-serif" font-size="27.58" fill="#000" stroke="#000" stroke-width="0.57" stroke-linejoin="round" transform="translate(124.03 828.71) scale(0.9735 1)" xml:space="preserve">1</text>
<text font-family="'Liberation Sans', Arial, sans-serif" font-size="22.29" fill="#000" stroke="#000" stroke-width="0.50" stroke-linejoin="round" transform="translate(183.87 838.43) scale(1.1372 1)" xml:space="preserve">eParE-1</text>
<text font-family="'Liberation Sans', Arial, sans-serif" font-size="25.64" fill="#000" stroke="#000" stroke-width="0.50" stroke-linejoin="round" transform="translate(285.77 837.67) scale(1.0720 1)" xml:space="preserve">complex</text>
<text font-family="'Liberation Sans', Arial, sans-serif" font-size="27.05" fill="#000" stroke="#000" stroke-width="0.70" stroke-linejoin="round" transform="translate(772.86 1006.78) scale(0.9361 1)" xml:space="preserve">2-eParE</text>
<text font-family="'Liberation Sans', Arial, sans-serif" font-size="26.06" fill="#000" stroke="#000" stroke-width="0.50" stroke-linejoin="round" transform="translate(873.96 1006.28) scale(1.0639 1)" xml:space="preserve">complex</text>
<text font-family="'Liberation Sans', Arial, sans-serif" font-size="16.06" fill="#000" stroke="#000" stroke-width="0.30" stroke-linejoin="round" transform="translate(440.16 995.09) scale(1.1849 1)" xml:space="preserve">19</text>
<text font-family="'Liberation Sans', Arial, sans-serif" font-size="25.67" fill="#000" stroke="#000" stroke-width="0.59" stroke-linejoin="round" transform="translate(461.00 1004.01) scale(0.9646 1)" xml:space="preserve">F</text>
<text font-family="'Liberation Sans', Arial, sans-serif" font-size="27.45" fill="#000" stroke="#000" stroke-width="0.50" stroke-linejoin="round" transform="translate(480.86 1003.99) scale(1.0342 1)" xml:space="preserve">(ppm)</text>
<text font-family="'Liberation Sans', Arial, sans-serif" font-size="44.35" fill="#000" stroke="#000" stroke-width="1.21" stroke-linejoin="round" transform="translate(35.99 480.08) scale(0.9317 1)" xml:space="preserve">(c)</text>
</g>
</svg>
</body></html>
